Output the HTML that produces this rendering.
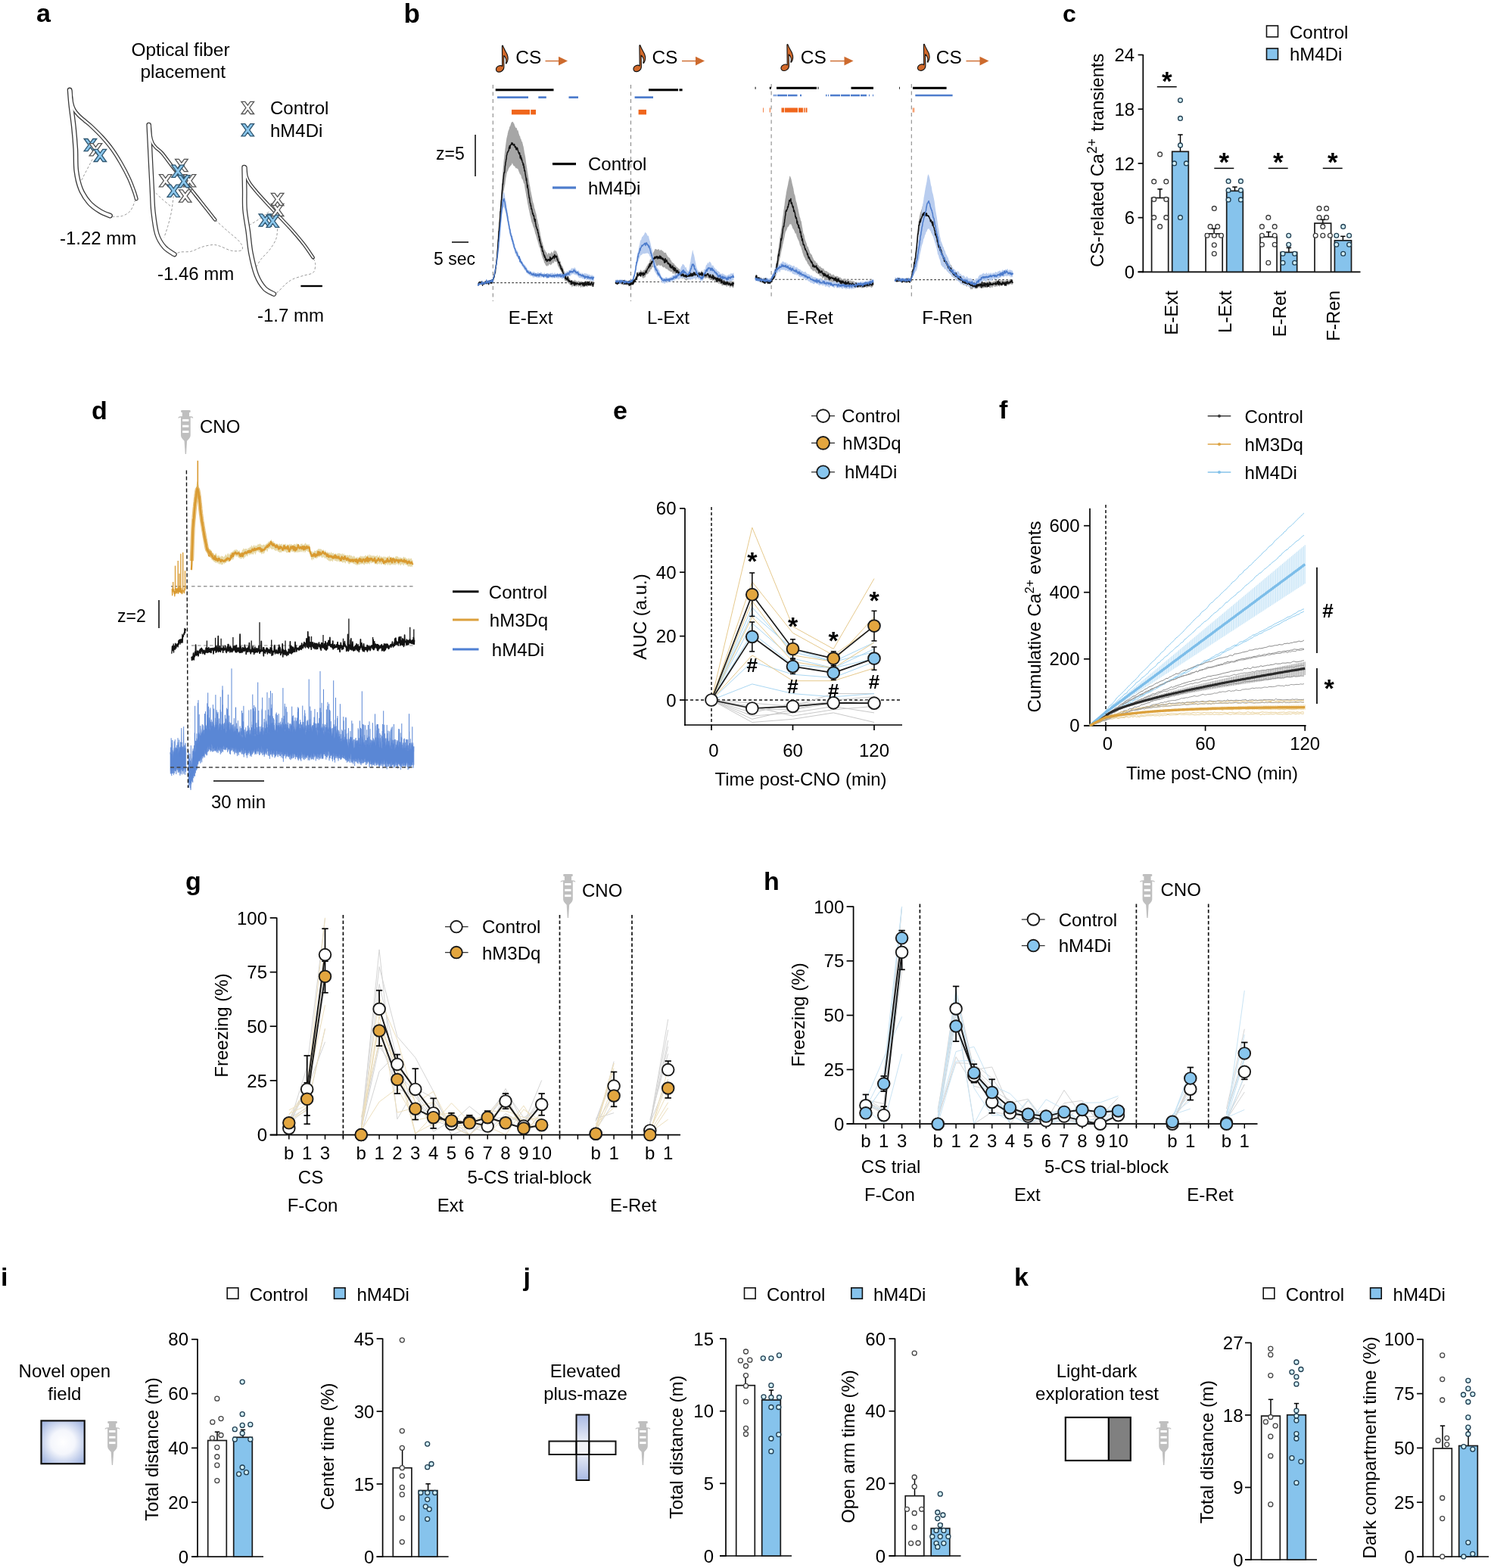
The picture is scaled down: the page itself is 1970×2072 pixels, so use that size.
<!DOCTYPE html>
<html><head><meta charset="utf-8"><title>Figure</title>
<style>
html,body{margin:0;padding:0;background:#fff;}
body{width:1970px;height:2072px;overflow:hidden;}
svg{display:block;}
</style></head><body>
<svg width="1970" height="2072" viewBox="0 0 1970 2072" font-family='"Liberation Sans", Arial, sans-serif'>
<rect width="1970" height="2072" fill="#fff"/>
<g id="panel_a">
<text x="48" y="29" font-size="34" font-weight="bold">a</text>
<text x="238.5" y="74.3" font-size="24.4" text-anchor="middle">Optical fiber</text>
<text x="241.8" y="103.4" font-size="24.4" text-anchor="middle">placement</text>
<path d="M107.7 238.1 C110.1 233.4 119.8 214.8 122.2 210.2" fill="none" stroke="#9a9a9a" stroke-width="1" stroke-dasharray="3.2 2.4"/>
<path d="M148.2 286.3 C150.4 286.1 157.7 286.6 161.7 285.3 C165.7 284 169.4 282 172.3 278.5 C175.2 275 177.9 266.5 179 264.1" fill="none" stroke="#9a9a9a" stroke-width="1" stroke-dasharray="3.2 2.4"/>
<path d="M92.1 119 C92.4 122.3 92.9 130.8 93.8 138.9 C94.7 147 96.4 158.2 97.4 167.8 C98.4 177.4 99.2 187.1 99.8 196.7 C100.4 206.3 99.7 216.8 100.8 225.6 C101.9 234.4 103.7 242.6 106.6 249.7 C109.5 256.8 113.7 263.1 118 268 C122.3 272.9 127.9 276.5 132.5 279.3 C137.1 282.1 143.3 284.1 145.5 285" fill="none" stroke="#3a3a3a" stroke-width="6.8" stroke-linecap="round" stroke-linejoin="round"/>
<path d="M93 119.5 C93.3 122.1 93.8 130.8 94.6 135 C95.4 139.2 96.4 142.1 98 145 C99.6 147.9 101.7 150.1 104 152.5 C106.3 154.9 109.3 157.2 112 159.5 C114.7 161.8 116.5 162.9 120.3 166.5 C124.1 170.1 130 175.7 134.7 180.8 C139.3 185.9 144 191.4 148.2 197.2 C152.4 203 156.1 209.1 159.8 215.5 C163.5 221.9 167.4 229.3 170.3 235.5 C173.2 241.7 175.4 248 177.1 252.6 C178.8 257.1 179.7 261.1 180.2 262.8" fill="none" stroke="#3a3a3a" stroke-width="5" stroke-linecap="round" stroke-linejoin="round"/>
<path d="M92.1 119 C92.4 122.3 92.9 130.8 93.8 138.9 C94.7 147 96.4 158.2 97.4 167.8 C98.4 177.4 99.2 187.1 99.8 196.7 C100.4 206.3 99.7 216.8 100.8 225.6 C101.9 234.4 103.7 242.6 106.6 249.7 C109.5 256.8 113.7 263.1 118 268 C122.3 272.9 127.9 276.5 132.5 279.3 C137.1 282.1 143.3 284.1 145.5 285" fill="none" stroke="#fff" stroke-width="4.2" stroke-linecap="round" stroke-linejoin="round"/>
<path d="M93 119.5 C93.3 122.1 93.8 130.8 94.6 135 C95.4 139.2 96.4 142.1 98 145 C99.6 147.9 101.7 150.1 104 152.5 C106.3 154.9 109.3 157.2 112 159.5 C114.7 161.8 116.5 162.9 120.3 166.5 C124.1 170.1 130 175.7 134.7 180.8 C139.3 185.9 144 191.4 148.2 197.2 C152.4 203 156.1 209.1 159.8 215.5 C163.5 221.9 167.4 229.3 170.3 235.5 C173.2 241.7 175.4 248 177.1 252.6 C178.8 257.1 179.7 261.1 180.2 262.8" fill="none" stroke="#fff" stroke-width="2.5" stroke-linecap="round" stroke-linejoin="round"/>
<path d="M205.8 255.1 C207.2 256.4 210.6 259.9 213.9 262.8 C217.2 265.7 223.5 270.9 225.4 272.5" fill="none" stroke="#9a9a9a" stroke-width="1" stroke-dasharray="3.2 2.4"/>
<path d="M229.3 259 C228.8 262.5 227.7 273.5 226.4 280.2 C225.1 286.9 223.2 293.8 221.6 299.4 C220 305 217.6 311.5 216.8 313.9" fill="none" stroke="#9a9a9a" stroke-width="1" stroke-dasharray="3.2 2.4"/>
<path d="M284.7 290.8 C287.3 293.2 295.4 300.7 300.5 305.2 C305.6 309.7 311.7 314.2 315 317.7 C318.3 321.2 319.8 324.1 320.3 326.4 C320.8 328.6 320.4 330.4 317.9 331.2 C315.4 332 309.9 332.2 305.4 331.2 C300.9 330.2 294.9 326.7 290.9 325.4 C286.9 324.1 285.3 323.3 281.3 323.5 C277.3 323.7 271.6 324.9 266.8 326.4 C262 327.8 257.2 331.1 252.4 332.2 C247.6 333.3 241.5 332.4 238 333.1 C234.5 333.8 232.3 335.9 231.2 336.5" fill="none" stroke="#9a9a9a" stroke-width="1" stroke-dasharray="3.2 2.4"/>
<path d="M196.6 165 C196.8 169.8 197.5 183.9 198 193.5 C198.5 203.1 198.9 212.8 199.4 222.4 C199.9 232 200.4 241.7 200.9 251.3 C201.4 260.9 201.4 270.6 202.5 280.2 C203.6 289.8 204.9 301.4 207.3 309.1 C209.7 316.8 213.1 321.9 217 326.4 C220.9 330.9 228.2 334.6 230.5 336.2" fill="none" stroke="#3a3a3a" stroke-width="6.5" stroke-linecap="round" stroke-linejoin="round"/>
<path d="M197.7 165.5 C197.9 167.9 198.3 176.1 198.9 180 C199.5 183.9 200.3 186.5 201.5 189 C202.7 191.5 203.9 192.8 206 195 C208.1 197.2 210.4 198 214.2 202.3 C217.9 206.6 223.7 214.9 228.5 221 C233.3 227.1 238.2 232.9 243 238.8 C247.8 244.7 252.6 250.5 257.4 256.5 C262.2 262.5 267.2 269 271.7 274.6 C276.2 280.2 282.1 287.8 284.2 290.4" fill="none" stroke="#3a3a3a" stroke-width="4.5" stroke-linecap="round" stroke-linejoin="round"/>
<path d="M196.6 165 C196.8 169.8 197.5 183.9 198 193.5 C198.5 203.1 198.9 212.8 199.4 222.4 C199.9 232 200.4 241.7 200.9 251.3 C201.4 260.9 201.4 270.6 202.5 280.2 C203.6 289.8 204.9 301.4 207.3 309.1 C209.7 316.8 213.1 321.9 217 326.4 C220.9 330.9 228.2 334.6 230.5 336.2" fill="none" stroke="#fff" stroke-width="4" stroke-linecap="round" stroke-linejoin="round"/>
<path d="M197.7 165.5 C197.9 167.9 198.3 176.1 198.9 180 C199.5 183.9 200.3 186.5 201.5 189 C202.7 191.5 203.9 192.8 206 195 C208.1 197.2 210.4 198 214.2 202.3 C217.9 206.6 223.7 214.9 228.5 221 C233.3 227.1 238.2 232.9 243 238.8 C247.8 244.7 252.6 250.5 257.4 256.5 C262.2 262.5 267.2 269 271.7 274.6 C276.2 280.2 282.1 287.8 284.2 290.4" fill="none" stroke="#fff" stroke-width="2" stroke-linecap="round" stroke-linejoin="round"/>
<path d="M329.1 297.6 C330.7 296.7 335.5 294 338.7 291.9 C341.9 289.8 345.4 287.2 348.3 285.1 C351.2 283 354.7 280.3 356 279.3" fill="none" stroke="#9a9a9a" stroke-width="1" stroke-dasharray="3.2 2.4"/>
<path d="M366.6 302.4 C366.3 304.6 366.5 311.2 364.7 315.9 C362.9 320.6 359.2 326.1 356 330.4 C352.8 334.7 348.3 338.2 345.4 341.9 C342.5 345.6 339.8 350.7 338.7 352.5" fill="none" stroke="#9a9a9a" stroke-width="1" stroke-dasharray="3.2 2.4"/>
<path d="M414.3 341.9 C414.7 343.2 416.8 346.6 416.7 349.6 C416.6 352.7 416.4 357.8 413.8 360.2 C411.2 362.6 405.8 362.7 401.3 364.1 C396.8 365.6 390.9 367 386.9 368.9 C382.9 370.8 380.4 372.9 377.2 375.6 C374 378.3 370.3 383.1 367.6 385.3 C364.9 387.6 362 388.5 360.9 389.1" fill="none" stroke="#9a9a9a" stroke-width="1" stroke-dasharray="3.2 2.4"/>
<path d="M322.6 221 C322.7 225.8 323 240.2 323.2 249.6 C323.4 259 322.8 268 323.6 277.4 C324.4 286.8 326.5 296.4 327.8 306 C329.1 315.6 329.6 325.4 331.5 335 C333.4 344.6 335.9 355.8 338.9 363.5 C341.9 371.2 345.7 376.8 349.5 381 C353.3 385.2 359.8 387.2 361.8 388.5" fill="none" stroke="#3a3a3a" stroke-width="6.7" stroke-linecap="round" stroke-linejoin="round"/>
<path d="M324.4 221 C324.6 223 324.6 229.4 325.6 233 C326.6 236.6 327.7 238.8 330.2 242.5 C332.7 246.2 336.5 250.5 340.6 255.3 C344.8 260.1 350.1 265.8 355.1 271.2 C360.1 276.6 365.2 282.1 370.5 287.8 C375.8 293.5 381.8 299.6 386.9 305.4 C392 311.2 396.9 316.9 401.3 322.7 C405.8 328.5 411.6 337.4 413.6 340.3" fill="none" stroke="#3a3a3a" stroke-width="4.5" stroke-linecap="round" stroke-linejoin="round"/>
<path d="M322.6 221 C322.7 225.8 323 240.2 323.2 249.6 C323.4 259 322.8 268 323.6 277.4 C324.4 286.8 326.5 296.4 327.8 306 C329.1 315.6 329.6 325.4 331.5 335 C333.4 344.6 335.9 355.8 338.9 363.5 C341.9 371.2 345.7 376.8 349.5 381 C353.3 385.2 359.8 387.2 361.8 388.5" fill="none" stroke="#fff" stroke-width="4.2" stroke-linecap="round" stroke-linejoin="round"/>
<path d="M324.4 221 C324.6 223 324.6 229.4 325.6 233 C326.6 236.6 327.7 238.8 330.2 242.5 C332.7 246.2 336.5 250.5 340.6 255.3 C344.8 260.1 350.1 265.8 355.1 271.2 C360.1 276.6 365.2 282.1 370.5 287.8 C375.8 293.5 381.8 299.6 386.9 305.4 C392 311.2 396.9 316.9 401.3 322.7 C405.8 328.5 411.6 337.4 413.6 340.3" fill="none" stroke="#fff" stroke-width="2" stroke-linecap="round" stroke-linejoin="round"/>
<path d="M111.1 183.5 L115.9 183.5 L119.4 188.3 L122.9 183.5 L127.7 183.5 L121.8 191.6 L127.7 199.7 L122.9 199.7 L119.4 194.9 L115.9 199.7 L111.1 199.7 L117 191.6Z" fill="#8cc8ee" stroke="#2f5670" stroke-width="1.3" stroke-linejoin="miter"/>
<path d="M118.1 189.7 L122.9 189.7 L126.4 194.5 L129.9 189.7 L134.7 189.7 L128.8 197.8 L134.7 205.9 L129.9 205.9 L126.4 201.1 L122.9 205.9 L118.1 205.9 L124 197.8Z" fill="#fff" stroke="#555" stroke-width="1.3" stroke-linejoin="miter"/>
<path d="M124 197.3 L128.8 197.3 L132.3 202.1 L135.8 197.3 L140.6 197.3 L134.7 205.4 L140.6 213.5 L135.8 213.5 L132.3 208.7 L128.8 213.5 L124 213.5 L129.9 205.4Z" fill="#8cc8ee" stroke="#2f5670" stroke-width="1.3" stroke-linejoin="miter"/>
<path d="M210.4 230.7 L215.2 230.7 L218.7 235.5 L222.2 230.7 L227 230.7 L221.1 238.8 L227 246.9 L222.2 246.9 L218.7 242.1 L215.2 246.9 L210.4 246.9 L216.3 238.8Z" fill="#fff" stroke="#555" stroke-width="1.3" stroke-linejoin="miter"/>
<path d="M231.6 210.4 L236.4 210.4 L239.9 215.2 L243.4 210.4 L248.2 210.4 L242.3 218.5 L248.2 226.6 L243.4 226.6 L239.9 221.8 L236.4 226.6 L231.6 226.6 L237.5 218.5Z" fill="#fff" stroke="#555" stroke-width="1.3" stroke-linejoin="miter"/>
<path d="M242.2 230.7 L247 230.7 L250.5 235.5 L254 230.7 L258.8 230.7 L252.9 238.8 L258.8 246.9 L254 246.9 L250.5 242.1 L247 246.9 L242.2 246.9 L248.1 238.8Z" fill="#fff" stroke="#555" stroke-width="1.3" stroke-linejoin="miter"/>
<path d="M226.7 218.2 L231.5 218.2 L235 223 L238.5 218.2 L243.3 218.2 L237.4 226.3 L243.3 234.4 L238.5 234.4 L235 229.6 L231.5 234.4 L226.7 234.4 L232.6 226.3Z" fill="#8cc8ee" stroke="#2f5670" stroke-width="1.3" stroke-linejoin="miter"/>
<path d="M234.5 231.6 L239.3 231.6 L242.8 236.4 L246.3 231.6 L251.1 231.6 L245.2 239.7 L251.1 247.8 L246.3 247.8 L242.8 243 L239.3 247.8 L234.5 247.8 L240.4 239.7Z" fill="#8cc8ee" stroke="#2f5670" stroke-width="1.3" stroke-linejoin="miter"/>
<path d="M221 244.1 L225.8 244.1 L229.3 248.9 L232.8 244.1 L237.6 244.1 L231.7 252.2 L237.6 260.3 L232.8 260.3 L229.3 255.5 L225.8 260.3 L221 260.3 L226.9 252.2Z" fill="#8cc8ee" stroke="#2f5670" stroke-width="1.3" stroke-linejoin="miter"/>
<path d="M236.4 250.9 L241.2 250.9 L244.7 255.7 L248.2 250.9 L253 250.9 L247.1 259 L253 267.1 L248.2 267.1 L244.7 262.3 L241.2 267.1 L236.4 267.1 L242.3 259Z" fill="#fff" stroke="#555" stroke-width="1.3" stroke-linejoin="miter"/>
<path d="M358.3 269.3 L363.1 269.3 L366.6 274.1 L370.1 269.3 L374.9 269.3 L369 277.4 L374.9 285.5 L370.1 285.5 L366.6 280.7 L363.1 285.5 L358.3 285.5 L364.2 277.4Z" fill="#fff" stroke="#555" stroke-width="1.3" stroke-linejoin="miter"/>
<path d="M358.3 255.3 L363.1 255.3 L366.6 260.1 L370.1 255.3 L374.9 255.3 L369 263.4 L374.9 271.5 L370.1 271.5 L366.6 266.7 L363.1 271.5 L358.3 271.5 L364.2 263.4Z" fill="#fff" stroke="#555" stroke-width="1.3" stroke-linejoin="miter"/>
<path d="M342 282.8 L346.8 282.8 L350.3 287.6 L353.8 282.8 L358.6 282.8 L352.7 290.9 L358.6 299 L353.8 299 L350.3 294.2 L346.8 299 L342 299 L347.9 290.9Z" fill="#8cc8ee" stroke="#2f5670" stroke-width="1.3" stroke-linejoin="miter"/>
<path d="M352.1 284.2 L356.9 284.2 L360.4 289 L363.9 284.2 L368.7 284.2 L362.8 292.3 L368.7 300.4 L363.9 300.4 L360.4 295.6 L356.9 300.4 L352.1 300.4 L358 292.3Z" fill="#8cc8ee" stroke="#2f5670" stroke-width="1.3" stroke-linejoin="miter"/>
<path d="M319 134.3 L323.8 134.3 L327.3 139.1 L330.8 134.3 L335.6 134.3 L329.7 142.4 L335.6 150.5 L330.8 150.5 L327.3 145.7 L323.8 150.5 L319 150.5 L324.9 142.4Z" fill="#fff" stroke="#555" stroke-width="1.3" stroke-linejoin="miter"/>
<path d="M319 163.7 L323.8 163.7 L327.3 168.5 L330.8 163.7 L335.6 163.7 L329.7 171.8 L335.6 179.9 L330.8 179.9 L327.3 175.1 L323.8 179.9 L319 179.9 L324.9 171.8Z" fill="#8cc8ee" stroke="#2f5670" stroke-width="1.3" stroke-linejoin="miter"/>
<text x="357" y="150.5" font-size="24">Control</text>
<text x="357" y="180.5" font-size="24">hM4Di</text>
<text x="79" y="323" font-size="24">-1.22 mm</text>
<text x="208" y="370" font-size="24">-1.46 mm</text>
<text x="340" y="425" font-size="24">-1.7 mm</text>
<line x1="397.4" y1="378" x2="425.9" y2="378" stroke="#000" stroke-width="2.4"/>
</g>
<g id="panel_b">
<text x="533.5" y="30" font-size="35" font-weight="bold">b</text>
<path transform="translate(655 59)" d="M9.3 1.2 C9.0 1.0 8.3 1.2 8.4 2.2 L8.7 28.5 C7.6 27.6 5.6 27.4 3.6 28.3 C0.8 29.6 -0.3 32.3 0.9 34.4 C2.1 36.5 5.4 36.7 8.0 35.0 C10.0 33.7 10.9 31.8 10.9 29.5 L10.6 14.5 C11.6 15.2 13.0 17.0 13.6 19.2 C14.2 21.4 13.7 23.4 13.3 24.6 C13.4 25.0 13.9 25.0 14.2 24.6 C16.4 21.2 16.6 16.8 15.2 13.2 C13.8 9.8 11.2 6.5 9.3 1.2 Z" fill="#d2692a" stroke="#111" stroke-width="1.1" stroke-linejoin="round"/>
<text x="681.3" y="84.3" font-size="24.5">CS</text>
<line x1="720.5" y1="80.6" x2="739" y2="80.6" stroke="#cd6a2d" stroke-width="1.4"/>
<path d="M738 74.8 L750 80.6 L738 86.4 Z" fill="#cd6a2d"/>
<path transform="translate(836.5 58.5)" d="M9.3 1.2 C9.0 1.0 8.3 1.2 8.4 2.2 L8.7 28.5 C7.6 27.6 5.6 27.4 3.6 28.3 C0.8 29.6 -0.3 32.3 0.9 34.4 C2.1 36.5 5.4 36.7 8.0 35.0 C10.0 33.7 10.9 31.8 10.9 29.5 L10.6 14.5 C11.6 15.2 13.0 17.0 13.6 19.2 C14.2 21.4 13.7 23.4 13.3 24.6 C13.4 25.0 13.9 25.0 14.2 24.6 C16.4 21.2 16.6 16.8 15.2 13.2 C13.8 9.8 11.2 6.5 9.3 1.2 Z" fill="#d2692a" stroke="#111" stroke-width="1.1" stroke-linejoin="round"/>
<text x="861.4" y="84.3" font-size="24.5">CS</text>
<line x1="901" y1="80.6" x2="920" y2="80.6" stroke="#cd6a2d" stroke-width="1.4"/>
<path d="M919 74.8 L931 80.6 L919 86.4 Z" fill="#cd6a2d"/>
<path transform="translate(1031.5 57.4)" d="M9.3 1.2 C9.0 1.0 8.3 1.2 8.4 2.2 L8.7 28.5 C7.6 27.6 5.6 27.4 3.6 28.3 C0.8 29.6 -0.3 32.3 0.9 34.4 C2.1 36.5 5.4 36.7 8.0 35.0 C10.0 33.7 10.9 31.8 10.9 29.5 L10.6 14.5 C11.6 15.2 13.0 17.0 13.6 19.2 C14.2 21.4 13.7 23.4 13.3 24.6 C13.4 25.0 13.9 25.0 14.2 24.6 C16.4 21.2 16.6 16.8 15.2 13.2 C13.8 9.8 11.2 6.5 9.3 1.2 Z" fill="#d2692a" stroke="#111" stroke-width="1.1" stroke-linejoin="round"/>
<text x="1057.8" y="84.3" font-size="24.5">CS</text>
<line x1="1097" y1="80.6" x2="1116.5" y2="80.6" stroke="#cd6a2d" stroke-width="1.4"/>
<path d="M1115.5 74.8 L1127.5 80.6 L1115.5 86.4 Z" fill="#cd6a2d"/>
<path transform="translate(1212 57.2)" d="M9.3 1.2 C9.0 1.0 8.3 1.2 8.4 2.2 L8.7 28.5 C7.6 27.6 5.6 27.4 3.6 28.3 C0.8 29.6 -0.3 32.3 0.9 34.4 C2.1 36.5 5.4 36.7 8.0 35.0 C10.0 33.7 10.9 31.8 10.9 29.5 L10.6 14.5 C11.6 15.2 13.0 17.0 13.6 19.2 C14.2 21.4 13.7 23.4 13.3 24.6 C13.4 25.0 13.9 25.0 14.2 24.6 C16.4 21.2 16.6 16.8 15.2 13.2 C13.8 9.8 11.2 6.5 9.3 1.2 Z" fill="#d2692a" stroke="#111" stroke-width="1.1" stroke-linejoin="round"/>
<text x="1236.8" y="84.3" font-size="24.5">CS</text>
<line x1="1276.5" y1="80.6" x2="1295.5" y2="80.6" stroke="#cd6a2d" stroke-width="1.4"/>
<path d="M1294.5 74.8 L1306.5 80.6 L1294.5 86.4 Z" fill="#cd6a2d"/>
<line x1="651.3" y1="112" x2="651.3" y2="398" stroke="#8a8a8a" stroke-width="1.1" stroke-dasharray="5 4.5"/>
<line x1="833.5" y1="112" x2="833.5" y2="398" stroke="#8a8a8a" stroke-width="1.1" stroke-dasharray="5 4.5"/>
<line x1="1019.1" y1="111" x2="1019.1" y2="396" stroke="#8a8a8a" stroke-width="1.1" stroke-dasharray="5 4.5"/>
<line x1="1204.3" y1="111" x2="1204.3" y2="396" stroke="#8a8a8a" stroke-width="1.1" stroke-dasharray="5 4.5"/>
<line x1="651.3" y1="373.6" x2="785" y2="373.6" stroke="#444" stroke-width="1.1" stroke-dasharray="2.6 2.4"/>
<line x1="833.5" y1="372.5" x2="969.5" y2="372.5" stroke="#444" stroke-width="1.1" stroke-dasharray="2.6 2.4"/>
<line x1="1019.1" y1="369.3" x2="1154" y2="369.3" stroke="#444" stroke-width="1.1" stroke-dasharray="2.6 2.4"/>
<line x1="1204.3" y1="369.6" x2="1338.5" y2="369.6" stroke="#444" stroke-width="1.1" stroke-dasharray="2.6 2.4"/>
<rect x="654.7" y="117.3" width="76.8" height="3" fill="#000"/>
<rect x="657" y="127.3" width="41" height="2.7" fill="#4d7ccc"/>
<rect x="711.3" y="127.3" width="10.5" height="2.7" fill="#4d7ccc"/>
<rect x="751.5" y="127.3" width="12.5" height="2.7" fill="#4d7ccc"/>
<rect x="676" y="144.9" width="24" height="6.5" fill="#f0661c"/>
<rect x="701.2" y="144.9" width="6.8" height="6.5" fill="#f0661c"/>
<rect x="857" y="117.3" width="39" height="3" fill="#000"/>
<rect x="897.5" y="117.3" width="4.1" height="3" fill="#000"/>
<rect x="838.6" y="127.3" width="24.4" height="2.7" fill="#4d7ccc"/>
<rect x="843.6" y="144.9" width="10.4" height="6.5" fill="#f0661c"/>
<rect x="997.6" y="114.8" width="1" height="3" fill="#000"/>
<rect x="1016.8" y="114.8" width="2" height="3" fill="#000"/>
<rect x="1026" y="114.8" width="53" height="3" fill="#000"/>
<rect x="1080.5" y="114.8" width="1" height="3" fill="#000"/>
<rect x="1124.5" y="114.8" width="29.5" height="3" fill="#000"/>
<rect x="1022" y="124.8" width="1.5" height="2.5" fill="#4d7ccc"/>
<rect x="1024.5" y="124.8" width="1.5" height="2.5" fill="#4d7ccc"/>
<rect x="1027" y="124.8" width="13" height="2.5" fill="#4d7ccc"/>
<rect x="1041" y="124.8" width="12.5" height="2.5" fill="#4d7ccc"/>
<rect x="1057" y="124.8" width="2" height="2.5" fill="#4d7ccc"/>
<rect x="1091" y="124.8" width="1.5" height="2.5" fill="#4d7ccc"/>
<rect x="1094" y="124.8" width="1" height="2.5" fill="#4d7ccc"/>
<rect x="1097" y="124.8" width="13" height="2.5" fill="#4d7ccc"/>
<rect x="1111" y="124.8" width="12" height="2.5" fill="#4d7ccc"/>
<rect x="1124" y="124.8" width="12" height="2.5" fill="#4d7ccc"/>
<rect x="1137" y="124.8" width="8" height="2.5" fill="#4d7ccc"/>
<rect x="1148" y="124.8" width="1" height="2.5" fill="#4d7ccc"/>
<rect x="1153" y="124.8" width="1" height="2.5" fill="#4d7ccc"/>
<rect x="1008" y="142.5" width="0.8" height="6" fill="#f0661c"/>
<rect x="1016.8" y="142.5" width="1" height="6" fill="#f0661c"/>
<rect x="1032.5" y="142.5" width="3.5" height="6" fill="#f0661c"/>
<rect x="1036.8" y="142.5" width="17.2" height="6" fill="#f0661c"/>
<rect x="1055" y="142.5" width="6" height="6" fill="#f0661c"/>
<rect x="1062" y="142.5" width="1.5" height="6" fill="#f0661c"/>
<rect x="1064.5" y="142.5" width="2" height="6" fill="#f0661c"/>
<rect x="1188.2" y="114.8" width="0.8" height="3" fill="#000"/>
<rect x="1206" y="114.8" width="44.6" height="3" fill="#000"/>
<rect x="1209.3" y="124.8" width="49.3" height="2.5" fill="#4d7ccc"/>
<rect x="1205.8" y="142.5" width="0.8" height="6" fill="#f0661c"/>
<rect x="1207.4" y="142.5" width="0.8" height="6" fill="#f0661c"/>
<path d="M631.6 374.8 L632 374.6 L632.3 374.6 L632.7 373.8 L633 372.8 L633.4 372.5 L633.7 371.8 L634.1 371.7 L634.4 372.3 L634.8 373.2 L635.1 373.9 L635.5 373.7 L635.8 372.9 L636.2 373.1 L636.5 373.2 L636.9 374.2 L637.2 374.6 L637.6 374.4 L637.9 373.7 L638.3 372.7 L638.6 372.3 L639 372.5 L639.3 373 L639.7 373.2 L640 373.6 L640.4 373.6 L640.7 373.6 L641.1 372.8 L641.4 372.5 L641.8 372.1 L642.1 371.7 L642.5 371.8 L642.8 371.9 L643.2 372.2 L643.5 372.5 L643.9 372.6 L644.2 373.2 L644.6 372.6 L644.9 373.3 L645.3 372.9 L645.6 372.2 L646 372 L646.3 371.7 L646.7 371.6 L647 371.1 L647.4 371.2 L647.7 371.4 L648.1 371.1 L648.4 371.2 L648.8 372.3 L649.1 372.9 L649.5 373.1 L649.8 372.7 L650.2 370.9 L650.5 369.6 L650.9 368.6 L651.2 367.8 L651.6 367.5 L651.9 366.8 L652.3 366.3 L652.6 364.3 L653 362.2 L653.3 361 L653.7 359.7 L654 358.4 L654.4 356 L654.7 353.7 L655.1 350.8 L655.4 348.4 L655.8 344.9 L656.1 340.5 L656.5 335.2 L656.8 330.5 L657.2 326 L657.5 322 L657.9 317.4 L658.2 312.8 L658.6 307.1 L658.9 301.5 L659.3 296.9 L659.6 292.4 L660 288.6 L660.3 283.2 L660.7 278.8 L661 272.9 L661.4 267.8 L661.7 261.4 L662.1 256.6 L662.4 251.8 L662.8 247.5 L663.1 242.3 L663.5 237.3 L663.8 233.1 L664.2 228.8 L664.5 224.9 L664.9 220.3 L665.2 217.4 L665.6 213.1 L665.9 210.2 L666.3 207.2 L666.6 204.3 L667 200.8 L667.3 197.6 L667.7 195.1 L668 192.7 L668.4 189.7 L668.7 187.2 L669.1 184.8 L669.4 182.4 L669.8 181.3 L670.1 179.5 L670.5 178.6 L670.8 175.9 L671.2 175.1 L671.5 173 L671.9 172.4 L672.2 171.5 L672.6 170.8 L672.9 169.2 L673.3 167.8 L673.6 167 L674 167 L674.3 165.9 L674.7 164.8 L675 163.7 L675.4 162.5 L675.7 161.9 L676.1 160.9 L676.4 161.3 L676.8 161.2 L677.1 161.6 L677.5 160.7 L677.8 161.1 L678.2 161.5 L678.5 162.7 L678.9 163.1 L679.2 163.3 L679.6 164.4 L679.9 165.4 L680.3 166.7 L680.6 167 L681 168 L681.3 168.7 L681.7 169.1 L682 168.9 L682.4 168.5 L682.7 169.4 L683.1 170.3 L683.4 172 L683.8 172.5 L684.1 172.2 L684.5 172.3 L684.8 173.7 L685.2 175.3 L685.5 176.7 L685.9 177.4 L686.2 178.9 L686.6 179.6 L686.9 180 L687.3 180.6 L687.6 182.4 L688 183.5 L688.3 183.6 L688.7 184.4 L689 185.8 L689.4 187.3 L689.7 187.3 L690.1 187.5 L690.4 189.2 L690.8 190.6 L691.1 192.3 L691.5 193.2 L691.8 194.5 L692.2 196.9 L692.5 198.7 L692.9 201.4 L693.2 202.7 L693.6 204.7 L693.9 206.2 L694.3 208.5 L694.6 211 L695 213.8 L695.3 216.7 L695.7 218.6 L696 220.9 L696.4 222.7 L696.7 226 L697.1 227.7 L697.4 229.6 L697.8 231.5 L698.1 234 L698.5 236.4 L698.8 238.4 L699.2 240.4 L699.5 243 L699.9 244.4 L700.2 246 L700.6 247.9 L700.9 250.6 L701.3 252.8 L701.6 253.8 L702 255.9 L702.3 257.6 L702.7 259.4 L703 261 L703.4 263.1 L703.7 265.4 L704.1 266.6 L704.4 267.8 L704.8 268.5 L705.1 269.7 L705.5 271.1 L705.8 273.2 L706.2 274.9 L706.5 275.8 L706.9 276.8 L707.2 278 L707.6 279.8 L707.9 281.2 L708.3 282.1 L708.6 283.2 L709 285.2 L709.3 287.4 L709.7 289.6 L710 290.3 L710.4 291.7 L710.7 293.4 L711.1 294.9 L711.4 296.2 L711.8 296.8 L712.1 299.7 L712.5 301.7 L712.8 303.7 L713.2 304.9 L713.5 306.5 L713.9 308.7 L714.2 310.7 L714.6 312.7 L714.9 314.1 L715.3 315.5 L715.6 317.1 L716 318.9 L716.3 319.4 L716.7 320.6 L717 321.5 L717.4 323.6 L717.7 324.6 L718.1 325.7 L718.4 326.9 L718.8 328.2 L719.1 329.3 L719.5 329.7 L719.8 330.2 L720.2 330.8 L720.5 331.3 L720.9 332.3 L721.2 332.9 L721.6 333.4 L721.9 333.2 L722.3 333.6 L722.6 334.3 L723 336 L723.3 336.5 L723.7 336.3 L724 335.1 L724.4 334.3 L724.7 334.2 L725.1 334.2 L725.4 334.5 L725.8 334.4 L726.1 334.8 L726.5 335 L726.8 335.9 L727.2 335 L727.5 334.9 L727.9 333.8 L728.2 333.6 L728.6 333 L728.9 332.3 L729.3 332.8 L729.6 333.8 L730 334.7 L730.3 335.2 L730.7 334.3 L731 332.9 L731.4 332.1 L731.7 331.4 L732.1 332 L732.4 331.1 L732.8 330 L733.1 330.5 L733.5 331.4 L733.8 332.3 L734.2 331.5 L734.5 331.4 L734.9 331.2 L735.2 332.4 L735.6 333.1 L735.9 334.4 L736.3 334.8 L736.6 335.6 L737 336.6 L737.3 337.5 L737.7 338.9 L738 339.8 L738.4 340.8 L738.7 341 L739.1 342.3 L739.4 343.8 L739.8 345.3 L740.1 345 L740.5 345.2 L740.8 346.2 L741.2 347.9 L741.5 349.4 L741.9 349.7 L742.2 350.9 L742.6 351.5 L742.9 351.6 L743.3 352 L743.6 352.5 L744 354.1 L744.3 354.8 L744.7 356.4 L745 357.5 L745.4 359.1 L745.7 358.8 L746.1 358.8 L746.4 359 L746.8 360.4 L747.1 361.5 L747.5 362.5 L747.8 363.2 L748.2 363.7 L748.5 363.9 L748.9 363.6 L749.2 364.6 L749.6 365.7 L749.9 366.6 L750.3 366.3 L750.6 365.6 L751 365.6 L751.3 366.5 L751.7 366.8 L752 367.8 L752.4 367.2 L752.7 367.8 L753.1 368.1 L753.4 369.6 L753.8 369.8 L754.1 369.9 L754.5 370.5 L754.8 371.4 L755.2 370.5 L755.5 369.8 L755.9 370.5 L756.2 371.1 L756.6 371.5 L756.9 369.8 L757.3 371 L757.6 370.3 L758 371.5 L758.3 371.3 L758.7 370.6 L759 369.7 L759.4 369.5 L759.7 370 L760.1 370.7 L760.4 370.2 L760.8 371.4 L761.1 371.2 L761.5 371.3 L761.8 371 L762.2 371.8 L762.5 372.1 L762.9 372 L763.2 371.7 L763.6 371.7 L763.9 371.1 L764.3 371.2 L764.6 371.3 L765 371.2 L765.3 371.4 L765.7 371.8 L766 372.4 L766.4 371.8 L766.7 371.6 L767.1 371.8 L767.4 372.3 L767.8 372.1 L768.1 371.5 L768.5 371.4 L768.8 371.8 L769.2 372.5 L769.5 371.9 L769.9 372.2 L770.2 372.5 L770.6 373.4 L770.9 373 L771.3 372.7 L771.6 371.8 L772 371.5 L772.3 372 L772.7 371.8 L773 371.5 L773.4 371 L773.7 371.4 L774.1 371.6 L774.4 370.9 L774.8 371.8 L775.1 371.8 L775.5 372.1 L775.8 370.7 L776.2 371.2 L776.5 371.3 L776.9 372.2 L777.2 372.5 L777.6 372.6 L777.9 371.9 L778.3 370.9 L778.6 370.8 L779 371.8 L779.3 371.7 L779.7 371.6 L780 371 L780.4 371.7 L780.7 371.5 L781.1 371.6 L781.4 371.7 L781.8 372 L782.1 371.8 L782.5 371.8 L782.8 372 L783.2 372.5 L783.5 371.8 L783.9 372.1 L784.2 371.5 L784.6 372.1 L784.6 376.5 L784.2 377.2 L783.9 376.8 L783.5 377.2 L783.2 376.6 L782.8 378 L782.5 378.4 L782.1 378.9 L781.8 378.4 L781.4 378.3 L781.1 377.9 L780.7 377.9 L780.4 377.7 L780 378.2 L779.7 378.2 L779.3 378 L779 377.8 L778.6 377.1 L778.3 377.6 L777.9 377.3 L777.6 377.2 L777.2 377.3 L776.9 377.5 L776.5 379 L776.2 379 L775.8 379.4 L775.5 378.5 L775.1 378.4 L774.8 378 L774.4 378.5 L774.1 377.9 L773.7 378.6 L773.4 378.3 L773 378.7 L772.7 378.9 L772.3 379.4 L772 379 L771.6 378.8 L771.3 378.4 L770.9 379 L770.6 379.7 L770.2 379.8 L769.9 380 L769.5 378.7 L769.2 378.5 L768.8 378.6 L768.5 378.6 L768.1 379.3 L767.8 379.4 L767.4 380.5 L767.1 380.1 L766.7 379.2 L766.4 378.2 L766 377.6 L765.7 377.8 L765.3 377.8 L765 379 L764.6 379.5 L764.3 379.1 L763.9 378.2 L763.6 377.5 L763.2 378 L762.9 378.5 L762.5 378 L762.2 378.2 L761.8 378.1 L761.5 378.9 L761.1 378.4 L760.8 378.6 L760.4 377.7 L760.1 378.4 L759.7 377.9 L759.4 378.9 L759 378.2 L758.7 378.6 L758.3 378.1 L758 377.9 L757.6 377.5 L757.3 378.4 L756.9 377.9 L756.6 378.2 L756.2 378.6 L755.9 379.9 L755.5 378.9 L755.2 377.9 L754.8 376.5 L754.5 376.6 L754.1 376.3 L753.8 376.9 L753.4 376.6 L753.1 376.2 L752.7 376 L752.4 375.9 L752 375.2 L751.7 375.3 L751.3 374.6 L751 374.2 L750.6 373.6 L750.3 373.6 L749.9 373.2 L749.6 372.7 L749.2 372.4 L748.9 372.3 L748.5 371.6 L748.2 371.3 L747.8 371.4 L747.5 372 L747.1 371.7 L746.8 371.6 L746.4 371.1 L746.1 370.5 L745.7 370.1 L745.4 368.3 L745 367.4 L744.7 367 L744.3 365.7 L744 364.6 L743.6 363 L743.3 363 L742.9 363 L742.6 362.5 L742.2 361.4 L741.9 359.8 L741.5 358.7 L741.2 358.6 L740.8 357.7 L740.5 356.8 L740.1 355.8 L739.8 355.7 L739.4 355.4 L739.1 354.8 L738.7 354 L738.4 353.4 L738 352.8 L737.7 352.6 L737.3 351.9 L737 350.8 L736.6 350.1 L736.3 348.5 L735.9 347.2 L735.6 345.9 L735.2 345.8 L734.9 346 L734.5 346 L734.2 345.6 L733.8 346.3 L733.5 345.8 L733.1 345.2 L732.8 344.9 L732.4 344.9 L732.1 346.4 L731.7 347.6 L731.4 348 L731 347.8 L730.7 346.6 L730.3 347.2 L730 347.7 L729.6 348.4 L729.3 348.6 L728.9 348.8 L728.6 349.6 L728.2 349.9 L727.9 350.4 L727.5 350.2 L727.2 349.8 L726.8 349.9 L726.5 348.9 L726.1 349 L725.8 348.8 L725.4 349.5 L725.1 350.5 L724.7 350.9 L724.4 350.9 L724 350.5 L723.7 350.8 L723.3 351.3 L723 352.7 L722.6 351.6 L722.3 351.6 L721.9 351 L721.6 351.1 L721.2 350.9 L720.9 350.1 L720.5 349.8 L720.2 348.4 L719.8 347.9 L719.5 347.3 L719.1 347.7 L718.8 346 L718.4 344.2 L718.1 343.2 L717.7 342.6 L717.4 342.6 L717 341.2 L716.7 340.6 L716.3 339.1 L716 338 L715.6 336.7 L715.3 336.1 L714.9 334.3 L714.6 332.9 L714.2 331.2 L713.9 329.8 L713.5 328.2 L713.2 326.9 L712.8 326.7 L712.5 326.2 L712.1 325.3 L711.8 323.4 L711.4 322.4 L711.1 321.1 L710.7 320.2 L710.4 318.2 L710 317.5 L709.7 316.5 L709.3 315.7 L709 313.9 L708.6 312.6 L708.3 311.4 L707.9 310.2 L707.6 309.6 L707.2 308.5 L706.9 307.3 L706.5 305.6 L706.2 304.1 L705.8 302.9 L705.5 301.6 L705.1 300.7 L704.8 300.4 L704.4 299 L704.1 298.5 L703.7 296.6 L703.4 296.1 L703 294.6 L702.7 294.3 L702.3 293 L702 291.5 L701.6 289.6 L701.3 288.1 L700.9 286.7 L700.6 285.2 L700.2 284.3 L699.9 282 L699.5 280.5 L699.2 278.3 L698.8 277.3 L698.5 275.4 L698.1 273.5 L697.8 271.8 L697.4 270.2 L697.1 268.7 L696.7 266.5 L696.4 264.2 L696 262.5 L695.7 260.7 L695.3 259.1 L695 256.4 L694.6 254.6 L694.3 252.4 L693.9 251.1 L693.6 249 L693.2 246.2 L692.9 243.6 L692.5 242.5 L692.2 242.4 L691.8 242.1 L691.5 240.6 L691.1 239.3 L690.8 238 L690.4 237.1 L690.1 236.7 L689.7 236.3 L689.4 235.9 L689 234.5 L688.7 233.1 L688.3 231.7 L688 231 L687.6 230.5 L687.3 230.6 L686.9 230.2 L686.6 229.3 L686.2 228.3 L685.9 227.2 L685.5 226.8 L685.2 225.8 L684.8 224.5 L684.5 223.9 L684.1 223 L683.8 223.2 L683.4 222.6 L683.1 223.1 L682.7 222.5 L682.4 221.8 L682 221.9 L681.7 222.3 L681.3 222.6 L681 221.2 L680.6 220.8 L680.3 219.7 L679.9 219.9 L679.6 219.1 L679.2 219.7 L678.9 218.9 L678.5 218.9 L678.2 218.2 L677.8 217.9 L677.5 216.8 L677.1 215.9 L676.8 215.3 L676.4 216.4 L676.1 217.2 L675.7 218.3 L675.4 217.9 L675 218.8 L674.7 219.1 L674.3 219.6 L674 219.7 L673.6 220.5 L673.3 220.7 L672.9 221.5 L672.6 221.8 L672.2 222.5 L671.9 223.4 L671.5 224 L671.2 225.7 L670.8 225.7 L670.5 226.8 L670.1 227.1 L669.8 228.5 L669.4 230.1 L669.1 232 L668.7 234 L668.4 235.5 L668 237.9 L667.7 240.3 L667.3 243.8 L667 245.2 L666.6 247 L666.3 248.4 L665.9 251.4 L665.6 252.1 L665.2 253.9 L664.9 255.8 L664.5 258.8 L664.2 261.8 L663.8 265.1 L663.5 268.3 L663.1 271.9 L662.8 274.5 L662.4 278.2 L662.1 281.4 L661.7 285 L661.4 289.2 L661 293 L660.7 296.6 L660.3 300.2 L660 303.8 L659.6 308.5 L659.3 312.2 L658.9 316.3 L658.6 320.3 L658.2 324.6 L657.9 329.1 L657.5 334.5 L657.2 338.2 L656.8 342.1 L656.5 344.9 L656.1 348.3 L655.8 350.7 L655.4 354 L655.1 357.5 L654.7 361 L654.4 362.5 L654 363.9 L653.7 363.6 L653.3 365 L653 366 L652.6 367.8 L652.3 368.9 L651.9 369.6 L651.6 370.8 L651.2 371.2 L650.9 372.5 L650.5 372.5 L650.2 373 L649.8 372.3 L649.5 373.1 L649.1 372.9 L648.8 373.2 L648.4 373.1 L648.1 372.9 L647.7 373.1 L647.4 373.5 L647 374 L646.7 373.8 L646.3 374.3 L646 374.5 L645.6 374.8 L645.3 374.3 L644.9 374.8 L644.6 374.5 L644.2 374.4 L643.9 373.9 L643.5 374.2 L643.2 373.9 L642.8 374.6 L642.5 374.1 L642.1 374.7 L641.8 373.5 L641.4 373.7 L641.1 373.8 L640.7 374 L640.4 375.1 L640 374.6 L639.7 375.6 L639.3 375.5 L639 375.1 L638.6 374.5 L638.3 373.7 L637.9 374.4 L637.6 375.3 L637.2 376.2 L636.9 376.5 L636.5 375.6 L636.2 374.1 L635.8 373.8 L635.5 373.7 L635.1 375.1 L634.8 375 L634.4 375.9 L634.1 375.1 L633.7 374.4 L633.4 374.5 L633 375 L632.7 375.4 L632.3 374.8 L632 374.4 L631.6 374.6Z" fill="#a6a6a6"/>
<path d="M631.6 373.8 L632 374.7 L632.3 374 L632.7 374.7 L633 372.9 L633.4 373.4 L633.7 373.8 L634.1 374.6 L634.4 374.4 L634.8 373.6 L635.1 373.8 L635.5 374.4 L635.8 374.4 L636.2 373.4 L636.5 373 L636.9 373.5 L637.2 375.2 L637.6 375 L637.9 374.6 L638.3 373.4 L638.6 373.5 L639 374.1 L639.3 373.8 L639.7 373.5 L640 372.2 L640.4 372.3 L640.7 372.1 L641.1 372.6 L641.4 372.5 L641.8 372.4 L642.1 372.6 L642.5 373.1 L642.8 373.4 L643.2 373 L643.5 372.6 L643.9 372.4 L644.2 372.4 L644.6 372.4 L644.9 372.5 L645.3 372.2 L645.6 372.5 L646 372 L646.3 372.2 L646.7 371.5 L647 371.2 L647.4 370.3 L647.7 371 L648.1 371.4 L648.4 371.9 L648.8 371.6 L649.1 370.9 L649.5 370.8 L649.8 370.3 L650.2 369.7 L650.5 369.5 L650.9 369 L651.2 369.7 L651.6 368.8 L651.9 367.9 L652.3 366.3 L652.6 365 L653 362.9 L653.3 360.5 L653.7 358 L654 357.1 L654.4 354.3 L654.7 352.1 L655.1 348.1 L655.4 346.1 L655.8 344.9 L656.1 343.8 L656.5 341.3 L656.8 337.9 L657.2 335 L657.5 332.2 L657.9 329.7 L658.2 327.1 L658.6 323.9 L658.9 319.5 L659.3 314 L659.6 308.2 L660 303.6 L660.3 299.8 L660.7 296.2 L661 291.6 L661.4 287.6 L661.7 283.7 L662.1 279.8 L662.4 275.8 L662.8 271.6 L663.1 267.6 L663.5 264.3 L663.8 261.2 L664.2 259.5 L664.5 257.1 L664.9 255.6 L665.2 254.5 L665.6 253.9 L665.9 254.3 L666.3 254.6 L666.6 256.4 L667 258.4 L667.3 261.2 L667.7 263.2 L668 264.4 L668.4 265.2 L668.7 266.3 L669.1 269.2 L669.4 272.1 L669.8 275.2 L670.1 277.3 L670.5 279.4 L670.8 281.7 L671.2 284 L671.5 286.2 L671.9 287.8 L672.2 290.2 L672.6 292.8 L672.9 294.6 L673.3 296.1 L673.6 297 L674 299.7 L674.3 301.4 L674.7 304.1 L675 305.9 L675.4 307.2 L675.7 307.7 L676.1 308.4 L676.4 310.2 L676.8 311.3 L677.1 313.1 L677.5 313.6 L677.8 315.8 L678.2 317.1 L678.5 318.6 L678.9 319.2 L679.2 320.3 L679.6 322.2 L679.9 322.5 L680.3 323.6 L680.6 325.2 L681 327.1 L681.3 327.4 L681.7 328.1 L682 329.2 L682.4 330.6 L682.7 331.1 L683.1 331.2 L683.4 331.6 L683.8 331.6 L684.1 332.4 L684.5 333.3 L684.8 334.1 L685.2 335.9 L685.5 337 L685.9 338.5 L686.2 338 L686.6 338.4 L686.9 338.7 L687.3 340.2 L687.6 341.3 L688 341.7 L688.3 342 L688.7 343 L689 344.9 L689.4 346.8 L689.7 346.9 L690.1 346.3 L690.4 346.1 L690.8 346.9 L691.1 348.4 L691.5 348.7 L691.8 348.7 L692.2 348.9 L692.5 349.2 L692.9 349.6 L693.2 349.9 L693.6 350.6 L693.9 351 L694.3 351.1 L694.6 351.5 L695 352.4 L695.3 352.6 L695.7 353.5 L696 353.9 L696.4 354.5 L696.7 355.2 L697.1 355.4 L697.4 356.4 L697.8 356.7 L698.1 357.3 L698.5 357.5 L698.8 356.9 L699.2 357.4 L699.5 357.1 L699.9 357.5 L700.2 357.7 L700.6 357.9 L700.9 358.4 L701.3 358.5 L701.6 359.3 L702 359.5 L702.3 359.9 L702.7 359.2 L703 359 L703.4 358.9 L703.7 359.8 L704.1 360.2 L704.4 359.8 L704.8 359 L705.1 358.5 L705.5 359.3 L705.8 359.4 L706.2 359.8 L706.5 359.7 L706.9 360.3 L707.2 360.2 L707.6 360.8 L707.9 360.8 L708.3 361.2 L708.6 360.8 L709 360.7 L709.3 360.9 L709.7 360.5 L710 360.3 L710.4 359.6 L710.7 359.9 L711.1 360.3 L711.4 360.6 L711.8 360.3 L712.1 360.2 L712.5 360.6 L712.8 361.2 L713.2 361.3 L713.5 361.1 L713.9 359.9 L714.2 359.6 L714.6 359.2 L714.9 359.6 L715.3 360.4 L715.6 359.8 L716 360.4 L716.3 360.4 L716.7 362.2 L717 361.8 L717.4 361.7 L717.7 361.5 L718.1 362.1 L718.4 361.5 L718.8 360.8 L719.1 360 L719.5 360.4 L719.8 360.8 L720.2 361.9 L720.5 362.1 L720.9 362.2 L721.2 362.1 L721.6 361.6 L721.9 361.5 L722.3 361.5 L722.6 361.8 L723 361.1 L723.3 360.8 L723.7 361 L724 361.7 L724.4 360.9 L724.7 360.7 L725.1 361.3 L725.4 362.5 L725.8 362.6 L726.1 361.7 L726.5 361.1 L726.8 360.8 L727.2 360.7 L727.5 360.8 L727.9 360.7 L728.2 360.9 L728.6 361 L728.9 361 L729.3 360.8 L729.6 360.1 L730 360.6 L730.3 360.9 L730.7 361.3 L731 361.3 L731.4 361.4 L731.7 361.9 L732.1 361.4 L732.4 361 L732.8 360.2 L733.1 359.9 L733.5 360.5 L733.8 361.4 L734.2 362.6 L734.5 362.5 L734.9 362 L735.2 361.6 L735.6 361.1 L735.9 361.8 L736.3 360.8 L736.6 361.2 L737 360.4 L737.3 361.6 L737.7 361.9 L738 361.9 L738.4 362.2 L738.7 362.1 L739.1 361.7 L739.4 361.9 L739.8 361 L740.1 361.1 L740.5 360.7 L740.8 360.9 L741.2 361.5 L741.5 361.1 L741.9 361 L742.2 361.5 L742.6 362.1 L742.9 362.5 L743.3 362.5 L743.6 361.8 L744 361.8 L744.3 361 L744.7 360.4 L745 360 L745.4 359.6 L745.7 360.2 L746.1 360.2 L746.4 360.1 L746.8 360.3 L747.1 360.2 L747.5 361 L747.8 360.1 L748.2 359.6 L748.5 358.4 L748.9 358.4 L749.2 358.3 L749.6 358.4 L749.9 358.9 L750.3 359 L750.6 358.6 L751 357.9 L751.3 357.2 L751.7 357.2 L752 356.7 L752.4 356.7 L752.7 356.8 L753.1 357.1 L753.4 356.9 L753.8 356.2 L754.1 355.6 L754.5 355.3 L754.8 355.3 L755.2 354.6 L755.5 354.4 L755.9 353.6 L756.2 354.4 L756.6 354.6 L756.9 355.4 L757.3 354.4 L757.6 354.1 L758 354.2 L758.3 354.5 L758.7 354.1 L759 353.6 L759.4 353 L759.7 354 L760.1 354.5 L760.4 355.1 L760.8 355.3 L761.1 355.9 L761.5 356.9 L761.8 357.2 L762.2 357.6 L762.5 357.8 L762.9 358.3 L763.2 357.9 L763.6 357.8 L763.9 357.4 L764.3 357.3 L764.6 358.1 L765 358.2 L765.3 359 L765.7 359.3 L766 360.5 L766.4 361.3 L766.7 361.2 L767.1 360.7 L767.4 360.1 L767.8 360.3 L768.1 361.2 L768.5 361.9 L768.8 362.2 L769.2 361 L769.5 360.3 L769.9 360.5 L770.2 361.8 L770.6 361.6 L770.9 362.3 L771.3 361.1 L771.6 361.9 L772 360.9 L772.3 361.4 L772.7 360.4 L773 361.2 L773.4 361.5 L773.7 362.1 L774.1 361.1 L774.4 361.1 L774.8 361.6 L775.1 362 L775.5 362.3 L775.8 362.3 L776.2 362.5 L776.5 362.1 L776.9 361.2 L777.2 362.1 L777.6 362.9 L777.9 363.9 L778.3 363.1 L778.6 362.4 L779 362.4 L779.3 362.7 L779.7 363.3 L780 363.2 L780.4 364 L780.7 364.4 L781.1 364.6 L781.4 364 L781.8 362.4 L782.1 362.8 L782.5 363.3 L782.8 364.2 L783.2 364.7 L783.5 364.4 L783.9 364.3 L784.2 364.2 L784.6 364.5 L784.6 371.1 L784.2 371.7 L783.9 371.8 L783.5 371.4 L783.2 371.2 L782.8 371.6 L782.5 371.6 L782.1 371 L781.8 370.5 L781.4 370.6 L781.1 371.4 L780.7 371.2 L780.4 370.8 L780 370.2 L779.7 370.5 L779.3 371.1 L779 370.4 L778.6 370.1 L778.3 369.5 L777.9 370.1 L777.6 369.5 L777.2 369.9 L776.9 369.6 L776.5 369.6 L776.2 369 L775.8 369.1 L775.5 369.6 L775.1 370.5 L774.8 370.2 L774.4 369.7 L774.1 368.5 L773.7 368.2 L773.4 368.2 L773 368.7 L772.7 369.2 L772.3 369.1 L772 369.6 L771.6 368.9 L771.3 368.7 L770.9 368.2 L770.6 367.8 L770.2 368.2 L769.9 368 L769.5 368.5 L769.2 368.4 L768.8 367.4 L768.5 367.4 L768.1 366.9 L767.8 367.6 L767.4 366.9 L767.1 367.2 L766.7 367.3 L766.4 367.5 L766 367.4 L765.7 367 L765.3 367.1 L765 367 L764.6 366.3 L764.3 365.8 L763.9 365.4 L763.6 365.5 L763.2 364.4 L762.9 363.7 L762.5 363.1 L762.2 363.4 L761.8 363.3 L761.5 363.8 L761.1 363.8 L760.8 363.7 L760.4 362.7 L760.1 362.4 L759.7 362.7 L759.4 362.8 L759 363.1 L758.7 362.5 L758.3 362.4 L758 362.4 L757.6 361.9 L757.3 361.8 L756.9 361 L756.6 362.3 L756.2 362.7 L755.9 363.2 L755.5 362.2 L755.2 361.9 L754.8 362.7 L754.5 363.8 L754.1 363.9 L753.8 364.5 L753.4 364.2 L753.1 365.3 L752.7 364.7 L752.4 365.1 L752 364.7 L751.7 364.8 L751.3 364.1 L751 364.7 L750.6 365.4 L750.3 366.3 L749.9 366.1 L749.6 365.7 L749.2 365.3 L748.9 365.1 L748.5 364.9 L748.2 366.2 L747.8 366.3 L747.5 366.8 L747.1 366 L746.8 367.2 L746.4 367.4 L746.1 368 L745.7 367.5 L745.4 368.1 L745 368.1 L744.7 367.7 L744.3 367.8 L744 367.8 L743.6 369.1 L743.3 368.3 L742.9 368.4 L742.6 368.2 L742.2 368.8 L741.9 367.9 L741.5 367.6 L741.2 366.9 L740.8 367.4 L740.5 367.6 L740.1 367.1 L739.8 366.6 L739.4 366.2 L739.1 367.4 L738.7 367.9 L738.4 368.3 L738 367.9 L737.7 367.6 L737.3 367 L737 367.6 L736.6 368.1 L736.3 368.1 L735.9 367.3 L735.6 367 L735.2 367.1 L734.9 367.5 L734.5 367.2 L734.2 366.9 L733.8 366.9 L733.5 367.2 L733.1 367.8 L732.8 367.7 L732.4 367.3 L732.1 367.2 L731.7 367 L731.4 367.9 L731 366.8 L730.7 367.3 L730.3 366.8 L730 368.3 L729.6 367.9 L729.3 367.6 L728.9 366.7 L728.6 366 L728.2 366.2 L727.9 366.5 L727.5 367.1 L727.2 367 L726.8 366.9 L726.5 366.5 L726.1 366.5 L725.8 366.6 L725.4 367.4 L725.1 367.6 L724.7 367.5 L724.4 366.5 L724 366.2 L723.7 367.1 L723.3 367.9 L723 368.4 L722.6 367 L722.3 367.2 L721.9 367 L721.6 367.8 L721.2 367.6 L720.9 366.8 L720.5 366.2 L720.2 366.3 L719.8 366.9 L719.5 367.1 L719.1 366.5 L718.8 367.2 L718.4 367.3 L718.1 367.7 L717.7 366.8 L717.4 366.4 L717 366.1 L716.7 365.8 L716.3 365.8 L716 366.1 L715.6 366.5 L715.3 367.1 L714.9 366.4 L714.6 366.7 L714.2 366.7 L713.9 366.9 L713.5 366.1 L713.2 366 L712.8 366.9 L712.5 367.2 L712.1 367.4 L711.8 366.9 L711.4 367 L711.1 366.9 L710.7 367.1 L710.4 366.6 L710 366.4 L709.7 366.9 L709.3 366.9 L709 367 L708.6 366.5 L708.3 366.1 L707.9 366 L707.6 365.6 L707.2 366.3 L706.9 366.4 L706.5 366.6 L706.2 366.4 L705.8 365.7 L705.5 366.1 L705.1 366.7 L704.8 367.6 L704.4 367.1 L704.1 366.1 L703.7 365.8 L703.4 365.5 L703 365.3 L702.7 364.1 L702.3 364.3 L702 364.3 L701.6 365 L701.3 364.8 L700.9 365 L700.6 364.4 L700.2 364.1 L699.9 363.5 L699.5 363.7 L699.2 363.1 L698.8 362.7 L698.5 362 L698.1 362.5 L697.8 362.9 L697.4 362.3 L697.1 361.6 L696.7 360.8 L696.4 361 L696 360.7 L695.7 360.3 L695.3 359.4 L695 358.4 L694.6 358.3 L694.3 357.8 L693.9 357.4 L693.6 357.3 L693.2 356.9 L692.9 356.8 L692.5 356 L692.2 355.5 L691.8 354.2 L691.5 354 L691.1 353.4 L690.8 353.3 L690.4 352.6 L690.1 351.9 L689.7 351.6 L689.4 350.9 L689 350.9 L688.7 349.9 L688.3 348.8 L688 348.1 L687.6 347.3 L687.3 347.4 L686.9 346.6 L686.6 346 L686.2 344.6 L685.9 343.2 L685.5 343 L685.2 342.9 L684.8 343.6 L684.5 342.2 L684.1 340.6 L683.8 339.7 L683.4 339.4 L683.1 339.7 L682.7 338.9 L682.4 338.8 L682 338 L681.7 336.8 L681.3 335.5 L681 335.2 L680.6 335.2 L680.3 334.7 L679.9 332.6 L679.6 331.4 L679.2 329.4 L678.9 328.3 L678.5 326.6 L678.2 325.9 L677.8 325.6 L677.5 324.5 L677.1 323 L676.8 321.9 L676.4 320.2 L676.1 318.8 L675.7 316.8 L675.4 316.8 L675 315.8 L674.7 313.8 L674.3 312 L674 311.2 L673.6 310.6 L673.3 308.9 L672.9 307.4 L672.6 306.2 L672.2 303.6 L671.9 300.4 L671.5 297.5 L671.2 295.7 L670.8 294.9 L670.5 293.6 L670.1 292 L669.8 289.6 L669.4 287.7 L669.1 286.4 L668.7 284.6 L668.4 282.6 L668 280.9 L667.7 279.7 L667.3 278.9 L667 277.2 L666.6 275.6 L666.3 274.9 L665.9 273.8 L665.6 273.7 L665.2 272.9 L664.9 274.1 L664.5 275 L664.2 276.9 L663.8 278.9 L663.5 281.6 L663.1 285.2 L662.8 287.3 L662.4 289.6 L662.1 293 L661.7 297.4 L661.4 301.9 L661 305.3 L660.7 308.9 L660.3 312.9 L660 316.5 L659.6 320.6 L659.3 324.8 L658.9 329.3 L658.6 332.3 L658.2 335.1 L657.9 337.9 L657.5 341.8 L657.2 344.8 L656.8 347.2 L656.5 349.1 L656.1 350.7 L655.8 352.6 L655.4 353.9 L655.1 355 L654.7 356.2 L654.4 359.1 L654 362 L653.7 364.3 L653.3 365.6 L653 366.5 L652.6 367.9 L652.3 368.5 L651.9 369.7 L651.6 370.2 L651.2 371 L650.9 371.9 L650.5 372.3 L650.2 372.6 L649.8 372.1 L649.5 372.3 L649.1 373.3 L648.8 373.7 L648.4 373.8 L648.1 373.4 L647.7 374.2 L647.4 374.4 L647 374.2 L646.7 373 L646.3 373.1 L646 372.9 L645.6 373.2 L645.3 372.7 L644.9 373.8 L644.6 373.9 L644.2 374.4 L643.9 373.6 L643.5 373.8 L643.2 373.7 L642.8 373.6 L642.5 374.2 L642.1 373.9 L641.8 375.3 L641.4 375.3 L641.1 375.8 L640.7 374.9 L640.4 374.6 L640 375 L639.7 375.6 L639.3 375.8 L639 375.9 L638.6 375.3 L638.3 375.7 L637.9 375.5 L637.6 375.4 L637.2 375.3 L636.9 375.5 L636.5 376.6 L636.2 376.9 L635.8 376.6 L635.5 375.5 L635.1 375.1 L634.8 376 L634.4 376.6 L634.1 376.7 L633.7 376.4 L633.4 376.4 L633 376.1 L632.7 375.8 L632.3 375.1 L632 375.9 L631.6 375.9Z" fill="#b9cdef"/>
<polyline points="631.6,376.4 632,376.6 632.3,374.7 632.7,373.5 633,373.1 633.4,374.5 633.7,373.1 634.1,372.5 634.4,374.6 634.8,374.5 635.1,375 635.5,373 635.8,374.2 636.2,374.1 636.5,372.1 636.9,374.8 637.2,374.5 637.6,377.2 637.9,374.2 638.3,373.7 638.6,375.6 639,374.1 639.3,375 639.7,373.3 640,374 640.4,375.1 640.7,374.6 641.1,373.8 641.4,372.1 641.8,374.1 642.1,373.6 642.5,374.4 642.8,373.7 643.2,374.8 643.5,373.3 643.9,373.6 644.2,374.1 644.6,371.7 644.9,372.6 645.3,372.4 645.6,375.8 646,372.9 646.3,373.9 646.7,373.8 647,372.5 647.4,370.8 647.7,374.1 648.1,372.2 648.4,373.7 648.8,371 649.1,372.1 649.5,374.2 649.8,374.2 650.2,370.2 650.5,369.6 650.9,370.8 651.2,371.1 651.6,369.4 651.9,368.6 652.3,365.8 652.6,366.8 653,366.3 653.3,363.1 653.7,360.6 654,360.2 654.4,360.5 654.7,355 655.1,354.7 655.4,350.7 655.8,348.6 656.1,344.8 656.5,341.2 656.8,338.8 657.2,332.8 657.5,329.6 657.9,323 658.2,318 658.6,314.7 658.9,305.8 659.3,305.1 659.6,300.9 660,294.6 660.3,292.5 660.7,286.7 661,279.7 661.4,278.4 661.7,273 662.1,269.3 662.4,265.4 662.8,262.9 663.1,257.1 663.5,252.8 663.8,249.5 664.2,242.9 664.5,243.6 664.9,237.3 665.2,236.3 665.6,231.5 665.9,229.1 666.3,227.5 666.6,228.2 667,224.2 667.3,220 667.7,218.1 668,214.5 668.4,213.6 668.7,210.5 669.1,210 669.4,205.2 669.8,204.7 670.1,202.4 670.5,201.1 670.8,201.7 671.2,199.8 671.5,199.5 671.9,199.6 672.2,198.8 672.6,194.6 672.9,196.4 673.3,192.6 673.6,194.1 674,196 674.3,192.4 674.7,191.5 675,191.4 675.4,190.6 675.7,190.1 676.1,188.6 676.4,190.9 676.8,190.5 677.1,189 677.5,189.9 677.8,190.7 678.2,191.6 678.5,191.2 678.9,192.1 679.2,191.3 679.6,190.6 679.9,191.9 680.3,194.4 680.6,194.8 681,194.2 681.3,193.7 681.7,195.3 682,197.6 682.4,197.7 682.7,195.4 683.1,196.7 683.4,195.3 683.8,196.2 684.1,198.5 684.5,198.9 684.8,200.8 685.2,201.9 685.5,202.1 685.9,203.5 686.2,201.8 686.6,201.9 686.9,205 687.3,208.9 687.6,206.7 688,205.6 688.3,208.4 688.7,210.9 689,208.5 689.4,211.9 689.7,210.9 690.1,214.3 690.4,214.6 690.8,214.9 691.1,218.3 691.5,216.3 691.8,217.2 692.2,222.1 692.5,220 692.9,225.9 693.2,224.8 693.6,225.4 693.9,228.8 694.3,231.1 694.6,233.2 695,234.7 695.3,238.5 695.7,236 696,240.4 696.4,242.9 696.7,247.7 697.1,244.6 697.4,248.9 697.8,249.9 698.1,252.6 698.5,256.4 698.8,258.1 699.2,261.6 699.5,260.9 699.9,264.1 700.2,267.2 700.6,268.7 700.9,268.7 701.3,272.4 701.6,271.2 702,276.3 702.3,275.5 702.7,276.5 703,278.3 703.4,280.4 703.7,282.9 704.1,281.7 704.4,282.7 704.8,285.3 705.1,284.6 705.5,284.8 705.8,289.5 706.2,289.2 706.5,292.5 706.9,290.9 707.2,289.7 707.6,295.3 707.9,296.4 708.3,299.7 708.6,299.5 709,300.6 709.3,302.3 709.7,302.3 710,304.3 710.4,303.7 710.7,307.6 711.1,307.2 711.4,309.1 711.8,312 712.1,313.7 712.5,312.5 712.8,318 713.2,315.9 713.5,319.3 713.9,320.8 714.2,321.3 714.6,322.6 714.9,326.2 715.3,326.4 715.6,327.2 716,325.5 716.3,328.3 716.7,332.1 717,331.9 717.4,331.5 717.7,333 718.1,334.4 718.4,336.7 718.8,337.1 719.1,338.8 719.5,337.2 719.8,340.5 720.2,339.3 720.5,340.4 720.9,343.8 721.2,342.2 721.6,342.3 721.9,342.6 722.3,342.6 722.6,345.4 723,345.2 723.3,344.2 723.7,343.4 724,344.4 724.4,342.8 724.7,343.4 725.1,343.2 725.4,342.7 725.8,344.7 726.1,344.7 726.5,344 726.8,339.5 727.2,344.5 727.5,342.8 727.9,341.1 728.2,341.5 728.6,342.9 728.9,342.7 729.3,342.1 729.6,340.9 730,340.5 730.3,341.3 730.7,339.8 731,338.4 731.4,338.5 731.7,338.9 732.1,339.2 732.4,341.6 732.8,336.4 733.1,338.7 733.5,337.8 733.8,338.4 734.2,340 734.5,340.1 734.9,338.6 735.2,338.6 735.6,338.2 735.9,340.7 736.3,343.4 736.6,342.2 737,344.3 737.3,345.2 737.7,345.6 738,347.4 738.4,346.6 738.7,346.5 739.1,346.8 739.4,350.5 739.8,349.6 740.1,350.5 740.5,352.9 740.8,351.5 741.2,355.8 741.5,355.1 741.9,354.3 742.2,354.9 742.6,358.1 742.9,355.8 743.3,357.4 743.6,359.1 744,360.1 744.3,360.7 744.7,362 745,361.8 745.4,362.9 745.7,365.6 746.1,365.5 746.4,364.7 746.8,368.2 747.1,363.7 747.5,367 747.8,368.3 748.2,369.1 748.5,368.2 748.9,367.9 749.2,369.5 749.6,368.7 749.9,369.9 750.3,365.7 750.6,370.4 751,369.1 751.3,371.7 751.7,371.8 752,372.1 752.4,370.8 752.7,372.3 753.1,371.5 753.4,372.6 753.8,372.4 754.1,371.7 754.5,375.8 754.8,374.4 755.2,370.9 755.5,375.1 755.9,372.2 756.2,374 756.6,373.6 756.9,373.8 757.3,374.9 757.6,374.2 758,372.7 758.3,374.7 758.7,375.2 759,377.1 759.4,374.2 759.7,373.2 760.1,374.3 760.4,375.8 760.8,373.7 761.1,374 761.5,375.7 761.8,375 762.2,375.3 762.5,374.2 762.9,374 763.2,374.7 763.6,374.9 763.9,374.7 764.3,375.8 764.6,376 765,376 765.3,376 765.7,374.1 766,373.9 766.4,376.5 766.7,375.4 767.1,375.6 767.4,373.9 767.8,375.2 768.1,374.6 768.5,374.3 768.8,374.6 769.2,373.4 769.5,375.5 769.9,376.9 770.2,374.4 770.6,375.5 770.9,373.8 771.3,376.2 771.6,377.8 772,373.6 772.3,374.9 772.7,377.1 773,375.7 773.4,375.3 773.7,372.4 774.1,374.9 774.4,376.3 774.8,377 775.1,375.9 775.5,374.3 775.8,374.1 776.2,372.5 776.5,373.5 776.9,376.5 777.2,374.8 777.6,373.1 777.9,376.7 778.3,372.6 778.6,376.6 779,374.4 779.3,375.3 779.7,375.7 780,375.1 780.4,376.5 780.7,374.8 781.1,374.3 781.4,373.8 781.8,372.7 782.1,373.7 782.5,376 782.8,375.7 783.2,376.5 783.5,378.3 783.9,375.5 784.2,375.2 784.6,372.8" fill="none" stroke="#111" stroke-width="1.5" stroke-linejoin="round"/>
<polyline points="631.6,377.9 632,375.2 632.3,376.1 632.7,375.8 633,376.4 633.4,374.3 633.7,375.1 634.1,374.8 634.4,374.4 634.8,374.5 635.1,374.7 635.5,374.8 635.8,374.2 636.2,375.3 636.5,374.4 636.9,371.9 637.2,375.8 637.6,374.3 637.9,373.9 638.3,374.7 638.6,374.6 639,374.3 639.3,373.4 639.7,374.3 640,372.7 640.4,375.3 640.7,372.7 641.1,373.6 641.4,373.7 641.8,373.8 642.1,373.3 642.5,373.9 642.8,370.1 643.2,373.1 643.5,373 643.9,372.6 644.2,374.3 644.6,372 644.9,372.7 645.3,370.9 645.6,372.9 646,371.1 646.3,371 646.7,374.5 647,372.9 647.4,372.2 647.7,372.3 648.1,370.7 648.4,371 648.8,372.3 649.1,369.9 649.5,372 649.8,370.1 650.2,371.7 650.5,370.4 650.9,372.7 651.2,371.4 651.6,369.3 651.9,367 652.3,366.8 652.6,366.1 653,363.6 653.3,362.9 653.7,361.6 654,358.7 654.4,356.3 654.7,355.5 655.1,352.5 655.4,351.6 655.8,348.5 656.1,348.3 656.5,344.3 656.8,341.2 657.2,339.6 657.5,336 657.9,332.5 658.2,329.9 658.6,327.1 658.9,320.6 659.3,318.4 659.6,314.2 660,310.2 660.3,307 660.7,301 661,298.8 661.4,294.1 661.7,290.5 662.1,286.5 662.4,282.8 662.8,279 663.1,276.4 663.5,274.6 663.8,270.7 664.2,268.2 664.5,266.1 664.9,263.9 665.2,264.1 665.6,265.2 665.9,262.4 666.3,265.1 666.6,266.6 667,267.5 667.3,269.5 667.7,271.7 668,274.2 668.4,275.2 668.7,277.4 669.1,278.2 669.4,280.6 669.8,282.1 670.1,284.3 670.5,285.7 670.8,288.8 671.2,291.6 671.5,292.2 671.9,294.6 672.2,297 672.6,298.5 672.9,301.2 673.3,302.4 673.6,302.8 674,304.6 674.3,307.8 674.7,309.1 675,311 675.4,311.5 675.7,312.7 676.1,312.4 676.4,316.4 676.8,315.6 677.1,318.7 677.5,318 677.8,319.7 678.2,321.8 678.5,322.5 678.9,323.6 679.2,326.3 679.6,327.3 679.9,328.2 680.3,328.6 680.6,329.1 681,330.4 681.3,331.2 681.7,332.4 682,333.9 682.4,333.7 682.7,333.9 683.1,334.7 683.4,337.1 683.8,336.8 684.1,337.6 684.5,338.3 684.8,339.3 685.2,339.6 685.5,341.3 685.9,341.6 686.2,339 686.6,342.2 686.9,345.7 687.3,342.5 687.6,344.5 688,346.1 688.3,345.8 688.7,347.7 689,346 689.4,346.6 689.7,348.1 690.1,348.2 690.4,348.5 690.8,350.5 691.1,350.7 691.5,350.9 691.8,351 692.2,352.1 692.5,352.3 692.9,352.2 693.2,353.8 693.6,354.1 693.9,354.4 694.3,355.4 694.6,354.3 695,355.6 695.3,355.7 695.7,357.9 696,357.6 696.4,359.5 696.7,359.5 697.1,358.3 697.4,358.1 697.8,360 698.1,359.7 698.5,360.1 698.8,359.6 699.2,361.4 699.5,361.2 699.9,361.6 700.2,361.6 700.6,360.6 700.9,359.5 701.3,361.4 701.6,361.1 702,361.3 702.3,362.7 702.7,361.9 703,363.4 703.4,362.3 703.7,362.8 704.1,362.8 704.4,363.1 704.8,361.4 705.1,363.6 705.5,362.8 705.8,361.9 706.2,363.4 706.5,363.2 706.9,364.2 707.2,363.7 707.6,363.5 707.9,361.7 708.3,364.8 708.6,364.6 709,364 709.3,363.8 709.7,364.5 710,362.6 710.4,364.1 710.7,363.5 711.1,362.6 711.4,363.8 711.8,363.8 712.1,365.1 712.5,364.4 712.8,362.1 713.2,361.8 713.5,363.6 713.9,363.5 714.2,362.8 714.6,362.4 714.9,363.5 715.3,362.7 715.6,363.1 716,364.6 716.3,364 716.7,363.1 717,362.8 717.4,363.7 717.7,365.4 718.1,363.4 718.4,365.5 718.8,363.2 719.1,363.8 719.5,364.6 719.8,363.3 720.2,364.1 720.5,362.8 720.9,364.7 721.2,365.1 721.6,363.5 721.9,364.3 722.3,363.8 722.6,362.2 723,366.7 723.3,364.8 723.7,365 724,364.6 724.4,364.4 724.7,366.4 725.1,362.7 725.4,364.1 725.8,364 726.1,364.2 726.5,365 726.8,363.7 727.2,363.2 727.5,363.4 727.9,364.8 728.2,365.3 728.6,365.1 728.9,365.8 729.3,363.9 729.6,365.3 730,365 730.3,364.3 730.7,363.7 731,365.2 731.4,363.8 731.7,364.1 732.1,363.5 732.4,366 732.8,364.4 733.1,363.9 733.5,364.2 733.8,364.2 734.2,364.5 734.5,362.9 734.9,363.4 735.2,364.9 735.6,365.4 735.9,363.5 736.3,364.5 736.6,363.9 737,362.4 737.3,364.1 737.7,363.4 738,365.2 738.4,364.2 738.7,364.4 739.1,363.1 739.4,364.5 739.8,362.6 740.1,364.6 740.5,365.6 740.8,363.3 741.2,365.2 741.5,365.7 741.9,364.2 742.2,365.4 742.6,364.5 742.9,364 743.3,362.6 743.6,363.4 744,363 744.3,366.4 744.7,364.4 745,363.9 745.4,362.8 745.7,365.4 746.1,362.6 746.4,364.8 746.8,364.3 747.1,363.2 747.5,362.4 747.8,362.8 748.2,361.4 748.5,363 748.9,363.8 749.2,362.9 749.6,362.9 749.9,361.1 750.3,361.9 750.6,360.5 751,360.8 751.3,361.7 751.7,363.1 752,360.8 752.4,360.6 752.7,358.6 753.1,360.3 753.4,359.2 753.8,358.6 754.1,358.3 754.5,359.6 754.8,358.9 755.2,359.7 755.5,358.7 755.9,358.8 756.2,359.9 756.6,359.1 756.9,358.9 757.3,359.4 757.6,358.2 758,357.1 758.3,357.3 758.7,356.6 759,358.5 759.4,357.9 759.7,359 760.1,359.5 760.4,358.3 760.8,359.4 761.1,360.7 761.5,359.9 761.8,360.9 762.2,360.2 762.5,359.8 762.9,360.7 763.2,359.4 763.6,362 763.9,361.2 764.3,363.2 764.6,361.1 765,362.6 765.3,363 765.7,362.8 766,363.6 766.4,362.8 766.7,362.8 767.1,362.7 767.4,363.6 767.8,363.6 768.1,364.7 768.5,364.2 768.8,364.1 769.2,364.1 769.5,363.1 769.9,364.5 770.2,365.3 770.6,363.8 770.9,364.9 771.3,365.8 771.6,364.6 772,365.5 772.3,365 772.7,367.7 773,366.8 773.4,366.7 773.7,365 774.1,366.3 774.4,365.7 774.8,366.2 775.1,365.4 775.5,366.2 775.8,365.4 776.2,366.4 776.5,367.8 776.9,365.1 777.2,365.2 777.6,366.9 777.9,367.2 778.3,366.2 778.6,367.2 779,367.1 779.3,367.3 779.7,368.1 780,366.4 780.4,367.6 780.7,367.3 781.1,366.5 781.4,367.7 781.8,366.1 782.1,366 782.5,368.4 782.8,366.5 783.2,369.1 783.5,368.6 783.9,367.2 784.2,366.9 784.6,365.7" fill="none" stroke="#4d7ccc" stroke-width="1.5" stroke-linejoin="round"/>
<path d="M813.3 373.2 L813.6 372.5 L814 371.6 L814.4 371 L814.7 370.8 L815.1 371 L815.4 371 L815.8 370.8 L816.1 370.6 L816.5 370.6 L816.8 370.9 L817.2 370.7 L817.5 371.2 L817.9 372.3 L818.2 372.7 L818.6 372.2 L818.9 371.6 L819.3 371.7 L819.6 371.6 L820 372 L820.3 371.7 L820.7 371.7 L821 370.9 L821.4 371 L821.7 371.2 L822.1 371.8 L822.4 372.7 L822.8 373.1 L823.1 372.9 L823.5 371.9 L823.8 371.6 L824.2 371.2 L824.5 371.7 L824.9 372.2 L825.2 372.7 L825.6 372.6 L825.9 372 L826.3 371.9 L826.6 372.1 L827 372 L827.3 371.9 L827.7 372.2 L828 371.9 L828.4 372 L828.7 371.2 L829.1 372.5 L829.4 372.9 L829.8 373.6 L830.1 373.2 L830.5 373.1 L830.8 373 L831.2 372.3 L831.5 372.3 L831.9 372.4 L832.2 372.5 L832.6 372.8 L832.9 372.8 L833.3 372.8 L833.6 372.3 L834 372 L834.3 372.3 L834.7 372.5 L835 372 L835.4 371.9 L835.7 371.6 L836.1 372.1 L836.4 371.8 L836.8 371.2 L837.1 370.8 L837.5 369.5 L837.8 369.5 L838.2 368.7 L838.5 368.5 L838.9 367.5 L839.2 366.4 L839.6 365.5 L839.9 365.1 L840.3 364.9 L840.6 365.4 L841 364.5 L841.3 363.7 L841.7 362.3 L842 362.7 L842.4 362.6 L842.7 362.1 L843.1 360.4 L843.4 359.3 L843.8 358.9 L844.1 359 L844.5 359.5 L844.8 359.7 L845.2 359.4 L845.5 358.5 L845.9 357.6 L846.2 356.5 L846.6 356.4 L846.9 357 L847.3 357.8 L847.6 358.4 L848 357.8 L848.3 358.3 L848.7 358.4 L849 358.9 L849.4 358.7 L849.7 357.5 L850.1 357.1 L850.4 356.3 L850.8 357.7 L851.1 357.4 L851.5 357.1 L851.8 356.3 L852.2 355.4 L852.5 355.7 L852.9 354.5 L853.2 354.4 L853.6 353 L853.9 353.1 L854.3 351.7 L854.6 351.8 L855 350.6 L855.3 350.9 L855.7 349.5 L856 349.3 L856.4 348.7 L856.7 348.8 L857.1 348.1 L857.4 347.6 L857.8 347 L858.1 346.1 L858.5 344.6 L858.8 343 L859.2 342.8 L859.5 342.4 L859.9 342.6 L860.2 341.5 L860.6 340.4 L860.9 339.5 L861.3 339.4 L861.6 338.9 L862 337.3 L862.3 335.3 L862.7 334.8 L863 334.1 L863.4 333.4 L863.7 332.5 L864.1 332 L864.4 331.5 L864.8 330.4 L865.1 329.6 L865.5 329.1 L865.8 329 L866.2 329.3 L866.5 329 L866.9 329.2 L867.2 329.2 L867.6 329.5 L867.9 329.7 L868.3 329.9 L868.6 330.1 L869 329.9 L869.3 329.2 L869.7 329.3 L870 329.3 L870.4 329.7 L870.7 329.3 L871.1 329.6 L871.4 330.8 L871.8 331.4 L872.1 331.3 L872.5 330.5 L872.8 330.2 L873.2 330.3 L873.5 330.1 L873.9 330.2 L874.2 330.5 L874.6 331.1 L874.9 331.5 L875.3 331.4 L875.6 331.7 L876 331.5 L876.3 332.4 L876.7 332.5 L877 333.2 L877.4 333.5 L877.7 334.1 L878.1 333.9 L878.4 333.7 L878.8 333.9 L879.1 334.3 L879.5 333.7 L879.8 333.8 L880.2 334.6 L880.5 336.1 L880.9 336.6 L881.2 337 L881.6 337.4 L881.9 338.4 L882.3 338.9 L882.6 339.5 L883 339.3 L883.3 340 L883.7 340.2 L884 341.1 L884.4 340.3 L884.7 340.9 L885.1 341 L885.4 342.2 L885.8 343.1 L886.1 343.7 L886.5 344.3 L886.8 344.1 L887.2 345.1 L887.5 345.9 L887.9 346.9 L888.2 346.3 L888.6 346.9 L888.9 347.3 L889.3 347.9 L889.6 347.8 L890 347.4 L890.3 348.1 L890.7 348.2 L891 349.6 L891.4 349.5 L891.7 350.1 L892.1 350.4 L892.4 351 L892.8 351.3 L893.1 351.5 L893.5 352.1 L893.8 352.8 L894.2 352.7 L894.5 352.8 L894.9 352.9 L895.2 353.6 L895.6 354 L895.9 354.6 L896.3 355 L896.6 354.5 L897 354.9 L897.3 355.1 L897.7 355.8 L898 355.9 L898.4 357 L898.7 356.8 L899.1 356.3 L899.4 356 L899.8 356.4 L900.1 357.8 L900.5 357.3 L900.8 357.6 L901.2 357.6 L901.5 358.5 L901.9 359.1 L902.2 359.1 L902.6 358.9 L902.9 358.7 L903.3 358.6 L903.6 359.4 L904 360 L904.3 360.3 L904.7 360.1 L905 360.4 L905.4 361 L905.7 361 L906.1 360.7 L906.4 360.5 L906.8 361.6 L907.1 361.8 L907.5 362.1 L907.8 360.4 L908.2 360.6 L908.5 359.4 L908.9 359.5 L909.2 358.8 L909.6 359.3 L909.9 359.7 L910.3 360 L910.6 360 L911 359.7 L911.3 360.5 L911.7 360.5 L912 360.8 L912.4 360.5 L912.7 360.6 L913.1 360.5 L913.4 359.7 L913.8 360 L914.1 359.3 L914.5 358.7 L914.8 357.9 L915.2 357.4 L915.5 357.4 L915.9 357.7 L916.2 358.2 L916.6 358.6 L916.9 358.3 L917.3 358 L917.6 358.1 L918 357.5 L918.3 357.6 L918.7 357.4 L919 357.7 L919.4 358 L919.7 357.9 L920.1 358.3 L920.4 359 L920.8 359.5 L921.1 359.1 L921.5 358.3 L921.8 357.8 L922.2 357.4 L922.5 358 L922.9 358.7 L923.2 359.5 L923.6 359.5 L923.9 359 L924.3 358.7 L924.6 358.8 L925 359.2 L925.3 359.8 L925.7 359.5 L926 360.1 L926.4 358.8 L926.7 358.4 L927.1 357 L927.4 357.4 L927.8 358.1 L928.1 359.5 L928.5 359.6 L928.8 360.2 L929.2 359.2 L929.5 359.6 L929.9 358.7 L930.2 359.8 L930.6 359.7 L930.9 359.8 L931.3 359.8 L931.6 359.9 L932 360.3 L932.3 359.4 L932.7 359 L933 358.3 L933.4 358.3 L933.7 359.3 L934.1 360.1 L934.4 360.1 L934.8 360 L935.1 359.6 L935.5 360.3 L935.8 360 L936.2 360.2 L936.5 360.1 L936.9 360.5 L937.2 360.8 L937.6 360.8 L937.9 361.1 L938.3 362 L938.6 361.7 L939 360.4 L939.3 360.8 L939.7 361.2 L940 362.2 L940.4 361.7 L940.7 361.8 L941.1 362.6 L941.4 362.1 L941.8 362.3 L942.1 361.5 L942.5 362.8 L942.8 362.9 L943.2 364 L943.5 364.1 L943.9 363.9 L944.2 363.6 L944.6 363.5 L944.9 364.1 L945.3 364.3 L945.6 364.6 L946 365.1 L946.3 365.1 L946.7 364.9 L947 364.9 L947.4 365.4 L947.7 365.7 L948.1 365.2 L948.4 366 L948.8 366 L949.1 366.7 L949.5 366.2 L949.8 366.5 L950.2 366.6 L950.5 366.5 L950.9 366.8 L951.2 367.4 L951.6 368 L951.9 368.4 L952.3 368.3 L952.6 368.3 L953 368.9 L953.3 368.6 L953.7 368.9 L954 368.7 L954.4 369.3 L954.7 368.8 L955.1 368.1 L955.4 368.7 L955.8 368.8 L956.1 369.4 L956.5 369 L956.8 369.5 L957.2 368.9 L957.5 368 L957.9 368 L958.2 368.5 L958.6 369.2 L958.9 369.3 L959.3 369.8 L959.6 369.4 L960 368.8 L960.3 369.2 L960.7 369.6 L961 369.8 L961.4 368.7 L961.7 369.3 L962.1 369.3 L962.4 369.8 L962.8 369.9 L963.1 370.6 L963.5 371.3 L963.8 370.6 L964.2 369.4 L964.5 368.9 L964.9 369.4 L965.2 370.3 L965.6 371.1 L965.9 371.5 L966.3 371.4 L966.6 371.3 L967 371.2 L967.3 371.5 L967.7 371.8 L968 371.3 L968.4 371.9 L968.7 371.9 L969.1 371.8 L969.4 371.3 L969.4 379.9 L969.1 380 L968.7 380.2 L968.4 380.7 L968 380.3 L967.7 379.6 L967.3 379 L967 378.5 L966.6 378.4 L966.3 378.5 L965.9 378.5 L965.6 378.6 L965.2 379.5 L964.9 380.5 L964.5 380.4 L964.2 379.6 L963.8 378.7 L963.5 378.1 L963.1 377.9 L962.8 377.9 L962.4 378 L962.1 378.2 L961.7 378.1 L961.4 377.6 L961 377.8 L960.7 377.9 L960.3 379.3 L960 378.9 L959.6 378.7 L959.3 378.1 L958.9 377.6 L958.6 376.9 L958.2 376.6 L957.9 376.8 L957.5 376.8 L957.2 376.9 L956.8 376.2 L956.5 376.5 L956.1 377.2 L955.8 377 L955.4 377.4 L955.1 376.7 L954.7 377.6 L954.4 377.3 L954 377.9 L953.7 376.9 L953.3 376.7 L953 374.9 L952.6 374.7 L952.3 374.3 L951.9 375.5 L951.6 376.1 L951.2 375.1 L950.9 374.5 L950.5 373.7 L950.2 375.1 L949.8 375.3 L949.5 375.3 L949.1 374.2 L948.8 373.3 L948.4 373 L948.1 373.3 L947.7 373.6 L947.4 373.2 L947 372.7 L946.7 372.8 L946.3 372.8 L946 373 L945.6 372.7 L945.3 372.6 L944.9 372.3 L944.6 371.7 L944.2 371.2 L943.9 371.3 L943.5 371 L943.2 370.3 L942.8 370 L942.5 370.1 L942.1 371.3 L941.8 371.1 L941.4 371.1 L941.1 370.9 L940.7 370.5 L940.4 370 L940 369.8 L939.7 369.9 L939.3 370.3 L939 369.9 L938.6 370.2 L938.3 369.4 L937.9 369.4 L937.6 369.1 L937.2 369 L936.9 368.2 L936.5 368.3 L936.2 368.3 L935.8 368.5 L935.5 367.3 L935.1 366.8 L934.8 366.6 L934.4 367 L934.1 367.9 L933.7 367.6 L933.4 367.5 L933 366.8 L932.7 367.9 L932.3 367.6 L932 368 L931.6 368 L931.3 368.1 L930.9 367.2 L930.6 366.5 L930.2 366.9 L929.9 367.5 L929.5 367.1 L929.2 366.2 L928.8 366.3 L928.5 366.2 L928.1 366.7 L927.8 365.7 L927.4 365.8 L927.1 366.2 L926.7 367.3 L926.4 368 L926 367.2 L925.7 366.8 L925.3 366 L925 366.4 L924.6 366.5 L924.3 366.5 L923.9 367.6 L923.6 366.8 L923.2 366 L922.9 365.3 L922.5 365.8 L922.2 366.7 L921.8 367 L921.5 367.2 L921.1 367.3 L920.8 365.9 L920.4 365.2 L920.1 365.3 L919.7 365.8 L919.4 366.4 L919 365.9 L918.7 365.4 L918.3 365.8 L918 365.8 L917.6 366.8 L917.3 366.9 L916.9 366.8 L916.6 366.1 L916.2 365.6 L915.9 366.1 L915.5 366.3 L915.2 366.5 L914.8 367.1 L914.5 367.4 L914.1 368 L913.8 367.6 L913.4 368.2 L913.1 368.1 L912.7 368.6 L912.4 368.2 L912 368.6 L911.7 368.2 L911.3 368 L911 368 L910.6 368.9 L910.3 368.6 L909.9 368.8 L909.6 368.8 L909.2 369.8 L908.9 369.8 L908.5 369.3 L908.2 369.5 L907.8 369.5 L907.5 369.9 L907.1 370.4 L906.8 370.6 L906.4 371.1 L906.1 370.6 L905.7 370.5 L905.4 369.4 L905 369.1 L904.7 368.8 L904.3 368.4 L904 368.6 L903.6 367.5 L903.3 367.9 L902.9 367.1 L902.6 367.5 L902.2 367.6 L901.9 368.1 L901.5 369 L901.2 368.2 L900.8 367.7 L900.5 366.4 L900.1 366.5 L899.8 366.9 L899.4 367 L899.1 366.6 L898.7 366 L898.4 365.1 L898 365.4 L897.7 365.3 L897.3 365.9 L897 365 L896.6 364.7 L896.3 365.5 L895.9 366.1 L895.6 366.2 L895.2 365.4 L894.9 365 L894.5 364 L894.2 362.7 L893.8 362.8 L893.5 362.8 L893.1 362.9 L892.8 362.9 L892.4 363 L892.1 362.8 L891.7 362.1 L891.4 361.9 L891 360.9 L890.7 360.7 L890.3 360.7 L890 362.1 L889.6 361.8 L889.3 362 L888.9 361.5 L888.6 361.3 L888.2 360 L887.9 359.3 L887.5 359.2 L887.2 359 L886.8 359.6 L886.5 359.3 L886.1 359.3 L885.8 358.8 L885.4 358.6 L885.1 358.6 L884.7 358.3 L884.4 358.1 L884 357.4 L883.7 357.4 L883.3 357.3 L883 357.5 L882.6 357.2 L882.3 355.8 L881.9 355.4 L881.6 355.4 L881.2 355.8 L880.9 355.8 L880.5 355.1 L880.2 355.5 L879.8 354.7 L879.5 355.1 L879.1 354.4 L878.8 354.2 L878.4 353.4 L878.1 352.4 L877.7 352.9 L877.4 352.9 L877 353.7 L876.7 353.7 L876.3 353.3 L876 352.8 L875.6 352.6 L875.3 352.6 L874.9 352.4 L874.6 351.7 L874.2 350.8 L873.9 350.3 L873.5 350.5 L873.2 350.8 L872.8 351.6 L872.5 351.2 L872.1 351.1 L871.8 350.5 L871.4 351 L871.1 350.6 L870.7 350.5 L870.4 349.3 L870 350.2 L869.7 350.3 L869.3 351.8 L869 350.7 L868.6 351.2 L868.3 351.1 L867.9 351.4 L867.6 351.5 L867.2 350.9 L866.9 351.8 L866.5 351.6 L866.2 351 L865.8 350.5 L865.5 350.7 L865.1 351.1 L864.8 350.4 L864.4 350.2 L864.1 350.1 L863.7 352.3 L863.4 352.3 L863 353.6 L862.7 352.7 L862.3 353.3 L862 352.6 L861.6 353.5 L861.3 353.9 L860.9 356 L860.6 355.9 L860.2 355.8 L859.9 355.6 L859.5 356.3 L859.2 358.3 L858.8 358.8 L858.5 359.1 L858.1 358.9 L857.8 358.8 L857.4 360.1 L857.1 360.2 L856.7 361.3 L856.4 361.7 L856 362.3 L855.7 361.9 L855.3 361.9 L855 362.4 L854.6 362.8 L854.3 363.1 L853.9 362.3 L853.6 363.4 L853.2 364 L852.9 366.3 L852.5 366.2 L852.2 366.6 L851.8 366 L851.5 366.9 L851.1 367.2 L850.8 367.5 L850.4 367.5 L850.1 367.6 L849.7 367.4 L849.4 367.8 L849 367.3 L848.7 367.4 L848.3 365.9 L848 365.2 L847.6 364.5 L847.3 365 L846.9 365.7 L846.6 365.2 L846.2 365 L845.9 364.1 L845.5 364 L845.2 364 L844.8 365.1 L844.5 365.4 L844.1 365.6 L843.8 365.4 L843.4 366.2 L843.1 366 L842.7 367.2 L842.4 367 L842 368.1 L841.7 368.1 L841.3 368.7 L841 370.4 L840.6 370.7 L840.3 371.9 L839.9 371.8 L839.6 371.7 L839.2 372.1 L838.9 372 L838.5 373.2 L838.2 373.4 L837.8 374.5 L837.5 373.8 L837.1 374.4 L836.8 374 L836.4 375.2 L836.1 375.9 L835.7 376.2 L835.4 376.7 L835 377.1 L834.7 377.6 L834.3 377.3 L834 376.7 L833.6 376.5 L833.3 376.8 L832.9 376.2 L832.6 375.8 L832.2 376.8 L831.9 377.8 L831.5 378.7 L831.2 378.1 L830.8 378.5 L830.5 377.9 L830.1 377.3 L829.8 376.1 L829.4 376 L829.1 375.7 L828.7 375.9 L828.4 376.1 L828 377.4 L827.7 377 L827.3 376.7 L827 375.6 L826.6 375.3 L826.3 375.6 L825.9 375.5 L825.6 375.2 L825.2 375.1 L824.9 375.2 L824.5 375.9 L824.2 376 L823.8 377 L823.5 376.8 L823.1 376.7 L822.8 375.5 L822.4 375.9 L822.1 375.5 L821.7 375.2 L821.4 375.7 L821 376.1 L820.7 376.2 L820.3 375.8 L820 374.9 L819.6 374.8 L819.3 374.5 L818.9 374.8 L818.6 374.8 L818.2 373.9 L817.9 374.8 L817.5 375.3 L817.2 375.6 L816.8 375.1 L816.5 375.2 L816.1 374.6 L815.8 374 L815.4 373.5 L815.1 374 L814.7 373.9 L814.4 373.4 L814 373.7 L813.6 373.8 L813.3 374.2Z" fill="#a6a6a6"/>
<path d="M813.3 369.6 L813.6 369.6 L814 370.1 L814.4 369.6 L814.7 369.6 L815.1 369.2 L815.4 369.7 L815.8 369.7 L816.1 369.5 L816.5 369.6 L816.8 369.2 L817.2 370.1 L817.5 370 L817.9 369.9 L818.2 369.1 L818.6 369.5 L818.9 370.2 L819.3 370.3 L819.6 369 L820 369.7 L820.3 369.8 L820.7 369.9 L821 369.2 L821.4 369.8 L821.7 370.7 L822.1 370.3 L822.4 369.5 L822.8 369.5 L823.1 370.9 L823.5 371.3 L823.8 371.5 L824.2 370.6 L824.5 370.5 L824.9 369.8 L825.2 369.4 L825.6 368.9 L825.9 369.1 L826.3 370.1 L826.6 370.7 L827 371.4 L827.3 371.2 L827.7 371.3 L828 370.7 L828.4 371.3 L828.7 371.7 L829.1 372.4 L829.4 372.6 L829.8 372.7 L830.1 372.3 L830.5 371.5 L830.8 371.1 L831.2 372 L831.5 371.4 L831.9 370.5 L832.2 369.3 L832.6 369.6 L832.9 370 L833.3 370.4 L833.6 370.4 L834 370.4 L834.3 369.7 L834.7 369.9 L835 370.4 L835.4 370.5 L835.7 369 L836.1 368 L836.4 366 L836.8 364.4 L837.1 363.4 L837.5 362.8 L837.8 362.3 L838.2 360.5 L838.5 359 L838.9 356.7 L839.2 354.1 L839.6 351.6 L839.9 349.6 L840.3 347.5 L840.6 344.5 L841 343 L841.3 340.5 L841.7 338.8 L842 336.1 L842.4 334.5 L842.7 333.2 L843.1 332.2 L843.4 331.2 L843.8 329.3 L844.1 327 L844.5 325 L844.8 324.4 L845.2 322.5 L845.5 320.8 L845.9 318.4 L846.2 317.8 L846.6 317.2 L846.9 317.2 L847.3 316.5 L847.6 315 L848 313.9 L848.3 312.5 L848.7 313 L849 313 L849.4 312.3 L849.7 311.6 L850.1 310.7 L850.4 310.9 L850.8 310.4 L851.1 309.6 L851.5 308.9 L851.8 307.9 L852.2 307.4 L852.5 306.7 L852.9 307.1 L853.2 307.7 L853.6 308.3 L853.9 307.5 L854.3 308.6 L854.6 309.2 L855 310.5 L855.3 310.4 L855.7 311.7 L856 312.1 L856.4 311.5 L856.7 311.4 L857.1 312.3 L857.4 314 L857.8 315.7 L858.1 316.6 L858.5 318.2 L858.8 318.6 L859.2 320.5 L859.5 321.6 L859.9 323.7 L860.2 325 L860.6 326.8 L860.9 328.1 L861.3 328.9 L861.6 330.1 L862 331.6 L862.3 333.5 L862.7 335.6 L863 337.3 L863.4 338.6 L863.7 340 L864.1 341 L864.4 342.9 L864.8 344.4 L865.1 345.4 L865.5 346 L865.8 346.7 L866.2 348.1 L866.5 348.7 L866.9 349.9 L867.2 350.9 L867.6 352.3 L867.9 352.8 L868.3 353.7 L868.6 353.9 L869 354.5 L869.3 354.7 L869.7 355.5 L870 355.6 L870.4 356.9 L870.7 356.8 L871.1 357.6 L871.4 358.2 L871.8 359.9 L872.1 360.7 L872.5 361.7 L872.8 362.4 L873.2 363.5 L873.5 364.1 L873.9 365 L874.2 365.6 L874.6 366.1 L874.9 367.2 L875.3 367.3 L875.6 367.6 L876 367.3 L876.3 367.5 L876.7 366.7 L877 367.3 L877.4 367.6 L877.7 368.2 L878.1 367.4 L878.4 367.7 L878.8 367.3 L879.1 367 L879.5 366 L879.8 366.2 L880.2 366.6 L880.5 366.1 L880.9 366.2 L881.2 366.1 L881.6 367.3 L881.9 367 L882.3 367.4 L882.6 367.8 L883 367.6 L883.3 366.9 L883.7 366.4 L884 367.1 L884.4 367.1 L884.7 367.1 L885.1 365.9 L885.4 366.1 L885.8 365.7 L886.1 366.5 L886.5 366.2 L886.8 366.1 L887.2 365.4 L887.5 365.5 L887.9 364.2 L888.2 364.3 L888.6 363.3 L888.9 364.7 L889.3 364 L889.6 364.1 L890 363.1 L890.3 363.7 L890.7 363.5 L891 362.8 L891.4 362.3 L891.7 362.5 L892.1 363.1 L892.4 362.7 L892.8 361.5 L893.1 360.5 L893.5 360.5 L893.8 360.8 L894.2 361 L894.5 360.6 L894.9 360.5 L895.2 360.8 L895.6 361 L895.9 360.2 L896.3 359.5 L896.6 358.4 L897 358.6 L897.3 358.1 L897.7 358 L898 357.7 L898.4 357.1 L898.7 356.5 L899.1 355.6 L899.4 354.1 L899.8 353 L900.1 351.7 L900.5 351.9 L900.8 351.4 L901.2 350.5 L901.5 349.4 L901.9 348.9 L902.2 349.1 L902.6 349.4 L902.9 349.1 L903.3 349.7 L903.6 349.7 L904 350.6 L904.3 350.8 L904.7 351.6 L905 352.8 L905.4 353.4 L905.7 353.8 L906.1 352.7 L906.4 353 L906.8 353.8 L907.1 355.1 L907.5 356.2 L907.8 356.5 L908.2 357.4 L908.5 357.6 L908.9 358.5 L909.2 358.2 L909.6 358.4 L909.9 357.6 L910.3 356.2 L910.6 354.6 L911 352.4 L911.3 350.3 L911.7 348.4 L912 346.9 L912.4 345.4 L912.7 342.7 L913.1 340.5 L913.4 339 L913.8 336.9 L914.1 335.6 L914.5 333.2 L914.8 331.4 L915.2 330.3 L915.5 331.1 L915.9 333.5 L916.2 334.6 L916.6 336.3 L916.9 336.2 L917.3 338.4 L917.6 339.8 L918 342.2 L918.3 343.7 L918.7 345.2 L919 346.7 L919.4 348.3 L919.7 350.4 L920.1 351.9 L920.4 353.3 L920.8 353.8 L921.1 355.4 L921.5 356 L921.8 356.7 L922.2 357.4 L922.5 358.4 L922.9 359.2 L923.2 359.3 L923.6 358.9 L923.9 358.5 L924.3 359.1 L924.6 359.5 L925 361.3 L925.3 361.6 L925.7 362.8 L926 362.7 L926.4 363.2 L926.7 363.6 L927.1 363.8 L927.4 363.6 L927.8 363.1 L928.1 362.4 L928.5 360.7 L928.8 359.8 L929.2 358.9 L929.5 358.4 L929.9 356.6 L930.2 355.3 L930.6 355.5 L930.9 356.2 L931.3 356.6 L931.6 356.2 L932 353.9 L932.3 352.9 L932.7 350.9 L933 350.4 L933.4 349.7 L933.7 350.1 L934.1 349.8 L934.4 348.4 L934.8 346.9 L935.1 346.8 L935.5 347.4 L935.8 348.4 L936.2 348.3 L936.5 347.2 L936.9 345.7 L937.2 345.5 L937.6 346.2 L937.9 346 L938.3 346.4 L938.6 346.1 L939 347.6 L939.3 347.3 L939.7 348.3 L940 348.9 L940.4 350.6 L940.7 351.2 L941.1 351.1 L941.4 351 L941.8 350.3 L942.1 350.7 L942.5 350.7 L942.8 351.9 L943.2 352.6 L943.5 353.3 L943.9 354.2 L944.2 353.8 L944.6 354.1 L944.9 354.7 L945.3 355.5 L945.6 356.4 L946 355.1 L946.3 356.1 L946.7 355.9 L947 357.1 L947.4 357.2 L947.7 357.9 L948.1 357.9 L948.4 358.3 L948.8 358.2 L949.1 359.1 L949.5 358.6 L949.8 359 L950.2 359.2 L950.5 359.5 L950.9 359.7 L951.2 361 L951.6 361.5 L951.9 362 L952.3 361 L952.6 361.7 L953 361.9 L953.3 362.3 L953.7 361.5 L954 361.8 L954.4 361.3 L954.7 361.4 L955.1 361.1 L955.4 362.1 L955.8 362.6 L956.1 362.3 L956.5 362.5 L956.8 362.5 L957.2 363 L957.5 363 L957.9 363.2 L958.2 363.4 L958.6 363.4 L958.9 363.9 L959.3 364.2 L959.6 364.5 L960 364 L960.3 364.4 L960.7 364.3 L961 364.2 L961.4 364 L961.7 363.3 L962.1 363.1 L962.4 362.9 L962.8 363.1 L963.1 363.1 L963.5 362.5 L963.8 362.5 L964.2 362.7 L964.5 362.9 L964.9 362.5 L965.2 361.9 L965.6 360.8 L965.9 360.7 L966.3 360.9 L966.6 361.6 L967 362.1 L967.3 361.6 L967.7 361.6 L968 361.3 L968.4 360.8 L968.7 361.2 L969.1 360.2 L969.4 360.5 L969.4 370.9 L969.1 370.6 L968.7 369.9 L968.4 370.2 L968 370 L967.7 370.9 L967.3 370.4 L967 370.5 L966.6 371.1 L966.3 371.5 L965.9 371.8 L965.6 371.9 L965.2 371.1 L964.9 371.5 L964.5 370.7 L964.2 371.6 L963.8 371.8 L963.5 372.3 L963.1 372.5 L962.8 372 L962.4 371.8 L962.1 371.9 L961.7 371.5 L961.4 371.6 L961 371.2 L960.7 371.9 L960.3 372.1 L960 372 L959.6 372.6 L959.3 371.9 L958.9 372.2 L958.6 371.1 L958.2 370.9 L957.9 370.6 L957.5 371 L957.2 371.5 L956.8 372.6 L956.5 372.5 L956.1 372.2 L955.8 370.5 L955.4 370.8 L955.1 369.6 L954.7 370.6 L954.4 370.2 L954 371.2 L953.7 370 L953.3 369.9 L953 369.8 L952.6 370.7 L952.3 370.3 L951.9 370.1 L951.6 368.8 L951.2 368.3 L950.9 367.6 L950.5 368.5 L950.2 369.2 L949.8 370.1 L949.5 369 L949.1 369.2 L948.8 368.2 L948.4 368.9 L948.1 367.5 L947.7 367.3 L947.4 366.9 L947 366.1 L946.7 366.2 L946.3 365.2 L946 365.7 L945.6 365.4 L945.3 365.5 L944.9 365.8 L944.6 365.2 L944.2 364.8 L943.9 364 L943.5 363.7 L943.2 363.6 L942.8 363.6 L942.5 363.6 L942.1 364 L941.8 363.9 L941.4 363.9 L941.1 363.8 L940.7 362.7 L940.4 362 L940 361.8 L939.7 362.8 L939.3 363.1 L939 362.3 L938.6 362.4 L938.3 362.3 L937.9 362.3 L937.6 361.7 L937.2 362.4 L936.9 362.3 L936.5 362.7 L936.2 362.2 L935.8 364.1 L935.5 363.6 L935.1 364.2 L934.8 362.8 L934.4 363.9 L934.1 363.4 L933.7 363.8 L933.4 363 L933 363.4 L932.7 363.4 L932.3 364.2 L932 364.2 L931.6 365 L931.3 364.7 L930.9 366 L930.6 366.4 L930.2 367.4 L929.9 367.7 L929.5 368.4 L929.2 369.5 L928.8 370.2 L928.5 371.4 L928.1 370.8 L927.8 370.7 L927.4 370.2 L927.1 371 L926.7 370.7 L926.4 370.8 L926 370.6 L925.7 372.4 L925.3 372.4 L925 372 L924.6 369.8 L924.3 368.8 L923.9 368.6 L923.6 367.8 L923.2 369 L922.9 369.2 L922.5 369.7 L922.2 368.4 L921.8 367.3 L921.5 367.1 L921.1 366.8 L920.8 367.4 L920.4 368 L920.1 368.8 L919.7 369.6 L919.4 370.3 L919 369.9 L918.7 369.2 L918.3 367.6 L918 367.5 L917.6 367.4 L917.3 368.2 L916.9 368 L916.6 367.8 L916.2 368.1 L915.9 368.2 L915.5 368.8 L915.2 369 L914.8 369.4 L914.5 368.9 L914.1 368.4 L913.8 368.9 L913.4 368.5 L913.1 369.3 L912.7 369.2 L912.4 369.9 L912 370.1 L911.7 369.7 L911.3 369.7 L911 369.2 L910.6 369 L910.3 368.2 L909.9 368 L909.6 367.9 L909.2 369.5 L908.9 369.7 L908.5 369.9 L908.2 367.7 L907.8 366.8 L907.5 367.3 L907.1 368.6 L906.8 368.8 L906.4 368.8 L906.1 368.5 L905.7 369 L905.4 367.8 L905 367.8 L904.7 367.6 L904.3 367.9 L904 367 L903.6 366.6 L903.3 366.4 L902.9 366.6 L902.6 366.2 L902.2 367.1 L901.9 367.1 L901.5 367.8 L901.2 367.7 L900.8 367.9 L900.5 367.3 L900.1 367.1 L899.8 367.4 L899.4 368.2 L899.1 368.1 L898.7 367.9 L898.4 367.6 L898 368.3 L897.7 368.7 L897.3 369.2 L897 369.4 L896.6 369.2 L896.3 369.2 L895.9 368.7 L895.6 369 L895.2 368.1 L894.9 368.5 L894.5 367.8 L894.2 369.1 L893.8 368.9 L893.5 369.4 L893.1 368.6 L892.8 368.7 L892.4 369.4 L892.1 369.6 L891.7 370 L891.4 370.9 L891 371.1 L890.7 370.9 L890.3 370.3 L890 370.7 L889.6 371.8 L889.3 371.2 L888.9 372 L888.6 371.3 L888.2 371.7 L887.9 371.4 L887.5 372.1 L887.2 372.2 L886.8 371.6 L886.5 371.1 L886.1 372.2 L885.8 372.9 L885.4 372.8 L885.1 372.8 L884.7 372.9 L884.4 372.9 L884 372.2 L883.7 372 L883.3 372.9 L883 373 L882.6 373.3 L882.3 372.7 L881.9 373.6 L881.6 374 L881.2 374.6 L880.9 373.2 L880.5 372.3 L880.2 372.2 L879.8 373.2 L879.5 374 L879.1 374.8 L878.8 374.4 L878.4 374.6 L878.1 374.4 L877.7 374.9 L877.4 374.8 L877 374.3 L876.7 373.8 L876.3 373.6 L876 373.9 L875.6 374.5 L875.3 374.1 L874.9 373.4 L874.6 373.2 L874.2 372.8 L873.9 372.5 L873.5 371 L873.2 370.5 L872.8 369.4 L872.5 369.1 L872.1 367.9 L871.8 367.9 L871.4 367.2 L871.1 366.6 L870.7 365.1 L870.4 365.3 L870 366 L869.7 366.6 L869.3 366 L869 365.4 L868.6 364.7 L868.3 363.3 L867.9 362.9 L867.6 362.9 L867.2 362.5 L866.9 361.9 L866.5 360.6 L866.2 360.9 L865.8 360 L865.5 359.5 L865.1 358.9 L864.8 358.4 L864.4 357.2 L864.1 355.1 L863.7 353.8 L863.4 353 L863 353 L862.7 351.9 L862.3 351 L862 349 L861.6 347.2 L861.3 346 L860.9 344.8 L860.6 344.1 L860.2 342.9 L859.9 341.3 L859.5 340.4 L859.2 339 L858.8 339.6 L858.5 338.3 L858.1 337.9 L857.8 336.6 L857.4 336 L857.1 335.3 L856.7 335.2 L856.4 335.5 L856 334.7 L855.7 334.6 L855.3 334.4 L855 334.7 L854.6 334.4 L854.3 334.4 L853.9 334.6 L853.6 335 L853.2 335 L852.9 335.2 L852.5 334.7 L852.2 334.8 L851.8 335.3 L851.5 335.4 L851.1 335.2 L850.8 334.7 L850.4 335.2 L850.1 335.8 L849.7 335.7 L849.4 335.1 L849 335.3 L848.7 335.8 L848.3 336.5 L848 336.5 L847.6 337.1 L847.3 337.3 L846.9 337.3 L846.6 337 L846.2 337.7 L845.9 338.4 L845.5 339.6 L845.2 340.3 L844.8 341.6 L844.5 342 L844.1 342.2 L843.8 343.9 L843.4 344.9 L843.1 346.1 L842.7 346.8 L842.4 348.6 L842 349.9 L841.7 351.4 L841.3 352.3 L841 354.1 L840.6 356.4 L840.3 358.3 L839.9 359.8 L839.6 360.8 L839.2 363.3 L838.9 365 L838.5 366.5 L838.2 367.7 L837.8 369.4 L837.5 369.8 L837.1 371.1 L836.8 371.8 L836.4 372.9 L836.1 372.6 L835.7 373.2 L835.4 373.6 L835 373.6 L834.7 374.4 L834.3 374.1 L834 374.5 L833.6 373.5 L833.3 374.2 L832.9 374.9 L832.6 375.5 L832.2 375.6 L831.9 374.8 L831.5 374.6 L831.2 374.3 L830.8 374.5 L830.5 374.3 L830.1 374.9 L829.8 375.3 L829.4 374.9 L829.1 374.6 L828.7 374.2 L828.4 374.5 L828 374.2 L827.7 374.1 L827.3 374.5 L827 374.4 L826.6 374.5 L826.3 374.2 L825.9 375 L825.6 375.3 L825.2 375 L824.9 373.9 L824.5 373.9 L824.2 373.9 L823.8 374.1 L823.5 374.3 L823.1 373.8 L822.8 374.1 L822.4 373.2 L822.1 374.2 L821.7 374.9 L821.4 374.9 L821 374.5 L820.7 372.8 L820.3 373 L820 373.7 L819.6 374.2 L819.3 374 L818.9 373.4 L818.6 373.4 L818.2 373.3 L817.9 373.6 L817.5 373.5 L817.2 374.1 L816.8 374.2 L816.5 374.8 L816.1 374.6 L815.8 374.4 L815.4 373.3 L815.1 373.5 L814.7 372.9 L814.4 373.6 L814 372.5 L813.6 372.8 L813.3 372.5Z" fill="#b9cdef"/>
<polyline points="813.3,373 813.6,374.6 814,371.6 814.4,374.3 814.7,372.6 815.1,372.6 815.4,375.6 815.8,373.2 816.1,373 816.5,374.1 816.8,374.7 817.2,373.1 817.5,374 817.9,371.9 818.2,372.8 818.6,372.7 818.9,371.5 819.3,371.3 819.6,371.2 820,373.1 820.3,373.2 820.7,373.1 821,373.6 821.4,371.8 821.7,373.5 822.1,374 822.4,374.7 822.8,372.6 823.1,373.2 823.5,371.1 823.8,373.1 824.2,370.9 824.5,372 824.9,375.4 825.2,371 825.6,375.1 825.9,374.5 826.3,373.6 826.6,374.7 827,374.8 827.3,375.6 827.7,373.9 828,373.4 828.4,373.4 828.7,372.9 829.1,374.2 829.4,373.3 829.8,375.8 830.1,371.9 830.5,373 830.8,373.2 831.2,371.7 831.5,377.1 831.9,371.3 832.2,374.2 832.6,373.9 832.9,376.9 833.3,372 833.6,376.2 834,373.8 834.3,374.5 834.7,373.7 835,375.3 835.4,372.7 835.7,373.9 836.1,374.2 836.4,375.8 836.8,369.7 837.1,374.6 837.5,373.3 837.8,371 838.2,371.6 838.5,370.1 838.9,372.5 839.2,370 839.6,369 839.9,368.4 840.3,367.9 840.6,367.4 841,365.9 841.3,369.4 841.7,363.4 842,360.6 842.4,364.7 842.7,364.1 843.1,364.3 843.4,363 843.8,362.6 844.1,362.8 844.5,363.3 844.8,361.2 845.2,361.1 845.5,364.1 845.9,362.2 846.2,360.3 846.6,364.9 846.9,362.9 847.3,361.2 847.6,360.6 848,362.7 848.3,361.3 848.7,361.2 849,360.9 849.4,362 849.7,364.2 850.1,362 850.4,360.5 850.8,363.1 851.1,362 851.5,362.7 851.8,362.8 852.2,360.5 852.5,360.1 852.9,359.8 853.2,357.9 853.6,359.9 853.9,360.5 854.3,358.4 854.6,357.4 855,356.9 855.3,355.7 855.7,355.1 856,355.1 856.4,354 856.7,353.9 857.1,351.8 857.4,353.8 857.8,352.8 858.1,350.5 858.5,348.4 858.8,350.9 859.2,351.7 859.5,348.6 859.9,348.4 860.2,347.6 860.6,348.6 860.9,345.9 861.3,347.8 861.6,345.4 862,346.5 862.3,344.6 862.7,343.6 863,341.3 863.4,341.8 863.7,341.7 864.1,342.4 864.4,341.4 864.8,339.8 865.1,340.9 865.5,341.5 865.8,339.8 866.2,339.3 866.5,339.4 866.9,341 867.2,340.7 867.6,338.8 867.9,340.6 868.3,339.5 868.6,339.1 869,341.9 869.3,341.4 869.7,339.3 870,340.4 870.4,341.1 870.7,339.6 871.1,340.3 871.4,341.4 871.8,338.1 872.1,341.1 872.5,341.7 872.8,341.4 873.2,339 873.5,341.4 873.9,340 874.2,342.1 874.6,342.3 874.9,342 875.3,340.9 875.6,341.4 876,343.6 876.3,341.5 876.7,343.7 877,343.9 877.4,343.1 877.7,347 878.1,344.1 878.4,347.1 878.8,341.8 879.1,341.7 879.5,346.3 879.8,346.1 880.2,345.1 880.5,345.7 880.9,343.5 881.2,345.5 881.6,345.3 881.9,346.7 882.3,348.6 882.6,347.8 883,348.6 883.3,347.5 883.7,348.2 884,349.3 884.4,349.1 884.7,351.5 885.1,349 885.4,353.1 885.8,349.5 886.1,352.6 886.5,350.5 886.8,354.1 887.2,352.4 887.5,353.1 887.9,353.9 888.2,352.4 888.6,352.2 888.9,351.2 889.3,355.9 889.6,353.6 890,354 890.3,355.1 890.7,358.1 891,353.4 891.4,356.4 891.7,355.8 892.1,357.3 892.4,354.5 892.8,356.7 893.1,358.7 893.5,359.9 893.8,360.3 894.2,357.3 894.5,358.8 894.9,358.9 895.2,357.4 895.6,357.6 895.9,360.8 896.3,360.4 896.6,360.1 897,362.1 897.3,359.3 897.7,361.5 898,361 898.4,361.1 898.7,362 899.1,361.8 899.4,362.1 899.8,362.2 900.1,364.7 900.5,361.8 900.8,363.8 901.2,363.4 901.5,362.3 901.9,364 902.2,361.9 902.6,364.8 902.9,362.4 903.3,363 903.6,364.2 904,365.1 904.3,365.4 904.7,365.5 905,364.2 905.4,363.4 905.7,365.5 906.1,365.3 906.4,363.7 906.8,366.3 907.1,365.3 907.5,363.7 907.8,365.5 908.2,363 908.5,363.5 908.9,365.2 909.2,362.4 909.6,364.5 909.9,362.5 910.3,365.2 910.6,363.1 911,364.2 911.3,361.9 911.7,363.3 912,365 912.4,364.2 912.7,361 913.1,364.6 913.4,364.5 913.8,362.7 914.1,365 914.5,361.5 914.8,362.7 915.2,364.2 915.5,364.4 915.9,364.3 916.2,361 916.6,360 916.9,362.8 917.3,360.3 917.6,362.1 918,360.5 918.3,363.7 918.7,363.3 919,363 919.4,362.3 919.7,362.4 920.1,362 920.4,362.9 920.8,362.8 921.1,363.1 921.5,362 921.8,365.1 922.2,363 922.5,364.5 922.9,364.5 923.2,361.5 923.6,360.5 923.9,364.5 924.3,362.3 924.6,363 925,362.5 925.3,363.1 925.7,361.4 926,362.9 926.4,362.4 926.7,363.1 927.1,360 927.4,364.2 927.8,363.6 928.1,360.8 928.5,362.2 928.8,363.2 929.2,364 929.5,363.2 929.9,365.1 930.2,363.2 930.6,361.8 930.9,362.3 931.3,364.2 931.6,362.4 932,364.3 932.3,364.6 932.7,364 933,364.6 933.4,363 933.7,363.3 934.1,362.5 934.4,362.6 934.8,361.4 935.1,362.8 935.5,362.3 935.8,361.9 936.2,364.2 936.5,364.8 936.9,363.9 937.2,366.3 937.6,365.9 937.9,366.2 938.3,364.1 938.6,363.1 939,366 939.3,365.8 939.7,366.5 940,366.3 940.4,367.5 940.7,365.6 941.1,367.1 941.4,365.1 941.8,363.3 942.1,366 942.5,368.8 942.8,364.7 943.2,368.5 943.5,366.3 943.9,366.9 944.2,367.6 944.6,368 944.9,366.6 945.3,368.3 945.6,368.9 946,369.6 946.3,367.6 946.7,370.9 947,371.5 947.4,372.4 947.7,367.5 948.1,369.7 948.4,367.2 948.8,370.4 949.1,370.8 949.5,368.6 949.8,368.2 950.2,370.8 950.5,371.6 950.9,369.8 951.2,370.7 951.6,367.9 951.9,370.5 952.3,371.8 952.6,372 953,374.1 953.3,370.6 953.7,369.3 954,373.1 954.4,371.8 954.7,373.1 955.1,373.8 955.4,373.8 955.8,375 956.1,374.9 956.5,371 956.8,373.2 957.2,376 957.5,372.9 957.9,374.8 958.2,373.5 958.6,373.1 958.9,375.9 959.3,375.2 959.6,373.5 960,375.2 960.3,372.3 960.7,373.1 961,375.4 961.4,374.3 961.7,372.9 962.1,375 962.4,374.9 962.8,376.3 963.1,375.9 963.5,374.3 963.8,374.1 964.2,374.7 964.5,374.6 964.9,377 965.2,377.2 965.6,377 965.9,375.7 966.3,375 966.6,376.6 967,375 967.3,375.8 967.7,373.4 968,375.1 968.4,377.7 968.7,374.4 969.1,373.8 969.4,375.6" fill="none" stroke="#111" stroke-width="1.5" stroke-linejoin="round"/>
<polyline points="813.3,371.8 813.6,372.2 814,371.3 814.4,372.1 814.7,372.6 815.1,372.2 815.4,373.2 815.8,371 816.1,371.9 816.5,371.2 816.8,371.2 817.2,371.7 817.5,372.1 817.9,372.3 818.2,372.4 818.6,374 818.9,372.8 819.3,370.6 819.6,372.2 820,371.5 820.3,371.6 820.7,373.3 821,371.9 821.4,370.4 821.7,372.4 822.1,371.9 822.4,371.2 822.8,371.4 823.1,371.7 823.5,372.2 823.8,371.9 824.2,372.4 824.5,374 824.9,371.6 825.2,371.6 825.6,372.2 825.9,373.4 826.3,371.8 826.6,373.7 827,371.3 827.3,371.6 827.7,372.5 828,371.7 828.4,372 828.7,373 829.1,373.2 829.4,372.7 829.8,372.4 830.1,373.8 830.5,373 830.8,372.5 831.2,373.8 831.5,371.9 831.9,372.9 832.2,373.2 832.6,372.6 832.9,371.9 833.3,372.6 833.6,371.6 834,371.2 834.3,370.6 834.7,372.3 835,370.3 835.4,371.5 835.7,370.4 836.1,369.4 836.4,369.7 836.8,368.6 837.1,367.5 837.5,365 837.8,365 838.2,364.3 838.5,362.3 838.9,361 839.2,359.5 839.6,356.6 839.9,356.1 840.3,351.1 840.6,350.4 841,346.4 841.3,347.5 841.7,345.1 842,344.8 842.4,341.3 842.7,338.3 843.1,339.8 843.4,336.1 843.8,334.9 844.1,334.7 844.5,334.3 844.8,332.1 845.2,331.6 845.5,328.6 845.9,330.8 846.2,328.3 846.6,327.6 846.9,327.3 847.3,326.2 847.6,325.7 848,324.2 848.3,324.5 848.7,324.7 849,325 849.4,323.7 849.7,323.6 850.1,323.5 850.4,323.4 850.8,322.8 851.1,322.1 851.5,321.6 851.8,322.8 852.2,321.8 852.5,321.4 852.9,324.4 853.2,322 853.6,322 853.9,321.5 854.3,320.6 854.6,322.8 855,322.1 855.3,322.5 855.7,323.8 856,324.1 856.4,323.8 856.7,324.1 857.1,326.6 857.4,325.9 857.8,325.2 858.1,327.7 858.5,328.2 858.8,329.1 859.2,330.9 859.5,331.8 859.9,334.6 860.2,334.2 860.6,335.5 860.9,337.6 861.3,337.3 861.6,340 862,340.3 862.3,342.7 862.7,342.1 863,344.5 863.4,344 863.7,346.4 864.1,348.1 864.4,349.8 864.8,352.4 865.1,353.5 865.5,351.8 865.8,353.3 866.2,356.1 866.5,356.2 866.9,355.3 867.2,357.6 867.6,356.7 867.9,357.5 868.3,357.6 868.6,359 869,361.8 869.3,360.6 869.7,360.6 870,363.5 870.4,361.3 870.7,362.2 871.1,362.7 871.4,363.9 871.8,363.9 872.1,366.2 872.5,365.4 872.8,366.9 873.2,367.4 873.5,367.2 873.9,367.7 874.2,369.1 874.6,367.5 874.9,370 875.3,370.3 875.6,370.5 876,370.4 876.3,370.8 876.7,370.1 877,371 877.4,368.9 877.7,371.1 878.1,369.5 878.4,370.7 878.8,369.8 879.1,369.8 879.5,369.4 879.8,371.3 880.2,369.1 880.5,369 880.9,370.2 881.2,370.2 881.6,370 881.9,369.1 882.3,369.3 882.6,370.7 883,368.9 883.3,370.3 883.7,370.4 884,369.8 884.4,368.6 884.7,371.3 885.1,369.6 885.4,369.6 885.8,369 886.1,368.3 886.5,368.8 886.8,369 887.2,367.9 887.5,368.6 887.9,369.3 888.2,368.5 888.6,367.9 888.9,368.7 889.3,368.4 889.6,368.2 890,366.5 890.3,365.4 890.7,367.6 891,366.8 891.4,366.2 891.7,366.8 892.1,365.8 892.4,365.5 892.8,367.5 893.1,364.2 893.5,366.2 893.8,366.2 894.2,366.7 894.5,365.2 894.9,365.2 895.2,363.7 895.6,364.4 895.9,362.2 896.3,363.3 896.6,363.5 897,363.1 897.3,362.4 897.7,363.6 898,360.7 898.4,361.9 898.7,361.1 899.1,361.1 899.4,360.8 899.8,362.1 900.1,359.1 900.5,360.9 900.8,360.6 901.2,358.9 901.5,358.2 901.9,357.5 902.2,357.8 902.6,360.4 902.9,356.7 903.3,359.1 903.6,358.3 904,360.9 904.3,359.8 904.7,358.6 905,359.6 905.4,360.6 905.7,360.8 906.1,360.2 906.4,361 906.8,361.2 907.1,362.3 907.5,362.4 907.8,362.7 908.2,362.3 908.5,363.8 908.9,362.7 909.2,362.4 909.6,362.5 909.9,362.3 910.3,361.8 910.6,359.7 911,361.8 911.3,360.2 911.7,359.8 912,357.2 912.4,357.2 912.7,355.6 913.1,354.4 913.4,354.9 913.8,351.8 914.1,352 914.5,349.3 914.8,351 915.2,350.1 915.5,349.4 915.9,350 916.2,349.1 916.6,350.7 916.9,352.6 917.3,350.9 917.6,355.1 918,355.8 918.3,355.1 918.7,355.3 919,356.2 919.4,357.1 919.7,358.3 920.1,361.6 920.4,359.3 920.8,361.6 921.1,362.6 921.5,361.2 921.8,362.3 922.2,363.5 922.5,362.8 922.9,364.9 923.2,366.1 923.6,364.5 923.9,364.2 924.3,365.9 924.6,366.1 925,365.5 925.3,366.5 925.7,367.1 926,367.7 926.4,368.4 926.7,366.9 927.1,366.1 927.4,365.6 927.8,368.4 928.1,365.9 928.5,365.3 928.8,367.2 929.2,365.4 929.5,365.8 929.9,363 930.2,361.8 930.6,361.4 930.9,361.8 931.3,360.9 931.6,360.3 932,361.3 932.3,359.9 932.7,357.2 933,358 933.4,357.7 933.7,356.1 934.1,358.4 934.4,356.8 934.8,357.1 935.1,355 935.5,354.1 935.8,355.6 936.2,354.5 936.5,353.9 936.9,354.2 937.2,354.4 937.6,354.3 937.9,354.1 938.3,354.8 938.6,357.1 939,355.8 939.3,354.5 939.7,357.1 940,355.1 940.4,354.4 940.7,354.8 941.1,354.5 941.4,357.7 941.8,355.9 942.1,355.9 942.5,357 942.8,357.6 943.2,357 943.5,357.9 943.9,358.8 944.2,359.7 944.6,358.6 944.9,360.3 945.3,360.4 945.6,361 946,360.4 946.3,360.1 946.7,362.4 947,362.4 947.4,361.6 947.7,361.9 948.1,363.6 948.4,365.1 948.8,363.9 949.1,366.1 949.5,364.3 949.8,364.6 950.2,364.9 950.5,365.6 950.9,363.5 951.2,365.1 951.6,366.2 951.9,363.8 952.3,365.6 952.6,366.2 953,367.2 953.3,367.2 953.7,365.9 954,368 954.4,365.2 954.7,365.1 955.1,367.7 955.4,367.3 955.8,365.8 956.1,367.9 956.5,367.9 956.8,367.9 957.2,367 957.5,366.4 957.9,366.1 958.2,367.6 958.6,367.8 958.9,367.6 959.3,367.6 959.6,369 960,367.2 960.3,367.5 960.7,370 961,367.5 961.4,367.4 961.7,368.9 962.1,366.1 962.4,369.1 962.8,366.4 963.1,366.7 963.5,366.1 963.8,366.3 964.2,366.4 964.5,367.8 964.9,366.8 965.2,368 965.6,367.3 965.9,365.4 966.3,366.4 966.6,365.7 967,365.8 967.3,366.1 967.7,366.2 968,366.2 968.4,363.8 968.7,365.5 969.1,365.2 969.4,367.2" fill="none" stroke="#4d7ccc" stroke-width="1.5" stroke-linejoin="round"/>
<path d="M998 364.5 L998.4 364.7 L998.7 365.1 L999.1 365.6 L999.4 366 L999.8 365.8 L1000.1 366.1 L1000.5 366.2 L1000.8 366.4 L1001.2 366.2 L1001.5 366.5 L1001.9 366.9 L1002.2 367.3 L1002.6 367.2 L1002.9 367.6 L1003.3 368.3 L1003.6 368.5 L1004 367.5 L1004.3 367.5 L1004.7 367.2 L1005 367.4 L1005.4 365.8 L1005.7 366.3 L1006.1 367.5 L1006.4 368.9 L1006.8 368.7 L1007.1 369 L1007.5 368.6 L1007.8 368.7 L1008.2 368.2 L1008.5 368.5 L1008.9 368.8 L1009.2 369.1 L1009.6 368.2 L1009.9 368.9 L1010.3 368.7 L1010.6 369.9 L1011 369.1 L1011.3 369.5 L1011.7 369.3 L1012 369.1 L1012.4 369.3 L1012.7 369.7 L1013.1 370 L1013.4 369.1 L1013.8 368.7 L1014.1 369 L1014.5 370 L1014.8 370.3 L1015.2 371.4 L1015.5 371.7 L1015.9 371.8 L1016.2 371.3 L1016.6 370 L1016.9 369.8 L1017.3 369.3 L1017.6 370.2 L1018 370.5 L1018.3 370.6 L1018.7 370.6 L1019 369.7 L1019.4 369.1 L1019.7 368 L1020.1 367.5 L1020.4 366.4 L1020.8 365.2 L1021.1 364.2 L1021.5 363 L1021.8 362.4 L1022.2 361.2 L1022.5 360.2 L1022.9 359.8 L1023.2 359 L1023.6 357.9 L1023.9 356 L1024.3 353.9 L1024.6 352.5 L1025 350.6 L1025.3 349.3 L1025.7 347.5 L1026 345.4 L1026.4 343.4 L1026.7 340.4 L1027.1 337.9 L1027.4 334.9 L1027.8 333.3 L1028.1 330.8 L1028.5 328.2 L1028.8 325.4 L1029.2 322.6 L1029.5 321.1 L1029.9 318.6 L1030.2 315.8 L1030.5 312.9 L1030.9 311 L1031.2 309.7 L1031.6 307.2 L1031.9 304.6 L1032.3 302.2 L1032.6 300.4 L1033 298 L1033.3 295.3 L1033.7 291.8 L1034 288.9 L1034.4 286.3 L1034.7 284 L1035.1 281.5 L1035.4 278.3 L1035.8 275.9 L1036.1 273.2 L1036.5 271.2 L1036.8 268.3 L1037.2 265.6 L1037.5 263.1 L1037.9 261.1 L1038.2 258.8 L1038.6 256.7 L1038.9 254.1 L1039.3 252.5 L1039.6 250.6 L1040 248.7 L1040.3 247.5 L1040.7 245.5 L1041 244.5 L1041.4 242 L1041.7 240.1 L1042.1 238.8 L1042.4 237.2 L1042.8 235.5 L1043.1 233.8 L1043.5 232.6 L1043.8 232.5 L1044.2 233.2 L1044.5 234.2 L1044.9 235.3 L1045.2 235.8 L1045.6 237.4 L1045.9 238.8 L1046.3 240.8 L1046.6 242.3 L1047 244.1 L1047.3 245.2 L1047.7 246.4 L1048 248 L1048.4 249.6 L1048.7 252 L1049.1 253.8 L1049.4 256.1 L1049.8 256.7 L1050.1 257.8 L1050.5 258.6 L1050.8 260.6 L1051.2 262.6 L1051.5 264.4 L1051.9 266.3 L1052.2 267 L1052.6 268.1 L1052.9 269.4 L1053.3 271.3 L1053.6 272.9 L1054 274.3 L1054.3 275.8 L1054.7 277 L1055 279.2 L1055.4 280.4 L1055.7 282.5 L1056.1 283.6 L1056.4 285.7 L1056.8 286.7 L1057.1 287.5 L1057.5 288.8 L1057.8 290.7 L1058.2 291.7 L1058.5 292 L1058.9 293.2 L1059.2 295.6 L1059.6 298 L1059.9 300 L1060.3 301.3 L1060.6 304 L1061 305.7 L1061.3 308.2 L1061.7 308.8 L1062 309.1 L1062.4 310.3 L1062.7 311.4 L1063.1 313.8 L1063.4 315.1 L1063.8 316.8 L1064.1 317.5 L1064.5 318.6 L1064.8 319.4 L1065.2 320.4 L1065.5 321.2 L1065.9 322.3 L1066.2 324.2 L1066.6 325.2 L1066.9 326.1 L1067.3 325.7 L1067.6 326.5 L1068 327.1 L1068.3 328.6 L1068.7 329.2 L1069 330.2 L1069.4 330.8 L1069.7 332.6 L1070.1 333.6 L1070.4 334.6 L1070.8 334.7 L1071.1 335.3 L1071.5 335.6 L1071.8 336.3 L1072.2 336.2 L1072.5 336.8 L1072.9 337.3 L1073.2 338.6 L1073.6 339.8 L1073.9 340.3 L1074.3 340.9 L1074.6 341.5 L1075 342.9 L1075.3 343.4 L1075.7 343.8 L1076 343.8 L1076.4 344.7 L1076.7 344.5 L1077.1 345.2 L1077.4 344.4 L1077.8 346.2 L1078.1 347 L1078.5 347.6 L1078.8 347.2 L1079.2 346.7 L1079.5 347.4 L1079.9 347.9 L1080.2 348.5 L1080.6 350 L1080.9 350.3 L1081.3 350.6 L1081.6 350.4 L1082 351.1 L1082.3 352.2 L1082.7 352.7 L1083 352.2 L1083.4 351.8 L1083.7 351.8 L1084.1 352.3 L1084.4 353.2 L1084.8 353.4 L1085.1 353.9 L1085.5 353.7 L1085.8 354.1 L1086.2 353.8 L1086.5 355 L1086.9 355 L1087.2 355.6 L1087.6 354.3 L1087.9 354.7 L1088.3 354.7 L1088.6 355.8 L1089 356.5 L1089.3 357.6 L1089.7 357.5 L1090 357.8 L1090.4 357.7 L1090.7 358.1 L1091.1 357.9 L1091.4 358 L1091.8 358.5 L1092.1 358.2 L1092.5 357.9 L1092.8 358.5 L1093.2 358.9 L1093.5 359.7 L1093.9 359.6 L1094.2 360 L1094.6 359.9 L1094.9 359.9 L1095.3 359.9 L1095.6 360.8 L1096 360.9 L1096.3 361.4 L1096.7 361.6 L1097 361.4 L1097.4 361 L1097.7 361.2 L1098.1 362.4 L1098.4 363.2 L1098.8 362.8 L1099.1 362.9 L1099.5 363.2 L1099.8 364 L1100.2 363 L1100.5 362.8 L1100.9 362.2 L1101.2 362.6 L1101.6 363 L1101.9 363.8 L1102.3 364.2 L1102.6 364 L1103 364.4 L1103.3 365 L1103.7 365.2 L1104 365 L1104.4 364.9 L1104.7 364.6 L1105.1 364.4 L1105.4 364.6 L1105.8 365.5 L1106.1 365.3 L1106.5 365.1 L1106.8 364.7 L1107.2 364.7 L1107.5 365.6 L1107.9 366.2 L1108.2 367.4 L1108.6 366.3 L1108.9 365.9 L1109.3 366.3 L1109.6 366.7 L1110 366.5 L1110.3 366 L1110.7 367.3 L1111 368.4 L1111.4 368 L1111.7 367.8 L1112.1 367.8 L1112.4 368.4 L1112.8 368.4 L1113.1 368.7 L1113.5 369.2 L1113.8 369.7 L1114.2 369.8 L1114.5 369.4 L1114.9 368.3 L1115.2 368.2 L1115.6 367.7 L1115.9 369.5 L1116.3 368.9 L1116.6 368.9 L1117 367.3 L1117.3 368 L1117.7 369 L1118 370.1 L1118.4 370.1 L1118.7 369.8 L1119.1 370 L1119.4 369.7 L1119.8 369.5 L1120.1 369.6 L1120.5 370.2 L1120.8 370.5 L1121.2 370.2 L1121.5 370.5 L1121.9 371.3 L1122.2 371.1 L1122.6 371.2 L1122.9 369.9 L1123.3 370.5 L1123.6 370.3 L1124 371.4 L1124.3 371.5 L1124.7 370.8 L1125 370.9 L1125.4 371.2 L1125.7 371.5 L1126.1 371.7 L1126.4 371.6 L1126.8 371.1 L1127.1 371 L1127.5 371.3 L1127.8 371.7 L1128.2 372.1 L1128.5 372.1 L1128.9 372.3 L1129.2 372.3 L1129.6 372.6 L1129.9 373.4 L1130.3 373.2 L1130.6 373.3 L1131 373.1 L1131.3 373.6 L1131.7 373.8 L1132 373.9 L1132.4 374 L1132.7 373.8 L1133.1 373.8 L1133.4 374.1 L1133.8 373.7 L1134.1 372.8 L1134.5 372.9 L1134.8 373.2 L1135.2 374.1 L1135.5 373.5 L1135.9 373.2 L1136.2 373 L1136.6 372.6 L1136.9 373 L1137.3 372.9 L1137.6 372.9 L1138 372.7 L1138.3 372.6 L1138.7 372.9 L1139 373 L1139.4 374.2 L1139.7 373.8 L1140.1 373.8 L1140.4 373 L1140.8 373.6 L1141.1 374 L1141.5 373.5 L1141.8 373.2 L1142.2 372.7 L1142.5 372.3 L1142.9 372.8 L1143.2 372.4 L1143.6 373.1 L1143.9 373.1 L1144.3 373.3 L1144.6 373 L1145 372.5 L1145.3 373.5 L1145.7 373.6 L1146 373 L1146.4 372.8 L1146.7 373.1 L1147.1 373 L1147.4 371.5 L1147.8 372.1 L1148.1 372.9 L1148.5 373.1 L1148.8 372.5 L1149.2 373.1 L1149.5 372.9 L1149.9 373 L1150.2 372.8 L1150.6 373.7 L1150.9 372.9 L1151.3 372.8 L1151.6 372.5 L1152 372.8 L1152.3 372.5 L1152.7 372.7 L1153 372.8 L1153.4 373.3 L1153.7 373.8 L1153.7 378.3 L1153.4 378.4 L1153 378.7 L1152.7 379.3 L1152.3 379.6 L1152 380 L1151.6 379.9 L1151.3 380.5 L1150.9 380.1 L1150.6 379.4 L1150.2 378.9 L1149.9 379.3 L1149.5 379.2 L1149.2 379.1 L1148.8 378.7 L1148.5 378.8 L1148.1 379.4 L1147.8 379.2 L1147.4 379.7 L1147.1 378.8 L1146.7 379.2 L1146.4 379.3 L1146 380.3 L1145.7 380.4 L1145.3 380.2 L1145 379.7 L1144.6 379.8 L1144.3 379.5 L1143.9 379.8 L1143.6 379.4 L1143.2 378.7 L1142.9 378.6 L1142.5 379 L1142.2 380.3 L1141.8 380.6 L1141.5 380.6 L1141.1 380.3 L1140.8 380.2 L1140.4 380.1 L1140.1 380.4 L1139.7 380.7 L1139.4 380.6 L1139 380.5 L1138.7 380.6 L1138.3 381.1 L1138 380.3 L1137.6 379.6 L1137.3 379.7 L1136.9 380.2 L1136.6 380.6 L1136.2 380.1 L1135.9 379.9 L1135.5 380.3 L1135.2 380.1 L1134.8 380.2 L1134.5 379.4 L1134.1 380 L1133.8 379.7 L1133.4 380.8 L1133.1 380.1 L1132.7 380.5 L1132.4 379.1 L1132 379.5 L1131.7 380 L1131.3 380.1 L1131 380.4 L1130.6 380.2 L1130.3 381.1 L1129.9 380.6 L1129.6 380.4 L1129.2 380 L1128.9 380.1 L1128.5 381.1 L1128.2 381.3 L1127.8 381.3 L1127.5 381 L1127.1 380.6 L1126.8 380.7 L1126.4 380.4 L1126.1 380.7 L1125.7 380.9 L1125.4 380.6 L1125 380.7 L1124.7 380.5 L1124.3 380.6 L1124 380.2 L1123.6 380.2 L1123.3 379.9 L1122.9 380.7 L1122.6 379.9 L1122.2 380 L1121.9 378.7 L1121.5 378.6 L1121.2 377.7 L1120.8 377.5 L1120.5 377.2 L1120.1 377.9 L1119.8 378.4 L1119.4 378.8 L1119.1 378.2 L1118.7 378.2 L1118.4 378.4 L1118 378.3 L1117.7 377.9 L1117.3 377.7 L1117 378.1 L1116.6 378.3 L1116.3 378 L1115.9 378 L1115.6 378 L1115.2 378.4 L1114.9 378.4 L1114.5 377.7 L1114.2 376.9 L1113.8 376.1 L1113.5 376.2 L1113.1 376.5 L1112.8 377.1 L1112.4 377.1 L1112.1 376.6 L1111.7 376.3 L1111.4 376.1 L1111 376.2 L1110.7 376.1 L1110.3 376.5 L1110 376.4 L1109.6 376.1 L1109.3 375.6 L1108.9 375.5 L1108.6 376.3 L1108.2 376.6 L1107.9 376.6 L1107.5 376.5 L1107.2 376.5 L1106.8 376.7 L1106.5 375.7 L1106.1 375 L1105.8 374.6 L1105.4 374.6 L1105.1 374.3 L1104.7 374.5 L1104.4 374.3 L1104 374.8 L1103.7 374.3 L1103.3 374.3 L1103 373.6 L1102.6 373.6 L1102.3 373 L1101.9 373.3 L1101.6 373 L1101.2 373.2 L1100.9 373.5 L1100.5 373.1 L1100.2 372.7 L1099.8 372.5 L1099.5 373 L1099.1 373.7 L1098.8 373.2 L1098.4 373.2 L1098.1 372.2 L1097.7 371.7 L1097.4 371.6 L1097 372.2 L1096.7 372.7 L1096.3 372.2 L1096 371.7 L1095.6 371.5 L1095.3 372 L1094.9 371.9 L1094.6 370.9 L1094.2 370.9 L1093.9 370.4 L1093.5 370.6 L1093.2 370.2 L1092.8 370 L1092.5 370.6 L1092.1 370.4 L1091.8 370.7 L1091.4 370.6 L1091.1 370.3 L1090.7 369.8 L1090.4 369.3 L1090 369.2 L1089.7 369.5 L1089.3 369.3 L1089 368.1 L1088.6 366.8 L1088.3 366.5 L1087.9 367.1 L1087.6 367.7 L1087.2 367.4 L1086.9 367.6 L1086.5 368.3 L1086.2 367.4 L1085.8 366.1 L1085.5 365 L1085.1 365.5 L1084.8 365 L1084.4 364.6 L1084.1 364.7 L1083.7 365 L1083.4 365.4 L1083 364.5 L1082.7 364.1 L1082.3 362.8 L1082 363 L1081.6 362.1 L1081.3 362 L1080.9 361.8 L1080.6 362.4 L1080.2 362.3 L1079.9 361.1 L1079.5 361 L1079.2 360.5 L1078.8 361.1 L1078.5 361.1 L1078.1 360.6 L1077.8 360 L1077.4 358.5 L1077.1 358.9 L1076.7 358.5 L1076.4 358.8 L1076 357.5 L1075.7 357.6 L1075.3 357.4 L1075 358.2 L1074.6 358.4 L1074.3 358.4 L1073.9 358 L1073.6 357 L1073.2 356.7 L1072.9 356.6 L1072.5 356.2 L1072.2 355.3 L1071.8 355.6 L1071.5 355.6 L1071.1 355.8 L1070.8 354.2 L1070.4 353.1 L1070.1 352.2 L1069.7 351.8 L1069.4 351.8 L1069 351.5 L1068.7 350.6 L1068.3 350.2 L1068 349 L1067.6 349.4 L1067.3 348.7 L1066.9 348.3 L1066.6 347 L1066.2 346.3 L1065.9 345.4 L1065.5 344.9 L1065.2 344.3 L1064.8 344.3 L1064.5 344 L1064.1 343 L1063.8 341.9 L1063.4 340.9 L1063.1 340.7 L1062.7 339.7 L1062.4 339.2 L1062 338.8 L1061.7 337.8 L1061.3 336.7 L1061 335 L1060.6 334.9 L1060.3 333.3 L1059.9 332 L1059.6 330.4 L1059.2 330 L1058.9 328.5 L1058.5 327.2 L1058.2 325.8 L1057.8 325.4 L1057.5 325.2 L1057.1 324.4 L1056.8 323.4 L1056.4 322.1 L1056.1 320.4 L1055.7 319.5 L1055.4 318.3 L1055 317.9 L1054.7 316.6 L1054.3 316.5 L1054 315.8 L1053.6 314.7 L1053.3 313.7 L1052.9 313 L1052.6 312.2 L1052.2 310.3 L1051.9 308.8 L1051.5 308.3 L1051.2 308.7 L1050.8 308.7 L1050.5 308 L1050.1 306.7 L1049.8 305.9 L1049.4 304.9 L1049.1 304.4 L1048.7 303.3 L1048.4 303.2 L1048 302.3 L1047.7 302.6 L1047.3 301.6 L1047 301 L1046.6 299.5 L1046.3 298.5 L1045.9 297.9 L1045.6 296.6 L1045.2 296.4 L1044.9 295.9 L1044.5 296.4 L1044.2 296.4 L1043.8 296.5 L1043.5 296.2 L1043.1 296.8 L1042.8 297.4 L1042.4 298.7 L1042.1 298.7 L1041.7 299.5 L1041.4 299.7 L1041 300.1 L1040.7 300.3 L1040.3 300.8 L1040 302.2 L1039.6 303.3 L1039.3 303.9 L1038.9 304.8 L1038.6 305 L1038.2 306 L1037.9 306.6 L1037.5 308 L1037.2 309.6 L1036.8 311.6 L1036.5 313.2 L1036.1 315 L1035.8 316.4 L1035.4 318.3 L1035.1 319.8 L1034.7 321.9 L1034.4 322.8 L1034 324.4 L1033.7 326 L1033.3 328.2 L1033 329.6 L1032.6 331.3 L1032.3 332.5 L1031.9 334.5 L1031.6 336.3 L1031.2 338.3 L1030.9 340 L1030.5 340.8 L1030.2 341.9 L1029.9 343.4 L1029.5 345.1 L1029.2 347.2 L1028.8 349.2 L1028.5 351 L1028.1 352.5 L1027.8 353.7 L1027.4 355.6 L1027.1 357.2 L1026.7 358.5 L1026.4 360.1 L1026 362.1 L1025.7 363.5 L1025.3 364.6 L1025 364.8 L1024.6 365.9 L1024.3 366.9 L1023.9 367.9 L1023.6 367.4 L1023.2 367.4 L1022.9 368.3 L1022.5 369.3 L1022.2 369.3 L1021.8 369.6 L1021.5 369.4 L1021.1 370 L1020.8 370.3 L1020.4 371.5 L1020.1 371.8 L1019.7 371.9 L1019.4 373.5 L1019 373.3 L1018.7 373.9 L1018.3 373.6 L1018 374.5 L1017.6 374.2 L1017.3 373.4 L1016.9 374.2 L1016.6 374.8 L1016.2 375.2 L1015.9 374.7 L1015.5 374.8 L1015.2 374.9 L1014.8 375 L1014.5 375.2 L1014.1 374.3 L1013.8 373.4 L1013.4 373.1 L1013.1 373 L1012.7 373.5 L1012.4 373.8 L1012 374.1 L1011.7 373.4 L1011.3 372.3 L1011 372.1 L1010.6 373.1 L1010.3 373.1 L1009.9 373.6 L1009.6 373 L1009.2 372.4 L1008.9 370.8 L1008.5 371 L1008.2 371.1 L1007.8 371.5 L1007.5 370.8 L1007.1 371.1 L1006.8 371.4 L1006.4 371.5 L1006.1 371.8 L1005.7 371.9 L1005.4 372.2 L1005 371.9 L1004.7 370.9 L1004.3 371.2 L1004 370.5 L1003.6 371.2 L1003.3 370.6 L1002.9 370.5 L1002.6 370.1 L1002.2 370.7 L1001.9 370.7 L1001.5 370.3 L1001.2 369.1 L1000.8 368 L1000.5 368.5 L1000.1 368.6 L999.8 369.4 L999.4 368.3 L999.1 368.8 L998.7 368.9 L998.4 369.7 L998 369.2Z" fill="#a6a6a6"/>
<path d="M998 366.9 L998.4 366.9 L998.7 366.3 L999.1 366.4 L999.4 366.4 L999.8 367.3 L1000.1 367.1 L1000.5 366.9 L1000.8 366.5 L1001.2 366.9 L1001.5 367.1 L1001.9 367.3 L1002.2 367.6 L1002.6 367.6 L1002.9 367.7 L1003.3 367.3 L1003.6 366.6 L1004 366.7 L1004.3 366.6 L1004.7 367.2 L1005 366.4 L1005.4 367.3 L1005.7 367.8 L1006.1 368.2 L1006.4 367.7 L1006.8 367.7 L1007.1 368.7 L1007.5 368.6 L1007.8 368.6 L1008.2 367.4 L1008.5 367.2 L1008.9 366.8 L1009.2 367 L1009.6 366.6 L1009.9 367 L1010.3 366.7 L1010.6 366.9 L1011 366.6 L1011.3 367.5 L1011.7 368.4 L1012 368.4 L1012.4 367.4 L1012.7 366.3 L1013.1 366.4 L1013.4 367.2 L1013.8 368.1 L1014.1 368.1 L1014.5 367.4 L1014.8 367.3 L1015.2 367.9 L1015.5 368.2 L1015.9 368.2 L1016.2 367.6 L1016.6 367.5 L1016.9 367.9 L1017.3 367.6 L1017.6 368 L1018 367 L1018.3 366.8 L1018.7 366.1 L1019 366 L1019.4 365.1 L1019.7 364 L1020.1 363 L1020.4 362.5 L1020.8 361.8 L1021.1 361.4 L1021.5 360.2 L1021.8 359.9 L1022.2 359.2 L1022.5 358.3 L1022.9 357.2 L1023.2 355.8 L1023.6 354.9 L1023.9 354.3 L1024.3 354.3 L1024.6 354.1 L1025 353.7 L1025.3 353 L1025.7 352 L1026 351.4 L1026.4 351.5 L1026.7 352.6 L1027.1 351.9 L1027.4 350.6 L1027.8 349.9 L1028.1 350 L1028.5 350.4 L1028.8 349.7 L1029.2 349.8 L1029.5 349.8 L1029.9 349.5 L1030.2 349 L1030.5 348.4 L1030.9 348.5 L1031.2 348.3 L1031.6 348.2 L1031.9 347.9 L1032.3 347.6 L1032.6 346.9 L1033 346.8 L1033.3 346.4 L1033.7 345.9 L1034 345.1 L1034.4 345.3 L1034.7 345.6 L1035.1 345.9 L1035.4 346 L1035.8 346.5 L1036.1 346.8 L1036.5 346.6 L1036.8 346.7 L1037.2 347.3 L1037.5 347.1 L1037.9 346.9 L1038.2 346.3 L1038.6 346.7 L1038.9 347.3 L1039.3 348.8 L1039.6 349.2 L1040 348.6 L1040.3 347.5 L1040.7 348 L1041 349 L1041.4 349.9 L1041.7 350.1 L1042.1 349.6 L1042.4 349 L1042.8 348.9 L1043.1 349.6 L1043.5 349.8 L1043.8 349.6 L1044.2 349.9 L1044.5 349.6 L1044.9 350.8 L1045.2 350 L1045.6 351.1 L1045.9 350.4 L1046.3 351.6 L1046.6 351.3 L1047 351.7 L1047.3 351.5 L1047.7 351.7 L1048 351.3 L1048.4 351.1 L1048.7 351 L1049.1 351.8 L1049.4 350.8 L1049.8 351.7 L1050.1 352.7 L1050.5 354.4 L1050.8 353.8 L1051.2 352.9 L1051.5 352.6 L1051.9 352.7 L1052.2 353.7 L1052.6 353.3 L1052.9 353.5 L1053.3 353.1 L1053.6 353.7 L1054 354.9 L1054.3 355 L1054.7 355.8 L1055 355.1 L1055.4 355.3 L1055.7 355.2 L1056.1 356 L1056.4 355.9 L1056.8 356.1 L1057.1 356 L1057.5 356.1 L1057.8 357.3 L1058.2 357.1 L1058.5 357.7 L1058.9 357.9 L1059.2 357.6 L1059.6 358.5 L1059.9 357.7 L1060.3 358.2 L1060.6 358 L1061 359.2 L1061.3 359.6 L1061.7 359.5 L1062 359 L1062.4 359.2 L1062.7 359.4 L1063.1 359.6 L1063.4 359.5 L1063.8 359.2 L1064.1 358.4 L1064.5 359 L1064.8 359.4 L1065.2 360.5 L1065.5 360.8 L1065.9 361.2 L1066.2 361.6 L1066.6 361.7 L1066.9 362.3 L1067.3 362.2 L1067.6 362 L1068 362.1 L1068.3 361.9 L1068.7 362.8 L1069 362.5 L1069.4 362.8 L1069.7 362.8 L1070.1 363.9 L1070.4 363.9 L1070.8 363.6 L1071.1 363.4 L1071.5 365.1 L1071.8 364.6 L1072.2 364.3 L1072.5 363.2 L1072.9 363.7 L1073.2 364.9 L1073.6 365.5 L1073.9 366.3 L1074.3 365.5 L1074.6 366 L1075 366.4 L1075.3 366.6 L1075.7 366 L1076 366.1 L1076.4 366.4 L1076.7 366.4 L1077.1 366.1 L1077.4 366 L1077.8 367.1 L1078.1 366.7 L1078.5 367.4 L1078.8 366.9 L1079.2 367.6 L1079.5 367.2 L1079.9 367.7 L1080.2 367.7 L1080.6 368.5 L1080.9 368.3 L1081.3 368.6 L1081.6 367.9 L1082 367.7 L1082.3 367.9 L1082.7 368.6 L1083 368.3 L1083.4 367.9 L1083.7 367.2 L1084.1 367.5 L1084.4 367.1 L1084.8 367.9 L1085.1 368.8 L1085.5 369 L1085.8 369.3 L1086.2 368.6 L1086.5 369.5 L1086.9 369.6 L1087.2 369.9 L1087.6 370.1 L1087.9 369.5 L1088.3 369.7 L1088.6 369.2 L1089 369.4 L1089.3 369.5 L1089.7 370.2 L1090 370.2 L1090.4 369.7 L1090.7 369.1 L1091.1 369.7 L1091.4 370.1 L1091.8 370.6 L1092.1 369.8 L1092.5 370.4 L1092.8 370.9 L1093.2 372.1 L1093.5 371.5 L1093.9 370.6 L1094.2 369.5 L1094.6 369.7 L1094.9 370.1 L1095.3 370.5 L1095.6 371.4 L1096 371.7 L1096.3 371.7 L1096.7 371.4 L1097 371.3 L1097.4 371.8 L1097.7 372.6 L1098.1 372.4 L1098.4 372.6 L1098.8 372 L1099.1 372.1 L1099.5 372 L1099.8 371.6 L1100.2 373 L1100.5 373.1 L1100.9 373.3 L1101.2 372.3 L1101.6 371.8 L1101.9 371.9 L1102.3 371.8 L1102.6 371.7 L1103 371.4 L1103.3 372.1 L1103.7 372.5 L1104 373.2 L1104.4 372.5 L1104.7 372.4 L1105.1 372 L1105.4 373.2 L1105.8 374 L1106.1 374.6 L1106.5 373.6 L1106.8 373.1 L1107.2 373 L1107.5 373.4 L1107.9 373 L1108.2 372.4 L1108.6 372.4 L1108.9 373 L1109.3 373.3 L1109.6 372.6 L1110 371.9 L1110.3 371.7 L1110.7 371.9 L1111 372.6 L1111.4 373.2 L1111.7 373.7 L1112.1 374.1 L1112.4 373.8 L1112.8 374.3 L1113.1 374.1 L1113.5 374.5 L1113.8 374 L1114.2 373.5 L1114.5 373.9 L1114.9 374.3 L1115.2 375.2 L1115.6 374.7 L1115.9 373.9 L1116.3 373.8 L1116.6 373.8 L1117 375.2 L1117.3 374.7 L1117.7 374.5 L1118 373.3 L1118.4 373.4 L1118.7 373.1 L1119.1 373.2 L1119.4 373.5 L1119.8 374.9 L1120.1 375.9 L1120.5 376.5 L1120.8 375.3 L1121.2 374.7 L1121.5 374.6 L1121.9 375.4 L1122.2 374.9 L1122.6 375.1 L1122.9 374.7 L1123.3 374.8 L1123.6 375.1 L1124 375.5 L1124.3 375.8 L1124.7 375.6 L1125 375.1 L1125.4 374.1 L1125.7 374.1 L1126.1 374.1 L1126.4 374.8 L1126.8 374.1 L1127.1 374.8 L1127.5 374.8 L1127.8 374.6 L1128.2 373.1 L1128.5 373.1 L1128.9 372.7 L1129.2 373.3 L1129.6 373.4 L1129.9 374.5 L1130.3 374.4 L1130.6 373.5 L1131 371.8 L1131.3 371.6 L1131.7 372.4 L1132 372.8 L1132.4 373.3 L1132.7 373.1 L1133.1 374.6 L1133.4 373.4 L1133.8 372.8 L1134.1 372.4 L1134.5 373.3 L1134.8 373.2 L1135.2 373 L1135.5 372.8 L1135.9 373.4 L1136.2 372.6 L1136.6 372.1 L1136.9 371.8 L1137.3 372 L1137.6 372 L1138 372.7 L1138.3 372.2 L1138.7 373.1 L1139 372.2 L1139.4 373 L1139.7 371.5 L1140.1 372 L1140.4 371.2 L1140.8 372.6 L1141.1 372.4 L1141.5 373.3 L1141.8 372.4 L1142.2 372 L1142.5 371.5 L1142.9 371.7 L1143.2 372.3 L1143.6 371.5 L1143.9 371.4 L1144.3 370.4 L1144.6 371.7 L1145 371.7 L1145.3 372.2 L1145.7 371.4 L1146 370.8 L1146.4 370.7 L1146.7 370.9 L1147.1 371 L1147.4 371.2 L1147.8 370.9 L1148.1 371.3 L1148.5 370.2 L1148.8 370.2 L1149.2 369.7 L1149.5 370.6 L1149.9 371 L1150.2 370.7 L1150.6 370.1 L1150.9 369.6 L1151.3 369.5 L1151.6 370.1 L1152 370.1 L1152.3 369.8 L1152.7 368.7 L1153 369.4 L1153.4 369.6 L1153.7 370.4 L1153.7 375.6 L1153.4 375 L1153 375.4 L1152.7 375 L1152.3 376.2 L1152 376.2 L1151.6 377 L1151.3 376.8 L1150.9 376.7 L1150.6 375.9 L1150.2 375.5 L1149.9 375.6 L1149.5 376.3 L1149.2 376.5 L1148.8 376.1 L1148.5 376.3 L1148.1 376.6 L1147.8 377 L1147.4 375.9 L1147.1 376.3 L1146.7 376.6 L1146.4 377.6 L1146 377.2 L1145.7 377.1 L1145.3 377.3 L1145 378.3 L1144.6 378.3 L1144.3 378.2 L1143.9 377.1 L1143.6 377.2 L1143.2 377.8 L1142.9 377.7 L1142.5 377.4 L1142.2 377.2 L1141.8 377.6 L1141.5 378.6 L1141.1 378.6 L1140.8 378.9 L1140.4 378.6 L1140.1 379.4 L1139.7 379.2 L1139.4 378.9 L1139 378.2 L1138.7 379.5 L1138.3 379.3 L1138 379.7 L1137.6 378.5 L1137.3 378.8 L1136.9 378.5 L1136.6 379.7 L1136.2 379.8 L1135.9 379.8 L1135.5 379.5 L1135.2 379.4 L1134.8 379.5 L1134.5 379.3 L1134.1 379.8 L1133.8 379.7 L1133.4 379.6 L1133.1 378.7 L1132.7 378.7 L1132.4 378.4 L1132 378.9 L1131.7 379 L1131.3 380.2 L1131 380.4 L1130.6 381.1 L1130.3 380.8 L1129.9 381.1 L1129.6 380.2 L1129.2 380.7 L1128.9 380.2 L1128.5 381.3 L1128.2 381.4 L1127.8 381.3 L1127.5 381.1 L1127.1 379.9 L1126.8 380.6 L1126.4 380.7 L1126.1 382.1 L1125.7 382.5 L1125.4 382.5 L1125 381.5 L1124.7 380.8 L1124.3 380.5 L1124 381.1 L1123.6 381.3 L1123.3 381.7 L1122.9 382.3 L1122.6 382.1 L1122.2 382.2 L1121.9 381.4 L1121.5 381.8 L1121.2 381.7 L1120.8 381.4 L1120.5 381.5 L1120.1 381.1 L1119.8 381.9 L1119.4 381.4 L1119.1 381.2 L1118.7 381.1 L1118.4 382.1 L1118 382.7 L1117.7 382.6 L1117.3 381.8 L1117 380.9 L1116.6 381 L1116.3 381.1 L1115.9 382.1 L1115.6 380.7 L1115.2 380.4 L1114.9 379.8 L1114.5 380.3 L1114.2 380.9 L1113.8 381.4 L1113.5 381.6 L1113.1 381.9 L1112.8 381.5 L1112.4 381.8 L1112.1 381.2 L1111.7 380.9 L1111.4 380.3 L1111 379.8 L1110.7 379.6 L1110.3 379.8 L1110 380.2 L1109.6 380.5 L1109.3 380.6 L1108.9 381 L1108.6 381 L1108.2 380.4 L1107.9 380 L1107.5 380 L1107.2 380.2 L1106.8 380.2 L1106.5 380.7 L1106.1 381 L1105.8 381.2 L1105.4 380.1 L1105.1 379.8 L1104.7 379.4 L1104.4 379.3 L1104 378.3 L1103.7 378.4 L1103.3 378.7 L1103 379.6 L1102.6 380.4 L1102.3 381 L1101.9 380.8 L1101.6 380.1 L1101.2 379.7 L1100.9 379.6 L1100.5 379 L1100.2 378.5 L1099.8 378.8 L1099.5 379 L1099.1 378.4 L1098.8 378.1 L1098.4 378.4 L1098.1 378.4 L1097.7 377.9 L1097.4 377.3 L1097 377.8 L1096.7 378.8 L1096.3 379.6 L1096 380.2 L1095.6 380.5 L1095.3 379.8 L1094.9 379.6 L1094.6 378.7 L1094.2 379.3 L1093.9 378.4 L1093.5 378.6 L1093.2 378 L1092.8 378.6 L1092.5 378 L1092.1 378.3 L1091.8 377.6 L1091.4 378.8 L1091.1 379.1 L1090.7 379.2 L1090.4 378.8 L1090 378.2 L1089.7 377.8 L1089.3 376 L1089 375.9 L1088.6 376.2 L1088.3 377.8 L1087.9 377.6 L1087.6 377.8 L1087.2 376.9 L1086.9 377.3 L1086.5 377.1 L1086.2 377.6 L1085.8 376.8 L1085.5 375.9 L1085.1 375.8 L1084.8 376.4 L1084.4 376.7 L1084.1 376.6 L1083.7 376 L1083.4 376.7 L1083 376.8 L1082.7 377.6 L1082.3 377.4 L1082 376.7 L1081.6 376 L1081.3 376 L1080.9 375.8 L1080.6 375.4 L1080.2 374.6 L1079.9 374.9 L1079.5 375.1 L1079.2 375.7 L1078.8 374.9 L1078.5 374.5 L1078.1 373.6 L1077.8 374.3 L1077.4 374.1 L1077.1 374.6 L1076.7 373.9 L1076.4 375 L1076 374.7 L1075.7 375.8 L1075.3 375.3 L1075 375.3 L1074.6 375.1 L1074.3 374.7 L1073.9 375 L1073.6 374 L1073.2 373.9 L1072.9 373.3 L1072.5 373.6 L1072.2 374.3 L1071.8 374.3 L1071.5 373.8 L1071.1 373.3 L1070.8 373.4 L1070.4 373.6 L1070.1 372.1 L1069.7 372 L1069.4 371.9 L1069 372.6 L1068.7 372 L1068.3 371.5 L1068 371.2 L1067.6 370.9 L1067.3 370.8 L1066.9 370.1 L1066.6 370.3 L1066.2 369.6 L1065.9 369.7 L1065.5 370.1 L1065.2 370.8 L1064.8 370.8 L1064.5 369.4 L1064.1 368.5 L1063.8 367.7 L1063.4 368.4 L1063.1 368.5 L1062.7 368.8 L1062.4 368.3 L1062 368.5 L1061.7 368 L1061.3 367.9 L1061 367.2 L1060.6 367 L1060.3 366 L1059.9 365.6 L1059.6 366.2 L1059.2 366.4 L1058.9 366.4 L1058.5 366.1 L1058.2 366.2 L1057.8 366.5 L1057.5 366.4 L1057.1 366 L1056.8 366 L1056.4 365.5 L1056.1 365.6 L1055.7 365.3 L1055.4 365.5 L1055 364.8 L1054.7 364 L1054.3 363 L1054 362.9 L1053.6 363.3 L1053.3 363.5 L1052.9 364.1 L1052.6 363.6 L1052.2 363.6 L1051.9 362.4 L1051.5 362.3 L1051.2 362.5 L1050.8 363 L1050.5 363 L1050.1 362.9 L1049.8 362.5 L1049.4 362.5 L1049.1 362 L1048.7 362.4 L1048.4 362.1 L1048 362.2 L1047.7 362 L1047.3 362.1 L1047 361.3 L1046.6 361.1 L1046.3 360 L1045.9 359.4 L1045.6 358.9 L1045.2 359.3 L1044.9 359.3 L1044.5 360.1 L1044.2 359.7 L1043.8 360.3 L1043.5 358.8 L1043.1 359 L1042.8 358 L1042.4 358.3 L1042.1 358.6 L1041.7 358.7 L1041.4 358.7 L1041 358 L1040.7 358.8 L1040.3 358.2 L1040 357.6 L1039.6 357.4 L1039.3 357.3 L1038.9 357.9 L1038.6 357 L1038.2 356.9 L1037.9 357.7 L1037.5 357.8 L1037.2 358 L1036.8 356.3 L1036.5 356.4 L1036.1 356.5 L1035.8 356.9 L1035.4 356.6 L1035.1 356.4 L1034.7 356.4 L1034.4 356 L1034 356.7 L1033.7 356.6 L1033.3 357 L1033 356.3 L1032.6 356.6 L1032.3 356.6 L1031.9 356.5 L1031.6 356.7 L1031.2 357.4 L1030.9 358.8 L1030.5 359.7 L1030.2 359.7 L1029.9 359.9 L1029.5 358.4 L1029.2 357.9 L1028.8 357 L1028.5 358.7 L1028.1 359.5 L1027.8 360.2 L1027.4 359.9 L1027.1 360.4 L1026.7 360.9 L1026.4 361.4 L1026 361.5 L1025.7 361.7 L1025.3 362.5 L1025 362.5 L1024.6 363.1 L1024.3 362.3 L1023.9 362.6 L1023.6 362.6 L1023.2 363.9 L1022.9 365.4 L1022.5 367.3 L1022.2 368.2 L1021.8 368.8 L1021.5 368.8 L1021.1 369.9 L1020.8 370.9 L1020.4 371.2 L1020.1 371.7 L1019.7 371.8 L1019.4 372.1 L1019 372.6 L1018.7 373.1 L1018.3 374 L1018 374.8 L1017.6 375.2 L1017.3 375.5 L1016.9 374.8 L1016.6 374.4 L1016.2 374.5 L1015.9 374.5 L1015.5 375.4 L1015.2 375 L1014.8 374.8 L1014.5 374.1 L1014.1 374.5 L1013.8 374.4 L1013.4 373.6 L1013.1 372.8 L1012.7 373 L1012.4 373.7 L1012 374.1 L1011.7 373.7 L1011.3 373.4 L1011 373.4 L1010.6 373.8 L1010.3 373.5 L1009.9 372.8 L1009.6 372.7 L1009.2 372.7 L1008.9 373 L1008.5 373 L1008.2 372.9 L1007.8 373.2 L1007.5 373 L1007.1 373.7 L1006.8 373.8 L1006.4 373.2 L1006.1 372.8 L1005.7 372.3 L1005.4 372.6 L1005 372.4 L1004.7 372.7 L1004.3 372.5 L1004 372.8 L1003.6 372.4 L1003.3 372.4 L1002.9 371.4 L1002.6 370.5 L1002.2 370.4 L1001.9 371.5 L1001.5 371.8 L1001.2 371.3 L1000.8 370.2 L1000.5 370.7 L1000.1 370.7 L999.8 370.3 L999.4 370.1 L999.1 370.4 L998.7 371 L998.4 371.4 L998 371.7Z" fill="#b9cdef"/>
<polyline points="998,365.4 998.4,365.5 998.7,368 999.1,364 999.4,367 999.8,364.3 1000.1,368.9 1000.5,367.8 1000.8,369.5 1001.2,367.1 1001.5,368.4 1001.9,367.6 1002.2,367.2 1002.6,368.5 1002.9,366.7 1003.3,368 1003.6,369.6 1004,368.8 1004.3,368.3 1004.7,372 1005,369.2 1005.4,368.4 1005.7,369.6 1006.1,368.8 1006.4,369.1 1006.8,369.2 1007.1,372.6 1007.5,370 1007.8,370.3 1008.2,371.1 1008.5,373 1008.9,370.1 1009.2,369.7 1009.6,374 1009.9,368.8 1010.3,370.4 1010.6,371.9 1011,374.3 1011.3,370 1011.7,368.1 1012,372.4 1012.4,370.9 1012.7,371.2 1013.1,372.5 1013.4,372.3 1013.8,372.5 1014.1,371.7 1014.5,374.1 1014.8,374.5 1015.2,372.7 1015.5,372.1 1015.9,373.8 1016.2,373.6 1016.6,371.7 1016.9,372.5 1017.3,374.5 1017.6,372.8 1018,372.3 1018.3,372.7 1018.7,371.9 1019,371.4 1019.4,368.2 1019.7,372.5 1020.1,369.7 1020.4,367.5 1020.8,369.3 1021.1,367.7 1021.5,366.6 1021.8,367.3 1022.2,368.2 1022.5,365.2 1022.9,365.9 1023.2,366 1023.6,360.9 1023.9,360.7 1024.3,361.4 1024.6,356.8 1025,357.4 1025.3,358.1 1025.7,356.1 1026,353.8 1026.4,348.5 1026.7,352.3 1027.1,347.9 1027.4,346.2 1027.8,343.9 1028.1,338.9 1028.5,337.3 1028.8,335.7 1029.2,337.9 1029.5,332.2 1029.9,331.1 1030.2,329.1 1030.5,328.2 1030.9,326.1 1031.2,323.8 1031.6,319.7 1031.9,315.2 1032.3,317.6 1032.6,315.6 1033,314.9 1033.3,311 1033.7,308.2 1034,307.5 1034.4,302.7 1034.7,301.3 1035.1,299.2 1035.4,298.9 1035.8,299.2 1036.1,295.3 1036.5,293.7 1036.8,290.4 1037.2,288.4 1037.5,285.4 1037.9,283.8 1038.2,279.1 1038.6,279.1 1038.9,277.5 1039.3,279 1039.6,277.4 1040,276.9 1040.3,276.4 1040.7,272.9 1041,273.6 1041.4,273.8 1041.7,270.1 1042.1,270.5 1042.4,267.8 1042.8,264.7 1043.1,266.2 1043.5,264.3 1043.8,265.2 1044.2,264.3 1044.5,265.5 1044.9,262.5 1045.2,268.9 1045.6,268.8 1045.9,267.6 1046.3,268 1046.6,270.5 1047,272.6 1047.3,273.5 1047.7,274.6 1048,272.6 1048.4,275 1048.7,279.5 1049.1,279.2 1049.4,278 1049.8,280.1 1050.1,280.5 1050.5,282.2 1050.8,286.4 1051.2,285.7 1051.5,288.6 1051.9,288.5 1052.2,287.4 1052.6,289.7 1052.9,294.9 1053.3,291.9 1053.6,292.6 1054,296.9 1054.3,296.5 1054.7,297.5 1055,300.7 1055.4,297.4 1055.7,301.6 1056.1,300.7 1056.4,301.5 1056.8,303.5 1057.1,307.4 1057.5,306.8 1057.8,305.8 1058.2,308 1058.5,312.9 1058.9,313.5 1059.2,311.9 1059.6,318 1059.9,315.4 1060.3,315.6 1060.6,318.3 1061,321.1 1061.3,323.3 1061.7,323.8 1062,323 1062.4,324.1 1062.7,324.1 1063.1,327.1 1063.4,327.5 1063.8,329.7 1064.1,328.6 1064.5,330.5 1064.8,330.8 1065.2,331.1 1065.5,331.9 1065.9,332.8 1066.2,333.3 1066.6,336.4 1066.9,336.4 1067.3,335.2 1067.6,338.4 1068,338.8 1068.3,341.1 1068.7,339.5 1069,340.2 1069.4,340.2 1069.7,342.1 1070.1,343.3 1070.4,343.5 1070.8,343.6 1071.1,345.5 1071.5,345.5 1071.8,346.4 1072.2,345.4 1072.5,347.6 1072.9,346.5 1073.2,347.2 1073.6,349.1 1073.9,352.2 1074.3,351.1 1074.6,350.1 1075,350.2 1075.3,352.1 1075.7,353 1076,353.2 1076.4,351.6 1076.7,352.5 1077.1,352.1 1077.4,352.5 1077.8,352.1 1078.1,353.3 1078.5,351 1078.8,352.7 1079.2,355.3 1079.5,353.7 1079.9,356.1 1080.2,353.9 1080.6,355.6 1080.9,357 1081.3,355.3 1081.6,356.1 1082,360.8 1082.3,356.7 1082.7,356.9 1083,357.4 1083.4,358.5 1083.7,358.6 1084.1,360.2 1084.4,360.2 1084.8,358.8 1085.1,359.1 1085.5,357.9 1085.8,358 1086.2,359.3 1086.5,361.5 1086.9,360.9 1087.2,362.1 1087.6,362.5 1087.9,361.2 1088.3,364.6 1088.6,361.2 1089,361.3 1089.3,361.8 1089.7,364.2 1090,362.6 1090.4,362 1090.7,363.9 1091.1,365.1 1091.4,363.6 1091.8,363.6 1092.1,365.7 1092.5,365.8 1092.8,366 1093.2,363.9 1093.5,365.5 1093.9,365.9 1094.2,363.1 1094.6,367.5 1094.9,366.2 1095.3,365.8 1095.6,369.6 1096,366.8 1096.3,365.8 1096.7,366.9 1097,367.9 1097.4,368.4 1097.7,367.3 1098.1,366.3 1098.4,366.7 1098.8,366.6 1099.1,366.4 1099.5,368 1099.8,367.5 1100.2,368.3 1100.5,367.2 1100.9,367.3 1101.2,368.4 1101.6,368.3 1101.9,370.5 1102.3,367.8 1102.6,369.4 1103,369.2 1103.3,367.6 1103.7,370.5 1104,369.9 1104.4,366.9 1104.7,370.7 1105.1,371.3 1105.4,369.1 1105.8,372.6 1106.1,370.6 1106.5,369 1106.8,371.4 1107.2,370.3 1107.5,369.1 1107.9,368.1 1108.2,371.5 1108.6,370.3 1108.9,372.3 1109.3,372.1 1109.6,371 1110,371.1 1110.3,374.4 1110.7,374.4 1111,373.2 1111.4,371.8 1111.7,371.1 1112.1,372 1112.4,374.9 1112.8,373.3 1113.1,372.4 1113.5,371.2 1113.8,373.2 1114.2,371.9 1114.5,373.2 1114.9,374.3 1115.2,374.8 1115.6,373.6 1115.9,373 1116.3,373.9 1116.6,376.1 1117,374.3 1117.3,371.9 1117.7,376.1 1118,374.4 1118.4,378.9 1118.7,373.5 1119.1,374.1 1119.4,373.9 1119.8,375 1120.1,373.7 1120.5,372.6 1120.8,372.1 1121.2,374.6 1121.5,374.2 1121.9,374.2 1122.2,378 1122.6,376.2 1122.9,376.7 1123.3,374.6 1123.6,375.8 1124,375.2 1124.3,375.3 1124.7,376.7 1125,376.6 1125.4,376.2 1125.7,376.1 1126.1,374 1126.4,375.1 1126.8,376.7 1127.1,375.7 1127.5,375.3 1127.8,376.9 1128.2,375.2 1128.5,375.7 1128.9,377.9 1129.2,376.3 1129.6,378.8 1129.9,377.6 1130.3,378 1130.6,378.5 1131,374 1131.3,376.8 1131.7,375.2 1132,376.3 1132.4,376.8 1132.7,378.6 1133.1,376.8 1133.4,379.1 1133.8,376.1 1134.1,376.7 1134.5,376.9 1134.8,378.1 1135.2,376.7 1135.5,375.9 1135.9,376.3 1136.2,374.8 1136.6,378.4 1136.9,377.7 1137.3,377.3 1137.6,377 1138,375.8 1138.3,376.1 1138.7,377.7 1139,375.5 1139.4,375.5 1139.7,378.7 1140.1,378.7 1140.4,376.9 1140.8,377.2 1141.1,376.7 1141.5,378.4 1141.8,375.9 1142.2,376.6 1142.5,377.1 1142.9,378.4 1143.2,376.1 1143.6,376.7 1143.9,375.7 1144.3,375.4 1144.6,375.4 1145,376.4 1145.3,377.5 1145.7,375.3 1146,375.4 1146.4,375.7 1146.7,376.7 1147.1,377.2 1147.4,374.5 1147.8,376.7 1148.1,374.8 1148.5,377.1 1148.8,374.8 1149.2,374.6 1149.5,375.1 1149.9,376 1150.2,374.7 1150.6,376.3 1150.9,376.2 1151.3,376.1 1151.6,376.4 1152,377.2 1152.3,375 1152.7,376 1153,375.9 1153.4,373.2 1153.7,376.5" fill="none" stroke="#111" stroke-width="1.5" stroke-linejoin="round"/>
<polyline points="998,369.5 998.4,367.5 998.7,368.4 999.1,369.2 999.4,370.5 999.8,369.2 1000.1,367.7 1000.5,369.6 1000.8,368.2 1001.2,370.5 1001.5,369.2 1001.9,371 1002.2,369.4 1002.6,368.6 1002.9,368.2 1003.3,369.3 1003.6,370 1004,370.8 1004.3,370 1004.7,369.1 1005,370.3 1005.4,368.6 1005.7,370.3 1006.1,369.3 1006.4,371.3 1006.8,370.9 1007.1,370.4 1007.5,369.2 1007.8,370.6 1008.2,370.5 1008.5,369.7 1008.9,369.7 1009.2,371.4 1009.6,370 1009.9,370.8 1010.3,371.7 1010.6,369.1 1011,372.1 1011.3,371.4 1011.7,370 1012,369.8 1012.4,369.6 1012.7,371.5 1013.1,368.4 1013.4,371.6 1013.8,371 1014.1,370.2 1014.5,370.4 1014.8,370.6 1015.2,370.8 1015.5,371.8 1015.9,370.3 1016.2,372.1 1016.6,372 1016.9,370.9 1017.3,371.5 1017.6,370.3 1018,370.6 1018.3,370.6 1018.7,371.4 1019,369.1 1019.4,368.4 1019.7,367.9 1020.1,367 1020.4,365.5 1020.8,367.4 1021.1,364.4 1021.5,363.8 1021.8,362.9 1022.2,363.5 1022.5,364.8 1022.9,364.2 1023.2,361.6 1023.6,360.4 1023.9,359.4 1024.3,357.9 1024.6,359 1025,357.7 1025.3,359.3 1025.7,356.7 1026,355.7 1026.4,354.7 1026.7,354.5 1027.1,356.4 1027.4,355.9 1027.8,354.3 1028.1,353.7 1028.5,355.1 1028.8,354.2 1029.2,354.5 1029.5,354 1029.9,353.1 1030.2,351.9 1030.5,353.4 1030.9,353.1 1031.2,352.9 1031.6,353.3 1031.9,353.1 1032.3,351.5 1032.6,352.2 1033,349.5 1033.3,352 1033.7,351.2 1034,352.1 1034.4,352 1034.7,350.3 1035.1,351.1 1035.4,352.3 1035.8,350.9 1036.1,351.6 1036.5,351.2 1036.8,352.4 1037.2,352.3 1037.5,351.4 1037.9,351 1038.2,350.4 1038.6,353.3 1038.9,352.3 1039.3,352.2 1039.6,352.5 1040,352.3 1040.3,353.9 1040.7,354 1041,351.5 1041.4,353.7 1041.7,353.9 1042.1,353.7 1042.4,354.2 1042.8,355.8 1043.1,354.7 1043.5,355.6 1043.8,355.6 1044.2,353.4 1044.5,356.6 1044.9,355.3 1045.2,355 1045.6,356.2 1045.9,357.6 1046.3,355 1046.6,355.3 1047,356.4 1047.3,354.6 1047.7,355.4 1048,356.7 1048.4,357.5 1048.7,357.5 1049.1,357.9 1049.4,358.3 1049.8,357.1 1050.1,357.3 1050.5,357.5 1050.8,357.7 1051.2,359.2 1051.5,359.1 1051.9,356.6 1052.2,359.1 1052.6,357.9 1052.9,358 1053.3,360.4 1053.6,360.6 1054,360.6 1054.3,360.3 1054.7,361.6 1055,359 1055.4,361 1055.7,359.8 1056.1,360 1056.4,359.2 1056.8,362.3 1057.1,362.7 1057.5,362.1 1057.8,360.9 1058.2,361.8 1058.5,360.8 1058.9,361.7 1059.2,363.5 1059.6,363.8 1059.9,363.1 1060.3,363.4 1060.6,362.7 1061,363.4 1061.3,363 1061.7,363.8 1062,363 1062.4,364.6 1062.7,363.7 1063.1,364.3 1063.4,364.1 1063.8,365.8 1064.1,365.4 1064.5,364 1064.8,364.1 1065.2,365.7 1065.5,365.4 1065.9,365.3 1066.2,365.9 1066.6,367.4 1066.9,365.9 1067.3,367.5 1067.6,365.9 1068,366.3 1068.3,367 1068.7,366.8 1069,366.6 1069.4,366.3 1069.7,367.1 1070.1,367.2 1070.4,367.8 1070.8,368.9 1071.1,368.6 1071.5,369.4 1071.8,368.7 1072.2,369.1 1072.5,369.4 1072.9,369.7 1073.2,370.1 1073.6,368.9 1073.9,369.9 1074.3,369.9 1074.6,371 1075,370.8 1075.3,369.7 1075.7,370.8 1076,371.2 1076.4,370.8 1076.7,372.1 1077.1,371.3 1077.4,370 1077.8,371.6 1078.1,372.1 1078.5,370.8 1078.8,372.2 1079.2,369.1 1079.5,373.6 1079.9,370.5 1080.2,371.4 1080.6,371.7 1080.9,370.7 1081.3,372.4 1081.6,371.3 1082,371 1082.3,370.2 1082.7,373 1083,373.5 1083.4,372.2 1083.7,372.8 1084.1,374.1 1084.4,373.1 1084.8,373.8 1085.1,373.8 1085.5,373.6 1085.8,373.5 1086.2,374.2 1086.5,373.3 1086.9,373.3 1087.2,372.6 1087.6,371.5 1087.9,372.6 1088.3,373.2 1088.6,374.5 1089,373.3 1089.3,371.9 1089.7,374.4 1090,375 1090.4,374.2 1090.7,374.3 1091.1,374.3 1091.4,374.1 1091.8,375.5 1092.1,373.5 1092.5,373.7 1092.8,373.1 1093.2,374 1093.5,373.9 1093.9,374 1094.2,374.9 1094.6,375.7 1094.9,373.6 1095.3,375 1095.6,374.3 1096,374.4 1096.3,374.7 1096.7,375.5 1097,373.8 1097.4,376.7 1097.7,375.3 1098.1,374.8 1098.4,374.1 1098.8,376.6 1099.1,376.3 1099.5,376.6 1099.8,375.9 1100.2,377.5 1100.5,377.4 1100.9,377.9 1101.2,376.3 1101.6,376.9 1101.9,375.7 1102.3,376.2 1102.6,375.9 1103,376.2 1103.3,376.3 1103.7,376.3 1104,376.3 1104.4,376.5 1104.7,376 1105.1,375.8 1105.4,376 1105.8,377.1 1106.1,377.2 1106.5,377.5 1106.8,378.8 1107.2,375.7 1107.5,377.4 1107.9,375.5 1108.2,376.2 1108.6,376 1108.9,376.8 1109.3,378 1109.6,378.3 1110,377.2 1110.3,377.8 1110.7,377.4 1111,375.9 1111.4,378.6 1111.7,376.5 1112.1,376.6 1112.4,377.1 1112.8,376.3 1113.1,376.6 1113.5,377.9 1113.8,376.4 1114.2,376.7 1114.5,375.8 1114.9,375.7 1115.2,377.7 1115.6,377.8 1115.9,377.1 1116.3,379.1 1116.6,376.6 1117,378.1 1117.3,376.9 1117.7,377.6 1118,378.1 1118.4,376.5 1118.7,379 1119.1,377.7 1119.4,377.9 1119.8,377.7 1120.1,378.2 1120.5,376.8 1120.8,376.9 1121.2,378.3 1121.5,377.8 1121.9,377.7 1122.2,378.4 1122.6,379.5 1122.9,377.2 1123.3,375.9 1123.6,377.8 1124,376.5 1124.3,377.8 1124.7,377.1 1125,378 1125.4,379.6 1125.7,377.7 1126.1,376.2 1126.4,376.6 1126.8,376.6 1127.1,376.2 1127.5,377.9 1127.8,377.6 1128.2,378.2 1128.5,378 1128.9,377.1 1129.2,376.6 1129.6,376.6 1129.9,377 1130.3,376.3 1130.6,375.4 1131,378.9 1131.3,378 1131.7,376.4 1132,376.2 1132.4,376.2 1132.7,376.9 1133.1,376.1 1133.4,374.3 1133.8,376.5 1134.1,376.7 1134.5,374.9 1134.8,374.8 1135.2,375.9 1135.5,374.9 1135.9,376.8 1136.2,376.6 1136.6,374.2 1136.9,376.1 1137.3,374.3 1137.6,374.9 1138,376.7 1138.3,375.2 1138.7,375.9 1139,374.9 1139.4,377.1 1139.7,375.2 1140.1,377.9 1140.4,375.5 1140.8,374.6 1141.1,375 1141.5,374.6 1141.8,376.2 1142.2,373.7 1142.5,375.4 1142.9,375.9 1143.2,375.5 1143.6,373.2 1143.9,375.6 1144.3,375.1 1144.6,375.3 1145,373.3 1145.3,374.3 1145.7,375.1 1146,374.1 1146.4,374.1 1146.7,373.5 1147.1,373.6 1147.4,373.7 1147.8,376 1148.1,373.5 1148.5,373 1148.8,372.5 1149.2,373.8 1149.5,373.5 1149.9,372.8 1150.2,371.6 1150.6,374.9 1150.9,372.9 1151.3,372.3 1151.6,373.2 1152,372 1152.3,372.6 1152.7,370.9 1153,372.2 1153.4,370.2 1153.7,373.4" fill="none" stroke="#4d7ccc" stroke-width="1.5" stroke-linejoin="round"/>
<path d="M1182.5 367.7 L1182.8 368.8 L1183.2 369.1 L1183.5 370.1 L1183.9 369 L1184.2 368.8 L1184.6 367.6 L1184.9 368.3 L1185.3 368.7 L1185.6 368.7 L1186 368.4 L1186.3 368.3 L1186.7 368.4 L1187 367.7 L1187.4 367 L1187.7 367.4 L1188.1 367.6 L1188.4 368.1 L1188.8 368.4 L1189.1 369.3 L1189.5 369.5 L1189.8 370.1 L1190.2 370.3 L1190.5 369.5 L1190.9 368.7 L1191.2 367.8 L1191.6 367.9 L1191.9 368.1 L1192.3 368.5 L1192.6 369.2 L1193 368.6 L1193.3 368.1 L1193.7 367.9 L1194 368.5 L1194.4 368.8 L1194.7 368.8 L1195.1 368.6 L1195.4 369 L1195.8 369.2 L1196.1 369.5 L1196.5 369 L1196.8 368.8 L1197.2 367.7 L1197.5 367.6 L1197.9 367.7 L1198.2 368.2 L1198.6 368.7 L1198.9 368.7 L1199.3 368.8 L1199.6 368.6 L1200 368.4 L1200.3 369.2 L1200.7 369.5 L1201 369.7 L1201.4 369.2 L1201.7 368.9 L1202.1 368.9 L1202.4 369.4 L1202.8 369.2 L1203.1 368.5 L1203.5 366.9 L1203.8 365.8 L1204.2 364.7 L1204.5 363.5 L1204.9 362.2 L1205.2 360.5 L1205.6 359 L1205.9 357.3 L1206.3 355.3 L1206.6 354.2 L1207 351.9 L1207.3 350.6 L1207.7 347.7 L1208 346.2 L1208.4 342.6 L1208.7 339.8 L1209.1 336.8 L1209.4 335.1 L1209.8 333.3 L1210.1 330.1 L1210.5 326.9 L1210.8 322.6 L1211.2 319.1 L1211.5 315 L1211.9 310.9 L1212.2 307 L1212.6 302.7 L1212.9 299.8 L1213.3 296 L1213.6 293.7 L1214 291.5 L1214.3 289.5 L1214.7 287.4 L1215 285.3 L1215.4 284 L1215.7 282.5 L1216.1 281 L1216.4 280 L1216.8 279.4 L1217.1 277.9 L1217.5 277.1 L1217.8 276.3 L1218.2 275.5 L1218.5 273.8 L1218.9 272.1 L1219.2 271.8 L1219.6 270.7 L1219.9 270.6 L1220.3 269.4 L1220.6 269.1 L1221 268.9 L1221.3 269.6 L1221.7 269.8 L1222 269.1 L1222.4 268.8 L1222.7 268.8 L1223.1 269.1 L1223.4 269.3 L1223.8 269.7 L1224.1 269.3 L1224.5 269.5 L1224.8 269 L1225.2 269.5 L1225.5 268.3 L1225.9 268.3 L1226.2 267.7 L1226.6 269.2 L1226.9 270.4 L1227.3 271.3 L1227.6 270.7 L1228 270.3 L1228.3 272.1 L1228.7 273.4 L1229 274.9 L1229.4 275.1 L1229.7 276.1 L1230.1 276.5 L1230.4 277.5 L1230.8 277.9 L1231.1 279.1 L1231.5 280.1 L1231.8 281.7 L1232.2 282.5 L1232.5 283 L1232.9 283.9 L1233.2 285 L1233.6 287.1 L1233.9 288.7 L1234.3 290.2 L1234.6 290.8 L1235 291.7 L1235.3 292.9 L1235.7 294.5 L1236 296.5 L1236.4 298.6 L1236.7 300.5 L1237.1 302.8 L1237.4 303.8 L1237.8 305.2 L1238.1 307 L1238.5 308.1 L1238.8 309.4 L1239.2 309.8 L1239.5 312.1 L1239.9 313.8 L1240.2 314.8 L1240.6 316.1 L1240.9 317 L1241.3 318.4 L1241.6 318.5 L1242 319 L1242.3 319.5 L1242.7 320.7 L1243 321.5 L1243.4 322.6 L1243.7 323.6 L1244.1 325.2 L1244.4 326.1 L1244.8 327.3 L1245.1 328.1 L1245.5 328.7 L1245.8 328.8 L1246.2 329.5 L1246.5 330.6 L1246.9 331.8 L1247.2 332.6 L1247.6 333.6 L1247.9 334.3 L1248.3 335.5 L1248.6 336.8 L1249 337.8 L1249.3 338.4 L1249.7 338.5 L1250 340.2 L1250.4 341.1 L1250.7 342.3 L1251.1 342.2 L1251.4 342.8 L1251.8 343.2 L1252.1 343.4 L1252.5 344.6 L1252.8 345.5 L1253.2 346.1 L1253.5 346.3 L1253.9 346.4 L1254.2 347.8 L1254.6 348.2 L1254.9 348.2 L1255.3 348.4 L1255.6 349.4 L1256 350.3 L1256.3 350.5 L1256.7 349.9 L1257 350.2 L1257.4 351.2 L1257.7 353 L1258.1 354.1 L1258.4 354.6 L1258.8 355.4 L1259.1 355.5 L1259.5 355.7 L1259.8 355.5 L1260.2 356.3 L1260.5 356.6 L1260.9 356.3 L1261.2 356.6 L1261.6 357.4 L1261.9 357.7 L1262.3 357.8 L1262.6 357.8 L1263 358.8 L1263.3 359.1 L1263.7 359.6 L1264 359.5 L1264.4 360.3 L1264.7 361.2 L1265.1 361.5 L1265.4 361.7 L1265.8 361.1 L1266.1 361.6 L1266.5 361.8 L1266.8 363 L1267.2 363.1 L1267.5 363.1 L1267.9 362.8 L1268.2 362.7 L1268.6 363 L1268.9 363 L1269.3 364 L1269.6 363.8 L1270 363.6 L1270.3 363.8 L1270.7 364.6 L1271 365.5 L1271.4 366.1 L1271.7 366.1 L1272.1 366.4 L1272.4 366.4 L1272.8 366.1 L1273.1 366.3 L1273.5 366.3 L1273.8 367.5 L1274.2 367.9 L1274.5 368.2 L1274.9 367.8 L1275.2 368.1 L1275.6 368.9 L1275.9 369 L1276.3 370 L1276.6 369.3 L1277 369.8 L1277.3 369.1 L1277.7 369.9 L1278 369.6 L1278.4 368.9 L1278.7 368.9 L1279.1 369.9 L1279.4 371.2 L1279.8 372.1 L1280.1 372.1 L1280.5 372.1 L1280.8 371.6 L1281.2 371.9 L1281.5 372.6 L1281.9 371.9 L1282.2 371.8 L1282.6 369.9 L1282.9 370.9 L1283.3 371 L1283.6 372.9 L1284 373.5 L1284.3 373.7 L1284.7 373.3 L1285 372.3 L1285.4 371.9 L1285.7 371.8 L1286.1 372.2 L1286.4 372.6 L1286.8 372.8 L1287.1 372.5 L1287.5 372.9 L1287.8 373 L1288.2 373 L1288.5 372.9 L1288.9 372.6 L1289.2 372.2 L1289.6 372.5 L1289.9 372.8 L1290.3 372.9 L1290.6 372.7 L1291 372.6 L1291.3 372.4 L1291.7 372.6 L1292 372.6 L1292.4 373.6 L1292.7 373 L1293.1 372.8 L1293.4 371.8 L1293.8 372.1 L1294.1 372.2 L1294.5 372.7 L1294.8 372.4 L1295.2 372.4 L1295.5 372.8 L1295.9 372.5 L1296.2 372.4 L1296.6 371.3 L1296.9 371.3 L1297.3 371.6 L1297.6 372.9 L1298 373 L1298.3 372.6 L1298.7 372.7 L1299 372.7 L1299.4 373.1 L1299.7 373.1 L1300.1 373.2 L1300.4 373.4 L1300.8 372.5 L1301.1 372.5 L1301.5 372 L1301.8 372.3 L1302.2 372.7 L1302.5 373.6 L1302.9 373.3 L1303.2 372.6 L1303.6 371.9 L1303.9 371.7 L1304.3 372.1 L1304.6 372.1 L1305 372.5 L1305.3 372.5 L1305.7 371.6 L1306 372 L1306.4 371.2 L1306.7 371.5 L1307.1 370.9 L1307.4 371.4 L1307.8 372 L1308.1 372.2 L1308.5 372.2 L1308.8 372 L1309.2 372.6 L1309.5 372.7 L1309.9 372.6 L1310.2 372.5 L1310.6 372.5 L1310.9 371.8 L1311.3 372.3 L1311.6 373.1 L1312 372.7 L1312.3 371.7 L1312.7 371 L1313 372.1 L1313.4 372.4 L1313.7 372.1 L1314.1 371.2 L1314.4 371 L1314.8 371.5 L1315.1 371.4 L1315.5 370.9 L1315.8 370.5 L1316.2 370.1 L1316.5 370.4 L1316.9 370.2 L1317.2 371.1 L1317.6 370.9 L1317.9 370.7 L1318.3 370.4 L1318.6 370.6 L1319 370.6 L1319.3 370.8 L1319.7 371.1 L1320 371.8 L1320.4 372.4 L1320.7 371.8 L1321.1 371.1 L1321.4 369.4 L1321.8 370.5 L1322.1 370.3 L1322.5 371.3 L1322.8 370.7 L1323.2 370.4 L1323.5 370.6 L1323.9 370.3 L1324.2 370.1 L1324.6 370 L1324.9 370.5 L1325.3 370.4 L1325.6 370.6 L1326 370.2 L1326.3 371.1 L1326.7 370.9 L1327 371.3 L1327.4 371 L1327.7 371.2 L1328.1 370.4 L1328.4 370.8 L1328.8 370.1 L1329.1 370.2 L1329.5 370.6 L1329.8 371 L1330.2 371 L1330.5 369.8 L1330.9 369.3 L1331.2 369.4 L1331.6 370.2 L1331.9 370.7 L1332.3 370.8 L1332.6 370.3 L1333 370.7 L1333.3 370.3 L1333.7 370 L1334 369.8 L1334.4 370 L1334.7 370.1 L1335.1 369.5 L1335.4 369.3 L1335.8 369.6 L1336.1 370 L1336.5 369.6 L1336.8 369.5 L1337.2 369.4 L1337.5 369.4 L1337.9 369.6 L1338.2 369.4 L1338.2 375.8 L1337.9 376.1 L1337.5 375.8 L1337.2 375.9 L1336.8 375.9 L1336.5 376.2 L1336.1 375.5 L1335.8 374.8 L1335.4 375 L1335.1 375.7 L1334.7 375.7 L1334.4 375.9 L1334 375.5 L1333.7 376.3 L1333.3 376.5 L1333 377.1 L1332.6 377.2 L1332.3 376.6 L1331.9 376.1 L1331.6 375.8 L1331.2 377 L1330.9 377.3 L1330.5 377.8 L1330.2 377.7 L1329.8 378.4 L1329.5 378 L1329.1 378.1 L1328.8 377.5 L1328.4 377.5 L1328.1 376.9 L1327.7 376.5 L1327.4 377 L1327 377.1 L1326.7 377.6 L1326.3 377.4 L1326 376.7 L1325.6 376.3 L1325.3 376.6 L1324.9 377.5 L1324.6 377.6 L1324.2 377.5 L1323.9 377.8 L1323.5 378.3 L1323.2 377.6 L1322.8 377.4 L1322.5 377.5 L1322.1 378.3 L1321.8 377.7 L1321.4 377 L1321.1 377.5 L1320.7 378.6 L1320.4 379.2 L1320 378.4 L1319.7 377.5 L1319.3 377.2 L1319 377.4 L1318.6 377.3 L1318.3 377.8 L1317.9 378 L1317.6 379.3 L1317.2 378.3 L1316.9 378 L1316.5 377.9 L1316.2 378.8 L1315.8 379.3 L1315.5 378.9 L1315.1 378.7 L1314.8 378.5 L1314.4 378.8 L1314.1 379 L1313.7 378.8 L1313.4 378.4 L1313 378 L1312.7 377.7 L1312.3 377.8 L1312 378.4 L1311.6 379.8 L1311.3 380.4 L1310.9 380.6 L1310.6 379.5 L1310.2 379.1 L1309.9 379 L1309.5 379.4 L1309.2 380.5 L1308.8 380.3 L1308.5 381 L1308.1 379.6 L1307.8 380.2 L1307.4 379.8 L1307.1 380.3 L1306.7 379.2 L1306.4 379 L1306 379.5 L1305.7 379.1 L1305.3 379.2 L1305 378.8 L1304.6 380.2 L1304.3 379.9 L1303.9 380.1 L1303.6 379.7 L1303.2 380 L1302.9 379.9 L1302.5 379.8 L1302.2 380.2 L1301.8 379.9 L1301.5 380.5 L1301.1 379.4 L1300.8 379.9 L1300.4 380 L1300.1 380.2 L1299.7 380.5 L1299.4 380 L1299 381 L1298.7 380.9 L1298.3 380.8 L1298 381 L1297.6 380.6 L1297.3 380.9 L1296.9 380.6 L1296.6 381.2 L1296.2 381 L1295.9 380.4 L1295.5 380.1 L1295.2 380.4 L1294.8 380.8 L1294.5 380.6 L1294.1 380.3 L1293.8 379.6 L1293.4 379.4 L1293.1 379.1 L1292.7 380.1 L1292.4 380.6 L1292 381.4 L1291.7 381.1 L1291.3 381.3 L1291 380.7 L1290.6 381.4 L1290.3 381.6 L1289.9 382.8 L1289.6 381.3 L1289.2 381.3 L1288.9 381.2 L1288.5 381.5 L1288.2 381.4 L1287.8 381.3 L1287.5 381.2 L1287.1 380.8 L1286.8 379.8 L1286.4 380.3 L1286.1 380.5 L1285.7 381.2 L1285.4 381.6 L1285 381.5 L1284.7 381.9 L1284.3 382.4 L1284 382.6 L1283.6 382 L1283.3 381.6 L1282.9 382.2 L1282.6 382.5 L1282.2 382.1 L1281.9 381 L1281.5 380 L1281.2 380 L1280.8 379.3 L1280.5 378.7 L1280.1 378.1 L1279.8 378.7 L1279.4 378.5 L1279.1 377.6 L1278.7 376.7 L1278.4 376.9 L1278 377.3 L1277.7 378.5 L1277.3 378.9 L1277 378.9 L1276.6 378.1 L1276.3 377.5 L1275.9 377.6 L1275.6 376.2 L1275.2 376.4 L1274.9 376.5 L1274.5 377.3 L1274.2 377.1 L1273.8 376.7 L1273.5 376.5 L1273.1 376.6 L1272.8 376.9 L1272.4 376.7 L1272.1 375.8 L1271.7 375.1 L1271.4 374.8 L1271 374.6 L1270.7 373.9 L1270.3 373.7 L1270 373.1 L1269.6 372.9 L1269.3 373.2 L1268.9 373.3 L1268.6 373.4 L1268.2 372.6 L1267.9 372.9 L1267.5 372.5 L1267.2 371.8 L1266.8 371.3 L1266.5 370.5 L1266.1 370.7 L1265.8 370.5 L1265.4 371.4 L1265.1 370.5 L1264.7 370.4 L1264.4 369.6 L1264 370.7 L1263.7 370.6 L1263.3 370 L1263 368.7 L1262.6 368.2 L1262.3 368 L1261.9 367.4 L1261.6 367.5 L1261.2 367.4 L1260.9 367.5 L1260.5 366.8 L1260.2 366.3 L1259.8 366.6 L1259.5 366.3 L1259.1 366.5 L1258.8 365.9 L1258.4 365 L1258.1 364.2 L1257.7 364.1 L1257.4 364.9 L1257 364.4 L1256.7 363.3 L1256.3 362.7 L1256 362 L1255.6 361.7 L1255.3 360.6 L1254.9 360.2 L1254.6 360.2 L1254.2 360.6 L1253.9 360.7 L1253.5 360.1 L1253.2 358.7 L1252.8 358.6 L1252.5 358.8 L1252.1 359.3 L1251.8 358.6 L1251.4 357.7 L1251.1 357.4 L1250.7 357.2 L1250.4 356.2 L1250 354.5 L1249.7 353.1 L1249.3 352.5 L1249 352.6 L1248.6 352.2 L1248.3 352 L1247.9 351 L1247.6 350.3 L1247.2 349.7 L1246.9 348.7 L1246.5 347.9 L1246.2 347.1 L1245.8 346.7 L1245.5 346 L1245.1 344.2 L1244.8 343 L1244.4 342.1 L1244.1 342.3 L1243.7 342.1 L1243.4 341.8 L1243 341.1 L1242.7 339.8 L1242.3 338.6 L1242 337.1 L1241.6 335.9 L1241.3 335.4 L1240.9 335.6 L1240.6 335.3 L1240.2 334.6 L1239.9 333.5 L1239.5 332.4 L1239.2 331.8 L1238.8 330.1 L1238.5 329 L1238.1 327.8 L1237.8 326.7 L1237.4 325.6 L1237.1 323.5 L1236.7 322.3 L1236.4 321.7 L1236 321.7 L1235.7 320.4 L1235.3 317.6 L1235 315 L1234.6 314.6 L1234.3 313.9 L1233.9 312.9 L1233.6 311.9 L1233.2 311.7 L1232.9 311.7 L1232.5 311 L1232.2 309.2 L1231.8 307.6 L1231.5 307.5 L1231.1 308.2 L1230.8 308.1 L1230.4 307 L1230.1 305.9 L1229.7 305 L1229.4 304.5 L1229 304 L1228.7 303.8 L1228.3 302.1 L1228 301.2 L1227.6 300.8 L1227.3 301.1 L1226.9 301.2 L1226.6 300.5 L1226.2 300.5 L1225.9 300.1 L1225.5 300.2 L1225.2 298.9 L1224.8 298.7 L1224.5 297.9 L1224.1 298.7 L1223.8 298.2 L1223.4 297.1 L1223.1 297.6 L1222.7 297.6 L1222.4 297.6 L1222 296.1 L1221.7 294.4 L1221.3 295.7 L1221 295.4 L1220.6 296.4 L1220.3 295.5 L1219.9 295.3 L1219.6 295.2 L1219.2 295.4 L1218.9 295.5 L1218.5 296 L1218.2 296.7 L1217.8 298.1 L1217.5 299 L1217.1 299.8 L1216.8 300.9 L1216.4 302.1 L1216.1 303.3 L1215.7 304.1 L1215.4 304.6 L1215 305.1 L1214.7 306.1 L1214.3 307.3 L1214 308.5 L1213.6 310.5 L1213.3 313.1 L1212.9 316 L1212.6 318.9 L1212.2 322.6 L1211.9 326.2 L1211.5 328.9 L1211.2 331.8 L1210.8 334.4 L1210.5 338.1 L1210.1 340.3 L1209.8 343.3 L1209.4 345.3 L1209.1 347.7 L1208.7 349.7 L1208.4 351.6 L1208 353.7 L1207.7 355.5 L1207.3 357.1 L1207 358.5 L1206.6 360.5 L1206.3 361.1 L1205.9 362.2 L1205.6 363.4 L1205.2 365.8 L1204.9 367.4 L1204.5 368.2 L1204.2 369.6 L1203.8 370.8 L1203.5 371.8 L1203.1 372.2 L1202.8 373.1 L1202.4 373 L1202.1 372.7 L1201.7 372.3 L1201.4 372.7 L1201 373 L1200.7 372.6 L1200.3 373.3 L1200 373 L1199.6 373.6 L1199.3 373.1 L1198.9 373.2 L1198.6 372.4 L1198.2 373.4 L1197.9 373.7 L1197.5 374.1 L1197.2 372.1 L1196.8 372.2 L1196.5 372.4 L1196.1 373.7 L1195.8 373.2 L1195.4 372 L1195.1 371.9 L1194.7 372.2 L1194.4 373.4 L1194 372.8 L1193.7 372.8 L1193.3 372.9 L1193 372.6 L1192.6 371.7 L1192.3 371.2 L1191.9 372.4 L1191.6 373 L1191.2 372.7 L1190.9 372.6 L1190.5 371.8 L1190.2 372.4 L1189.8 371.2 L1189.5 371.9 L1189.1 372.4 L1188.8 372.8 L1188.4 372.7 L1188.1 372 L1187.7 372.1 L1187.4 371.1 L1187 371.7 L1186.7 372.2 L1186.3 372.9 L1186 372.5 L1185.6 372 L1185.3 373.1 L1184.9 372.3 L1184.6 372.6 L1184.2 371.4 L1183.9 372.2 L1183.5 372.4 L1183.2 372.5 L1182.8 371.8 L1182.5 371.4Z" fill="#a6a6a6"/>
<path d="M1182.5 367 L1182.8 366.4 L1183.2 365.9 L1183.5 366.2 L1183.9 367.4 L1184.2 367.7 L1184.6 368.2 L1184.9 366.8 L1185.3 366.5 L1185.6 366 L1186 366 L1186.3 366.8 L1186.7 366.4 L1187 366.8 L1187.4 365.7 L1187.7 366.2 L1188.1 366.7 L1188.4 367.3 L1188.8 367 L1189.1 367.2 L1189.5 367.3 L1189.8 367.9 L1190.2 368.4 L1190.5 368 L1190.9 367.7 L1191.2 366.9 L1191.6 366.7 L1191.9 366.8 L1192.3 367.5 L1192.6 368.2 L1193 368.2 L1193.3 367.9 L1193.7 368.2 L1194 368.7 L1194.4 367.9 L1194.7 366.9 L1195.1 366.8 L1195.4 367.9 L1195.8 368.7 L1196.1 368.7 L1196.5 368 L1196.8 367.2 L1197.2 367 L1197.5 367 L1197.9 367.6 L1198.2 368.2 L1198.6 368 L1198.9 368.2 L1199.3 368.1 L1199.6 369.3 L1200 369 L1200.3 368 L1200.7 367.5 L1201 367.1 L1201.4 367.6 L1201.7 367.5 L1202.1 367.9 L1202.4 368.1 L1202.8 368 L1203.1 367.6 L1203.5 366.7 L1203.8 366 L1204.2 365.4 L1204.5 364.4 L1204.9 363.9 L1205.2 362.3 L1205.6 361.2 L1205.9 359.4 L1206.3 358.3 L1206.6 356.3 L1207 353.8 L1207.3 352.6 L1207.7 350.6 L1208 349 L1208.4 346.4 L1208.7 344.9 L1209.1 342.8 L1209.4 340.4 L1209.8 338.5 L1210.1 337.4 L1210.5 335.7 L1210.8 333.5 L1211.2 331.6 L1211.5 329.4 L1211.9 327.6 L1212.2 325.2 L1212.6 322.8 L1212.9 320.6 L1213.3 318.3 L1213.6 315 L1214 311.4 L1214.3 308.5 L1214.7 305.9 L1215 302.2 L1215.4 298.3 L1215.7 295.5 L1216.1 293.2 L1216.4 290.8 L1216.8 288.5 L1217.1 286.1 L1217.5 282.5 L1217.8 279.3 L1218.2 276.8 L1218.5 274.9 L1218.9 272.3 L1219.2 269.5 L1219.6 268.4 L1219.9 266.1 L1220.3 264 L1220.6 260.9 L1221 259.1 L1221.3 257.2 L1221.7 255 L1222 252.8 L1222.4 250.7 L1222.7 248.6 L1223.1 246.9 L1223.4 245.1 L1223.8 243.4 L1224.1 241.8 L1224.5 239.9 L1224.8 237.1 L1225.2 235 L1225.5 233.1 L1225.9 231.8 L1226.2 230.7 L1226.6 230.2 L1226.9 231 L1227.3 232 L1227.6 232.7 L1228 234.2 L1228.3 235.3 L1228.7 237.2 L1229 238.6 L1229.4 240.9 L1229.7 242.9 L1230.1 245 L1230.4 245.8 L1230.8 247.3 L1231.1 249.4 L1231.5 252 L1231.8 253.8 L1232.2 254.9 L1232.5 255.8 L1232.9 257.5 L1233.2 258.7 L1233.6 260.9 L1233.9 262.2 L1234.3 264.5 L1234.6 266.1 L1235 269 L1235.3 271.5 L1235.7 274.4 L1236 276.7 L1236.4 279.2 L1236.7 281.1 L1237.1 283.2 L1237.4 284.7 L1237.8 287.1 L1238.1 289.4 L1238.5 292 L1238.8 294.5 L1239.2 296.5 L1239.5 299.8 L1239.9 301.2 L1240.2 302.8 L1240.6 304.5 L1240.9 306.8 L1241.3 309.2 L1241.6 311.1 L1242 312.5 L1242.3 314 L1242.7 315.2 L1243 317.7 L1243.4 318.7 L1243.7 319.8 L1244.1 320.1 L1244.4 321.4 L1244.8 321.9 L1245.1 323.1 L1245.5 324.2 L1245.8 325.6 L1246.2 326.2 L1246.5 326.5 L1246.9 327.1 L1247.2 328.6 L1247.6 330 L1247.9 330.4 L1248.3 331 L1248.6 331.6 L1249 332.5 L1249.3 334.3 L1249.7 335.1 L1250 336.2 L1250.4 336.2 L1250.7 336.7 L1251.1 337.5 L1251.4 338.3 L1251.8 339.3 L1252.1 340.2 L1252.5 340 L1252.8 341.3 L1253.2 342.3 L1253.5 344.1 L1253.9 344.6 L1254.2 344.7 L1254.6 345.8 L1254.9 347.1 L1255.3 348.9 L1255.6 350 L1256 350.5 L1256.3 351.5 L1256.7 352.5 L1257 352.6 L1257.4 353.1 L1257.7 353 L1258.1 353.3 L1258.4 352.9 L1258.8 353.1 L1259.1 354.8 L1259.5 355.1 L1259.8 355.7 L1260.2 354.9 L1260.5 355.2 L1260.9 355.7 L1261.2 356 L1261.6 356.5 L1261.9 356.6 L1262.3 357.4 L1262.6 357.8 L1263 358 L1263.3 359 L1263.7 358.9 L1264 359.4 L1264.4 358.4 L1264.7 358.9 L1265.1 358.6 L1265.4 358.4 L1265.8 357.9 L1266.1 358.8 L1266.5 358.7 L1266.8 359.5 L1267.2 359.3 L1267.5 361.1 L1267.9 361.6 L1268.2 362.4 L1268.6 362 L1268.9 361.7 L1269.3 361.2 L1269.6 361.8 L1270 362.8 L1270.3 363.9 L1270.7 363.8 L1271 364.4 L1271.4 364.3 L1271.7 364.6 L1272.1 363.5 L1272.4 363.7 L1272.8 364.2 L1273.1 365 L1273.5 364.3 L1273.8 363.6 L1274.2 364.7 L1274.5 365.2 L1274.9 366.7 L1275.2 366.3 L1275.6 367 L1275.9 367 L1276.3 366.8 L1276.6 366.6 L1277 365.3 L1277.3 365.1 L1277.7 364.9 L1278 366.1 L1278.4 366.1 L1278.7 367.3 L1279.1 367 L1279.4 367.9 L1279.8 367.4 L1280.1 367.9 L1280.5 367.6 L1280.8 368.2 L1281.2 368.3 L1281.5 368.1 L1281.9 366.7 L1282.2 367.3 L1282.6 367.7 L1282.9 368.8 L1283.3 367.9 L1283.6 368.5 L1284 368.3 L1284.3 369.3 L1284.7 369.5 L1285 370.5 L1285.4 370.4 L1285.7 369.6 L1286.1 370.2 L1286.4 370.3 L1286.8 371.3 L1287.1 370.4 L1287.5 370.3 L1287.8 369.6 L1288.2 369.9 L1288.5 369.7 L1288.9 369.2 L1289.2 368.2 L1289.6 367.7 L1289.9 367.4 L1290.3 367.8 L1290.6 368.2 L1291 368.7 L1291.3 368 L1291.7 368 L1292 367.1 L1292.4 367.1 L1292.7 365.5 L1293.1 364.7 L1293.4 364.7 L1293.8 364.2 L1294.1 364.4 L1294.5 363.1 L1294.8 363 L1295.2 362.8 L1295.5 363 L1295.9 363.3 L1296.2 362.9 L1296.6 363.1 L1296.9 362.8 L1297.3 362.5 L1297.6 361.7 L1298 361.6 L1298.3 361.5 L1298.7 361.7 L1299 360.9 L1299.4 360.4 L1299.7 360.7 L1300.1 361 L1300.4 361.9 L1300.8 362.1 L1301.1 362.2 L1301.5 361.6 L1301.8 361.6 L1302.2 361.8 L1302.5 361.6 L1302.9 361.4 L1303.2 360.4 L1303.6 360.3 L1303.9 360.2 L1304.3 361.1 L1304.6 362 L1305 361.9 L1305.3 362.3 L1305.7 362.1 L1306 361.5 L1306.4 360.5 L1306.7 360 L1307.1 361.2 L1307.4 361.8 L1307.8 362.2 L1308.1 361.7 L1308.5 360.7 L1308.8 360.5 L1309.2 360.3 L1309.5 360.6 L1309.9 361 L1310.2 361.6 L1310.6 362.4 L1310.9 362.2 L1311.3 361.1 L1311.6 360.7 L1312 359.9 L1312.3 360.4 L1312.7 360.3 L1313 361.1 L1313.4 360.9 L1313.7 361 L1314.1 360.5 L1314.4 360.2 L1314.8 359.4 L1315.1 359.2 L1315.5 359 L1315.8 359.7 L1316.2 359.5 L1316.5 359.7 L1316.9 359.7 L1317.2 360.1 L1317.6 360.2 L1317.9 359.7 L1318.3 358.8 L1318.6 358.3 L1319 358.3 L1319.3 359 L1319.7 358.4 L1320 358.2 L1320.4 357.7 L1320.7 357.6 L1321.1 357.9 L1321.4 357.6 L1321.8 358 L1322.1 358.2 L1322.5 358.7 L1322.8 359.4 L1323.2 358.9 L1323.5 358 L1323.9 357.3 L1324.2 356.2 L1324.6 356.6 L1324.9 356.7 L1325.3 357.4 L1325.6 357.3 L1326 357.1 L1326.3 357.8 L1326.7 357.7 L1327 357.9 L1327.4 357.1 L1327.7 357 L1328.1 356.2 L1328.4 355.9 L1328.8 355.7 L1329.1 356.1 L1329.5 356.4 L1329.8 356.5 L1330.2 356.1 L1330.5 355.5 L1330.9 355.2 L1331.2 354.9 L1331.6 355.8 L1331.9 356.5 L1332.3 357.8 L1332.6 357.2 L1333 357.2 L1333.3 356.8 L1333.7 356.7 L1334 356 L1334.4 356.2 L1334.7 356.5 L1335.1 357.1 L1335.4 356.8 L1335.8 357.3 L1336.1 357.1 L1336.5 357.7 L1336.8 356.9 L1337.2 357.5 L1337.5 357.5 L1337.9 358.3 L1338.2 358.2 L1338.2 366.5 L1337.9 366.4 L1337.5 365.2 L1337.2 366 L1336.8 365.6 L1336.5 366.3 L1336.1 365.9 L1335.8 366.4 L1335.4 366 L1335.1 365.6 L1334.7 364.9 L1334.4 364.2 L1334 364.5 L1333.7 365.2 L1333.3 365.6 L1333 365.1 L1332.6 364.3 L1332.3 363.7 L1331.9 364.1 L1331.6 364.5 L1331.2 364.8 L1330.9 364.9 L1330.5 364.8 L1330.2 365.7 L1329.8 365.6 L1329.5 365.1 L1329.1 364 L1328.8 364 L1328.4 364.5 L1328.1 365.3 L1327.7 365.1 L1327.4 365 L1327 365.1 L1326.7 365.8 L1326.3 365.8 L1326 366 L1325.6 365.2 L1325.3 365.9 L1324.9 365.4 L1324.6 365.7 L1324.2 364.7 L1323.9 365 L1323.5 365.4 L1323.2 365.9 L1322.8 366.7 L1322.5 366.4 L1322.1 366.5 L1321.8 366.2 L1321.4 366.6 L1321.1 367.1 L1320.7 367 L1320.4 367.6 L1320 368.1 L1319.7 368.6 L1319.3 368.3 L1319 367.7 L1318.6 367.7 L1318.3 367.4 L1317.9 367.7 L1317.6 368.3 L1317.2 368.8 L1316.9 368.8 L1316.5 367.7 L1316.2 367.5 L1315.8 368 L1315.5 368.9 L1315.1 369.2 L1314.8 369.2 L1314.4 368.8 L1314.1 369.6 L1313.7 369.5 L1313.4 369.4 L1313 367.7 L1312.7 367.7 L1312.3 367.7 L1312 368.6 L1311.6 369.1 L1311.3 369.8 L1310.9 370.5 L1310.6 370.7 L1310.2 370.9 L1309.9 370.4 L1309.5 370.9 L1309.2 370.7 L1308.8 370.6 L1308.5 370.7 L1308.1 371.1 L1307.8 371.8 L1307.4 371.6 L1307.1 370.6 L1306.7 369.8 L1306.4 369.1 L1306 369.4 L1305.7 369.1 L1305.3 369.3 L1305 369.3 L1304.6 370 L1304.3 370.2 L1303.9 370.8 L1303.6 370.9 L1303.2 371.8 L1302.9 371.9 L1302.5 372.1 L1302.2 372 L1301.8 371.5 L1301.5 371.6 L1301.1 371.1 L1300.8 370.5 L1300.4 369.8 L1300.1 369.5 L1299.7 370.4 L1299.4 371 L1299 371.4 L1298.7 371.8 L1298.3 372 L1298 371.8 L1297.6 371.7 L1297.3 372 L1296.9 372.3 L1296.6 372.9 L1296.2 373.1 L1295.9 374.1 L1295.5 374.8 L1295.2 376.1 L1294.8 376.5 L1294.5 376 L1294.1 375.1 L1293.8 375.4 L1293.4 376.4 L1293.1 376.9 L1292.7 377.1 L1292.4 377.7 L1292 378 L1291.7 377.8 L1291.3 377.6 L1291 378.2 L1290.6 378.6 L1290.3 379.2 L1289.9 379.6 L1289.6 379.3 L1289.2 379.1 L1288.9 379.1 L1288.5 379.6 L1288.2 380.6 L1287.8 381 L1287.5 380.8 L1287.1 380.5 L1286.8 380.1 L1286.4 380 L1286.1 380.2 L1285.7 379.8 L1285.4 380.1 L1285 378.8 L1284.7 379.4 L1284.3 379 L1284 378.9 L1283.6 378.7 L1283.3 379.4 L1282.9 379.5 L1282.6 379.4 L1282.2 378.7 L1281.9 378.2 L1281.5 378.5 L1281.2 379.1 L1280.8 379.3 L1280.5 379 L1280.1 378.3 L1279.8 378.3 L1279.4 378 L1279.1 377.7 L1278.7 377.1 L1278.4 377.1 L1278 376.8 L1277.7 377 L1277.3 377 L1277 377.1 L1276.6 377 L1276.3 376.8 L1275.9 377.1 L1275.6 377.2 L1275.2 377.4 L1274.9 376.4 L1274.5 376.5 L1274.2 376.5 L1273.8 377 L1273.5 376.1 L1273.1 375.4 L1272.8 374.6 L1272.4 375.4 L1272.1 375.4 L1271.7 375.2 L1271.4 374.4 L1271 374.2 L1270.7 375.1 L1270.3 376 L1270 376.3 L1269.6 375.7 L1269.3 375.1 L1268.9 374.1 L1268.6 373.5 L1268.2 373.4 L1267.9 372.9 L1267.5 372.9 L1267.2 372.1 L1266.8 372.2 L1266.5 371.8 L1266.1 371.4 L1265.8 371.2 L1265.4 371 L1265.1 371.2 L1264.7 370.7 L1264.4 369.8 L1264 369 L1263.7 369 L1263.3 369.4 L1263 368.9 L1262.6 368.4 L1262.3 368.7 L1261.9 368.8 L1261.6 368.7 L1261.2 366.7 L1260.9 366.5 L1260.5 366.4 L1260.2 366.4 L1259.8 366.2 L1259.5 365.8 L1259.1 365.8 L1258.8 365.2 L1258.4 364.7 L1258.1 365.4 L1257.7 365.8 L1257.4 365.7 L1257 363.9 L1256.7 363.3 L1256.3 363.1 L1256 363.1 L1255.6 362.7 L1255.3 361.8 L1254.9 362.2 L1254.6 361.6 L1254.2 361.5 L1253.9 360.4 L1253.5 360.7 L1253.2 360.6 L1252.8 360 L1252.5 359.1 L1252.1 359.1 L1251.8 359 L1251.4 358.8 L1251.1 358 L1250.7 357.3 L1250.4 356.7 L1250 356 L1249.7 356.1 L1249.3 355.3 L1249 355.3 L1248.6 355.9 L1248.3 356.1 L1247.9 356 L1247.6 354.8 L1247.2 354.5 L1246.9 353.3 L1246.5 353.5 L1246.2 352.7 L1245.8 353.3 L1245.5 352.5 L1245.1 352.4 L1244.8 351.6 L1244.4 351.1 L1244.1 351.1 L1243.7 350.6 L1243.4 350.2 L1243 348.3 L1242.7 347.1 L1242.3 345.3 L1242 344.2 L1241.6 342.8 L1241.3 342 L1240.9 341.4 L1240.6 340.2 L1240.2 338.5 L1239.9 336.8 L1239.5 336.8 L1239.2 336.4 L1238.8 335.3 L1238.5 332.7 L1238.1 331.1 L1237.8 329.1 L1237.4 327.8 L1237.1 325.9 L1236.7 325.2 L1236.4 324.2 L1236 322.6 L1235.7 321.6 L1235.3 320.7 L1235 319.5 L1234.6 318.2 L1234.3 316.8 L1233.9 316.4 L1233.6 314.7 L1233.2 313.4 L1232.9 312.3 L1232.5 311.7 L1232.2 311.1 L1231.8 310.3 L1231.5 309.7 L1231.1 309 L1230.8 308.2 L1230.4 307.5 L1230.1 306.7 L1229.7 305.6 L1229.4 305 L1229 304.6 L1228.7 304.2 L1228.3 303.7 L1228 302.5 L1227.6 302.7 L1227.3 302.1 L1226.9 302.3 L1226.6 302.5 L1226.2 302.5 L1225.9 302.5 L1225.5 303 L1225.2 303.8 L1224.8 305.2 L1224.5 306 L1224.1 305.9 L1223.8 306.7 L1223.4 307.1 L1223.1 309.4 L1222.7 309.4 L1222.4 310.5 L1222 310.6 L1221.7 312.4 L1221.3 313.8 L1221 315 L1220.6 315.5 L1220.3 315.8 L1219.9 317.6 L1219.6 319.5 L1219.2 321.2 L1218.9 321.8 L1218.5 323 L1218.2 323.9 L1217.8 325.1 L1217.5 326.5 L1217.1 328.6 L1216.8 330.4 L1216.4 332 L1216.1 333.6 L1215.7 335 L1215.4 336.8 L1215 338.7 L1214.7 341.2 L1214.3 342.5 L1214 343.8 L1213.6 344.8 L1213.3 346.5 L1212.9 348.4 L1212.6 350.8 L1212.2 352.5 L1211.9 354.4 L1211.5 355.6 L1211.2 357 L1210.8 357.7 L1210.5 358 L1210.1 358.4 L1209.8 358.9 L1209.4 359.3 L1209.1 360.3 L1208.7 360.7 L1208.4 362 L1208 362.3 L1207.7 363 L1207.3 364.1 L1207 365.2 L1206.6 365.6 L1206.3 365.8 L1205.9 365.8 L1205.6 366.6 L1205.2 366.4 L1204.9 367.2 L1204.5 367.9 L1204.2 369.3 L1203.8 370 L1203.5 370.4 L1203.1 370.2 L1202.8 370.7 L1202.4 371.4 L1202.1 372.5 L1201.7 372.3 L1201.4 373 L1201 373 L1200.7 372.5 L1200.3 371.2 L1200 370.9 L1199.6 371.6 L1199.3 372.3 L1198.9 371.8 L1198.6 371.3 L1198.2 371.4 L1197.9 371.3 L1197.5 371.7 L1197.2 371.6 L1196.8 372.5 L1196.5 372.2 L1196.1 372.4 L1195.8 372.4 L1195.4 372.4 L1195.1 371.7 L1194.7 370.7 L1194.4 370.7 L1194 371.1 L1193.7 371.5 L1193.3 372 L1193 371.8 L1192.6 372.1 L1192.3 371.9 L1191.9 372 L1191.6 372 L1191.2 371.6 L1190.9 371.1 L1190.5 370.9 L1190.2 370.9 L1189.8 371.1 L1189.5 371.4 L1189.1 371.3 L1188.8 371.5 L1188.4 371.2 L1188.1 371.7 L1187.7 370.7 L1187.4 370.9 L1187 369.8 L1186.7 370.4 L1186.3 370 L1186 370.9 L1185.6 371 L1185.3 371.7 L1184.9 371.6 L1184.6 371.7 L1184.2 371.8 L1183.9 371.6 L1183.5 371.5 L1183.2 370.9 L1182.8 370.5 L1182.5 370.1Z" fill="#b9cdef"/>
<polyline points="1182.5,369.9 1182.8,370.9 1183.2,369.9 1183.5,369.8 1183.9,369 1184.2,370 1184.6,371.8 1184.9,370.9 1185.3,371.7 1185.6,370.7 1186,370.9 1186.3,370.7 1186.7,368.2 1187,371.6 1187.4,371.1 1187.7,371.1 1188.1,368.2 1188.4,368.2 1188.8,369.3 1189.1,369.9 1189.5,371 1189.8,370.5 1190.2,371.3 1190.5,369.8 1190.9,371.1 1191.2,371.2 1191.6,369.8 1191.9,373 1192.3,371.5 1192.6,372.3 1193,369.9 1193.3,369.8 1193.7,370.3 1194,370.7 1194.4,371.7 1194.7,371.2 1195.1,370.3 1195.4,369.6 1195.8,370.2 1196.1,372.6 1196.5,369.8 1196.8,371.3 1197.2,371.5 1197.5,369 1197.9,371.1 1198.2,372.8 1198.6,368.3 1198.9,370.6 1199.3,370.9 1199.6,370 1200,371.8 1200.3,371 1200.7,369.2 1201,372.3 1201.4,372.1 1201.7,372.5 1202.1,373.2 1202.4,371.6 1202.8,371 1203.1,368.5 1203.5,370.4 1203.8,367.9 1204.2,367.1 1204.5,364.7 1204.9,363.7 1205.2,362.6 1205.6,363.4 1205.9,357.2 1206.3,356.3 1206.6,356.9 1207,356.8 1207.3,354 1207.7,349 1208,346.3 1208.4,348.3 1208.7,344.6 1209.1,341.7 1209.4,342 1209.8,339.4 1210.1,335.1 1210.5,332.1 1210.8,329 1211.2,327 1211.5,322.2 1211.9,318.6 1212.2,315.2 1212.6,308.9 1212.9,309.6 1213.3,306.3 1213.6,303.2 1214,297.5 1214.3,297.3 1214.7,297.6 1215,292.5 1215.4,293.5 1215.7,294.2 1216.1,290 1216.4,293 1216.8,290.6 1217.1,288.6 1217.5,288.3 1217.8,287.7 1218.2,286 1218.5,286.5 1218.9,283.4 1219.2,283.1 1219.6,284.5 1219.9,282.8 1220.3,281.3 1220.6,283.7 1221,284.3 1221.3,281.9 1221.7,280.7 1222,282.5 1222.4,282.6 1222.7,282.5 1223.1,285 1223.4,281.8 1223.8,285 1224.1,281.7 1224.5,282.5 1224.8,284.5 1225.2,285.3 1225.5,285.1 1225.9,284.7 1226.2,284.8 1226.6,285.2 1226.9,286.2 1227.3,285.7 1227.6,286.9 1228,288 1228.3,287.9 1228.7,289.6 1229,290.1 1229.4,292.7 1229.7,291.1 1230.1,290.8 1230.4,291.6 1230.8,292.8 1231.1,294.7 1231.5,293.7 1231.8,295.4 1232.2,298.1 1232.5,293 1232.9,295.8 1233.2,298.7 1233.6,299.9 1233.9,300.8 1234.3,301.1 1234.6,303.9 1235,304.8 1235.3,305.1 1235.7,310.4 1236,309 1236.4,309.2 1236.7,311.2 1237.1,312.4 1237.4,314.1 1237.8,311.9 1238.1,316.3 1238.5,319.7 1238.8,318.1 1239.2,321 1239.5,323.6 1239.9,324.7 1240.2,326.7 1240.6,323.4 1240.9,326.2 1241.3,327.2 1241.6,329.3 1242,330.7 1242.3,326.4 1242.7,332.3 1243,329.6 1243.4,333.3 1243.7,331.1 1244.1,334.1 1244.4,336.3 1244.8,335.2 1245.1,336.5 1245.5,338.1 1245.8,338 1246.2,338.4 1246.5,341.4 1246.9,341.5 1247.2,340.5 1247.6,345.3 1247.9,340.9 1248.3,344.4 1248.6,343.6 1249,344.9 1249.3,346.5 1249.7,346.6 1250,347.9 1250.4,345.8 1250.7,346.5 1251.1,350.1 1251.4,348.6 1251.8,349.1 1252.1,349.1 1252.5,353.3 1252.8,353.1 1253.2,354.5 1253.5,351.7 1253.9,353.4 1254.2,352.3 1254.6,355.3 1254.9,356.9 1255.3,354 1255.6,357.7 1256,357.4 1256.3,356.2 1256.7,354.2 1257,359.2 1257.4,357.6 1257.7,357.4 1258.1,359.2 1258.4,359.6 1258.8,361.5 1259.1,358.6 1259.5,361.9 1259.8,362.8 1260.2,363.1 1260.5,361.3 1260.9,360.9 1261.2,363.7 1261.6,362.8 1261.9,363.1 1262.3,365.2 1262.6,363.2 1263,360.7 1263.3,363.6 1263.7,361.9 1264,365.7 1264.4,365.4 1264.7,364.4 1265.1,365.5 1265.4,366.9 1265.8,366.2 1266.1,368.1 1266.5,366.5 1266.8,368.3 1267.2,369.2 1267.5,369.6 1267.9,366.8 1268.2,369.2 1268.6,365.8 1268.9,367.1 1269.3,366.2 1269.6,370.6 1270,367.8 1270.3,369.7 1270.7,369.7 1271,370.2 1271.4,369.8 1271.7,371.1 1272.1,373.5 1272.4,371.3 1272.8,372.2 1273.1,373 1273.5,371.6 1273.8,370.4 1274.2,371.5 1274.5,373.9 1274.9,370.4 1275.2,372 1275.6,374.3 1275.9,374.2 1276.3,373.3 1276.6,374.5 1277,373.9 1277.3,372.2 1277.7,371.9 1278,373.3 1278.4,375.6 1278.7,373.7 1279.1,373.5 1279.4,373.8 1279.8,372.9 1280.1,375 1280.5,373.8 1280.8,376 1281.2,372.5 1281.5,376.3 1281.9,375.2 1282.2,373.6 1282.6,377.4 1282.9,376.2 1283.3,373.6 1283.6,375.6 1284,377.2 1284.3,376.3 1284.7,378 1285,377.9 1285.4,377.8 1285.7,377.3 1286.1,378.7 1286.4,377.8 1286.8,377.5 1287.1,374 1287.5,378 1287.8,378.6 1288.2,376.4 1288.5,376.1 1288.9,379.4 1289.2,374.4 1289.6,377.4 1289.9,380 1290.3,375.4 1290.6,377.6 1291,379.2 1291.3,376.5 1291.7,377.4 1292,377.8 1292.4,375.4 1292.7,376.4 1293.1,376.9 1293.4,377.7 1293.8,376.5 1294.1,376.2 1294.5,375.1 1294.8,376 1295.2,377.7 1295.5,376.6 1295.9,375.3 1296.2,375.3 1296.6,380 1296.9,377.9 1297.3,377.2 1297.6,372.8 1298,377.2 1298.3,377 1298.7,378.6 1299,376.8 1299.4,376.2 1299.7,376.9 1300.1,373.6 1300.4,377.6 1300.8,376.6 1301.1,375.2 1301.5,377.9 1301.8,378.6 1302.2,374.2 1302.5,375.2 1302.9,376.5 1303.2,376.3 1303.6,375.5 1303.9,374.7 1304.3,378.9 1304.6,377.4 1305,374.4 1305.3,374.1 1305.7,378.2 1306,377.3 1306.4,378.4 1306.7,377 1307.1,374.7 1307.4,376.2 1307.8,372.9 1308.1,374.7 1308.5,375.6 1308.8,376.4 1309.2,374.6 1309.5,375.4 1309.9,376.2 1310.2,376 1310.6,376.3 1310.9,375.7 1311.3,375 1311.6,376.4 1312,375.4 1312.3,374.2 1312.7,374.4 1313,375.2 1313.4,375 1313.7,375.4 1314.1,375.1 1314.4,375.3 1314.8,374.8 1315.1,373.3 1315.5,375.5 1315.8,376.3 1316.2,375.5 1316.5,374.6 1316.9,375.4 1317.2,373.5 1317.6,372.2 1317.9,374.8 1318.3,373.4 1318.6,375.6 1319,373.1 1319.3,371 1319.7,373.1 1320,376.6 1320.4,373.9 1320.7,372.5 1321.1,373.3 1321.4,375 1321.8,374.9 1322.1,374.5 1322.5,376.2 1322.8,375.1 1323.2,374.1 1323.5,374.9 1323.9,376.3 1324.2,375.3 1324.6,375.4 1324.9,372.5 1325.3,373.7 1325.6,374.8 1326,373.4 1326.3,375.2 1326.7,374.6 1327,374.9 1327.4,373.4 1327.7,377.1 1328.1,375.3 1328.4,373.3 1328.8,373.6 1329.1,377 1329.5,373 1329.8,374.6 1330.2,374.7 1330.5,373.3 1330.9,371.7 1331.2,373.5 1331.6,373.7 1331.9,374.7 1332.3,374.2 1332.6,373.1 1333,374.2 1333.3,373.8 1333.7,373.3 1334,373 1334.4,372.6 1334.7,373.8 1335.1,371.4 1335.4,372 1335.8,372.8 1336.1,370.8 1336.5,372.1 1336.8,369.9 1337.2,371.7 1337.5,373.4 1337.9,373.4 1338.2,372.5" fill="none" stroke="#111" stroke-width="1.5" stroke-linejoin="round"/>
<polyline points="1182.5,369.4 1182.8,371.3 1183.2,370 1183.5,370.1 1183.9,369.7 1184.2,369.4 1184.6,369.7 1184.9,369.1 1185.3,368.5 1185.6,368.4 1186,368.2 1186.3,369.5 1186.7,369.8 1187,370.8 1187.4,369.8 1187.7,369.6 1188.1,370 1188.4,369.4 1188.8,367.7 1189.1,370.4 1189.5,369.1 1189.8,369.7 1190.2,369.3 1190.5,372.2 1190.9,370.6 1191.2,370 1191.6,368.6 1191.9,370.5 1192.3,368.8 1192.6,370.7 1193,368.3 1193.3,369.6 1193.7,370.6 1194,369 1194.4,369.9 1194.7,370 1195.1,370.7 1195.4,369.4 1195.8,370.5 1196.1,371.8 1196.5,368.5 1196.8,369.1 1197.2,370.4 1197.5,369.4 1197.9,368.7 1198.2,371.3 1198.6,370.9 1198.9,371.1 1199.3,371.1 1199.6,370.8 1200,369.3 1200.3,367.9 1200.7,370.6 1201,369.2 1201.4,370.2 1201.7,370.6 1202.1,369.1 1202.4,369.8 1202.8,371.6 1203.1,370.3 1203.5,367.6 1203.8,368.4 1204.2,367.8 1204.5,367.5 1204.9,366.7 1205.2,364.8 1205.6,363.5 1205.9,363.4 1206.3,360.1 1206.6,361.3 1207,359.4 1207.3,357.5 1207.7,356.2 1208,355.8 1208.4,353.1 1208.7,351.1 1209.1,352.5 1209.4,352.4 1209.8,349.7 1210.1,348.7 1210.5,347.4 1210.8,345.1 1211.2,344.9 1211.5,343.6 1211.9,341.1 1212.2,340 1212.6,336.1 1212.9,335.1 1213.3,331.9 1213.6,329.8 1214,328.2 1214.3,325.8 1214.7,324.1 1215,321.6 1215.4,317.5 1215.7,317.5 1216.1,312.5 1216.4,311.6 1216.8,309.6 1217.1,306.9 1217.5,305.2 1217.8,302.7 1218.2,299.7 1218.5,299.4 1218.9,296.8 1219.2,294.2 1219.6,293.4 1219.9,291.7 1220.3,290.6 1220.6,288.2 1221,287.4 1221.3,285.6 1221.7,285.7 1222,282.4 1222.4,282.4 1222.7,279.7 1223.1,279.3 1223.4,278.9 1223.8,274.9 1224.1,273.8 1224.5,271.4 1224.8,270 1225.2,268.8 1225.5,268.2 1225.9,268.2 1226.2,267.6 1226.6,266.1 1226.9,266.8 1227.3,265.6 1227.6,268.2 1228,268.4 1228.3,268.7 1228.7,270.2 1229,272.6 1229.4,273.3 1229.7,275 1230.1,275.1 1230.4,276.9 1230.8,277.7 1231.1,277.6 1231.5,280 1231.8,281.2 1232.2,281.9 1232.5,284.5 1232.9,287.1 1233.2,287.9 1233.6,288.1 1233.9,288.5 1234.3,291 1234.6,292.2 1235,294.7 1235.3,297.4 1235.7,298 1236,298.5 1236.4,302.8 1236.7,303.4 1237.1,306.4 1237.4,306.1 1237.8,310.9 1238.1,309.3 1238.5,312.3 1238.8,314.7 1239.2,313.3 1239.5,316.7 1239.9,317.8 1240.2,322.5 1240.6,323.4 1240.9,323.6 1241.3,324.6 1241.6,326.2 1242,329.4 1242.3,329.8 1242.7,332 1243,332.3 1243.4,332.2 1243.7,336.2 1244.1,335.7 1244.4,335.2 1244.8,336.2 1245.1,338.3 1245.5,338.5 1245.8,337.3 1246.2,340.4 1246.5,339.1 1246.9,340.9 1247.2,339.9 1247.6,341 1247.9,343 1248.3,341.8 1248.6,343.6 1249,344.5 1249.3,344.2 1249.7,346.8 1250,346.7 1250.4,346.6 1250.7,348.3 1251.1,349.3 1251.4,349.8 1251.8,349.2 1252.1,350.7 1252.5,350.9 1252.8,350.2 1253.2,351.5 1253.5,354.3 1253.9,352.4 1254.2,354.2 1254.6,355.9 1254.9,354.7 1255.3,355.6 1255.6,355.5 1256,357.2 1256.3,356.1 1256.7,358 1257,357.3 1257.4,358.7 1257.7,357.1 1258.1,358 1258.4,360.2 1258.8,360.1 1259.1,357.1 1259.5,361.6 1259.8,359.7 1260.2,361.6 1260.5,362 1260.9,361.2 1261.2,361.3 1261.6,360.2 1261.9,362.7 1262.3,364.2 1262.6,361.7 1263,364.2 1263.3,364.1 1263.7,364.6 1264,363 1264.4,364.2 1264.7,364.8 1265.1,366.4 1265.4,364.3 1265.8,365 1266.1,365.1 1266.5,366.8 1266.8,364.9 1267.2,366.5 1267.5,365.7 1267.9,366.9 1268.2,368.2 1268.6,367.3 1268.9,368.7 1269.3,367.9 1269.6,368.5 1270,368.7 1270.3,368.2 1270.7,369.6 1271,370 1271.4,368.8 1271.7,370.3 1272.1,369.9 1272.4,369.5 1272.8,370.2 1273.1,370.9 1273.5,371 1273.8,371.8 1274.2,370.8 1274.5,370.9 1274.9,369.5 1275.2,370.5 1275.6,371.6 1275.9,370.2 1276.3,370.5 1276.6,373.1 1277,371.5 1277.3,370.7 1277.7,369.9 1278,371.2 1278.4,374.2 1278.7,372.2 1279.1,373 1279.4,373.1 1279.8,372.2 1280.1,373.1 1280.5,373 1280.8,372.8 1281.2,374.1 1281.5,372.6 1281.9,372.8 1282.2,373 1282.6,374.8 1282.9,373.4 1283.3,375.6 1283.6,372.9 1284,373.3 1284.3,372 1284.7,373.7 1285,374.7 1285.4,375.4 1285.7,374 1286.1,374.5 1286.4,376.4 1286.8,374.8 1287.1,375.5 1287.5,376 1287.8,374.6 1288.2,376.5 1288.5,375.1 1288.9,375.8 1289.2,374.6 1289.6,374.9 1289.9,375.4 1290.3,374.2 1290.6,372 1291,373 1291.3,372.5 1291.7,372.4 1292,372.4 1292.4,370.4 1292.7,373.1 1293.1,370.3 1293.4,371.9 1293.8,370.1 1294.1,369.7 1294.5,369.6 1294.8,369 1295.2,369.5 1295.5,369.8 1295.9,369.9 1296.2,369.6 1296.6,366.5 1296.9,368 1297.3,367.6 1297.6,366.9 1298,367.1 1298.3,366.7 1298.7,365.5 1299,365.7 1299.4,367.3 1299.7,366.3 1300.1,367.6 1300.4,365.9 1300.8,365.7 1301.1,366.3 1301.5,366.3 1301.8,367 1302.2,365.6 1302.5,366.8 1302.9,366.3 1303.2,365.2 1303.6,365.8 1303.9,365.7 1304.3,366.7 1304.6,366.9 1305,366.4 1305.3,365.2 1305.7,366.3 1306,365.8 1306.4,365 1306.7,366.2 1307.1,364.8 1307.4,365.2 1307.8,364.5 1308.1,364.1 1308.5,365.6 1308.8,363.8 1309.2,364.6 1309.5,364.8 1309.9,365.6 1310.2,364.5 1310.6,365.7 1310.9,364.3 1311.3,364.2 1311.6,364.2 1312,364.4 1312.3,364.2 1312.7,363.5 1313,364.1 1313.4,363.9 1313.7,365.6 1314.1,363.6 1314.4,364.9 1314.8,363.7 1315.1,365.2 1315.5,364.3 1315.8,363.8 1316.2,365.3 1316.5,365.5 1316.9,365.4 1317.2,364.8 1317.6,363.9 1317.9,363.1 1318.3,363.1 1318.6,363 1319,363.8 1319.3,362.8 1319.7,363.3 1320,363.2 1320.4,362.8 1320.7,362.2 1321.1,361.7 1321.4,364.8 1321.8,362.3 1322.1,360.8 1322.5,361 1322.8,361.5 1323.2,363.6 1323.5,361.9 1323.9,360.9 1324.2,363.2 1324.6,359.8 1324.9,362.4 1325.3,363.8 1325.6,361.1 1326,361.9 1326.3,361.5 1326.7,358.2 1327,361 1327.4,360 1327.7,357.9 1328.1,361.1 1328.4,359.7 1328.8,360.4 1329.1,360.5 1329.5,359.5 1329.8,357.9 1330.2,359.6 1330.5,359.4 1330.9,359.1 1331.2,359.5 1331.6,360.3 1331.9,361.8 1332.3,360.6 1332.6,360.8 1333,361.7 1333.3,361.2 1333.7,360.7 1334,360.4 1334.4,360 1334.7,362 1335.1,361.2 1335.4,362.4 1335.8,360.7 1336.1,361 1336.5,362 1336.8,363.1 1337.2,361.6 1337.5,361.3 1337.9,362.3 1338.2,360.7" fill="none" stroke="#4d7ccc" stroke-width="1.5" stroke-linejoin="round"/>
<line x1="628" y1="178" x2="628" y2="233" stroke="#000" stroke-width="1.5"/>
<text x="576" y="210.5" font-size="23">z=5</text>
<line x1="597" y1="320" x2="619" y2="320" stroke="#000" stroke-width="1.5"/>
<text x="573" y="350" font-size="23">5 sec</text>
<line x1="730" y1="216.6" x2="761" y2="216.6" stroke="#000" stroke-width="3.2"/>
<line x1="730" y1="248" x2="761" y2="248" stroke="#4d7ccc" stroke-width="3.2"/>
<text x="777" y="225" font-size="24">Control</text>
<text x="777" y="256.5" font-size="24">hM4Di</text>
<text x="701" y="427.5" font-size="24" text-anchor="middle">E-Ext</text>
<text x="883" y="427.5" font-size="24" text-anchor="middle">L-Ext</text>
<text x="1070" y="427.5" font-size="24" text-anchor="middle">E-Ret</text>
<text x="1251.5" y="427.5" font-size="24" text-anchor="middle">F-Ren</text>
</g>
<g id="panel_c">
<text x="1404" y="29" font-size="32" font-weight="bold">c</text>
<rect x="1673.5" y="34" width="15" height="14.8" fill="#fff" stroke="#111" stroke-width="1.6"/>
<rect x="1673.5" y="64" width="15" height="14.8" fill="#86c3ec" stroke="#111" stroke-width="1.6"/>
<text x="1704" y="50.5" font-size="24">Control</text>
<text x="1704" y="80" font-size="24">hM4Di</text>
<line x1="1510.3" y1="72" x2="1510.3" y2="360.2" stroke="#000" stroke-width="1.7"/>
<line x1="1503.6" y1="359.3" x2="1797.5" y2="359.3" stroke="#000" stroke-width="1.7"/>
<line x1="1503.6" y1="359.3" x2="1510.3" y2="359.3" stroke="#000" stroke-width="1.7"/>
<text x="1499.2" y="367.9" font-size="24" text-anchor="end">0</text>
<line x1="1503.6" y1="287.6" x2="1510.3" y2="287.6" stroke="#000" stroke-width="1.7"/>
<text x="1499.2" y="296.2" font-size="24" text-anchor="end">6</text>
<line x1="1503.6" y1="215.9" x2="1510.3" y2="215.9" stroke="#000" stroke-width="1.7"/>
<text x="1499.2" y="224.5" font-size="24" text-anchor="end">12</text>
<line x1="1503.6" y1="144.2" x2="1510.3" y2="144.2" stroke="#000" stroke-width="1.7"/>
<text x="1499.2" y="152.8" font-size="24" text-anchor="end">18</text>
<line x1="1503.6" y1="72.5" x2="1510.3" y2="72.5" stroke="#000" stroke-width="1.7"/>
<text x="1499.2" y="81.1" font-size="24" text-anchor="end">24</text>
<text x="1458.5" y="211.9" font-size="23.7" text-anchor="middle" transform="rotate(-90 1458.5 211.9)">CS-related Ca<tspan dy="-9.5" font-size="17.5">2+</tspan><tspan dy="9.5" dx="3"> transients</tspan></text>
<line x1="1532.6" y1="261.5" x2="1532.6" y2="249.9" stroke="#000" stroke-width="1.5"/>
<line x1="1529.4" y1="249.9" x2="1535.8" y2="249.9" stroke="#000" stroke-width="1.5"/>
<rect x="1521.6" y="261.5" width="22.1" height="97.8" fill="#fff" stroke="#1a1a1a" stroke-width="1.7"/>
<circle cx="1532.6" cy="203.9" r="2.9" fill="#fff" stroke="#3a3a3a" stroke-width="1.3"/>
<circle cx="1524.7" cy="239.9" r="2.9" fill="#fff" stroke="#3a3a3a" stroke-width="1.3"/>
<circle cx="1540.8" cy="239.9" r="2.9" fill="#fff" stroke="#3a3a3a" stroke-width="1.3"/>
<circle cx="1524.7" cy="263.4" r="2.9" fill="#fff" stroke="#3a3a3a" stroke-width="1.3"/>
<circle cx="1540.8" cy="263.4" r="2.9" fill="#fff" stroke="#3a3a3a" stroke-width="1.3"/>
<circle cx="1524.7" cy="287.4" r="2.9" fill="#fff" stroke="#3a3a3a" stroke-width="1.3"/>
<circle cx="1540.8" cy="287.4" r="2.9" fill="#fff" stroke="#3a3a3a" stroke-width="1.3"/>
<circle cx="1532.6" cy="299.4" r="2.9" fill="#fff" stroke="#3a3a3a" stroke-width="1.3"/>
<line x1="1559.5" y1="200.3" x2="1559.5" y2="178" stroke="#000" stroke-width="1.5"/>
<line x1="1556.3" y1="178" x2="1562.7" y2="178" stroke="#000" stroke-width="1.5"/>
<rect x="1548.7" y="200.3" width="21.6" height="159" fill="#86c3ec" stroke="#1a1a1a" stroke-width="1.7"/>
<circle cx="1559.5" cy="132.6" r="2.9" fill="#d3eff7" stroke="#1f3d50" stroke-width="1.3"/>
<circle cx="1559.5" cy="156.4" r="2.9" fill="#d3eff7" stroke="#1f3d50" stroke-width="1.3"/>
<circle cx="1559.5" cy="191.9" r="2.9" fill="#d3eff7" stroke="#1f3d50" stroke-width="1.3"/>
<circle cx="1551.6" cy="215.9" r="2.9" fill="#d3eff7" stroke="#1f3d50" stroke-width="1.3"/>
<circle cx="1567.4" cy="215.9" r="2.9" fill="#d3eff7" stroke="#1f3d50" stroke-width="1.3"/>
<circle cx="1559.5" cy="287.4" r="2.9" fill="#d3eff7" stroke="#1f3d50" stroke-width="1.3"/>
<line x1="1604.1" y1="308.9" x2="1604.1" y2="302.2" stroke="#000" stroke-width="1.5"/>
<line x1="1600.9" y1="302.2" x2="1607.3" y2="302.2" stroke="#000" stroke-width="1.5"/>
<rect x="1593.1" y="308.9" width="22.1" height="50.4" fill="#fff" stroke="#1a1a1a" stroke-width="1.7"/>
<circle cx="1604.3" cy="275.4" r="2.9" fill="#fff" stroke="#3a3a3a" stroke-width="1.3"/>
<circle cx="1599.1" cy="299.4" r="2.9" fill="#fff" stroke="#3a3a3a" stroke-width="1.3"/>
<circle cx="1608.7" cy="299.4" r="2.9" fill="#fff" stroke="#3a3a3a" stroke-width="1.3"/>
<circle cx="1595" cy="311.3" r="2.9" fill="#fff" stroke="#3a3a3a" stroke-width="1.3"/>
<circle cx="1604.3" cy="311.3" r="2.9" fill="#fff" stroke="#3a3a3a" stroke-width="1.3"/>
<circle cx="1613.5" cy="311.3" r="2.9" fill="#fff" stroke="#3a3a3a" stroke-width="1.3"/>
<circle cx="1604.3" cy="323.8" r="2.9" fill="#fff" stroke="#3a3a3a" stroke-width="1.3"/>
<circle cx="1604.3" cy="335.3" r="2.9" fill="#fff" stroke="#3a3a3a" stroke-width="1.3"/>
<line x1="1631.5" y1="252.3" x2="1631.5" y2="247.1" stroke="#000" stroke-width="1.5"/>
<line x1="1628.3" y1="247.1" x2="1634.7" y2="247.1" stroke="#000" stroke-width="1.5"/>
<rect x="1620.7" y="252.3" width="21.6" height="107" fill="#86c3ec" stroke="#1a1a1a" stroke-width="1.7"/>
<circle cx="1623.1" cy="239.4" r="2.9" fill="#d3eff7" stroke="#1f3d50" stroke-width="1.3"/>
<circle cx="1639.4" cy="239.4" r="2.9" fill="#d3eff7" stroke="#1f3d50" stroke-width="1.3"/>
<circle cx="1623.1" cy="251.4" r="2.9" fill="#d3eff7" stroke="#1f3d50" stroke-width="1.3"/>
<circle cx="1639.4" cy="251.4" r="2.9" fill="#d3eff7" stroke="#1f3d50" stroke-width="1.3"/>
<circle cx="1623.1" cy="263.9" r="2.9" fill="#d3eff7" stroke="#1f3d50" stroke-width="1.3"/>
<circle cx="1639.4" cy="263.9" r="2.9" fill="#d3eff7" stroke="#1f3d50" stroke-width="1.3"/>
<line x1="1676.1" y1="313" x2="1676.1" y2="306.5" stroke="#000" stroke-width="1.5"/>
<line x1="1672.9" y1="306.5" x2="1679.3" y2="306.5" stroke="#000" stroke-width="1.5"/>
<rect x="1665" y="313" width="22.1" height="46.3" fill="#fff" stroke="#1a1a1a" stroke-width="1.7"/>
<circle cx="1675.8" cy="287.4" r="2.9" fill="#fff" stroke="#3a3a3a" stroke-width="1.3"/>
<circle cx="1667.4" cy="299.4" r="2.9" fill="#fff" stroke="#3a3a3a" stroke-width="1.3"/>
<circle cx="1684.2" cy="299.4" r="2.9" fill="#fff" stroke="#3a3a3a" stroke-width="1.3"/>
<circle cx="1667.4" cy="311.3" r="2.9" fill="#fff" stroke="#3a3a3a" stroke-width="1.3"/>
<circle cx="1684.2" cy="311.3" r="2.9" fill="#fff" stroke="#3a3a3a" stroke-width="1.3"/>
<circle cx="1667.4" cy="323.3" r="2.9" fill="#fff" stroke="#3a3a3a" stroke-width="1.3"/>
<circle cx="1684.2" cy="323.3" r="2.9" fill="#fff" stroke="#3a3a3a" stroke-width="1.3"/>
<circle cx="1675.8" cy="347.3" r="2.9" fill="#fff" stroke="#3a3a3a" stroke-width="1.3"/>
<line x1="1702.9" y1="333.4" x2="1702.9" y2="327.4" stroke="#000" stroke-width="1.5"/>
<line x1="1699.7" y1="327.4" x2="1706.1" y2="327.4" stroke="#000" stroke-width="1.5"/>
<rect x="1692.1" y="333.4" width="21.6" height="25.9" fill="#86c3ec" stroke="#1a1a1a" stroke-width="1.7"/>
<circle cx="1702.7" cy="311.3" r="2.9" fill="#d3eff7" stroke="#1f3d50" stroke-width="1.3"/>
<circle cx="1702.7" cy="323.3" r="2.9" fill="#d3eff7" stroke="#1f3d50" stroke-width="1.3"/>
<circle cx="1695" cy="335.3" r="2.9" fill="#d3eff7" stroke="#1f3d50" stroke-width="1.3"/>
<circle cx="1710.6" cy="335.3" r="2.9" fill="#d3eff7" stroke="#1f3d50" stroke-width="1.3"/>
<circle cx="1695" cy="347.3" r="2.9" fill="#d3eff7" stroke="#1f3d50" stroke-width="1.3"/>
<circle cx="1710.6" cy="347.3" r="2.9" fill="#d3eff7" stroke="#1f3d50" stroke-width="1.3"/>
<line x1="1747.8" y1="295" x2="1747.8" y2="290.2" stroke="#000" stroke-width="1.5"/>
<line x1="1744.6" y1="290.2" x2="1751" y2="290.2" stroke="#000" stroke-width="1.5"/>
<rect x="1737" y="295" width="21.6" height="64.3" fill="#fff" stroke="#1a1a1a" stroke-width="1.7"/>
<circle cx="1743" cy="275.4" r="2.9" fill="#fff" stroke="#3a3a3a" stroke-width="1.3"/>
<circle cx="1752.6" cy="275.4" r="2.9" fill="#fff" stroke="#3a3a3a" stroke-width="1.3"/>
<circle cx="1743" cy="287.4" r="2.9" fill="#fff" stroke="#3a3a3a" stroke-width="1.3"/>
<circle cx="1752.6" cy="287.4" r="2.9" fill="#fff" stroke="#3a3a3a" stroke-width="1.3"/>
<circle cx="1747.8" cy="299.4" r="2.9" fill="#fff" stroke="#3a3a3a" stroke-width="1.3"/>
<circle cx="1738.2" cy="311.3" r="2.9" fill="#fff" stroke="#3a3a3a" stroke-width="1.3"/>
<circle cx="1747.8" cy="311.3" r="2.9" fill="#fff" stroke="#3a3a3a" stroke-width="1.3"/>
<circle cx="1757.4" cy="311.3" r="2.9" fill="#fff" stroke="#3a3a3a" stroke-width="1.3"/>
<line x1="1774.4" y1="317.8" x2="1774.4" y2="312.3" stroke="#000" stroke-width="1.5"/>
<line x1="1771.2" y1="312.3" x2="1777.6" y2="312.3" stroke="#000" stroke-width="1.5"/>
<rect x="1763.4" y="317.8" width="22.1" height="41.5" fill="#86c3ec" stroke="#1a1a1a" stroke-width="1.7"/>
<circle cx="1774.7" cy="299.4" r="2.9" fill="#d3eff7" stroke="#1f3d50" stroke-width="1.3"/>
<circle cx="1765.8" cy="311.3" r="2.9" fill="#d3eff7" stroke="#1f3d50" stroke-width="1.3"/>
<circle cx="1782.6" cy="311.3" r="2.9" fill="#d3eff7" stroke="#1f3d50" stroke-width="1.3"/>
<circle cx="1765.8" cy="323.3" r="2.9" fill="#d3eff7" stroke="#1f3d50" stroke-width="1.3"/>
<circle cx="1782.6" cy="323.3" r="2.9" fill="#d3eff7" stroke="#1f3d50" stroke-width="1.3"/>
<circle cx="1774.7" cy="335.3" r="2.9" fill="#d3eff7" stroke="#1f3d50" stroke-width="1.3"/>
<line x1="1528.8" y1="114.7" x2="1554.7" y2="114.7" stroke="#000" stroke-width="1.5"/>
<text x="1541.7" y="118.5" font-size="35" text-anchor="middle" font-weight="bold">*</text>
<line x1="1604.3" y1="222.4" x2="1630.3" y2="222.4" stroke="#000" stroke-width="1.5"/>
<text x="1617.3" y="226.2" font-size="35" text-anchor="middle" font-weight="bold">*</text>
<line x1="1675.8" y1="222.4" x2="1701.7" y2="222.4" stroke="#000" stroke-width="1.5"/>
<text x="1688.8" y="226.2" font-size="35" text-anchor="middle" font-weight="bold">*</text>
<line x1="1747.8" y1="222.4" x2="1773.7" y2="222.4" stroke="#000" stroke-width="1.5"/>
<text x="1760.7" y="226.2" font-size="35" text-anchor="middle" font-weight="bold">*</text>
<text x="1556" y="384" font-size="24" text-anchor="end" transform="rotate(-90 1556 384)">E-Ext</text>
<text x="1627" y="384" font-size="24" text-anchor="end" transform="rotate(-90 1627 384)">L-Ext</text>
<text x="1698.5" y="384" font-size="24" text-anchor="end" transform="rotate(-90 1698.5 384)">E-Ret</text>
<text x="1770" y="384" font-size="24" text-anchor="end" transform="rotate(-90 1770 384)">F-Ren</text>
</g>
<g id="panel_d">
<text x="121" y="554" font-size="34" font-weight="bold">d</text>
<g transform="translate(245.4 541.9) scale(1)" fill="#bfbfbf"><rect x="-6.3" y="0" width="12.6" height="3" rx="1.2"/><rect x="-4.6" y="2.4" width="9.2" height="6.8"/><path d="M-10 10.6 C-10 8.8 -8.5 8.4 -6.5 8.4 L6.5 8.4 C8.5 8.4 9.8 8.8 9.8 10.6 L8.6 10.6 C8.6 9.9 8 9.7 6.5 9.8 L-6.5 9.8 C-8 9.7 -8.8 9.9 -8.8 10.6 Z"/><path d="M-6.4 8.6 L6.3 8.6 L6.3 33 C6.3 36.5 3.5 38.5 1.8 40.5 L-1.9 40.5 C-3.8 38.5 -6.4 36.5 -6.4 33 Z"/><path d="M-1.9 40 L1.7 40 L0.6 58 L-0.7 58 Z"/></g><g transform="translate(245.4 541.9) scale(1)" fill="#fff"><rect x="-4.3" y="12.0" width="8.3" height="2.9"/><rect x="-4.3" y="19.8" width="8.3" height="2.9"/><rect x="-4.3" y="27.2" width="8.3" height="2.9"/></g>
<text x="264" y="571.8" font-size="24">CNO</text>
<line x1="253" y1="774.8" x2="548" y2="774.8" stroke="#999" stroke-width="1.4" stroke-dasharray="4.5 3.5"/>
<line x1="226" y1="774.8" x2="246" y2="774.8" stroke="#666" stroke-width="1.2" stroke-dasharray="3 2"/>
<line x1="253" y1="853" x2="548" y2="853" stroke="#888" stroke-width="1.2" stroke-dasharray="4.5 3.5"/>
<polyline points="227,778.3 227.3,779 227.7,786.6 228,778.5 228.4,775.7 228.7,780.9 229.1,780.5 229.4,782.1 229.8,778.9 230.1,784.5 230.5,781.9 230.8,787.8 231.2,781.8 231.5,780.8 231.9,784.4 232.2,782.7 232.6,777.7 232.9,782.5 233.3,778 233.6,783.8 234,778.3 234.3,781.2 234.7,777.7 235,781.1 235.4,784.3 235.7,783.6 236.1,778.1 236.4,776 236.8,782.2 237.1,778 237.5,777.7 237.8,782.2 238.2,776.3 238.5,782.5 238.9,783.3 239.2,780.1 239.6,777.3 239.9,779.4 240.3,784.6 240.6,780.6 241,783.9 241.3,780.2 241.7,780.5 242,780.7 242.4,780.5 242.7,781 243.1,782.7 243.4,783.7 243.8,779.6 244.1,777.2 244.5,778 244.8,777.2 245.2,773.9" fill="none" stroke="#d99a30" stroke-width="1.3" stroke-linejoin="round"/>
<line x1="231.5" y1="747.6" x2="231.5" y2="780" stroke="#d99a30" stroke-width="1.3"/>
<line x1="235.2" y1="741.1" x2="235.2" y2="780" stroke="#d99a30" stroke-width="1.3"/>
<line x1="238.9" y1="731.8" x2="238.9" y2="780" stroke="#d99a30" stroke-width="1.3"/>
<line x1="241.7" y1="729.9" x2="241.7" y2="780" stroke="#d99a30" stroke-width="1.3"/>
<line x1="228.7" y1="769.1" x2="228.7" y2="780" stroke="#d99a30" stroke-width="1.3"/>
<line x1="244.5" y1="754.2" x2="244.5" y2="780" stroke="#d99a30" stroke-width="1.3"/>
<line x1="237.1" y1="757.9" x2="237.1" y2="780" stroke="#d99a30" stroke-width="1.3"/>
<path d="M252.9 736.2 L253.3 731.7 L253.6 725.8 L254 714.3 L254.3 703.3 L254.7 694.9 L255 688.9 L255.4 683 L255.7 679.7 L256.1 675.2 L256.4 671.5 L256.8 666.6 L257.1 663.1 L257.5 658.6 L257.8 655.7 L258.2 651.8 L258.5 649.6 L258.9 646.5 L259.2 644.7 L259.6 641.1 L259.9 638.9 L260.3 636.6 L260.6 636.7 L261 635.9 L261.3 637.7 L261.7 638.3 L262 639.9 L262.4 640.9 L262.7 642.8 L263.1 645.3 L263.4 648 L263.8 652.2 L264.1 655.6 L264.5 659.9 L264.8 664.1 L265.2 668.2 L265.5 670.4 L265.9 672.6 L266.2 680.7 L266.6 684.1 L266.9 686.3 L267.3 687 L267.6 688.8 L268 691 L268.3 693.4 L268.7 694.8 L269 695.9 L269.4 697.1 L269.7 698.6 L270.1 701.4 L270.4 704.2 L270.8 706.4 L271.1 708.1 L271.5 710.6 L271.8 712.3 L272.2 714.1 L272.5 714.7 L272.9 718.2 L273.2 719.7 L273.6 722.2 L273.9 722.6 L274.3 723 L274.6 723.1 L275 723.2 L275.3 724.3 L275.7 724.5 L276 725.1 L276.4 725.6 L276.7 725.6 L277.1 726.1 L277.4 725.8 L277.8 726 L278.1 725.8 L278.5 726.2 L278.8 727 L279.2 727 L279.5 728.4 L279.9 729.6 L280.2 730.2 L280.6 730.9 L280.9 730.7 L281.3 730.9 L281.6 730 L282 730.4 L282.3 730.9 L282.7 731.7 L283 733.2 L283.4 733.9 L283.7 733.9 L284.1 732 L284.4 731.5 L284.8 731.4 L285.1 731.8 L285.5 731 L285.8 731.6 L286.2 731.5 L286.5 734 L286.9 734 L287.2 735.2 L287.6 734.4 L287.9 734.3 L288.3 734.1 L288.6 733.9 L289 734.3 L289.3 734.3 L289.7 733.7 L290 734.8 L290.4 735.3 L290.7 736.4 L291.1 736.5 L291.4 735.9 L291.8 734.8 L292.1 734.3 L292.5 734.4 L292.8 735.5 L293.2 735 L293.5 735.2 L293.9 734.6 L294.2 734.8 L294.6 735.1 L294.9 735.7 L295.3 736.5 L295.6 736.3 L296 736.2 L296.3 735.3 L296.7 735.2 L297 734.8 L297.4 733.9 L297.7 733 L298.1 732 L298.4 732.4 L298.8 732.9 L299.1 733.9 L299.5 734.5 L299.8 734.1 L300.2 732.7 L300.5 731.6 L300.9 731.7 L301.2 731.7 L301.6 731.3 L301.9 730.7 L302.3 732.5 L302.6 733.6 L303 733.6 L303.3 732.1 L303.7 731.4 L304 731.5 L304.4 731.5 L304.7 730.6 L305.1 729.6 L305.4 729.8 L305.8 730.1 L306.1 730.7 L306.5 729.7 L306.8 729.5 L307.2 728.7 L307.5 728.3 L307.9 728.4 L308.2 728.3 L308.6 728.1 L308.9 727.2 L309.3 727.2 L309.6 726.4 L310 726.4 L310.3 725.9 L310.7 727.1 L311 727.3 L311.4 726.4 L311.7 726.1 L312.1 725.4 L312.4 726.4 L312.8 726.3 L313.1 727.1 L313.5 726.5 L313.8 726.7 L314.2 726.7 L314.5 727.4 L314.9 728 L315.2 728.8 L315.6 728.3 L315.9 728 L316.3 726.4 L316.6 727.4 L317 728.3 L317.3 729.4 L317.7 729.9 L318 730.2 L318.4 730.3 L318.7 730.1 L319.1 729.4 L319.4 728.6 L319.8 727.4 L320.1 726.5 L320.5 726.3 L320.8 727 L321.2 725.9 L321.5 725.1 L321.9 723.7 L322.2 724.8 L322.6 725.5 L322.9 726.2 L323.3 725.7 L323.6 725.4 L324 724.9 L324.3 725 L324.7 725 L325 725.4 L325.4 725.1 L325.7 725.1 L326.1 724.8 L326.4 725.7 L326.8 726.6 L327.1 727 L327.5 724.9 L327.8 724 L328.2 724 L328.5 725.1 L328.9 723.9 L329.2 722.9 L329.6 723.8 L329.9 724.4 L330.3 723.7 L330.6 722.1 L331 722.6 L331.3 723.2 L331.7 722.6 L332 720.9 L332.4 720.8 L332.7 720.4 L333.1 721.8 L333.4 722.2 L333.8 723.1 L334.1 722.5 L334.5 721.7 L334.8 721.3 L335.2 720.8 L335.5 720.2 L335.9 719.7 L336.2 720.8 L336.6 722 L336.9 722.4 L337.3 721.8 L337.6 720.6 L338 720.5 L338.3 720.8 L338.7 721.3 L339 721.6 L339.4 721.2 L339.7 720.9 L340.1 720 L340.4 719.9 L340.8 718.6 L341.1 719.1 L341.5 719 L341.8 720.1 L342.2 719.1 L342.5 719.5 L342.9 718.8 L343.2 718.6 L343.6 718.1 L343.9 718.8 L344.3 719.3 L344.6 719.6 L345 719.6 L345.3 720.5 L345.7 719.8 L346 720.4 L346.4 720.5 L346.7 721.1 L347.1 720.2 L347.4 719.9 L347.8 719.9 L348.1 719.5 L348.5 719.3 L348.8 719.9 L349.2 720.4 L349.5 720.6 L349.9 719.4 L350.2 719.6 L350.6 719.9 L350.9 719.9 L351.3 719 L351.6 718.6 L352 718.7 L352.3 718.5 L352.7 718.1 L353 717.7 L353.4 717.9 L353.7 717.5 L354.1 716.6 L354.4 716 L354.8 715.4 L355.1 715.4 L355.5 715.8 L355.8 716.2 L356.2 715.9 L356.5 715.1 L356.9 714.7 L357.2 714.8 L357.6 714.3 L357.9 713.9 L358.3 712.7 L358.6 713.1 L359 714.5 L359.3 715.3 L359.7 716.3 L360 715 L360.4 715.4 L360.7 715.3 L361.1 715.4 L361.4 715.5 L361.8 715.7 L362.1 716.3 L362.5 717.1 L362.8 718 L363.2 717.8 L363.5 718.1 L363.9 718 L364.2 718.7 L364.6 718.2 L364.9 717.8 L365.3 718.3 L365.6 719.4 L366 718.5 L366.3 718.3 L366.7 718.2 L367 719.4 L367.4 719.4 L367.7 719.5 L368.1 719.6 L368.4 719.5 L368.8 718.2 L369.1 718 L369.5 718.4 L369.8 719.4 L370.2 719.6 L370.5 719.3 L370.9 718.9 L371.2 719.2 L371.6 719.3 L371.9 719 L372.3 717.9 L372.6 718.5 L373 720.1 L373.3 721.2 L373.7 720.2 L374 719.3 L374.4 718.4 L374.7 719.5 L375.1 719.6 L375.4 719.9 L375.8 719.1 L376.1 719.6 L376.5 718.9 L376.8 719.1 L377.2 717.9 L377.5 719.1 L377.9 720.1 L378.2 720.9 L378.6 720.9 L378.9 720.2 L379.3 719.2 L379.6 718.7 L380 719.7 L380.3 720.2 L380.7 720.6 L381 718.9 L381.4 719.4 L381.7 719.6 L382.1 720.5 L382.4 719.3 L382.8 718.7 L383.1 718.1 L383.5 719.5 L383.8 719.6 L384.2 719.9 L384.5 719.6 L384.9 718.9 L385.2 718.8 L385.6 719 L385.9 719.8 L386.3 720.8 L386.6 720.8 L387 721.9 L387.3 720.5 L387.7 720.1 L388 719 L388.4 718.7 L388.7 719 L389.1 718.6 L389.4 719.2 L389.8 718.9 L390.1 719.3 L390.5 719.8 L390.8 719.7 L391.2 719.8 L391.5 718.6 L391.9 718.4 L392.2 717.5 L392.6 718.5 L392.9 718.9 L393.3 719.1 L393.6 718.9 L394 718.8 L394.3 718.5 L394.7 719 L395 719.1 L395.4 720.1 L395.7 720.1 L396.1 721.2 L396.4 720.9 L396.8 720.1 L397.1 718.6 L397.5 718.4 L397.8 718.9 L398.2 719.2 L398.5 719 L398.9 718.1 L399.2 717.9 L399.6 718.7 L399.9 719.6 L400.3 720 L400.6 720.1 L401 720.2 L401.3 719.4 L401.7 719.2 L402 718.3 L402.4 719.4 L402.7 718.5 L403.1 718.5 L403.4 717.2 L403.8 717.3 L404.1 717.8 L404.5 718.7 L404.8 719.6 L405.2 719.3 L405.5 719.6 L405.9 719.4 L406.2 719.6 L406.6 719.7 L406.9 719.1 L407.3 719.7 L407.6 720 L408 719.6 L408.3 718.5 L408.7 719.2 L409 721.7 L409.4 723.4 L409.7 725.4 L410.1 726 L410.4 727.9 L410.8 728.4 L411.1 729.1 L411.5 728.6 L411.8 728.2 L412.2 728.2 L412.5 729.1 L412.9 728.4 L413.2 729.2 L413.6 729.9 L413.9 730.4 L414.3 729.6 L414.6 728.6 L415 728.5 L415.3 728.2 L415.7 727.1 L416 727.8 L416.4 727.7 L416.7 728.3 L417.1 727.6 L417.4 728.3 L417.8 728.3 L418.1 727.5 L418.5 727.1 L418.8 727.1 L419.2 726.8 L419.5 726.7 L419.9 725.4 L420.2 725.9 L420.6 724.9 L420.9 725.2 L421.3 725.3 L421.6 725.1 L422 725.7 L422.3 725.6 L422.7 725.6 L423 725.3 L423.4 725.4 L423.7 725.6 L424.1 725.6 L424.4 725.4 L424.8 726 L425.1 726.8 L425.5 726.3 L425.8 727.2 L426.2 727 L426.5 727.4 L426.9 725.9 L427.2 726.2 L427.6 726.5 L427.9 727.1 L428.3 727.4 L428.6 728.1 L429 729.1 L429.3 728.2 L429.7 727.5 L430 726.6 L430.4 727.3 L430.7 728.7 L431.1 730.2 L431.4 731 L431.8 729.8 L432.1 729.4 L432.5 728.6 L432.8 729.5 L433.2 729.8 L433.5 730.6 L433.9 729.8 L434.2 730.4 L434.6 730 L434.9 731.3 L435.3 729.8 L435.6 730.2 L436 730.1 L436.3 732 L436.7 730.9 L437 730.7 L437.4 729.1 L437.7 729.3 L438.1 730.1 L438.4 730.8 L438.8 731.7 L439.1 731.2 L439.5 731.1 L439.8 730.9 L440.2 730.1 L440.5 730.7 L440.9 731.3 L441.2 731.9 L441.6 732.4 L441.9 732.2 L442.3 731.9 L442.6 731.3 L443 731.6 L443.3 731.5 L443.7 731.5 L444 731.6 L444.4 732.1 L444.7 732.3 L445.1 732.5 L445.4 731.9 L445.8 731.9 L446.1 731.1 L446.5 731.3 L446.8 731.1 L447.2 731.1 L447.5 731.8 L447.9 731.4 L448.2 731.1 L448.6 731.1 L448.9 731.2 L449.3 731.8 L449.6 731.4 L450 731.8 L450.3 731.8 L450.7 732.7 L451 732.4 L451.4 732.7 L451.7 731.7 L452.1 731 L452.4 731.2 L452.8 731.6 L453.1 732.8 L453.5 733 L453.8 732.6 L454.2 732.2 L454.5 731.2 L454.9 731.6 L455.2 733.4 L455.6 733.9 L455.9 734.5 L456.3 732.9 L456.6 733 L457 732.8 L457.3 734 L457.7 733.8 L458 734.4 L458.4 733.5 L458.7 733.8 L459.1 733 L459.4 733.6 L459.8 733.6 L460.1 734.4 L460.5 734.3 L460.8 734.2 L461.2 733.3 L461.5 733.6 L461.9 733.3 L462.2 734.1 L462.6 732.7 L462.9 733.7 L463.3 733.7 L463.6 734.9 L464 735 L464.3 734.2 L464.7 734.1 L465 734.1 L465.4 735.5 L465.7 735.8 L466.1 735.7 L466.4 735.2 L466.8 735.7 L467.1 735.2 L467.5 734 L467.8 734.3 L468.2 735.1 L468.5 735.7 L468.9 735.4 L469.2 735.9 L469.6 737.7 L469.9 737.5 L470.3 737.5 L470.6 736 L471 736.5 L471.3 736.4 L471.7 736.4 L472 735.4 L472.4 735.9 L472.7 736.9 L473.1 738.7 L473.4 737.4 L473.8 736.5 L474.1 736.3 L474.5 736.4 L474.8 735.8 L475.2 734.7 L475.5 735.1 L475.9 736.2 L476.2 735 L476.6 734.8 L476.9 733.5 L477.3 735.8 L477.6 734.9 L478 735.5 L478.3 734.4 L478.7 734.8 L479 735.7 L479.4 735.3 L479.7 735.7 L480.1 735.3 L480.4 735.8 L480.8 734.9 L481.1 735.6 L481.5 734.9 L481.8 735 L482.2 733.9 L482.5 734.4 L482.9 733.5 L483.2 733.4 L483.6 733.9 L483.9 735.3 L484.3 735.6 L484.6 735.4 L485 735.5 L485.3 734.6 L485.7 733.4 L486 733.2 L486.4 732.6 L486.7 733.2 L487.1 734.2 L487.4 735.2 L487.8 735.7 L488.1 733 L488.5 732.8 L488.8 732.1 L489.2 733.7 L489.5 733.7 L489.9 734.4 L490.2 734.2 L490.6 734.4 L490.9 733.9 L491.3 734.4 L491.6 734.2 L492 734.2 L492.3 733.7 L492.7 734.8 L493 734.9 L493.4 734.5 L493.7 733.9 L494.1 733.4 L494.4 734.4 L494.8 734.4 L495.1 735.1 L495.5 735 L495.8 734.7 L496.2 734.6 L496.5 734.6 L496.9 735.1 L497.2 735.1 L497.6 735 L497.9 734 L498.3 733.1 L498.6 733.3 L499 734.9 L499.3 736.3 L499.7 735.9 L500 735.4 L500.4 735 L500.7 734.6 L501.1 734.2 L501.4 733.3 L501.8 734.2 L502.1 735.5 L502.5 736.4 L502.8 735.6 L503.2 734.8 L503.5 735.4 L503.9 735.7 L504.2 736 L504.6 735.6 L504.9 736 L505.3 735.5 L505.6 736.2 L506 737.6 L506.3 736.2 L506.7 735.5 L507 734.9 L507.4 735.7 L507.7 735.4 L508.1 735.2 L508.4 736.3 L508.8 736.8 L509.1 735.9 L509.5 735.6 L509.8 735.8 L510.2 736.9 L510.5 736.2 L510.9 736.6 L511.2 735.9 L511.6 737.5 L511.9 736 L512.3 735.4 L512.6 734.4 L513 735.5 L513.3 736.1 L513.7 736.2 L514 734.8 L514.4 734.4 L514.7 734.1 L515.1 735 L515.4 736.4 L515.8 737 L516.1 737 L516.5 736.3 L516.8 735.5 L517.2 736.2 L517.5 735.9 L517.9 736.1 L518.2 736.9 L518.6 736.8 L518.9 737.5 L519.3 736.2 L519.6 736.2 L520 735.5 L520.3 735.7 L520.7 736.9 L521 737.7 L521.4 737.1 L521.7 736.9 L522.1 736.3 L522.4 736.2 L522.8 735.1 L523.1 735.6 L523.5 735 L523.8 734.8 L524.2 734.5 L524.5 735.8 L524.9 735.5 L525.2 735.3 L525.6 734.8 L525.9 736 L526.3 736.5 L526.6 737.2 L527 737.1 L527.3 736.6 L527.7 736.4 L528 736.7 L528.4 737.5 L528.7 737.6 L529.1 737 L529.4 736.4 L529.8 735.7 L530.1 737.1 L530.5 737.3 L530.8 738.3 L531.2 737.6 L531.5 738 L531.9 737.6 L532.2 737 L532.6 737.1 L532.9 735.8 L533.3 736 L533.6 735.2 L534 736.2 L534.3 736.7 L534.7 736.7 L535 736.9 L535.4 736.2 L535.7 736.7 L536.1 736.7 L536.4 737.6 L536.8 738.4 L537.1 738.6 L537.5 737.8 L537.8 737.9 L538.2 738.1 L538.5 739.1 L538.9 738.7 L539.2 738.9 L539.6 737.8 L539.9 737.6 L540.3 737.1 L540.6 738 L541 737.8 L541.3 738.9 L541.7 738.9 L542 739.2 L542.4 737.5 L542.7 738 L543.1 737.1 L543.4 738.3 L543.8 737.9 L544.1 739.4 L544.5 739.7 L544.8 740.5 L545.2 740.4 L545.5 740.7 L545.5 746.7 L545.2 747.3 L544.8 749 L544.5 749.5 L544.1 748.6 L543.8 748.3 L543.4 748.3 L543.1 749 L542.7 749.1 L542.4 749.2 L542 748.9 L541.7 748.4 L541.3 748.1 L541 749.1 L540.6 748.8 L540.3 748.1 L539.9 747.8 L539.6 748.5 L539.2 749.4 L538.9 748.8 L538.5 747.5 L538.2 747.6 L537.8 747 L537.5 746.4 L537.1 746.1 L536.8 746.1 L536.4 747.1 L536.1 746.6 L535.7 746.5 L535.4 745.4 L535 745.6 L534.7 745.1 L534.3 745.6 L534 746.1 L533.6 747.4 L533.3 747.8 L532.9 747.2 L532.6 746 L532.2 746.1 L531.9 745.8 L531.5 745.7 L531.2 744.9 L530.8 745.5 L530.5 745.6 L530.1 746.3 L529.8 746.5 L529.4 747.2 L529.1 747.7 L528.7 747.1 L528.4 746.3 L528 745 L527.7 745 L527.3 745.6 L527 747.1 L526.6 747.1 L526.3 746.8 L525.9 745.5 L525.6 744.6 L525.2 744.3 L524.9 744.8 L524.5 746.4 L524.2 746 L523.8 745.3 L523.5 744.2 L523.1 745.3 L522.8 747 L522.4 747 L522.1 746.1 L521.7 745.2 L521.4 745.7 L521 746.8 L520.7 746.6 L520.3 746.4 L520 746.2 L519.6 745.8 L519.3 745 L518.9 744.8 L518.6 745.8 L518.2 747.1 L517.9 746.2 L517.5 745.7 L517.2 745.7 L516.8 746 L516.5 746 L516.1 746.5 L515.8 746.8 L515.4 747.5 L515.1 747.1 L514.7 747 L514.4 746.3 L514 745.6 L513.7 745.5 L513.3 745 L513 746.1 L512.6 747.2 L512.3 747.4 L511.9 746.1 L511.6 745.7 L511.2 745.1 L510.9 745.4 L510.5 744.4 L510.2 746.2 L509.8 746.1 L509.5 747.3 L509.1 746.3 L508.8 747 L508.4 746.6 L508.1 747 L507.7 746.1 L507.4 745.2 L507 744.6 L506.7 745.3 L506.3 745.9 L506 745.1 L505.6 744.2 L505.3 744.8 L504.9 745.7 L504.6 746 L504.2 745.4 L503.9 745.4 L503.5 746.4 L503.2 746 L502.8 744.9 L502.5 744.5 L502.1 743.9 L501.8 746 L501.4 745.3 L501.1 746.2 L500.7 744.2 L500.4 744.7 L500 744.5 L499.7 745.6 L499.3 745.6 L499 745.8 L498.6 745.9 L498.3 745.7 L497.9 745.5 L497.6 745.5 L497.2 745.5 L496.9 745.9 L496.5 744.7 L496.2 744.9 L495.8 745.2 L495.5 745.7 L495.1 745.6 L494.8 744.5 L494.4 744 L494.1 742.8 L493.7 743.7 L493.4 743 L493 744.1 L492.7 743.1 L492.3 744.3 L492 744 L491.6 743.5 L491.3 743.5 L490.9 744.2 L490.6 744.7 L490.2 743.9 L489.9 743.1 L489.5 743.1 L489.2 743.7 L488.8 744.6 L488.5 745.5 L488.1 746.2 L487.8 745.4 L487.4 744.7 L487.1 744.3 L486.7 744.7 L486.4 744.5 L486 744.9 L485.7 745.4 L485.3 745.4 L485 745.5 L484.6 744.4 L484.3 745.5 L483.9 745 L483.6 745.5 L483.2 744.8 L482.9 744.7 L482.5 744.6 L482.2 745.1 L481.8 746.4 L481.5 746.4 L481.1 746.5 L480.8 745.8 L480.4 745.5 L480.1 745.6 L479.7 745.2 L479.4 745.8 L479 745.2 L478.7 744.6 L478.3 744.9 L478 745.3 L477.6 746.2 L477.3 745.2 L476.9 745.3 L476.6 745.1 L476.2 745.8 L475.9 745.7 L475.5 745.6 L475.2 745.7 L474.8 746.2 L474.5 746.6 L474.1 746.3 L473.8 745.6 L473.4 745.9 L473.1 746.7 L472.7 746.9 L472.4 747 L472 746.3 L471.7 746.3 L471.3 746.9 L471 747.1 L470.6 746.9 L470.3 745.3 L469.9 745.6 L469.6 746.1 L469.2 746.3 L468.9 745.7 L468.5 745 L468.2 745.3 L467.8 744.8 L467.5 745 L467.1 745.7 L466.8 745.3 L466.4 744.7 L466.1 743.9 L465.7 744 L465.4 743.8 L465 743.7 L464.7 744.5 L464.3 744.1 L464 743.8 L463.6 743.2 L463.3 743.1 L462.9 744.5 L462.6 744.4 L462.2 745.5 L461.9 744.4 L461.5 745.3 L461.2 746 L460.8 745.5 L460.5 745 L460.1 744.3 L459.8 744.1 L459.4 743.3 L459.1 742.5 L458.7 742.3 L458.4 742.4 L458 741.1 L457.7 742.1 L457.3 741.9 L457 743.7 L456.6 743.9 L456.3 744.7 L455.9 744.7 L455.6 743.6 L455.2 742.7 L454.9 743.1 L454.5 742.6 L454.2 743.3 L453.8 742.6 L453.5 743.5 L453.1 743.4 L452.8 743.9 L452.4 743.2 L452.1 743.3 L451.7 742.4 L451.4 742.7 L451 742 L450.7 741.2 L450.3 740.3 L450 739.6 L449.6 739.7 L449.3 741.2 L448.9 742.3 L448.6 743 L448.2 742.2 L447.9 742.5 L447.5 741.9 L447.2 740.9 L446.8 740.2 L446.5 740.8 L446.1 741.8 L445.8 742 L445.4 742.2 L445.1 742.5 L444.7 741.7 L444.4 741.1 L444 740.8 L443.7 741.6 L443.3 741.1 L443 740.9 L442.6 740.8 L442.3 741.1 L441.9 741 L441.6 739.9 L441.2 739 L440.9 739 L440.5 740.1 L440.2 741.1 L439.8 741.9 L439.5 742 L439.1 742.4 L438.8 741 L438.4 740.3 L438.1 741 L437.7 741.4 L437.4 741.5 L437 740.7 L436.7 741.1 L436.3 741.9 L436 742.3 L435.6 741.7 L435.3 740.6 L434.9 740.4 L434.6 741.5 L434.2 741.4 L433.9 740.8 L433.5 740.1 L433.2 740.3 L432.8 740 L432.5 739.4 L432.1 739.5 L431.8 739 L431.4 738.2 L431.1 737.5 L430.7 737.6 L430.4 737.6 L430 737.8 L429.7 737.3 L429.3 738.2 L429 737.6 L428.6 738.1 L428.3 736.5 L427.9 735.7 L427.6 735.8 L427.2 736.5 L426.9 737.1 L426.5 736.7 L426.2 736.5 L425.8 736.6 L425.5 736.8 L425.1 737.2 L424.8 737.2 L424.4 735.8 L424.1 735.4 L423.7 734.8 L423.4 735.7 L423 735.5 L422.7 735.5 L422.3 735.5 L422 735.5 L421.6 736.6 L421.3 736.7 L420.9 736.3 L420.6 735.1 L420.2 736.3 L419.9 736.9 L419.5 738.1 L419.2 736.7 L418.8 737.3 L418.5 738.1 L418.1 738.6 L417.8 738.1 L417.4 737.6 L417.1 737.8 L416.7 737.8 L416.4 737.4 L416 736.9 L415.7 737 L415.3 737.1 L415 738.3 L414.6 739.8 L414.3 739.4 L413.9 739 L413.6 737.9 L413.2 738.4 L412.9 739.3 L412.5 740.4 L412.2 740.7 L411.8 740 L411.5 738.9 L411.1 738.4 L410.8 736.3 L410.4 735.8 L410.1 734.6 L409.7 735.1 L409.4 733 L409 731.7 L408.7 729.8 L408.3 729.8 L408 729.6 L407.6 729.5 L407.3 728.8 L406.9 728.8 L406.6 729.3 L406.2 728.7 L405.9 728.2 L405.5 727.4 L405.2 728 L404.8 727.9 L404.5 728.2 L404.1 728.4 L403.8 728.7 L403.4 729.7 L403.1 730.4 L402.7 730.6 L402.4 729.2 L402 727.8 L401.7 728.1 L401.3 728.4 L401 730.3 L400.6 729.9 L400.3 729.7 L399.9 727.8 L399.6 727.7 L399.2 728.8 L398.9 729.3 L398.5 729.8 L398.2 729.2 L397.8 729.4 L397.5 728.3 L397.1 728.7 L396.8 728.8 L396.4 730 L396.1 729.5 L395.7 729.2 L395.4 728.9 L395 729.9 L394.7 730.5 L394.3 729.8 L394 728.9 L393.6 728.4 L393.3 729.3 L392.9 730.7 L392.6 730.2 L392.2 730.4 L391.9 729.1 L391.5 729.8 L391.2 728.9 L390.8 729.5 L390.5 729.8 L390.1 730.7 L389.8 730.4 L389.4 730.5 L389.1 729.9 L388.7 729.9 L388.4 728.7 L388 728.8 L387.7 729 L387.3 729.9 L387 729.3 L386.6 729 L386.3 729.2 L385.9 729.2 L385.6 729.1 L385.2 728 L384.9 728.8 L384.5 728 L384.2 729.3 L383.8 729.4 L383.5 731 L383.1 730.1 L382.8 730.6 L382.4 729.7 L382.1 729.2 L381.7 728.3 L381.4 728.4 L381 729.3 L380.7 729.9 L380.3 730.3 L380 730.3 L379.6 730.5 L379.3 730.4 L378.9 730.6 L378.6 730.4 L378.2 729.9 L377.9 729.2 L377.5 728.3 L377.2 728.9 L376.8 728.7 L376.5 728.6 L376.1 728 L375.8 728.3 L375.4 728.7 L375.1 729.2 L374.7 728.5 L374.4 728.7 L374 728.3 L373.7 729.3 L373.3 728.8 L373 728 L372.6 728.6 L372.3 729 L371.9 730.3 L371.6 729.9 L371.2 730.5 L370.9 729.6 L370.5 730 L370.2 729.2 L369.8 730.6 L369.5 730.1 L369.1 730.5 L368.8 729.2 L368.4 729.3 L368.1 728.9 L367.7 729 L367.4 729.3 L367 728.6 L366.7 728.3 L366.3 727 L366 727.3 L365.6 728.1 L365.3 727.1 L364.9 727.7 L364.6 727.3 L364.2 728.3 L363.9 728 L363.5 727.5 L363.2 727.3 L362.8 727.1 L362.5 726.6 L362.1 726.6 L361.8 725.7 L361.4 725.2 L361.1 726 L360.7 725.1 L360.4 726.3 L360 725 L359.7 726.4 L359.3 726 L359 726.4 L358.6 725.5 L358.3 725 L357.9 725 L357.6 724.4 L357.2 724.2 L356.9 722.9 L356.5 724.8 L356.2 724.5 L355.8 726.2 L355.5 725.4 L355.1 724.6 L354.8 724.7 L354.4 724.8 L354.1 726.3 L353.7 727.7 L353.4 728.9 L353 729.6 L352.7 728.5 L352.3 728.4 L352 727.2 L351.6 727.1 L351.3 727 L350.9 726.9 L350.6 728 L350.2 729 L349.9 730.5 L349.5 730.3 L349.2 730.4 L348.8 731.3 L348.5 732.4 L348.1 731.8 L347.8 731.5 L347.4 730.6 L347.1 730.9 L346.7 731.2 L346.4 732 L346 732.7 L345.7 732.4 L345.3 731.5 L345 731 L344.6 730.8 L344.3 730.8 L343.9 730 L343.6 730 L343.2 730.2 L342.9 730.7 L342.5 730.3 L342.2 729.5 L341.8 728.6 L341.5 728.7 L341.1 729.6 L340.8 729 L340.4 728.5 L340.1 727.6 L339.7 728.1 L339.4 728.8 L339 728.9 L338.7 729.7 L338.3 730.4 L338 732 L337.6 733.3 L337.3 732.5 L336.9 731.7 L336.6 730.3 L336.2 730.3 L335.9 730.2 L335.5 731 L335.2 732.9 L334.8 732.9 L334.5 732.6 L334.1 732.3 L333.8 732.5 L333.4 732.6 L333.1 732.1 L332.7 731.7 L332.4 732.5 L332 732.4 L331.7 733.3 L331.3 732.2 L331 732.2 L330.6 732.2 L330.3 733.1 L329.9 733.8 L329.6 733.6 L329.2 733.5 L328.9 732 L328.5 732.4 L328.2 731.9 L327.8 733.6 L327.5 734.2 L327.1 735.8 L326.8 735.1 L326.4 735.4 L326.1 734.6 L325.7 734.9 L325.4 733.6 L325 734.5 L324.7 734.5 L324.3 736.4 L324 736.1 L323.6 736.8 L323.3 736.3 L322.9 736.3 L322.6 737.3 L322.2 738.2 L321.9 738.7 L321.5 738.5 L321.2 738.2 L320.8 737.8 L320.5 736.6 L320.1 736.6 L319.8 737.4 L319.4 738 L319.1 738.4 L318.7 738 L318.4 738.9 L318 738.7 L317.7 738.4 L317.3 737.3 L317 737.6 L316.6 737.7 L316.3 737.7 L315.9 737.2 L315.6 736.9 L315.2 736.9 L314.9 736.6 L314.5 736.1 L314.2 735.7 L313.8 734.8 L313.5 735.1 L313.1 735.2 L312.8 735.3 L312.4 735.8 L312.1 735.6 L311.7 735.5 L311.4 735.3 L311 734.9 L310.7 734.4 L310.3 733.6 L310 733.9 L309.6 735.1 L309.3 737.3 L308.9 738.1 L308.6 738.8 L308.2 738.9 L307.9 739.9 L307.5 740.3 L307.2 739.6 L306.8 738.3 L306.5 738.9 L306.1 739.6 L305.8 740.6 L305.4 739.6 L305.1 739.4 L304.7 739.3 L304.4 740.5 L304 740.5 L303.7 741.6 L303.3 740.9 L303 742 L302.6 742.3 L302.3 743 L301.9 742.8 L301.6 741.8 L301.2 742 L300.9 741.5 L300.5 742.4 L300.2 741.8 L299.8 743.1 L299.5 742.2 L299.1 743.2 L298.8 743.2 L298.4 744 L298.1 744 L297.7 743.9 L297.4 744 L297 743.9 L296.7 745.2 L296.3 745.4 L296 745.2 L295.6 743.6 L295.3 743.8 L294.9 744.9 L294.6 745.8 L294.2 746.3 L293.9 746.5 L293.5 745.9 L293.2 746 L292.8 745.7 L292.5 746.6 L292.1 746.3 L291.8 746.1 L291.4 744.6 L291.1 745 L290.7 745.6 L290.4 746.2 L290 744.7 L289.7 744.3 L289.3 745.4 L289 746.1 L288.6 745.1 L288.3 743.8 L287.9 743.2 L287.6 744.2 L287.2 744.4 L286.9 744.3 L286.5 742.7 L286.2 742.9 L285.8 743.5 L285.5 744.1 L285.1 744.3 L284.8 743.6 L284.4 743.2 L284.1 742.6 L283.7 742.8 L283.4 743.1 L283 742.3 L282.7 742 L282.3 741.8 L282 741.6 L281.6 741.6 L281.3 740.4 L280.9 740.6 L280.6 740.2 L280.2 740.1 L279.9 740.1 L279.5 739.6 L279.2 737.8 L278.8 736 L278.5 735.8 L278.1 737.5 L277.8 737.6 L277.4 736.4 L277.1 734.8 L276.7 733.7 L276.4 733.6 L276 733.6 L275.7 733.5 L275.3 733.5 L275 733 L274.6 733.6 L274.3 731.9 L273.9 732.3 L273.6 730.3 L273.2 730.4 L272.9 728 L272.5 727.2 L272.2 724.6 L271.8 722.5 L271.5 720.2 L271.1 718 L270.8 716.4 L270.4 714.2 L270.1 712.5 L269.7 711.1 L269.4 709.1 L269 707.5 L268.7 704.1 L268.3 702.5 L268 698.9 L267.6 697.6 L267.3 694 L266.9 692.2 L266.6 689.3 L266.2 688.8 L265.9 691.8 L265.5 689.2 L265.2 684.6 L264.8 681.4 L264.5 678.9 L264.1 676.7 L263.8 674 L263.4 670.1 L263.1 666.9 L262.7 663.8 L262.4 661.3 L262 658.6 L261.7 656.5 L261.3 656.2 L261 656.9 L260.6 657.1 L260.3 659.5 L259.9 661.1 L259.6 663.7 L259.2 663.8 L258.9 665.6 L258.5 667.6 L258.2 670.6 L257.8 673.7 L257.5 678.1 L257.1 682.4 L256.8 686.8 L256.4 690 L256.1 694.2 L255.7 698.4 L255.4 703.5 L255 707.9 L254.7 714.6 L254.3 723.5 L254 735 L253.6 746.8 L253.3 751.3 L252.9 756.3Z" fill="#e6d9a8"/>
<polyline points="252.9,753.1 253.3,746 253.6,736.2 254,722.9 254.3,714.6 254.7,701.9 255,692.9 255.4,686.2 255.7,690.8 256.1,688.6 256.4,681.8 256.8,672.9 257.1,668.3 257.5,664.6 257.8,663.1 258.2,660.2 258.5,661.5 258.9,656.5 259.2,657.4 259.6,651.3 259.9,650.9 260.3,644.3 260.6,645.7 261,645 261.3,647.5 261.7,652.8 262,655.4 262.4,658.6 262.7,656.8 263.1,654.4 263.4,655.9 263.8,656 264.1,663.7 264.5,671.1 264.8,677.1 265.2,679.6 265.5,678.6 265.9,680.7 266.2,684.9 266.6,687.7 266.9,691.5 267.3,689.7 267.6,692.8 268,695.4 268.3,701 268.7,699.8 269,703.6 269.4,706.1 269.7,709.8 270.1,708.4 270.4,712.4 270.8,715.3 271.1,715 271.5,712.8 271.8,715.6 272.2,717.2 272.5,719 272.9,719.4 273.2,725.3 273.6,726.5 273.9,727.2 274.3,725.3 274.6,726.9 275,726.4 275.3,727.9 275.7,730.2 276,734.2 276.4,734.5 276.7,730.5 277.1,731 277.4,729.4 277.8,729.7 278.1,729 278.5,729.1 278.8,731.2 279.2,730.9 279.5,731.7 279.9,732.7 280.2,733.9 280.6,734.5 280.9,736.2 281.3,737.4 281.6,738 282,737.1 282.3,737.6 282.7,738.5 283,739.1 283.4,737.8 283.7,736.7 284.1,734.6 284.4,735.8 284.8,737.3 285.1,740.2 285.5,738.6 285.8,738.2 286.2,738.1 286.5,739.1 286.9,740.3 287.2,739.1 287.6,741.1 287.9,740.1 288.3,740.7 288.6,738.2 289,737.8 289.3,737.9 289.7,738.2 290,739.5 290.4,739.4 290.7,740.3 291.1,740 291.4,741.7 291.8,742 292.1,741.2 292.5,739.6 292.8,739.7 293.2,740.2 293.5,740.1 293.9,740.2 294.2,741.2 294.6,741 294.9,741.3 295.3,741.1 295.6,741.7 296,740.9 296.3,740.8 296.7,740.5 297,741.1 297.4,741.5 297.7,740.9 298.1,740.4 298.4,739.5 298.8,738.6 299.1,739.5 299.5,738.4 299.8,739.9 300.2,737.7 300.5,738.2 300.9,737.4 301.2,737.8 301.6,738.6 301.9,738.7 302.3,738.4 302.6,738.1 303,739.4 303.3,740.5 303.7,740 304,739.1 304.4,738.9 304.7,736.9 305.1,735.2 305.4,733.9 305.8,735.9 306.1,736.5 306.5,735.4 306.8,734.1 307.2,731.5 307.5,732.8 307.9,734.1 308.2,735 308.6,732.9 308.9,731.5 309.3,730.9 309.6,731.9 310,731 310.3,731.1 310.7,730.7 311,729.6 311.4,730.3 311.7,730.5 312.1,731.7 312.4,731.4 312.8,731.5 313.1,732.1 313.5,731.8 313.8,731 314.2,731 314.5,731.2 314.9,730.6 315.2,730.5 315.6,730.7 315.9,731.5 316.3,732 316.6,733.8 317,734.1 317.3,734.9 317.7,732.4 318,734.3 318.4,733.6 318.7,734.9 319.1,733.6 319.4,733.1 319.8,731.1 320.1,732.1 320.5,733 320.8,735 321.2,733.3 321.5,731.7 321.9,732.2 322.2,731.8 322.6,731.6 322.9,730.5 323.3,730.7 323.6,730.9 324,730.1 324.3,729.4 324.7,730.6 325,730.8 325.4,731.3 325.7,730.4 326.1,731.1 326.4,729.8 326.8,729.8 327.1,728.9 327.5,729.8 327.8,728.2 328.2,729.3 328.5,729.8 328.9,729.7 329.2,728.6 329.6,727.7 329.9,728.6 330.3,729.5 330.6,729.7 331,728.7 331.3,727.8 331.7,728 332,729.1 332.4,728.6 332.7,727.5 333.1,726.6 333.4,725.6 333.8,726.4 334.1,726.3 334.5,726.8 334.8,726.3 335.2,727.6 335.5,727 335.9,725.8 336.2,724.7 336.6,725.6 336.9,726.9 337.3,726.9 337.6,726.6 338,725.9 338.3,725.2 338.7,726.1 339,725.6 339.4,726.1 339.7,724.8 340.1,725.8 340.4,725.6 340.8,724.3 341.1,724.9 341.5,724.1 341.8,725.4 342.2,724.1 342.5,725.6 342.9,724 343.2,724.1 343.6,723.8 343.9,725.1 344.3,725.5 344.6,726.7 345,728.3 345.3,728.4 345.7,726.7 346,725.5 346.4,726.3 346.7,726.4 347.1,727.7 347.4,726.6 347.8,726.5 348.1,726.2 348.5,726.4 348.8,726.7 349.2,725.6 349.5,726.4 349.9,725.3 350.2,725.1 350.6,723.5 350.9,723.4 351.3,723.6 351.6,723.1 352,723.4 352.3,722.2 352.7,721.7 353,721.1 353.4,722 353.7,722.8 354.1,722.1 354.4,721 354.8,719.6 355.1,721.3 355.5,721.2 355.8,721.1 356.2,718.6 356.5,718.8 356.9,718.8 357.2,718.1 357.6,716.9 357.9,715.9 358.3,716.8 358.6,716.7 359,719.3 359.3,718.6 359.7,719.9 360,718.5 360.4,720 360.7,721 361.1,720.3 361.4,720.3 361.8,718.8 362.1,720.3 362.5,721 362.8,721 363.2,720.9 363.5,721.7 363.9,722.9 364.2,723 364.6,723.3 364.9,722.2 365.3,722 365.6,720.4 366,721.2 366.3,722.7 366.7,723.2 367,722.1 367.4,722.3 367.7,723.5 368.1,725.5 368.4,724.6 368.8,723.8 369.1,725 369.5,724.8 369.8,724.8 370.2,722.1 370.5,722.4 370.9,722.7 371.2,723.5 371.6,723.1 371.9,723.2 372.3,724.1 372.6,724.4 373,725.9 373.3,726.4 373.7,726.9 374,725.2 374.4,725 374.7,723.8 375.1,722.4 375.4,721 375.8,722.1 376.1,723.1 376.5,725.2 376.8,725 377.2,724.6 377.5,723.2 377.9,723.4 378.2,723.8 378.6,723.7 378.9,723.2 379.3,725.3 379.6,724.7 380,724.1 380.3,721.6 380.7,723 381,723.7 381.4,726.2 381.7,726.8 382.1,728.9 382.4,727.2 382.8,727 383.1,725.9 383.5,726 383.8,724.1 384.2,722.7 384.5,722.5 384.9,724.4 385.2,723.5 385.6,724.5 385.9,722.9 386.3,723.6 386.6,722.2 387,721.7 387.3,723.7 387.7,725.4 388,726.6 388.4,725.2 388.7,723.5 389.1,722.5 389.4,723.4 389.8,726 390.1,727.5 390.5,726.4 390.8,723.7 391.2,724.1 391.5,724.7 391.9,726.4 392.2,724.7 392.6,724.4 392.9,723.9 393.3,722.8 393.6,721.6 394,720.3 394.3,722 394.7,723 395,723.5 395.4,723.7 395.7,724.7 396.1,724.4 396.4,723.7 396.8,722.9 397.1,723.5 397.5,723.5 397.8,723.3 398.2,724.5 398.5,725.2 398.9,725.1 399.2,723.6 399.6,722.3 399.9,722.6 400.3,722.5 400.6,724.7 401,725.6 401.3,726.4 401.7,724.1 402,722.2 402.4,723.7 402.7,724.1 403.1,725.7 403.4,723.2 403.8,723.5 404.1,723 404.5,724.7 404.8,724.7 405.2,724.3 405.5,722 405.9,722.8 406.2,723.6 406.6,724.4 406.9,724 407.3,723.5 407.6,724 408,723.4 408.3,722.8 408.7,723.8 409,725.6 409.4,728.4 409.7,728.9 410.1,730 410.4,731.2 410.8,731.6 411.1,732.4 411.5,733 411.8,734.9 412.2,734.4 412.5,733.8 412.9,734.8 413.2,734.2 413.6,734.4 413.9,733 414.3,734.6 414.6,733.2 415,731.7 415.3,731.9 415.7,731.8 416,733.9 416.4,732.9 416.7,735.5 417.1,734.2 417.4,734 417.8,732.8 418.1,733.4 418.5,734.4 418.8,734.2 419.2,734.2 419.5,732 419.9,732.1 420.2,729.1 420.6,729.2 420.9,730 421.3,732 421.6,733.5 422,730.9 422.3,731.5 422.7,729.7 423,730.1 423.4,731 423.7,731.8 424.1,732.8 424.4,731.6 424.8,731.8 425.1,731.5 425.5,731.2 425.8,730.4 426.2,729.2 426.5,729.2 426.9,728.9 427.2,730.5 427.6,730.6 427.9,731.3 428.3,730.8 428.6,730.9 429,732.2 429.3,731.5 429.7,730.6 430,730.6 430.4,731.4 430.7,732.5 431.1,732.6 431.4,733.6 431.8,735 432.1,734.4 432.5,733.9 432.8,732.5 433.2,732.8 433.5,734.4 433.9,735.8 434.2,736 434.6,734.7 434.9,734.7 435.3,735.6 435.6,735 436,734.4 436.3,734.5 436.7,735.2 437,735.9 437.4,734.9 437.7,734.6 438.1,735.1 438.4,735.2 438.8,736.5 439.1,735.9 439.5,737.3 439.8,736.4 440.2,736.5 440.5,735.4 440.9,737.3 441.2,735.5 441.6,737.2 441.9,735.8 442.3,735.7 442.6,733.7 443,734 443.3,736.5 443.7,736.8 444,737.2 444.4,735.3 444.7,735.1 445.1,735.7 445.4,737.4 445.8,737.5 446.1,736.3 446.5,736.9 446.8,736.9 447.2,736.1 447.5,735.4 447.9,736.7 448.2,738.3 448.6,738.4 448.9,737.6 449.3,738.2 449.6,738.5 450,740 450.3,740.7 450.7,740.3 451,738.3 451.4,735.9 451.7,735.7 452.1,737 452.4,737.7 452.8,737.4 453.1,737.2 453.5,738.5 453.8,738.9 454.2,739 454.5,739.1 454.9,737.3 455.2,736.1 455.6,735.3 455.9,736.4 456.3,738 456.6,737.7 457,737.9 457.3,738.2 457.7,739.6 458,739.8 458.4,740.1 458.7,738 459.1,738.3 459.4,737.4 459.8,739.3 460.1,739.1 460.5,739.2 460.8,738.9 461.2,741 461.5,740.4 461.9,739.9 462.2,739.5 462.6,740.6 462.9,741.7 463.3,741.5 463.6,740.8 464,740.8 464.3,739.5 464.7,740.6 465,741.2 465.4,741.3 465.7,740.3 466.1,739.4 466.4,740.8 466.8,741.9 467.1,741.7 467.5,740.7 467.8,740.4 468.2,739.9 468.5,739.5 468.9,739.4 469.2,740.3 469.6,740.6 469.9,741.9 470.3,741.5 470.6,741.6 471,739.2 471.3,740 471.7,741.2 472,743.5 472.4,743.7 472.7,743 473.1,741.6 473.4,740.1 473.8,739.8 474.1,739.9 474.5,739.3 474.8,738.3 475.2,740.3 475.5,741.7 475.9,741.6 476.2,739.9 476.6,738.6 476.9,740.7 477.3,740.4 477.6,741.9 478,741.3 478.3,742.6 478.7,742 479,741 479.4,740 479.7,738.8 480.1,739 480.4,739.5 480.8,740 481.1,739.5 481.5,740.6 481.8,740.2 482.2,742.3 482.5,739.4 482.9,739.9 483.2,738.4 483.6,740.3 483.9,740.9 484.3,741.2 484.6,739.3 485,738.5 485.3,736.4 485.7,738.9 486,739.8 486.4,742 486.7,739.9 487.1,740.3 487.4,738.2 487.8,739.6 488.1,738.9 488.5,740.6 488.8,739.5 489.2,738.7 489.5,737.9 489.9,738.6 490.2,739.1 490.6,739.5 490.9,738 491.3,738.4 491.6,738.9 492,740.4 492.3,741.2 492.7,741 493,740.8 493.4,739.3 493.7,740.3 494.1,740.9 494.4,740.1 494.8,738.8 495.1,737.7 495.5,739.5 495.8,740.4 496.2,742.9 496.5,743.4 496.9,742.9 497.2,741.7 497.6,740.8 497.9,741.2 498.3,739.9 498.6,740.7 499,740.7 499.3,740.2 499.7,739.3 500,737.8 500.4,739.6 500.7,739.7 501.1,739.7 501.4,739.9 501.8,740.5 502.1,741.7 502.5,740.5 502.8,739.5 503.2,739 503.5,739.9 503.9,739.2 504.2,738.8 504.6,738.6 504.9,740.5 505.3,741.5 505.6,741.7 506,739.5 506.3,740.5 506.7,741.6 507,744.4 507.4,743.1 507.7,743.6 508.1,742.2 508.4,742.5 508.8,741.7 509.1,743 509.5,742.5 509.8,742.2 510.2,740.9 510.5,742.5 510.9,742.2 511.2,740 511.6,739.3 511.9,738.3 512.3,739.8 512.6,739.9 513,741.1 513.3,742.2 513.7,741.4 514,742.4 514.4,741.9 514.7,741.9 515.1,741.1 515.4,740.4 515.8,740.6 516.1,737.7 516.5,738.5 516.8,738.9 517.2,739.9 517.5,742.5 517.9,743.2 518.2,743.4 518.6,739.1 518.9,738.8 519.3,738.3 519.6,740.1 520,739.2 520.3,739.3 520.7,739 521,740.4 521.4,742.3 521.7,742.7 522.1,741.8 522.4,741 522.8,740.2 523.1,740.8 523.5,739.4 523.8,740.5 524.2,740 524.5,740.4 524.9,741 525.2,740.7 525.6,740.1 525.9,740.2 526.3,741.6 526.6,743.3 527,741.7 527.3,740.3 527.7,740.2 528,741.3 528.4,740.6 528.7,741 529.1,740.7 529.4,741.5 529.8,739.9 530.1,739.4 530.5,740.1 530.8,740.9 531.2,741.4 531.5,740.7 531.9,741.2 532.2,742 532.6,741.1 532.9,742.3 533.3,740.6 533.6,741.1 534,739.7 534.3,741.1 534.7,741.7 535,742.7 535.4,742.1 535.7,742.2 536.1,741.2 536.4,740.8 536.8,741.4 537.1,742.2 537.5,743.2 537.8,743.4 538.2,744.6 538.5,743.9 538.9,744.1 539.2,742.1 539.6,743.4 539.9,742.6 540.3,743.3 540.6,741.7 541,742.9 541.3,742.8 541.7,744.2 542,743.6 542.4,744.2 542.7,743.8 543.1,743.5 543.4,743.2 543.8,742.7 544.1,743.1 544.5,744.3 544.8,745.1 545.2,745.1 545.5,744.5" fill="none" stroke="#d99a30" stroke-width="2.3" stroke-linejoin="round"/>
<line x1="261.3" y1="608.7" x2="261.3" y2="650" stroke="#d99a30" stroke-width="1.6"/>
<polyline points="253.3,741.1 253.6,735.5 254,724.3 254.3,714.1 254.7,705.4 255,698.2 255.4,692.5 255.7,688.2 256.1,684.5 256.4,680.8 256.8,677 257.1,673.4 257.5,669.8 257.8,666.4 258.2,663.1 258.5,659.9 258.9,656.9 259.2,654 259.6,651.4 259.9,649 260.3,647.3 260.6,646.4 261,646.2 261.3,646.6 261.7,647.8 262,649.3 262.4,651.2 262.7,653.4 263.1,656.1 263.4,659.1 263.8,662.4 264.1,665.7 264.5,669 264.8,672.3 265.2,675.6 265.5,678.8 265.9,681.7 266.2,684.3 266.6,686.7 266.9,688.9 267.3,691 267.6,693.1 268,695.2 268.3,697.3 268.7,699.4 269,701.5 269.4,703.6 269.7,705.6 270.1,707.6 270.4,709.6 270.8,711.5 271.1,713.4 271.5,715.3 271.8,717.3 272.2,719.2 272.5,721.1 272.9,722.9 273.2,724.5 273.6,725.7 273.9,726.6 274.3,727.2 274.6,727.7 275,728.1 275.3,728.5 275.7,729 276,729.4 276.4,729.9 276.7,730.3 277.1,730.7 277.4,731.2 277.8,731.6 278.1,732 278.5,732.5 278.8,732.9 279.2,733.4 279.5,733.8 279.9,734.2 280.2,734.7 280.6,735 280.9,735.4 281.3,735.7 281.6,735.9 282,736.1" fill="none" stroke="#dfae55" stroke-width="5.5" stroke-linejoin="round" stroke-opacity="0.75"/>
<polyline points="253.3,741.1 253.6,735.5 254,724.3 254.3,714.1 254.7,705.4 255,698.2 255.4,692.5 255.7,688.2 256.1,684.5 256.4,680.8 256.8,677 257.1,673.4 257.5,669.8 257.8,666.4 258.2,663.1 258.5,659.9 258.9,656.9 259.2,654 259.6,651.4 259.9,649 260.3,647.3 260.6,646.4 261,646.2 261.3,646.6 261.7,647.8 262,649.3 262.4,651.2 262.7,653.4 263.1,656.1 263.4,659.1 263.8,662.4 264.1,665.7 264.5,669 264.8,672.3 265.2,675.6 265.5,678.8 265.9,681.7 266.2,684.3 266.6,686.7 266.9,688.9 267.3,691 267.6,693.1 268,695.2 268.3,697.3 268.7,699.4 269,701.5 269.4,703.6 269.7,705.6 270.1,707.6 270.4,709.6 270.8,711.5 271.1,713.4 271.5,715.3 271.8,717.3 272.2,719.2 272.5,721.1 272.9,722.9 273.2,724.5 273.6,725.7 273.9,726.6 274.3,727.2 274.6,727.7 275,728.1 275.3,728.5 275.7,729 276,729.4 276.4,729.9 276.7,730.3 277.1,730.7 277.4,731.2 277.8,731.6 278.1,732 278.5,732.5 278.8,732.9 279.2,733.4 279.5,733.8 279.9,734.2 280.2,734.7 280.6,735 280.9,735.4 281.3,735.7 281.6,735.9 282,736.1" fill="none" stroke="#d99a30" stroke-width="2.3" stroke-linejoin="round"/>
<polyline points="226.8,863.8 227.1,861.2 227.4,854.2 227.7,859.7 228,853.5 228.3,859.5 228.6,855.4 228.9,858.2 229.2,850.9 229.5,862.1 229.8,857.2 230.1,856.4 230.4,856.9 230.7,853.5 231,857.6 231.3,858.4 231.6,850.2 231.9,856.4 232.2,852.5 232.5,855.9 232.8,856.8 233.1,850.8 233.4,854.1 233.7,854.2 234,852.7 234.3,853.3 234.6,851.1 234.9,850.6 235.2,854.9 235.5,851.4 235.8,846.7 236.1,851.8 236.4,850.5 236.7,845.6 237,848.8 237.3,849.3 237.6,845.1 237.9,847.3 238.2,851.2 238.5,844.9 238.8,847.7 239.1,847.2 239.4,844.6 239.7,849.4 240,846.4 240.3,845.9 240.6,846.2 240.9,838.2 241.2,849.2 241.5,842.1 241.8,840 242.1,841.6 242.4,840.9 242.7,838.7 243,836.9 243.3,835.8 243.6,838.4 243.9,830.5 244.2,833.9 244.5,836.4 244.8,833.5 245.1,831.2 245.4,833.2" fill="none" stroke="#111" stroke-width="1.3" stroke-linejoin="round"/>
<polyline points="252.9,869.2 253.2,868.5 253.5,872.3 253.8,869.6 254.1,872 254.4,867.9 254.7,868.8 255,870.9 255.3,865.6 255.6,863.1 255.9,870.6 256.2,871.9 256.5,866.9 256.8,866.1 257.1,867.7 257.4,866.5 257.7,861.3 258,865.6 258.3,863.8 258.6,852.2 258.9,863.1 259.2,864.4 259.5,866.2 259.8,863.8 260.1,863.1 260.4,865.1 260.7,860.2 261,863.8 261.3,861.5 261.6,861 261.9,866.9 262.2,865.5 262.5,863.1 262.8,862.3 263.1,862 263.4,859.5 263.7,862.3 264,860.8 264.3,858.2 264.6,857.8 264.9,863.5 265.2,858.6 265.5,860.8 265.8,860.7 266.1,856.4 266.4,859.7 266.7,859 267,857.7 267.3,859.1 267.6,863.7 267.9,859.2 268.2,860.7 268.5,860 268.8,861.9 269.1,859.6 269.4,859.5 269.7,863.7 270,859.4 270.3,861.2 270.6,864.7 270.9,860.6 271.2,860.8 271.5,861.8 271.8,862.1 272.1,856 272.4,860.3 272.7,858 273,859.8 273.3,861.9 273.6,860.7 273.9,859.9 274.2,862.3 274.5,856.8 274.8,860 275.1,861.9 275.4,859.4 275.7,855.7 276,860.9 276.3,859.9 276.6,861.4 276.9,857.5 277.2,861 277.5,857.5 277.8,861.6 278.1,856.8 278.4,859.7 278.7,862.3 279,862.3 279.3,859.4 279.6,856.9 279.9,858.5 280.2,857.1 280.5,858.9 280.8,857.7 281.1,856.9 281.4,856.5 281.7,857.1 282,864 282.3,858.3 282.6,857.1 282.9,859.7 283.2,859.3 283.5,856 283.8,858.9 284.1,855.7 284.4,856.9 284.7,859 285,859.1 285.3,862.2 285.6,855.8 285.9,853.8 286.2,855.6 286.5,860.9 286.8,856.2 287.1,859 287.4,859.1 287.7,859.1 288,854.8 288.3,840.5 288.6,861.3 288.9,860.3 289.2,860.2 289.5,858 289.8,856.8 290.1,860.3 290.4,853.8 290.7,857.8 291,858.9 291.3,861.3 291.6,858.5 291.9,858.5 292.2,856.7 292.5,858.9 292.8,858.7 293.1,856.8 293.4,857.7 293.7,858.6 294,858.2 294.3,856.9 294.6,862.1 294.9,854.2 295.2,856.9 295.5,859.2 295.8,856.9 296.1,859.1 296.4,858.6 296.7,857.9 297,858 297.3,855.4 297.6,853.3 297.9,856.7 298.2,858.3 298.5,860.9 298.8,857.5 299.1,862.5 299.4,860.8 299.7,857.4 300,856.5 300.3,854.9 300.6,859.5 300.9,858.3 301.2,851.7 301.5,860.6 301.8,851.5 302.1,859.2 302.4,858.8 302.7,859.3 303,855.7 303.3,859.1 303.6,858.1 303.9,861.9 304.2,854.3 304.5,860.3 304.8,854.8 305.1,859.6 305.4,860.8 305.7,857.3 306,856.9 306.3,857.7 306.6,861.7 306.9,857.6 307.2,858.5 307.5,858 307.8,860.1 308.1,859 308.4,858 308.7,856.3 309,853.9 309.3,857.5 309.6,859 309.9,858.7 310.2,854.1 310.5,856.4 310.8,861 311.1,854.2 311.4,855.1 311.7,861.9 312,857.4 312.3,852.5 312.6,857.7 312.9,861.7 313.2,856.4 313.5,859.5 313.8,860.7 314.1,859.8 314.4,856 314.7,857.5 315,859.1 315.3,860.8 315.6,859.9 315.9,859.5 316.2,855.8 316.5,862.4 316.8,859.9 317.1,838.1 317.4,860 317.7,855.3 318,854.2 318.3,862.4 318.6,856 318.9,860.5 319.2,859.1 319.5,858.9 319.8,861.7 320.1,858 320.4,862 320.7,855.7 321,857.6 321.3,859.9 321.6,856.7 321.9,858.5 322.2,858.7 322.5,859.2 322.8,860.5 323.1,859.4 323.4,852.4 323.7,857.3 324,855.3 324.3,857.4 324.6,859.4 324.9,857.4 325.2,864.4 325.5,861.3 325.8,857.2 326.1,861.6 326.4,859.1 326.7,857.8 327,856.4 327.3,858.1 327.6,860.5 327.9,861.2 328.2,858.7 328.5,854 328.8,857 329.1,858.4 329.4,849.5 329.7,856.8 330,861.2 330.3,859.7 330.6,860.6 330.9,858.7 331.2,863.8 331.5,859.9 331.8,860 332.1,861.7 332.4,860.1 332.7,858.2 333,859.4 333.3,857 333.6,856.6 333.9,861.3 334.2,854.1 334.5,861.5 334.8,859.9 335.1,858.4 335.4,859 335.7,864.4 336,857.4 336.3,860.6 336.6,858.5 336.9,855.1 337.2,862.3 337.5,857.4 337.8,859.5 338.1,857.9 338.4,861.5 338.7,861.3 339,858.3 339.3,856.6 339.6,861.8 339.9,859.8 340.2,861.9 340.5,861.4 340.8,858.9 341.1,857.2 341.4,858.4 341.7,858 342,853.7 342.3,860.5 342.6,859.6 342.9,862.8 343.2,863.3 343.5,858.8 343.8,861 344.1,860 344.4,860.2 344.7,861.2 345,860.3 345.3,847.3 345.6,859.2 345.9,859 346.2,859.5 346.5,860.2 346.8,859.1 347.1,859.8 347.4,860.5 347.7,855.8 348,860.2 348.3,866.8 348.6,855.8 348.9,858 349.2,858.2 349.5,862.1 349.8,861.7 350.1,860.1 350.4,863.1 350.7,859.3 351,861.3 351.3,858.7 351.6,859.5 351.9,856.6 352.2,860.6 352.5,856 352.8,859.2 353.1,861 353.4,864 353.7,857 354,857.8 354.3,859.5 354.6,860.4 354.9,861.9 355.2,858.9 355.5,862.3 355.8,861.2 356.1,860.5 356.4,859.2 356.7,857.9 357,863.3 357.3,855.9 357.6,860.7 357.9,859.4 358.2,859.8 358.5,860.5 358.8,856.4 359.1,866.1 359.4,859 359.7,861.3 360,860.6 360.3,860.3 360.6,865.3 360.9,860.8 361.2,861.1 361.5,861.8 361.8,860.5 362.1,860.3 362.4,854 362.7,860.8 363,852.7 363.3,860.9 363.6,863.8 363.9,860.2 364.2,861.8 364.5,860.3 364.8,861.3 365.1,858.8 365.4,861.1 365.7,863.1 366,862.3 366.3,861.2 366.6,862.1 366.9,861.6 367.2,858.8 367.5,863.7 367.8,856 368.1,858.1 368.4,862.6 368.7,852.4 369,858.3 369.3,862.3 369.6,858.6 369.9,855.4 370.2,857.4 370.5,860.8 370.8,865.5 371.1,863 371.4,863.5 371.7,863.3 372,862.1 372.3,862.3 372.6,857.6 372.9,860.9 373.2,850.9 373.5,860.4 373.8,867.9 374.1,858.2 374.4,860.7 374.7,864.3 375,862.6 375.3,861.7 375.6,859.6 375.9,862.5 376.2,859.6 376.5,865.1 376.8,861.2 377.1,864.2 377.4,859.2 377.7,859.4 378,864.7 378.3,862.8 378.6,861 378.9,866.4 379.2,864.2 379.5,862.3 379.8,864.3 380.1,862.1 380.4,862.4 380.7,861.8 381,865.1 381.3,857.9 381.6,858.8 381.9,860.5 382.2,859.6 382.5,859.7 382.8,862.4 383.1,863 383.4,847.8 383.7,862.8 384,858.1 384.3,861.7 384.6,861.2 384.9,853.9 385.2,863.9 385.5,862.4 385.8,860.3 386.1,855 386.4,862.5 386.7,858.4 387,857.3 387.3,860.5 387.6,855.4 387.9,861.5 388.2,857.1 388.5,858.1 388.8,858 389.1,860.1 389.4,860.5 389.7,861.3 390,848.4 390.3,856.3 390.6,856.1 390.9,852.9 391.2,855.9 391.5,856.2 391.8,861 392.1,858.7 392.4,857.4 392.7,856.4 393,857.1 393.3,857.4 393.6,856.6 393.9,858 394.2,856.9 394.5,859 394.8,858.1 395.1,855.7 395.4,857.7 395.7,858.8 396,853.8 396.3,857.8 396.6,855.9 396.9,855.7 397.2,856.1 397.5,853.2 397.8,858 398.1,857.2 398.4,858.3 398.7,850 399,856.5 399.3,855.6 399.6,855.6 399.9,853.5 400.2,854.8 400.5,856.2 400.8,852.2 401.1,851.2 401.4,851.6 401.7,850 402,848.5 402.3,853.9 402.6,852.6 402.9,850.6 403.2,853 403.5,855.8 403.8,852.3 404.1,849.5 404.4,851.7 404.7,851.1 405,843.9 405.3,846.8 405.6,854.6 405.9,851.4 406.2,854.9 406.5,852.4 406.8,834.9 407.1,850.9 407.4,851.9 407.7,856.7 408,853.9 408.3,853.7 408.6,841.5 408.9,853.7 409.2,854 409.5,848.5 409.8,849.6 410.1,854.6 410.4,854.1 410.7,855.1 411,848.8 411.3,858.1 411.6,848.5 411.9,852.7 412.2,854 412.5,851 412.8,849.1 413.1,849.6 413.4,854.1 413.7,849 414,854.7 414.3,856.3 414.6,851.6 414.9,854 415.2,854.6 415.5,853.1 415.8,849.9 416.1,857.5 416.4,855.5 416.7,851.3 417,851.2 417.3,850.5 417.6,850.5 417.9,855.4 418.2,857.6 418.5,853.3 418.8,850.4 419.1,853.1 419.4,851.6 419.7,857.1 420,852.4 420.3,853.4 420.6,853 420.9,853.3 421.2,850.2 421.5,849 421.8,854.6 422.1,851.6 422.4,852.2 422.7,852.6 423,853.4 423.3,857.4 423.6,853.7 423.9,851.9 424.2,859.3 424.5,852.8 424.8,849.7 425.1,851.4 425.4,854.7 425.7,850.8 426,849.8 426.3,855.9 426.6,852.6 426.9,855.6 427.2,854 427.5,854.8 427.8,855.7 428.1,853.9 428.4,850.9 428.7,856.9 429,857.6 429.3,853.9 429.6,854.4 429.9,847.5 430.2,855.4 430.5,859 430.8,849.5 431.1,855.3 431.4,859 431.7,854.2 432,853.5 432.3,852.8 432.6,857.4 432.9,849.3 433.2,852.7 433.5,850 433.8,851.3 434.1,846.3 434.4,850.8 434.7,853 435,852.9 435.3,852 435.6,852.3 435.9,842.4 436.2,852.8 436.5,853 436.8,854.6 437.1,853.8 437.4,851.9 437.7,854 438,851.8 438.3,851.4 438.6,855.6 438.9,851 439.2,854.1 439.5,853.3 439.8,847.1 440.1,858 440.4,852.2 440.7,856.6 441,852.4 441.3,853.3 441.6,852.7 441.9,856.3 442.2,851.8 442.5,854.1 442.8,854.8 443.1,855.5 443.4,854.8 443.7,855.4 444,853.7 444.3,853.9 444.6,851.8 444.9,855.1 445.2,854.9 445.5,853.4 445.8,852.8 446.1,848.5 446.4,858.2 446.7,855 447,857.7 447.3,852.7 447.6,855.2 447.9,853.4 448.2,853.3 448.5,854.1 448.8,858.6 449.1,861.5 449.4,852.6 449.7,853.6 450,855.9 450.3,849.4 450.6,855.9 450.9,854.2 451.2,853.5 451.5,853.2 451.8,858.4 452.1,856.2 452.4,853.5 452.7,853.8 453,854.2 453.3,856.7 453.6,857.4 453.9,853.1 454.2,853.8 454.5,854.3 454.8,849.9 455.1,853.8 455.4,847.7 455.7,852.3 456,851.3 456.3,853.3 456.6,854.4 456.9,855.1 457.2,853.9 457.5,855.6 457.8,860.4 458.1,855.9 458.4,855.4 458.7,855.8 459,858.9 459.3,853.5 459.6,838.3 459.9,856.3 460.2,860.5 460.5,853.9 460.8,859.5 461.1,854.5 461.4,852.2 461.7,856 462,856 462.3,856.4 462.6,852.9 462.9,858.2 463.2,845.8 463.5,855.7 463.8,843.8 464.1,853.7 464.4,854.8 464.7,859 465,857.9 465.3,854.8 465.6,857 465.9,848.2 466.2,854.3 466.5,856.2 466.8,859.6 467.1,860 467.4,857.6 467.7,858.9 468,855.1 468.3,854.8 468.6,856.9 468.9,859.5 469.2,853.5 469.5,855.3 469.8,855.2 470.1,853 470.4,856.2 470.7,857.9 471,850.9 471.3,855.1 471.6,858.2 471.9,857.6 472.2,859.7 472.5,858.5 472.8,856.4 473.1,851.9 473.4,859.4 473.7,857 474,854.3 474.3,861.4 474.6,857.9 474.9,856.4 475.2,854.6 475.5,858.1 475.8,855.1 476.1,856.3 476.4,844.9 476.7,854.9 477,854.7 477.3,852.3 477.6,855.1 477.9,849.8 478.2,855.5 478.5,858.2 478.8,858.6 479.1,855.2 479.4,860.2 479.7,860 480,855 480.3,853.3 480.6,850.8 480.9,858.4 481.2,861 481.5,856.1 481.8,859.1 482.1,855.4 482.4,857.6 482.7,857.9 483,855.7 483.3,858.3 483.6,856.5 483.9,855.5 484.2,856.1 484.5,855.2 484.8,859.5 485.1,852.5 485.4,861 485.7,854.8 486,856.4 486.3,859.2 486.6,855.1 486.9,853.8 487.2,856.5 487.5,856.7 487.8,857.2 488.1,858 488.4,855.4 488.7,854.3 489,859.6 489.3,857.8 489.6,858 489.9,855.4 490.2,854.4 490.5,853.6 490.8,854.7 491.1,852.9 491.4,855.3 491.7,855.3 492,853.4 492.3,857.2 492.6,855.4 492.9,851.7 493.2,845.3 493.5,858.6 493.8,853.9 494.1,858.5 494.4,853.4 494.7,847.8 495,856.2 495.3,855.4 495.6,854.6 495.9,854.5 496.2,851 496.5,852.4 496.8,851.5 497.1,854.9 497.4,856.2 497.7,855.7 498,854.3 498.3,851.9 498.6,859.2 498.9,856.1 499.2,851.7 499.5,859.8 499.8,853.3 500.1,854.1 500.4,852.8 500.7,857.7 501,854.2 501.3,855.6 501.6,855.9 501.9,854.6 502.2,856.2 502.5,853.5 502.8,856 503.1,854.5 503.4,853.1 503.7,853.1 504,852.5 504.3,851.7 504.6,859.8 504.9,857.6 505.2,858.5 505.5,859.1 505.8,853.7 506.1,855.1 506.4,853.3 506.7,853.2 507,857 507.3,860.4 507.6,850.8 507.9,854.4 508.2,856.6 508.5,859.4 508.8,852.5 509.1,851.3 509.4,858.3 509.7,851.3 510,854.1 510.3,856.1 510.6,853.7 510.9,851 511.2,853.2 511.5,852.3 511.8,854.8 512.1,851.3 512.4,856.1 512.7,852.6 513,853.4 513.3,853.8 513.6,857.4 513.9,855.7 514.2,854 514.5,856 514.8,854.3 515.1,853.6 515.4,852.7 515.7,854 516,851.9 516.3,852.3 516.6,851.6 516.9,855.3 517.2,851.7 517.5,853.5 517.8,852.9 518.1,852 518.4,848.2 518.7,850.2 519,852 519.3,852.5 519.6,854.9 519.9,852 520.2,853.2 520.5,852 520.8,851.6 521.1,848.9 521.4,853.3 521.7,844.1 522,849.1 522.3,851.8 522.6,847.4 522.9,843.2 523.2,845.9 523.5,847 523.8,851.9 524.1,850.3 524.4,848 524.7,849.1 525,851.1 525.3,848.5 525.6,849.8 525.9,850 526.2,852.9 526.5,850 526.8,846.7 527.1,842.1 527.4,849.4 527.7,846.7 528,847.7 528.3,849 528.6,841.6 528.9,852.8 529.2,846 529.5,847.2 529.8,851.5 530.1,846.5 530.4,849.7 530.7,850.6 531,850.4 531.3,852.5 531.6,852.4 531.9,843.9 532.2,850.4 532.5,851.3 532.8,846.9 533.1,845.2 533.4,854.5 533.7,851.6 534,849.2 534.3,852 534.6,839 534.9,847.4 535.2,847 535.5,847.7 535.8,847.3 536.1,848.7 536.4,848.1 536.7,849.9 537,852 537.3,845.2 537.6,851.2 537.9,852 538.2,846.3 538.5,851.6 538.8,846.5 539.1,846.3 539.4,848.6 539.7,851.7 540,847.6 540.3,846.7 540.6,848.5 540.9,846.5 541.2,845.2 541.5,849.3 541.8,845.1 542.1,846.1 542.4,849.7 542.7,847.7 543,847.7 543.3,847.2 543.6,848.5 543.9,850.4 544.2,846.3 544.5,846.7 544.8,846 545.1,848 545.4,850 545.7,850.8 546,849.2 546.3,842.3 546.6,843.9 546.9,850.4 547.2,851.2 547.5,845.8" fill="none" stroke="#111" stroke-width="1.7" stroke-linejoin="round"/>
<line x1="343" y1="822.3" x2="343" y2="859.7" stroke="#111" stroke-width="1.3"/>
<line x1="460.9" y1="817.6" x2="460.9" y2="855.8" stroke="#111" stroke-width="1.3"/>
<line x1="541.7" y1="828.8" x2="541.7" y2="848" stroke="#111" stroke-width="1.3"/>
<line x1="546.8" y1="831.6" x2="546.8" y2="847.5" stroke="#111" stroke-width="1.3"/>
<line x1="307.9" y1="841.9" x2="307.9" y2="858.7" stroke="#111" stroke-width="1.3"/>
<line x1="284.6" y1="842.8" x2="284.6" y2="858.7" stroke="#111" stroke-width="1.3"/>
<line x1="292.1" y1="843.7" x2="292.1" y2="858.7" stroke="#111" stroke-width="1.3"/>
<line x1="358.7" y1="845.6" x2="358.7" y2="860.5" stroke="#111" stroke-width="1.3"/>
<line x1="427" y1="839.1" x2="427" y2="853.1" stroke="#111" stroke-width="1.3"/>
<line x1="411.5" y1="840.9" x2="411.5" y2="853.1" stroke="#111" stroke-width="1.3"/>
<line x1="453.5" y1="843.7" x2="453.5" y2="855" stroke="#111" stroke-width="1.3"/>
<line x1="492.6" y1="841.9" x2="492.6" y2="855.7" stroke="#111" stroke-width="1.3"/>
<line x1="530" y1="840.9" x2="530" y2="849.1" stroke="#111" stroke-width="1.3"/>
<line x1="273.4" y1="846.5" x2="273.4" y2="859.8" stroke="#111" stroke-width="1.3"/>
<line x1="332.2" y1="846.5" x2="332.2" y2="859.2" stroke="#111" stroke-width="1.3"/>
<line x1="377" y1="846.5" x2="377" y2="862.3" stroke="#111" stroke-width="1.3"/>
<path d="M225 994.2 L225.3 996.8 L225.6 987.6 L225.9 994.5 L226.2 975.3 L226.5 991.9 L226.8 996.3 L227.1 995.3 L227.4 981.9 L227.7 990.9 L228 991 L228.3 992 L228.6 1002.1 L228.9 995.4 L229.2 993.2 L229.5 995.5 L229.8 991.2 L230.1 988.4 L230.4 991.5 L230.7 991.3 L231 992.6 L231.3 977.2 L231.6 995.2 L231.9 990.6 L232.2 988.5 L232.5 991.3 L232.8 987.7 L233.1 989.5 L233.4 990.3 L233.7 992.2 L234 990.7 L234.3 989.1 L234.6 989.5 L234.9 997.3 L235.2 995 L235.5 984 L235.8 996 L236.1 994.6 L236.4 993.2 L236.7 993.2 L237 990.7 L237.3 988.3 L237.6 992.3 L237.9 990.7 L238.2 993.6 L238.5 988.1 L238.8 992.7 L239.1 988.4 L239.4 984.2 L239.7 962.1 L240 982.6 L240.3 981 L240.6 987.3 L240.9 988.3 L241.2 986.6 L241.5 992.4 L241.8 987.2 L242.1 991.1 L242.4 962.7 L242.7 960.2 L243 986.4 L243.3 990.2 L243.6 985.6 L243.9 984.7 L244.2 989.1 L244.5 988.4 L244.8 984.5 L245.1 981.8 L245.4 989.6 L245.7 989.1 L245.7 1018.3 L245.4 1019.8 L245.1 1019.1 L244.8 1019.7 L244.5 1023.9 L244.2 1016.8 L243.9 1015.6 L243.6 1009.4 L243.3 1016.6 L243 1022.6 L242.7 1022.6 L242.4 1019 L242.1 1017.1 L241.8 1016.4 L241.5 1019.1 L241.2 1017 L240.9 1015.9 L240.6 1023.4 L240.3 1020.4 L240 1017.5 L239.7 1017.6 L239.4 1016.5 L239.1 1014.9 L238.8 1022.6 L238.5 1018.4 L238.2 1021.4 L237.9 1024.8 L237.6 1020.8 L237.3 1017.7 L237 1019.1 L236.7 1016.6 L236.4 1019.4 L236.1 1020.9 L235.8 1015.8 L235.5 1015.6 L235.2 1020.8 L234.9 1016.2 L234.6 1013.8 L234.3 1017.8 L234 1017.3 L233.7 1016.1 L233.4 1011.7 L233.1 1017.8 L232.8 1023.1 L232.5 1019.6 L232.2 1018.6 L231.9 1018.6 L231.6 1019.1 L231.3 1019 L231 1015 L230.7 1018.4 L230.4 1022 L230.1 1017 L229.8 1016.9 L229.5 1024.1 L229.2 1017.6 L228.9 1018.9 L228.6 1021.8 L228.3 1022.1 L228 1016.1 L227.7 1019.4 L227.4 1022.2 L227.1 1018.2 L226.8 1025.2 L226.5 1017.5 L226.2 1022.3 L225.9 1016.6 L225.6 1019.9 L225.3 1022.4 L225 1017.7Z" fill="#5a87d5" stroke="#5a87d5" stroke-width="0.6" stroke-linejoin="round"/>
<path d="M249 991.4 L249.3 1000.8 L249.6 1008 L249.9 1007.3 L250.2 1002.7 L250.5 1008.2 L250.8 996 L251.1 1007.3 L251.4 1005.2 L251.7 1008 L252 1011.7 L252.3 985.1 L252.6 998.4 L252.9 1013.6 L253.2 1009.3 L253.5 1006.7 L253.8 1002.7 L254.1 1001.1 L254.4 992.5 L254.7 998 L255 989.2 L255.3 1002.1 L255.6 991.8 L255.9 996.7 L256.2 990.9 L256.5 985 L256.8 985.2 L257.1 985.9 L257.4 989.2 L257.7 989 L258 994.2 L258.3 985.8 L258.6 978.9 L258.9 987.3 L259.2 979.1 L259.5 985.4 L259.8 975.7 L260.1 976.5 L260.4 982.8 L260.7 978.1 L261 978.5 L261.3 983.3 L261.6 970.6 L261.9 978 L262.2 973.4 L262.5 972.3 L262.8 968.3 L263.1 981.1 L263.4 970 L263.7 975.1 L264 971.7 L264.3 971.8 L264.6 967.1 L264.9 958.9 L265.2 962.8 L265.5 965.7 L265.8 972.7 L266.1 968.7 L266.4 969.4 L266.7 966.4 L267 963.2 L267.3 957.1 L267.6 967.5 L267.9 966.6 L268.2 965.3 L268.5 958.4 L268.8 960.2 L269.1 971.1 L269.4 965 L269.7 964.6 L270 965.1 L270.3 967 L270.6 961.8 L270.9 962 L271.2 965.4 L271.5 964 L271.8 957.9 L272.1 962.6 L272.4 963.1 L272.7 962.4 L273 959.1 L273.3 962.4 L273.6 955.5 L273.9 944.5 L274.2 962.2 L274.5 956.8 L274.8 966.3 L275.1 955.4 L275.4 960.8 L275.7 954.8 L276 948.2 L276.3 951 L276.6 954.2 L276.9 962.4 L277.2 965.7 L277.5 952.2 L277.8 956.4 L278.1 957.1 L278.4 963.4 L278.7 953.8 L279 962.7 L279.3 950.8 L279.6 960.4 L279.9 958.9 L280.2 960.3 L280.5 955.4 L280.8 953.6 L281.1 957.3 L281.4 957.4 L281.7 960 L282 955.7 L282.3 956.8 L282.6 963.9 L282.9 958.3 L283.2 962.8 L283.5 960.9 L283.8 960.8 L284.1 961.1 L284.4 948.8 L284.7 952.1 L285 957.7 L285.3 962.6 L285.6 957.5 L285.9 960.4 L286.2 954 L286.5 960.5 L286.8 960.2 L287.1 959.8 L287.4 951 L287.7 965.5 L288 940.9 L288.3 957.2 L288.6 958.5 L288.9 966 L289.2 959.1 L289.5 949.5 L289.8 960.8 L290.1 960.9 L290.4 956 L290.7 958.8 L291 957.3 L291.3 960.8 L291.6 962.9 L291.9 959 L292.2 965.3 L292.5 960 L292.8 957.3 L293.1 957.9 L293.4 960.1 L293.7 956.1 L294 960.1 L294.3 955.8 L294.6 956.4 L294.9 962.9 L295.2 963.3 L295.5 960 L295.8 956.4 L296.1 962.4 L296.4 962.3 L296.7 954.9 L297 959.5 L297.3 956.5 L297.6 964 L297.9 962.7 L298.2 949.6 L298.5 959.3 L298.8 969.5 L299.1 965.8 L299.4 959.9 L299.7 959.4 L300 951.5 L300.3 964.6 L300.6 937.1 L300.9 958.4 L301.2 964.3 L301.5 962.8 L301.8 955.2 L302.1 963.3 L302.4 956.9 L302.7 958.6 L303 953.9 L303.3 963.6 L303.6 966.1 L303.9 962 L304.2 955.5 L304.5 961.9 L304.8 963.8 L305.1 955.2 L305.4 961.8 L305.7 968.2 L306 957.8 L306.3 962.9 L306.6 963.6 L306.9 960.7 L307.2 958.1 L307.5 966.7 L307.8 958.1 L308.1 957.1 L308.4 968.4 L308.7 965.3 L309 959.7 L309.3 949.1 L309.6 963.8 L309.9 959.7 L310.2 961.9 L310.5 968.5 L310.8 965.7 L311.1 969.3 L311.4 963.4 L311.7 964.7 L312 963.1 L312.3 963 L312.6 955.7 L312.9 960 L313.2 972 L313.5 963.1 L313.8 963.2 L314.1 968.3 L314.4 952.2 L314.7 967.9 L315 967.5 L315.3 967.7 L315.6 969.2 L315.9 968.8 L316.2 966.6 L316.5 969.4 L316.8 962.6 L317.1 959.5 L317.4 966.7 L317.7 967.6 L318 974.4 L318.3 962.2 L318.6 969.7 L318.9 966.1 L319.2 972.1 L319.5 974.8 L319.8 967.3 L320.1 969.2 L320.4 959.3 L320.7 973.1 L321 975.1 L321.3 953.1 L321.6 962.6 L321.9 967.6 L322.2 965.8 L322.5 965.4 L322.8 964.6 L323.1 964 L323.4 967.4 L323.7 970.5 L324 974 L324.3 975.4 L324.6 961.3 L324.9 969.2 L325.2 969.8 L325.5 967.1 L325.8 966.4 L326.1 969.8 L326.4 970.4 L326.7 965.5 L327 967.5 L327.3 958.9 L327.6 962.5 L327.9 966.5 L328.2 964.4 L328.5 967.8 L328.8 967.5 L329.1 966.2 L329.4 961.6 L329.7 968.9 L330 972.1 L330.3 969.6 L330.6 972.8 L330.9 964.7 L331.2 969.6 L331.5 966 L331.8 965 L332.1 966.6 L332.4 961.2 L332.7 966.3 L333 972.4 L333.3 957.7 L333.6 964.8 L333.9 965.9 L334.2 970.3 L334.5 956.8 L334.8 972.2 L335.1 970.2 L335.4 971.4 L335.7 968.2 L336 969.8 L336.3 963 L336.6 968.7 L336.9 972.6 L337.2 972.3 L337.5 963.7 L337.8 956 L338.1 956.9 L338.4 971.9 L338.7 966.7 L339 968.2 L339.3 961 L339.6 971.6 L339.9 969.8 L340.2 971.2 L340.5 963.6 L340.8 962.5 L341.1 951.4 L341.4 960.5 L341.7 965.1 L342 971.5 L342.3 964.6 L342.6 960.1 L342.9 960.6 L343.2 967 L343.5 971.4 L343.8 967.1 L344.1 967 L344.4 965.4 L344.7 960.1 L345 968.2 L345.3 965.9 L345.6 962.8 L345.9 964.4 L346.2 957.5 L346.5 964.9 L346.8 964 L347.1 971.4 L347.4 965.6 L347.7 961.2 L348 966.3 L348.3 966 L348.6 971.9 L348.9 963.2 L349.2 954.3 L349.5 962.1 L349.8 969 L350.1 961.9 L350.4 962.6 L350.7 966.8 L351 963.4 L351.3 971.1 L351.6 964.7 L351.9 961.8 L352.2 962.4 L352.5 964.8 L352.8 957.1 L353.1 963.4 L353.4 961 L353.7 966 L354 969.7 L354.3 944.6 L354.6 950.6 L354.9 960.4 L355.2 957.4 L355.5 971 L355.8 962.1 L356.1 957.8 L356.4 961.8 L356.7 965.9 L357 945.3 L357.3 966.2 L357.6 960.8 L357.9 966.9 L358.2 957.4 L358.5 958.2 L358.8 955.3 L359.1 963.2 L359.4 961.1 L359.7 956.5 L360 954.8 L360.3 964.4 L360.6 958.2 L360.9 955.1 L361.2 961.5 L361.5 961.8 L361.8 965.1 L362.1 962.9 L362.4 958.1 L362.7 960.3 L363 965.3 L363.3 966.1 L363.6 964.6 L363.9 963.9 L364.2 955.7 L364.5 962.1 L364.8 951 L365.1 957.6 L365.4 958.5 L365.7 958.5 L366 958.5 L366.3 968.4 L366.6 959.7 L366.9 962.5 L367.2 958.3 L367.5 958.8 L367.8 962.8 L368.1 955.2 L368.4 959.4 L368.7 956.5 L369 955.2 L369.3 957.6 L369.6 958.7 L369.9 961.4 L370.2 957.5 L370.5 953.6 L370.8 961.8 L371.1 956.9 L371.4 960.5 L371.7 957.9 L372 956.7 L372.3 948.7 L372.6 963.2 L372.9 960.4 L373.2 954.6 L373.5 961.9 L373.8 962.4 L374.1 957.1 L374.4 960.9 L374.7 949.9 L375 957.6 L375.3 962.5 L375.6 961.9 L375.9 957.5 L376.2 967.2 L376.5 963.7 L376.8 959.7 L377.1 958.5 L377.4 956.5 L377.7 962.2 L378 957.2 L378.3 960.9 L378.6 961.7 L378.9 962 L379.2 964.6 L379.5 957.4 L379.8 963.7 L380.1 961 L380.4 962.3 L380.7 954.8 L381 957.8 L381.3 966.4 L381.6 962.6 L381.9 962.8 L382.2 963.2 L382.5 962.6 L382.8 956.5 L383.1 967.4 L383.4 956.2 L383.7 957 L384 956.9 L384.3 958.3 L384.6 958.6 L384.9 958.7 L385.2 956.4 L385.5 959.8 L385.8 952.7 L386.1 957.8 L386.4 968 L386.7 960.3 L387 964 L387.3 963.4 L387.6 945.4 L387.9 959.6 L388.2 961.6 L388.5 959.1 L388.8 952.5 L389.1 964.2 L389.4 964.2 L389.7 962.1 L390 948.1 L390.3 951.8 L390.6 967.6 L390.9 964.5 L391.2 962.1 L391.5 952.6 L391.8 965.2 L392.1 958 L392.4 948.6 L392.7 959.2 L393 962.1 L393.3 960.9 L393.6 954.3 L393.9 955.4 L394.2 960.8 L394.5 958.9 L394.8 958.5 L395.1 963.5 L395.4 956.6 L395.7 965.5 L396 962 L396.3 961.8 L396.6 951.2 L396.9 960 L397.2 959.4 L397.5 954.3 L397.8 965 L398.1 957.6 L398.4 961 L398.7 957.9 L399 957.4 L399.3 964.5 L399.6 960.9 L399.9 960.6 L400.2 954 L400.5 957.9 L400.8 954.1 L401.1 963.7 L401.4 961.6 L401.7 959.6 L402 949.6 L402.3 945.3 L402.6 959.9 L402.9 942.6 L403.2 971.4 L403.5 966.3 L403.8 961.1 L404.1 966 L404.4 958.7 L404.7 967.4 L405 966.5 L405.3 952.4 L405.6 958.9 L405.9 961.5 L406.2 961.6 L406.5 953.3 L406.8 959.4 L407.1 959.6 L407.4 958.2 L407.7 958.2 L408 966.6 L408.3 963.3 L408.6 964.5 L408.9 957.5 L409.2 965.7 L409.5 950.5 L409.8 967.5 L410.1 956.7 L410.4 960.2 L410.7 959.4 L411 939.2 L411.3 962 L411.6 964 L411.9 960.4 L412.2 967.8 L412.5 959.1 L412.8 962 L413.1 957.9 L413.4 964.4 L413.7 958.1 L414 962.1 L414.3 958.1 L414.6 954.7 L414.9 957.4 L415.2 947.6 L415.5 957.2 L415.8 956.5 L416.1 957.8 L416.4 956.4 L416.7 961.3 L417 955.8 L417.3 967 L417.6 961.8 L417.9 962.8 L418.2 956.4 L418.5 960.7 L418.8 961.6 L419.1 972.8 L419.4 965.4 L419.7 956.9 L420 955.1 L420.3 958.3 L420.6 955.9 L420.9 962.2 L421.2 956.6 L421.5 969.8 L421.8 962.3 L422.1 955.8 L422.4 966.8 L422.7 948.1 L423 962.1 L423.3 962.4 L423.6 961.6 L423.9 941.1 L424.2 962 L424.5 964.4 L424.8 961.8 L425.1 963.7 L425.4 960.7 L425.7 960.5 L426 962.1 L426.3 962.3 L426.6 968 L426.9 956.6 L427.2 966.6 L427.5 971.5 L427.8 965.4 L428.1 959.7 L428.4 972.9 L428.7 962 L429 957.6 L429.3 957.2 L429.6 960.3 L429.9 966.2 L430.2 968.3 L430.5 961 L430.8 967.7 L431.1 957.8 L431.4 961.8 L431.7 955.1 L432 957.3 L432.3 962.8 L432.6 961.9 L432.9 961.2 L433.2 966.6 L433.5 963.7 L433.8 969.1 L434.1 962.6 L434.4 960.6 L434.7 930.2 L435 965 L435.3 967 L435.6 962.2 L435.9 969.8 L436.2 962.8 L436.5 960.9 L436.8 965.5 L437.1 963.3 L437.4 963.8 L437.7 964.9 L438 962.7 L438.3 972.2 L438.6 971.9 L438.9 967 L439.2 962.1 L439.5 963.6 L439.8 970 L440.1 968.4 L440.4 960.6 L440.7 968.3 L441 965.8 L441.3 957.3 L441.6 964.6 L441.9 976.5 L442.2 972.4 L442.5 960 L442.8 965.4 L443.1 951.3 L443.4 964.1 L443.7 965.6 L444 959.4 L444.3 964.8 L444.6 966.4 L444.9 970 L445.2 966.7 L445.5 965.8 L445.8 963.6 L446.1 964.6 L446.4 969.2 L446.7 972.9 L447 974.6 L447.3 964.9 L447.6 974.2 L447.9 966.6 L448.2 977.9 L448.5 973.3 L448.8 974.4 L449.1 969.7 L449.4 975 L449.7 981 L450 970.1 L450.3 978.3 L450.6 976.1 L450.9 979 L451.2 979.5 L451.5 964.1 L451.8 975.9 L452.1 975.5 L452.4 978.2 L452.7 965.6 L453 968.6 L453.3 976.1 L453.6 970.8 L453.9 980 L454.2 977.1 L454.5 979.2 L454.8 980.1 L455.1 976.6 L455.4 973.8 L455.7 980.1 L456 964.1 L456.3 971.5 L456.6 977.6 L456.9 977.3 L457.2 975.9 L457.5 976.6 L457.8 969.5 L458.1 978.1 L458.4 976.8 L458.7 977.2 L459 981.1 L459.3 983.5 L459.6 986.5 L459.9 976.1 L460.2 968.5 L460.5 973.4 L460.8 989.3 L461.1 981.4 L461.4 982.5 L461.7 976.7 L462 977.4 L462.3 976.5 L462.6 978.1 L462.9 974 L463.2 981 L463.5 973.7 L463.8 980 L464.1 974.8 L464.4 976.6 L464.7 982.2 L465 974.1 L465.3 981.2 L465.6 981.6 L465.9 981.5 L466.2 979 L466.5 987.5 L466.8 978.2 L467.1 978.5 L467.4 977 L467.7 988 L468 988.5 L468.3 986.2 L468.6 979.9 L468.9 977.2 L469.2 979.6 L469.5 980.5 L469.8 976.3 L470.1 975 L470.4 983.6 L470.7 978.9 L471 981.4 L471.3 978.4 L471.6 982.1 L471.9 982.3 L472.2 978.4 L472.5 981 L472.8 980.7 L473.1 978.3 L473.4 986.7 L473.7 979.8 L474 987.7 L474.3 975.2 L474.6 980.2 L474.9 982.1 L475.2 986.7 L475.5 983 L475.8 988 L476.1 979.4 L476.4 971.1 L476.7 983.6 L477 983.9 L477.3 963.2 L477.6 984.9 L477.9 982.8 L478.2 973.4 L478.5 980.8 L478.8 980.7 L479.1 982.9 L479.4 976.4 L479.7 978.2 L480 981.5 L480.3 984.1 L480.6 982.1 L480.9 980.8 L481.2 985.8 L481.5 981.9 L481.8 978.7 L482.1 971.2 L482.4 984.8 L482.7 986.3 L483 984.1 L483.3 988.1 L483.6 978.1 L483.9 985.6 L484.2 978.7 L484.5 986.4 L484.8 978.1 L485.1 984.2 L485.4 982.9 L485.7 974.8 L486 976.4 L486.3 980.8 L486.6 980.9 L486.9 982.4 L487.2 985.3 L487.5 984.6 L487.8 973.5 L488.1 977.1 L488.4 985 L488.7 983.7 L489 980.9 L489.3 977.3 L489.6 989.2 L489.9 981.6 L490.2 984.7 L490.5 977.6 L490.8 979 L491.1 983.1 L491.4 978.4 L491.7 982.1 L492 979.8 L492.3 983.7 L492.6 982.5 L492.9 982.9 L493.2 975.5 L493.5 977.3 L493.8 978.3 L494.1 980.4 L494.4 981.4 L494.7 977.8 L495 977 L495.3 975 L495.6 957.1 L495.9 981.1 L496.2 985.5 L496.5 984.2 L496.8 974.6 L497.1 979.8 L497.4 983.5 L497.7 978.6 L498 980.1 L498.3 981.5 L498.6 983.2 L498.9 974.7 L499.2 976.3 L499.5 957.1 L499.8 982.1 L500.1 975.6 L500.4 983.3 L500.7 983.4 L501 985.6 L501.3 988.5 L501.6 976.8 L501.9 968.9 L502.2 983.8 L502.5 975.4 L502.8 984.8 L503.1 970.9 L503.4 979.9 L503.7 980.3 L504 989 L504.3 988.3 L504.6 972.7 L504.9 980.5 L505.2 966 L505.5 981.2 L505.8 985.3 L506.1 983.8 L506.4 982 L506.7 975.4 L507 978.8 L507.3 987 L507.6 982.8 L507.9 979.5 L508.2 981.9 L508.5 969.3 L508.8 979.4 L509.1 975.8 L509.4 983.9 L509.7 987.1 L510 975.5 L510.3 979.5 L510.6 980 L510.9 985 L511.2 983.3 L511.5 976.4 L511.8 969.1 L512.1 980.8 L512.4 975.7 L512.7 986.7 L513 981.7 L513.3 979.4 L513.6 983.6 L513.9 984.4 L514.2 978.7 L514.5 980.6 L514.8 966.3 L515.1 972.4 L515.4 990.5 L515.7 986.1 L516 984.3 L516.3 975.4 L516.6 979.2 L516.9 982.9 L517.2 981.4 L517.5 990 L517.8 988.2 L518.1 977.7 L518.4 984.7 L518.7 982.1 L519 979.6 L519.3 977.8 L519.6 984.8 L519.9 982.3 L520.2 986.3 L520.5 984.3 L520.8 984.6 L521.1 991.4 L521.4 977.4 L521.7 984.3 L522 980.4 L522.3 976.9 L522.6 986.1 L522.9 988.9 L523.2 984 L523.5 988.7 L523.8 984.3 L524.1 978.1 L524.4 984.5 L524.7 984.3 L525 980.2 L525.3 986.4 L525.6 978.5 L525.9 982.8 L526.2 985.3 L526.5 988.4 L526.8 963 L527.1 980.8 L527.4 989.8 L527.7 984.1 L528 988.2 L528.3 980.2 L528.6 989.2 L528.9 983 L529.2 981 L529.5 985.3 L529.8 989.7 L530.1 973.7 L530.4 983.3 L530.7 980.9 L531 984.9 L531.3 984.2 L531.6 986.1 L531.9 990.1 L532.2 987.8 L532.5 983.7 L532.8 981.5 L533.1 990.1 L533.4 976.5 L533.7 985.9 L534 986 L534.3 981.5 L534.6 975.8 L534.9 988.7 L535.2 985.4 L535.5 981.3 L535.8 987.5 L536.1 989.7 L536.4 991.5 L536.7 987.7 L537 985.3 L537.3 985.9 L537.6 986.5 L537.9 977.6 L538.2 979.9 L538.5 990.2 L538.8 992.8 L539.1 984.6 L539.4 987.5 L539.7 988.8 L540 993.2 L540.3 985.3 L540.6 987.2 L540.9 987.7 L541.2 988.4 L541.5 982.1 L541.8 991.4 L542.1 988.8 L542.4 976.3 L542.7 989.5 L543 988.9 L543.3 981.5 L543.6 984.4 L543.9 991.2 L544.2 983.6 L544.5 988.6 L544.8 984.9 L545.1 988.4 L545.4 981.4 L545.7 983.2 L546 989.2 L546.3 986.5 L546.6 993.3 L546.9 986.5 L546.9 1009.4 L546.6 1011.1 L546.3 1008.7 L546 1014.9 L545.7 1008.8 L545.4 1007.6 L545.1 1007.3 L544.8 1010.8 L544.5 1009.4 L544.2 1011 L543.9 1009.9 L543.6 1012.9 L543.3 1011.7 L543 1010.7 L542.7 1013 L542.4 1012.5 L542.1 1013.8 L541.8 1013.4 L541.5 1011.9 L541.2 1009.5 L540.9 1011.6 L540.6 1012.8 L540.3 1016 L540 1010.6 L539.7 1009.4 L539.4 1008.5 L539.1 1017.2 L538.8 1010.1 L538.5 1011.3 L538.2 1013.7 L537.9 1007.6 L537.6 1008.2 L537.3 1006.2 L537 1010.7 L536.7 1010.7 L536.4 1008.9 L536.1 1012.5 L535.8 1009 L535.5 1011.6 L535.2 1014.6 L534.9 1009.5 L534.6 1011.7 L534.3 1008.3 L534 1009.3 L533.7 1009.1 L533.4 1012.4 L533.1 1006.7 L532.8 1011.5 L532.5 1011.7 L532.2 1011.5 L531.9 1012.9 L531.6 1009.6 L531.3 1009.1 L531 1009.4 L530.7 1011 L530.4 1013.9 L530.1 1012 L529.8 1007.6 L529.5 1017.2 L529.2 1008.7 L528.9 1012.2 L528.6 1009.5 L528.3 1010.9 L528 1011.9 L527.7 1010.2 L527.4 1009.3 L527.1 1009.8 L526.8 1008.8 L526.5 1009.5 L526.2 1007.3 L525.9 1010.9 L525.6 1015.6 L525.3 1009.2 L525 1011.3 L524.7 1011.7 L524.4 1014.1 L524.1 1008 L523.8 1007 L523.5 1010.6 L523.2 1010.9 L522.9 1012.4 L522.6 1005.2 L522.3 1009.2 L522 1010.8 L521.7 1007.8 L521.4 1013.3 L521.1 1010.7 L520.8 1010.6 L520.5 1013.4 L520.2 1014.8 L519.9 1010.5 L519.6 1010.4 L519.3 1008.7 L519 1010.3 L518.7 1008.8 L518.4 1010.9 L518.1 1009.9 L517.8 1013.7 L517.5 1005.1 L517.2 1011.1 L516.9 1014.8 L516.6 1014.3 L516.3 1005.8 L516 1013.2 L515.7 1013.2 L515.4 1008.4 L515.1 1009.5 L514.8 1008.4 L514.5 1009.4 L514.2 1010.1 L513.9 1013 L513.6 1010 L513.3 1011.6 L513 1013 L512.7 1010.2 L512.4 1008.7 L512.1 1009.9 L511.8 1006.3 L511.5 1013 L511.2 1016.4 L510.9 1012 L510.6 1013.1 L510.3 1004.7 L510 1008.8 L509.7 1007.8 L509.4 1013.5 L509.1 1007.8 L508.8 1013.1 L508.5 1007.3 L508.2 1010.4 L507.9 1006.4 L507.6 1002.9 L507.3 1009.5 L507 1009.8 L506.7 1009.4 L506.4 1012 L506.1 1011.6 L505.8 1015.3 L505.5 1007.3 L505.2 1008.5 L504.9 1010.1 L504.6 1009.1 L504.3 1003.8 L504 1012.1 L503.7 1007.6 L503.4 1008.8 L503.1 1009 L502.8 1010.9 L502.5 1008.9 L502.2 1008.8 L501.9 1012.3 L501.6 1007.9 L501.3 1012.9 L501 1013.9 L500.7 1011.9 L500.4 1011.6 L500.1 1011.2 L499.8 1009.1 L499.5 1004.6 L499.2 1009.4 L498.9 1009.1 L498.6 1006.9 L498.3 1010.7 L498 1011.5 L497.7 1007.5 L497.4 1008.5 L497.1 1011.3 L496.8 1011.4 L496.5 1008.6 L496.2 1006.4 L495.9 1009 L495.6 1003.6 L495.3 1007 L495 1005.6 L494.7 1011.8 L494.4 1007.1 L494.1 1010.8 L493.8 1008.3 L493.5 1010.7 L493.2 1006.7 L492.9 1008.5 L492.6 1007.3 L492.3 1009.4 L492 1010.9 L491.7 1006.2 L491.4 1013.8 L491.1 1011.7 L490.8 1008.8 L490.5 1009.6 L490.2 1009.1 L489.9 1009.8 L489.6 1004 L489.3 1006.2 L489 1010.1 L488.7 1007.6 L488.4 1006.7 L488.1 1013.7 L487.8 1007.9 L487.5 1008.2 L487.2 1006.6 L486.9 1006.6 L486.6 1006 L486.3 1006.5 L486 1004.2 L485.7 1007.4 L485.4 1009.2 L485.1 1006.9 L484.8 1007 L484.5 1005.1 L484.2 1009.2 L483.9 1011 L483.6 1011 L483.3 1008.9 L483 1004.6 L482.7 1006.9 L482.4 1006.2 L482.1 1002.6 L481.8 1003 L481.5 1006.2 L481.2 1007.3 L480.9 1007.4 L480.6 1004.2 L480.3 1008.1 L480 1007.4 L479.7 1008.6 L479.4 1007.6 L479.1 1004.1 L478.8 1008.5 L478.5 1005.4 L478.2 1004.1 L477.9 1002.7 L477.6 1009.2 L477.3 1006.6 L477 1011.1 L476.7 1005.1 L476.4 1007.3 L476.1 1007.9 L475.8 1008.6 L475.5 1009.3 L475.2 1003.4 L474.9 1005.4 L474.6 1007.2 L474.3 1006 L474 1002.4 L473.7 1002.3 L473.4 1005.2 L473.1 1009.4 L472.8 1007.2 L472.5 1007.8 L472.2 1005.2 L471.9 1002 L471.6 1007.6 L471.3 1006.6 L471 1003.1 L470.7 1004.2 L470.4 1006.3 L470.1 1005.1 L469.8 1005.3 L469.5 1006.3 L469.2 1001.3 L468.9 1006.1 L468.6 1012 L468.3 1008 L468 1003.3 L467.7 1002.7 L467.4 1005.2 L467.1 1004.4 L466.8 1007.6 L466.5 1009.6 L466.2 1003.1 L465.9 1006.5 L465.6 1007.8 L465.3 1003.5 L465 1002.9 L464.7 1006.7 L464.4 1004.2 L464.1 1002.5 L463.8 1007.9 L463.5 996.6 L463.2 997 L462.9 1002.9 L462.6 1000.9 L462.3 1004.9 L462 1006.3 L461.7 1007.7 L461.4 1003 L461.1 1001.6 L460.8 1002.7 L460.5 1006 L460.2 999.5 L459.9 1004 L459.6 1002.5 L459.3 1006.5 L459 1005.4 L458.7 1002.1 L458.4 1007.7 L458.1 1001.5 L457.8 1005 L457.5 1001.6 L457.2 1001.5 L456.9 1004.4 L456.6 1004.6 L456.3 1003.6 L456 1000.5 L455.7 1002.9 L455.4 1002.7 L455.1 997.8 L454.8 1002.5 L454.5 998.6 L454.2 999.1 L453.9 1002 L453.6 1001.9 L453.3 1001.8 L453 1000.4 L452.7 999.2 L452.4 1000.8 L452.1 997.1 L451.8 1001.3 L451.5 1000.2 L451.2 1002.9 L450.9 1002.7 L450.6 1001.5 L450.3 1004 L450 1003.3 L449.7 1003.2 L449.4 998 L449.1 1002.1 L448.8 996.3 L448.5 999.5 L448.2 1001.5 L447.9 1000.1 L447.6 1002.2 L447.3 997.4 L447 1005.5 L446.7 997.8 L446.4 1000.1 L446.1 996.7 L445.8 1002.3 L445.5 999.7 L445.2 999.2 L444.9 999.7 L444.6 995.4 L444.3 1000.4 L444 1001.9 L443.7 1001.4 L443.4 995.3 L443.1 999.6 L442.8 997.7 L442.5 1007.6 L442.2 1002.5 L441.9 1000.1 L441.6 1004.1 L441.3 1002.3 L441 994.2 L440.7 999.2 L440.4 999.2 L440.1 1000.1 L439.8 1001.9 L439.5 1006.1 L439.2 1003.9 L438.9 1000.5 L438.6 1003.1 L438.3 998.3 L438 996.8 L437.7 998.2 L437.4 997.1 L437.1 999 L436.8 998.5 L436.5 994 L436.2 1002.1 L435.9 994 L435.6 1001.6 L435.3 999.3 L435 1005.1 L434.7 998.1 L434.4 993.4 L434.1 993.2 L433.8 992.8 L433.5 998.6 L433.2 996 L432.9 996.6 L432.6 997.2 L432.3 1001.2 L432 999.2 L431.7 996.9 L431.4 1000 L431.1 999 L430.8 1003.7 L430.5 999.3 L430.2 992.5 L429.9 998.4 L429.6 997.6 L429.3 999 L429 995.6 L428.7 993.7 L428.4 996.8 L428.1 994.7 L427.8 996.6 L427.5 995 L427.2 999.2 L426.9 1002.4 L426.6 1000.9 L426.3 1002.5 L426 1001.2 L425.7 1002.6 L425.4 1000.6 L425.1 1002.3 L424.8 996.3 L424.5 995 L424.2 1000.1 L423.9 999.5 L423.6 1002.5 L423.3 995.3 L423 996.8 L422.7 997.9 L422.4 1000 L422.1 1002.4 L421.8 999.8 L421.5 1004.2 L421.2 998.4 L420.9 1001.1 L420.6 999.2 L420.3 997.6 L420 997.2 L419.7 1003.2 L419.4 995.7 L419.1 996.9 L418.8 1002.5 L418.5 997.2 L418.2 1000.1 L417.9 998 L417.6 997.1 L417.3 1005.4 L417 997.4 L416.7 999.2 L416.4 998.6 L416.1 996.8 L415.8 1000.5 L415.5 996.2 L415.2 997.3 L414.9 999.8 L414.6 1003.7 L414.3 995.2 L414 996.8 L413.7 1000.6 L413.4 997.2 L413.1 1003.4 L412.8 998.6 L412.5 1002.9 L412.2 1002.4 L411.9 998.7 L411.6 995.3 L411.3 1003.5 L411 1003.3 L410.7 997.8 L410.4 999.2 L410.1 1001.2 L409.8 1000.9 L409.5 999.7 L409.2 1002.3 L408.9 1004.8 L408.6 1003.3 L408.3 1000.1 L408 1000.4 L407.7 997.1 L407.4 1001.2 L407.1 1004.6 L406.8 997.1 L406.5 998.3 L406.2 997 L405.9 998.9 L405.6 1000 L405.3 1001.5 L405 1001.7 L404.7 999.1 L404.4 1000.4 L404.1 998.2 L403.8 1001.1 L403.5 1002.8 L403.2 997.3 L402.9 1001.4 L402.6 995 L402.3 999.5 L402 1004.2 L401.7 997 L401.4 997 L401.1 999.8 L400.8 1003.2 L400.5 995.8 L400.2 1000.5 L399.9 995.4 L399.6 997.1 L399.3 996.8 L399 1001.8 L398.7 992.4 L398.4 998.3 L398.1 998.2 L397.8 1005.7 L397.5 1003.2 L397.2 1002.6 L396.9 1003.7 L396.6 1001.5 L396.3 997.8 L396 1000.8 L395.7 1002.3 L395.4 997.2 L395.1 999.9 L394.8 1001.2 L394.5 1003.6 L394.2 1004.9 L393.9 1002.8 L393.6 993.5 L393.3 1003.3 L393 997.2 L392.7 998.5 L392.4 1000.9 L392.1 1000.1 L391.8 999.4 L391.5 998.5 L391.2 1000.3 L390.9 997.9 L390.6 997.7 L390.3 1003.2 L390 999.4 L389.7 999.8 L389.4 995.4 L389.1 996.8 L388.8 996.2 L388.5 995.5 L388.2 1000.2 L387.9 1001.4 L387.6 997.4 L387.3 1001.8 L387 995.7 L386.7 996.1 L386.4 998.6 L386.1 1000.7 L385.8 1002.5 L385.5 1000.3 L385.2 1001.7 L384.9 996.8 L384.6 999.6 L384.3 1001.8 L384 1004.2 L383.7 996.4 L383.4 997.6 L383.1 1000.2 L382.8 1003.1 L382.5 997.1 L382.2 999.3 L381.9 998.8 L381.6 999.2 L381.3 1000.6 L381 998.6 L380.7 999.7 L380.4 994.9 L380.1 997.9 L379.8 999 L379.5 997.2 L379.2 992.9 L378.9 1000 L378.6 999.2 L378.3 996.8 L378 997.5 L377.7 1002.3 L377.4 992.8 L377.1 997 L376.8 996 L376.5 996.2 L376.2 996.7 L375.9 999.3 L375.6 995.9 L375.3 998.5 L375 997.5 L374.7 994.1 L374.4 1006.7 L374.1 1000.2 L373.8 996.3 L373.5 1002.1 L373.2 995.1 L372.9 996.9 L372.6 996.5 L372.3 992.6 L372 997.7 L371.7 1001.1 L371.4 995.2 L371.1 993.7 L370.8 993.4 L370.5 998.9 L370.2 995.4 L369.9 994.4 L369.6 997 L369.3 999.2 L369 992.2 L368.7 997.1 L368.4 995.6 L368.1 994.7 L367.8 996.5 L367.5 993.4 L367.2 1000.2 L366.9 999.7 L366.6 991.6 L366.3 996.7 L366 992.8 L365.7 991.9 L365.4 993.2 L365.1 997.7 L364.8 994 L364.5 999.2 L364.2 995.3 L363.9 999.7 L363.6 996.3 L363.3 998.9 L363 1001.5 L362.7 995.4 L362.4 997.1 L362.1 991.8 L361.8 995 L361.5 990.5 L361.2 997.3 L360.9 993.7 L360.6 995.8 L360.3 992.9 L360 1000.4 L359.7 999.2 L359.4 998.8 L359.1 998.3 L358.8 993.1 L358.5 990.5 L358.2 996.8 L357.9 996.5 L357.6 993.2 L357.3 997.2 L357 993.5 L356.7 995.2 L356.4 1002.8 L356.1 992.8 L355.8 991.3 L355.5 995.3 L355.2 999.1 L354.9 994.9 L354.6 994 L354.3 998.4 L354 991.9 L353.7 992.8 L353.4 990.1 L353.1 989.3 L352.8 988.8 L352.5 997.4 L352.2 992.6 L351.9 994.2 L351.6 994.8 L351.3 990.7 L351 996.6 L350.7 989.4 L350.4 994.3 L350.1 995 L349.8 997.4 L349.5 994.1 L349.2 999.9 L348.9 990.8 L348.6 992 L348.3 997.1 L348 996.9 L347.7 988.6 L347.4 993.3 L347.1 994 L346.8 997.9 L346.5 993.1 L346.2 994.4 L345.9 985.5 L345.6 993.4 L345.3 995.1 L345 995.6 L344.7 990.3 L344.4 993.8 L344.1 991 L343.8 990.3 L343.5 993.3 L343.2 997.4 L342.9 989.6 L342.6 997.9 L342.3 989.5 L342 993.3 L341.7 993 L341.4 989.3 L341.1 988 L340.8 996 L340.5 990.5 L340.2 992.9 L339.9 992.7 L339.6 988.5 L339.3 991.8 L339 993.8 L338.7 996.7 L338.4 995.4 L338.1 994.9 L337.8 993.9 L337.5 995.9 L337.2 993.7 L336.9 997.2 L336.6 988.7 L336.3 991.5 L336 994.5 L335.7 990.9 L335.4 991 L335.1 992.9 L334.8 991.4 L334.5 993.9 L334.2 994.8 L333.9 995.7 L333.6 990.6 L333.3 996.8 L333 993 L332.7 991.6 L332.4 997.5 L332.1 999.9 L331.8 993.5 L331.5 997.7 L331.2 994 L330.9 995.7 L330.6 999.2 L330.3 994.8 L330 995.8 L329.7 993.6 L329.4 993.7 L329.1 991.9 L328.8 991.2 L328.5 995.1 L328.2 993.1 L327.9 997.6 L327.6 992.1 L327.3 995.4 L327 991.3 L326.7 996 L326.4 1001.5 L326.1 993.5 L325.8 997.2 L325.5 997.8 L325.2 998.3 L324.9 991.6 L324.6 990.9 L324.3 994.7 L324 994.3 L323.7 995.4 L323.4 991.8 L323.1 990.9 L322.8 996.5 L322.5 994.5 L322.2 1000.4 L321.9 989.5 L321.6 987.9 L321.3 997.1 L321 995.5 L320.7 991 L320.4 993.2 L320.1 996.3 L319.8 990.7 L319.5 991.3 L319.2 996.5 L318.9 993 L318.6 992.2 L318.3 988.3 L318 993.1 L317.7 994.4 L317.4 992.4 L317.1 993.2 L316.8 991.8 L316.5 993.4 L316.2 993.6 L315.9 994.2 L315.6 989.6 L315.3 998 L315 996.5 L314.7 994.7 L314.4 989 L314.1 993 L313.8 995.2 L313.5 999.1 L313.2 995.5 L312.9 992.3 L312.6 989 L312.3 995.2 L312 994.3 L311.7 991 L311.4 987.1 L311.1 994 L310.8 994.7 L310.5 991.1 L310.2 990 L309.9 996.8 L309.6 992.7 L309.3 992.1 L309 987.8 L308.7 992.4 L308.4 990.8 L308.1 993.5 L307.8 991.5 L307.5 990 L307.2 988.4 L306.9 988 L306.6 990.6 L306.3 991.2 L306 991.4 L305.7 987.1 L305.4 992.3 L305.1 990.8 L304.8 988.1 L304.5 997 L304.2 987 L303.9 991.4 L303.6 996.2 L303.3 994.5 L303 990.9 L302.7 988.5 L302.4 990.2 L302.1 989.9 L301.8 990.4 L301.5 989.2 L301.2 992.3 L300.9 991.3 L300.6 994.1 L300.3 988.4 L300 987.5 L299.7 988.2 L299.4 987.9 L299.1 987.1 L298.8 990.6 L298.5 987 L298.2 991.3 L297.9 990.8 L297.6 988.4 L297.3 989.9 L297 986 L296.7 990.3 L296.4 991 L296.1 989.6 L295.8 990 L295.5 990 L295.2 985.1 L294.9 987 L294.6 993.7 L294.3 990.3 L294 989.7 L293.7 988.4 L293.4 993.3 L293.1 989.8 L292.8 987.3 L292.5 995.1 L292.2 988.7 L291.9 989.4 L291.6 987.3 L291.3 996.8 L291 987.4 L290.7 988.1 L290.4 992.8 L290.1 991.2 L289.8 989.5 L289.5 991.4 L289.2 990.3 L288.9 990.6 L288.6 989.1 L288.3 993.2 L288 995.1 L287.7 986.3 L287.4 987.8 L287.1 992.6 L286.8 988.8 L286.5 993.1 L286.2 994.3 L285.9 992.8 L285.6 988.6 L285.3 991.7 L285 990.9 L284.7 992.4 L284.4 990.5 L284.1 992.3 L283.8 986.7 L283.5 991.7 L283.2 988.6 L282.9 988.9 L282.6 989.5 L282.3 993.1 L282 989.4 L281.7 989.6 L281.4 991.6 L281.1 993.1 L280.8 992.2 L280.5 993.5 L280.2 987 L279.9 982.6 L279.6 988.9 L279.3 992.2 L279 986.2 L278.7 991.4 L278.4 990.2 L278.1 993.4 L277.8 989 L277.5 991.2 L277.2 988.9 L276.9 990.4 L276.6 984.6 L276.3 989.3 L276 989.9 L275.7 992.2 L275.4 992.7 L275.1 990.2 L274.8 992.5 L274.5 993.5 L274.2 986 L273.9 989.7 L273.6 997.6 L273.3 992.4 L273 998.4 L272.7 993.9 L272.4 993.1 L272.1 997.1 L271.8 996.5 L271.5 996 L271.2 995.6 L270.9 995.7 L270.6 990.3 L270.3 1001.1 L270 1000.5 L269.7 997.6 L269.4 998.4 L269.1 998.2 L268.8 999.9 L268.5 1000 L268.2 1000.2 L267.9 1002.3 L267.6 999 L267.3 999 L267 998.9 L266.7 1007.3 L266.4 1000.6 L266.1 1000.3 L265.8 1003.3 L265.5 1004.3 L265.2 1005.5 L264.9 1008.7 L264.6 1007.3 L264.3 1002.3 L264 1005.2 L263.7 1004 L263.4 1005.2 L263.1 1006.1 L262.8 1005.4 L262.5 1005.5 L262.2 1006.8 L261.9 1009 L261.6 1010.2 L261.3 1007.4 L261 1010.1 L260.7 1014.8 L260.4 1016 L260.1 1006.8 L259.8 1017.5 L259.5 1011.4 L259.2 1018.1 L258.9 1014.3 L258.6 1018.9 L258.3 1021.6 L258 1020.2 L257.7 1017.8 L257.4 1025.8 L257.1 1018.6 L256.8 1025.5 L256.5 1024.9 L256.2 1024 L255.9 1028.3 L255.6 1027.4 L255.3 1025.3 L255 1025.3 L254.7 1034.1 L254.4 1026.4 L254.1 1032.9 L253.8 1030 L253.5 1031.5 L253.2 1030.9 L252.9 1035.2 L252.6 1036.3 L252.3 1038.4 L252 1044 L251.7 1038.7 L251.4 1041.4 L251.1 1034.7 L250.8 1033.9 L250.5 1034.9 L250.2 1037.5 L249.9 1037.1 L249.6 1041 L249.3 1034.3 L249 1032.8Z" fill="#5a87d5" stroke="#5a87d5" stroke-width="0.6" stroke-linejoin="round"/>
<path d="M495.8 986V959.1M286.1 962.3V938.2M440.7 971.1V899.2M425.1 965.5V928.8M443.5 973.2V921.9M286.4 962.4V940.7M421.8 965.3V949M433 965.9V927.8M297.3 963.7V945M386.1 964V948.5M423 965.4V886.9M275.3 961V935.1M488 986V953.3M435.6 967.2V937.9M497.9 986V957.4M379.2 964V940.7M457.1 981.1V948.6M281.4 961.8V931.1M319.5 971.1V939M263.2 977.3V944M337.2 970.4V934.1M408.2 964.6V897.5M530.7 989.5V974.9M366.6 964.9V944.8M422.8 965.4V951.8M353 968.3V914.8M456.9 981.1V947.7M437.2 968.4V953.1M399.8 964.1V932.5M321.6 971.8V953.8M402.6 964.3V938.3M445.6 974.9V948.9M478.3 986V913.4M336 970.5V939.7M431.3 965.9V937.5M262 979V925.1M516.6 987.3V964.1M386.7 964V946.1M351.9 968.5V952.5M376.2 964V929.8M354.8 967.8V937.6M507.2 986V964.6M495.5 986V943.4M284.9 962.2V918.1M341.8 969.9V939M294 963.3V906.3M518.3 987.6V960.2M449.4 977.7V930.2M331.7 971V953.6M432.8 965.9V932.8M340.7 970V901.6M257.2 991V968.4M422.6 965.4V948.8M511.2 986.5V957.9M273.8 962.7V929.3M349.1 969.1V949.9M331.5 971V937.4M536.7 990.4V977M277.8 961.3V935.3M415.9 965V936.9M484.7 986V971.6M500.7 986V962.6M498 986V969.5M443.3 973.1V961M282.7 961.9V936.5M291.2 962.9V937.7M394.5 964V935.7M287.4 962.5V942.9M419.3 965.2V941.1M292 963V940.5M486.5 986V958M423 965.4V935.8M453.8 980V947M334.5 970.7V936.1M415.4 965V947.8M436.1 967.6V939.3M302.8 965V945.5M454.1 980.1V952.4M320.7 971.5V942.2M492.4 986V955.2M488.9 986V963.2M270.5 967.2V943.1M520.4 987.9V956.9M306 966.2V883.4M479.4 986V956.9M259.9 984.2V969.3M409.8 964.7V933.5M274.7 961.4V915.4M362.1 966V950.6M480.7 986V957.6M359.7 966.6V915.9M498.4 986V956.9M393.7 964V934.3M540.5 991V943.2M257.6 990.1V932.8M301.4 964.5V917.8M393.3 964V940.8M540.7 991V966.7M346.2 969.4V936.7M446 975.2V946.1M271.5 965.9V940.1M473.7 986V964.1M291.3 963V920.8M538.8 990.7V977.2M476.4 986V961.8M505.6 986V956.9M475.4 986V952.4M361.3 966.2V949M375.1 964V945.9M261.3 980.7V928.8M364.5 965.4V943.5M337.8 970.3V935.8M365.2 965.2V941.5M506.7 986V939.3M435.6 967.2V950.2M529.2 989.3V968.4M328.9 971.3V938.4M357.5 967.1V912.9M484.6 986V964.2M346.2 969.4V938.3M355.7 967.6V922.2M311.3 968.1V934.7M311.6 968.2V934.7M338.8 970.2V955.1M333.8 970.7V917.6M335.7 970.5V931.9M356.1 967.5V946.1M373.9 964V909.1M358.8 966.8V935.7M527.5 989V963.6M427.5 965.6V910.8M294.4 963.3V931.3M544.8 991.7V960.3M334.9 970.6V945.3M368.2 964.5V943.2M351.6 968.6V954.6M299.6 963.9V935.5M385.7 964V933.6M423 965.4V935.4M466 984.2V956.1M462.9 983.2V966.1M294 963.3V911.7M394 964V937M360.2 966.4V946.4M321.9 971.9V932.8M297.5 963.7V944.6M464.8 983.8V952.3M497.9 986V965.1M403.3 964.3V946.5M359.1 966.7V930.8M517.1 987.4V961.5M376.9 964V936.4M334.9 970.6V957.8M473.2 986V962.3M482.4 986V958.3M275.5 961.1V933.7M406.8 964.5V951.3M378.3 964V933.9M512.9 986.7V965.6M507.7 986V957.7M530.8 989.5V956.1M402.5 964.3V946.1M346.7 969.4V921.7M537.8 990.6V976.9M376.4 964V933.4M277.3 961.3V937.5M495.5 986V956.1M350.9 968.8V938.5M319.6 971.1V946.8M460.4 982.3V962.1" fill="none" stroke="#5a87d5" stroke-width="1"/>
<path d="M239.8 1000V986.1M237.8 1000V986.9M227.7 1000V978M236.7 1000V977.5M235 1000V975.2M233.6 1000V984.6M238.4 1000V980.5M235 1000V980.8M238.4 1000V987.7M230.2 1000V979.5" fill="none" stroke="#5a87d5" stroke-width="1"/>
<line x1="225" y1="1014" x2="548" y2="1014" stroke="#444" stroke-width="1.4" stroke-dasharray="5 3.5"/>
<line x1="246.4" y1="621.5" x2="248.5" y2="1041" stroke="#111" stroke-width="1.4" stroke-dasharray="5 3"/>
<line x1="210" y1="793" x2="210" y2="830" stroke="#000" stroke-width="1.5"/>
<text x="155" y="821.5" font-size="23">z=2</text>
<line x1="282" y1="1032" x2="349" y2="1032" stroke="#000" stroke-width="1.6"/>
<text x="315" y="1067.5" font-size="24" text-anchor="middle">30 min</text>
<line x1="598" y1="781.7" x2="632.5" y2="781.7" stroke="#111" stroke-width="3"/>
<line x1="598" y1="819" x2="632.5" y2="819" stroke="#dba03c" stroke-width="3"/>
<line x1="598" y1="858" x2="632.5" y2="858" stroke="#4f80d3" stroke-width="3"/>
<text x="684.5" y="790.5" font-size="24" text-anchor="middle">Control</text>
<text x="685.5" y="828" font-size="24" text-anchor="middle">hM3Dq</text>
<text x="684.5" y="867" font-size="24" text-anchor="middle">hM4Di</text>
</g>
<g id="panel_e">
<text x="810" y="554" font-size="34" font-weight="bold">e</text>
<line x1="1072" y1="549.6" x2="1103" y2="549.6" stroke="#222" stroke-width="1.2"/>
<circle cx="1087.6" cy="549.6" r="8.4" fill="#fff" stroke="#1a1a1a" stroke-width="1.9"/>
<line x1="1072" y1="585.4" x2="1103" y2="585.4" stroke="#222" stroke-width="1.2"/>
<circle cx="1087.6" cy="585.4" r="8.4" fill="#e3a63f" stroke="#1a1a1a" stroke-width="1.9"/>
<line x1="1072" y1="623.8" x2="1103" y2="623.8" stroke="#222" stroke-width="1.2"/>
<circle cx="1087.6" cy="623.8" r="8.4" fill="#88c6ee" stroke="#1a1a1a" stroke-width="1.9"/>
<text x="1151" y="558.3" font-size="24" text-anchor="middle">Control</text>
<text x="1152" y="594" font-size="24" text-anchor="middle">hM3Dq</text>
<text x="1150.6" y="632.4" font-size="24" text-anchor="middle">hM4Di</text>
<line x1="905" y1="671.8" x2="905" y2="958.9" stroke="#000" stroke-width="1.7"/>
<line x1="904.1" y1="958" x2="1192" y2="958" stroke="#000" stroke-width="1.7"/>
<line x1="898" y1="925" x2="905" y2="925" stroke="#000" stroke-width="1.7"/>
<text x="893.5" y="933.6" font-size="24" text-anchor="end">0</text>
<line x1="898" y1="840.6" x2="905" y2="840.6" stroke="#000" stroke-width="1.7"/>
<text x="893.5" y="849.2" font-size="24" text-anchor="end">20</text>
<line x1="898" y1="756.2" x2="905" y2="756.2" stroke="#000" stroke-width="1.7"/>
<text x="893.5" y="764.8" font-size="24" text-anchor="end">40</text>
<line x1="898" y1="671.8" x2="905" y2="671.8" stroke="#000" stroke-width="1.7"/>
<text x="893.5" y="680.4" font-size="24" text-anchor="end">60</text>
<line x1="940" y1="958" x2="940" y2="965" stroke="#000" stroke-width="1.7"/>
<text x="943" y="1000" font-size="24" text-anchor="middle">0</text>
<line x1="1047.5" y1="958" x2="1047.5" y2="965" stroke="#000" stroke-width="1.7"/>
<text x="1047.5" y="1000" font-size="24" text-anchor="middle">60</text>
<line x1="1155" y1="958" x2="1155" y2="965" stroke="#000" stroke-width="1.7"/>
<text x="1155" y="1000" font-size="24" text-anchor="middle">120</text>
<text x="1058" y="1038" font-size="24" text-anchor="middle">Time post-CNO (min)</text>
<text x="854" y="815" font-size="24" text-anchor="middle" transform="rotate(-90 854 815)">AUC (a.u.)</text>
<line x1="940" y1="670" x2="940" y2="965" stroke="#111" stroke-width="1.5" stroke-dasharray="4 3"/>
<line x1="905" y1="925" x2="1192" y2="925" stroke="#111" stroke-width="1.5" stroke-dasharray="4 3"/>
<polyline points="940,925 993.8,937.7 1047.5,937.7 1101.2,929.2 1155,925" fill="none" stroke="#c8c8c8" stroke-width="1" stroke-linejoin="round"/>
<polyline points="940,925 993.8,946.1 1047.5,941.9 1101.2,933.4 1155,941.9" fill="none" stroke="#c8c8c8" stroke-width="1" stroke-linejoin="round"/>
<polyline points="940,925 993.8,954.5 1047.5,950.3 1101.2,941.9 1155,954.5" fill="none" stroke="#c8c8c8" stroke-width="1" stroke-linejoin="round"/>
<polyline points="940,925 993.8,929.2 1047.5,933.4 1101.2,916.6 1155,916.6" fill="none" stroke="#c8c8c8" stroke-width="1" stroke-linejoin="round"/>
<polyline points="940,925 993.8,941.9 1047.5,929.2 1101.2,929.2 1155,929.2" fill="none" stroke="#c8c8c8" stroke-width="1" stroke-linejoin="round"/>
<polyline points="940,925 993.8,933.4 1047.5,946.1 1101.2,937.7 1155,933.4" fill="none" stroke="#c8c8c8" stroke-width="1" stroke-linejoin="round"/>
<polyline points="940,925 993.8,950.3 1047.5,937.7 1101.2,925 1155,920.8" fill="none" stroke="#c8c8c8" stroke-width="1" stroke-linejoin="round"/>
<polyline points="940,925 993.8,802.6 1047.5,861.7 1101.2,874.4 1155,861.7" fill="none" stroke="#a9d6f2" stroke-width="1" stroke-linejoin="round"/>
<polyline points="940,925 993.8,823.7 1047.5,870.1 1101.2,882.8 1155,870.1" fill="none" stroke="#a9d6f2" stroke-width="1" stroke-linejoin="round"/>
<polyline points="940,925 993.8,836.4 1047.5,878.6 1101.2,882.8 1155,857.5" fill="none" stroke="#a9d6f2" stroke-width="1" stroke-linejoin="round"/>
<polyline points="940,925 993.8,874.4 1047.5,891.2 1101.2,895.5 1155,874.4" fill="none" stroke="#a9d6f2" stroke-width="1" stroke-linejoin="round"/>
<polyline points="940,925 993.8,903.9 1047.5,916.6 1101.2,920.8 1155,916.6" fill="none" stroke="#a9d6f2" stroke-width="1" stroke-linejoin="round"/>
<polyline points="940,925 993.8,811.1 1047.5,857.5 1101.2,874.4 1155,849" fill="none" stroke="#a9d6f2" stroke-width="1" stroke-linejoin="round"/>
<polyline points="940,925 993.8,697.1 1047.5,827.9 1101.2,857.5 1155,764.6" fill="none" stroke="#e6c98c" stroke-width="1" stroke-linejoin="round"/>
<polyline points="940,925 993.8,768.9 1047.5,836.4 1101.2,865.9 1155,827.9" fill="none" stroke="#e6c98c" stroke-width="1" stroke-linejoin="round"/>
<polyline points="940,925 993.8,815.3 1047.5,874.4 1101.2,882.8 1155,849" fill="none" stroke="#e6c98c" stroke-width="1" stroke-linejoin="round"/>
<polyline points="940,925 993.8,865.9 1047.5,899.7 1101.2,899.7 1155,882.8" fill="none" stroke="#e6c98c" stroke-width="1" stroke-linejoin="round"/>
<polyline points="940,925 993.8,794.2 1047.5,865.9 1101.2,874.4 1155,815.3" fill="none" stroke="#e6c98c" stroke-width="1" stroke-linejoin="round"/>
<line x1="993.8" y1="757" x2="993.8" y2="814.4" stroke="#000" stroke-width="1.5"/>
<line x1="990.2" y1="757" x2="997.2" y2="757" stroke="#000" stroke-width="1.5"/>
<line x1="990.2" y1="814.4" x2="997.2" y2="814.4" stroke="#000" stroke-width="1.5"/>
<line x1="1047.5" y1="844.8" x2="1047.5" y2="870.1" stroke="#000" stroke-width="1.5"/>
<line x1="1044" y1="844.8" x2="1051" y2="844.8" stroke="#000" stroke-width="1.5"/>
<line x1="1044" y1="870.1" x2="1051" y2="870.1" stroke="#000" stroke-width="1.5"/>
<line x1="1101.2" y1="860.9" x2="1101.2" y2="879.4" stroke="#000" stroke-width="1.5"/>
<line x1="1097.8" y1="860.9" x2="1104.8" y2="860.9" stroke="#000" stroke-width="1.5"/>
<line x1="1097.8" y1="879.4" x2="1104.8" y2="879.4" stroke="#000" stroke-width="1.5"/>
<line x1="1155" y1="807.3" x2="1155" y2="846.9" stroke="#000" stroke-width="1.5"/>
<line x1="1151.5" y1="807.3" x2="1158.5" y2="807.3" stroke="#000" stroke-width="1.5"/>
<line x1="1151.5" y1="846.9" x2="1158.5" y2="846.9" stroke="#000" stroke-width="1.5"/>
<line x1="993.8" y1="822" x2="993.8" y2="860.9" stroke="#000" stroke-width="1.5"/>
<line x1="990.2" y1="822" x2="997.2" y2="822" stroke="#000" stroke-width="1.5"/>
<line x1="990.2" y1="860.9" x2="997.2" y2="860.9" stroke="#000" stroke-width="1.5"/>
<line x1="1047.5" y1="871" x2="1047.5" y2="890.4" stroke="#000" stroke-width="1.5"/>
<line x1="1044" y1="871" x2="1051" y2="871" stroke="#000" stroke-width="1.5"/>
<line x1="1044" y1="890.4" x2="1051" y2="890.4" stroke="#000" stroke-width="1.5"/>
<line x1="1101.2" y1="879.8" x2="1101.2" y2="898.4" stroke="#000" stroke-width="1.5"/>
<line x1="1097.8" y1="879.8" x2="1104.8" y2="879.8" stroke="#000" stroke-width="1.5"/>
<line x1="1097.8" y1="898.4" x2="1104.8" y2="898.4" stroke="#000" stroke-width="1.5"/>
<line x1="1155" y1="854.9" x2="1155" y2="885.3" stroke="#000" stroke-width="1.5"/>
<line x1="1151.5" y1="854.9" x2="1158.5" y2="854.9" stroke="#000" stroke-width="1.5"/>
<line x1="1151.5" y1="885.3" x2="1158.5" y2="885.3" stroke="#000" stroke-width="1.5"/>
<polyline points="940,925 993.8,936 1047.5,933.4 1101.2,928.8 1155,929.2" fill="none" stroke="#1a1a1a" stroke-width="1.7" stroke-linejoin="round"/>
<polyline points="940,925 993.8,841.4 1047.5,880.7 1101.2,889.1 1155,870.1" fill="none" stroke="#1a1a1a" stroke-width="1.7" stroke-linejoin="round"/>
<polyline points="940,925 993.8,785.7 1047.5,857.5 1101.2,870.1 1155,827.1" fill="none" stroke="#1a1a1a" stroke-width="1.7" stroke-linejoin="round"/>
<circle cx="993.8" cy="936" r="7.9" fill="#fff" stroke="#1a1a1a" stroke-width="1.9"/>
<circle cx="1047.5" cy="933.4" r="7.9" fill="#fff" stroke="#1a1a1a" stroke-width="1.9"/>
<circle cx="1101.2" cy="928.8" r="7.9" fill="#fff" stroke="#1a1a1a" stroke-width="1.9"/>
<circle cx="1155" cy="929.2" r="7.9" fill="#fff" stroke="#1a1a1a" stroke-width="1.9"/>
<circle cx="993.8" cy="841.4" r="7.9" fill="#88c6ee" stroke="#1a1a1a" stroke-width="1.9"/>
<circle cx="1047.5" cy="880.7" r="7.9" fill="#88c6ee" stroke="#1a1a1a" stroke-width="1.9"/>
<circle cx="1101.2" cy="889.1" r="7.9" fill="#88c6ee" stroke="#1a1a1a" stroke-width="1.9"/>
<circle cx="1155" cy="870.1" r="7.9" fill="#88c6ee" stroke="#1a1a1a" stroke-width="1.9"/>
<circle cx="993.8" cy="785.7" r="7.9" fill="#e3a63f" stroke="#1a1a1a" stroke-width="1.9"/>
<circle cx="1047.5" cy="857.5" r="7.9" fill="#e3a63f" stroke="#1a1a1a" stroke-width="1.9"/>
<circle cx="1101.2" cy="870.1" r="7.9" fill="#e3a63f" stroke="#1a1a1a" stroke-width="1.9"/>
<circle cx="1155" cy="827.1" r="7.9" fill="#e3a63f" stroke="#1a1a1a" stroke-width="1.9"/>
<circle cx="940" cy="925" r="7.9" fill="#fff" stroke="#1a1a1a" stroke-width="1.9"/>
<text x="993.8" y="752.7" font-size="34" text-anchor="middle" font-weight="bold">*</text>
<text x="993.8" y="887.6" font-size="26" text-anchor="middle" font-weight="bold">#</text>
<text x="1047.5" y="839" font-size="34" text-anchor="middle" font-weight="bold">*</text>
<text x="1047.5" y="916" font-size="26" text-anchor="middle" font-weight="bold">#</text>
<text x="1101.2" y="857.7" font-size="34" text-anchor="middle" font-weight="bold">*</text>
<text x="1101.2" y="921.7" font-size="26" text-anchor="middle" font-weight="bold">#</text>
<text x="1155" y="805" font-size="34" text-anchor="middle" font-weight="bold">*</text>
<text x="1155" y="910" font-size="26" text-anchor="middle" font-weight="bold">#</text>
</g>
<g id="panel_f">
<text x="1320" y="552.5" font-size="34" font-weight="bold">f</text>
<line x1="1595.7" y1="549.7" x2="1626.3" y2="549.7" stroke="#333" stroke-width="1.4"/>
<circle cx="1611" cy="549.7" r="1.8" fill="#333" stroke="#333" stroke-width="0.5"/>
<line x1="1595.7" y1="587" x2="1626.3" y2="587" stroke="#dba03c" stroke-width="1.4"/>
<circle cx="1611" cy="587" r="1.8" fill="#dba03c" stroke="#dba03c" stroke-width="0.5"/>
<line x1="1595.7" y1="624" x2="1626.3" y2="624" stroke="#7fbfe8" stroke-width="1.4"/>
<circle cx="1611" cy="624" r="1.8" fill="#7fbfe8" stroke="#7fbfe8" stroke-width="0.5"/>
<text x="1644.5" y="559" font-size="24">Control</text>
<text x="1644.5" y="596" font-size="24">hM3Dq</text>
<text x="1644.5" y="633" font-size="24">hM4Di</text>
<line x1="1440" y1="671.7" x2="1440" y2="959.6" stroke="#000" stroke-width="1.7"/>
<line x1="1432" y1="958.8" x2="1725.6" y2="958.8" stroke="#000" stroke-width="1.7"/>
<line x1="1432" y1="958.8" x2="1440" y2="958.8" stroke="#000" stroke-width="1.7"/>
<text x="1426.5" y="967.4" font-size="24" text-anchor="end">0</text>
<line x1="1432" y1="870.8" x2="1440" y2="870.8" stroke="#000" stroke-width="1.7"/>
<text x="1426.5" y="879.4" font-size="24" text-anchor="end">200</text>
<line x1="1432" y1="782.7" x2="1440" y2="782.7" stroke="#000" stroke-width="1.7"/>
<text x="1426.5" y="791.3" font-size="24" text-anchor="end">400</text>
<line x1="1432" y1="694.7" x2="1440" y2="694.7" stroke="#000" stroke-width="1.7"/>
<text x="1426.5" y="703.3" font-size="24" text-anchor="end">600</text>
<line x1="1461" y1="958.8" x2="1461" y2="965.8" stroke="#000" stroke-width="1.7"/>
<text x="1463.5" y="991" font-size="24" text-anchor="middle">0</text>
<line x1="1592.6" y1="958.8" x2="1592.6" y2="965.8" stroke="#000" stroke-width="1.7"/>
<text x="1592.6" y="991" font-size="24" text-anchor="middle">60</text>
<line x1="1724.2" y1="958.8" x2="1724.2" y2="965.8" stroke="#000" stroke-width="1.7"/>
<text x="1724.2" y="991" font-size="24" text-anchor="middle">120</text>
<text x="1601.5" y="1029.6" font-size="24" text-anchor="middle">Time post-CNO (min)</text>
<text x="1375" y="815" font-size="24" text-anchor="middle" transform="rotate(-90 1375 815)">Cumulative Ca<tspan dy="-9" font-size="16">2+</tspan><tspan dy="9"> events</tspan></text>
<line x1="1461" y1="667" x2="1461" y2="958.8" stroke="#111" stroke-width="1.5" stroke-dasharray="4 3"/>
<polyline points="1439.9,958.7 1442.1,956.9 1444.3,954.6 1446.5,952.5 1448.7,950.2 1450.9,948.4 1453.1,946.9 1455.3,944.5 1457.5,942.7 1459.7,940.3 1461.9,938.1 1464.1,935.6 1466.3,932.4 1468.5,931.1 1470.7,928.6 1472.8,926.2 1475,923 1477.2,920.7 1479.4,918.7 1481.6,916.6 1483.8,914.6 1486,912.2 1488.2,910.2 1490.4,907.4 1492.6,905.6 1494.8,903.3 1497,900.7 1499.2,899.4 1501.4,896.7 1503.6,894.7 1505.7,891.7 1507.9,889.4 1510.1,887.4 1512.3,885.2 1514.5,883.3 1516.7,880.9 1518.9,878.4 1521.1,876 1523.3,873.9 1525.5,872.4 1527.7,869.4 1529.9,867.6 1532.1,865.5 1534.3,862.5 1536.5,860.9 1538.6,859.2 1540.8,855.7 1543,854.2 1545.2,852.1 1547.4,849.6 1549.6,847.9 1551.8,845.5 1554,842.8 1556.2,841.5 1558.4,839.2 1560.6,837.2 1562.8,835.2 1565,832.6 1567.2,830.3 1569.4,827.6 1571.6,826.1 1573.7,823.5 1575.9,821.4 1578.1,818.9 1580.3,816.8 1582.5,814.8 1584.7,813.4 1586.9,809.9 1589.1,807.9 1591.3,806.5 1593.5,804.8 1595.7,802.3 1597.9,799.1 1600.1,796.7 1602.3,795.7 1604.5,793.1 1606.6,790.8 1608.8,789.5 1611,787.3 1613.2,784.8 1615.4,782.7 1617.6,780.6 1619.8,778.9 1622,776.4 1624.2,774.2 1626.4,772 1628.6,769.1 1630.8,768 1633,765.8 1635.2,763.4 1637.4,760.3 1639.6,758.7 1641.7,757.1 1643.9,753.9 1646.1,752.4 1648.3,750.8 1650.5,747.7 1652.7,746.7 1654.9,744.2 1657.1,741.7 1659.3,739.8 1661.5,737.8 1663.7,735.4 1665.9,733.7 1668.1,730.8 1670.3,728.8 1672.5,727.3 1674.6,724.7 1676.8,722.2 1679,720.8 1681.2,718.9 1683.4,716 1685.6,713.5 1687.8,711.9 1690,709.7 1692.2,707.5 1694.4,706.1 1696.6,703 1698.8,701.8 1701,698.6 1703.2,696.7 1705.4,695.1 1707.5,693.2 1709.7,691 1711.9,688.7 1714.1,686.4 1716.3,684.3 1718.5,682.4 1720.7,680 1722.9,678" fill="none" stroke="#8ccbef" stroke-width="1" stroke-linejoin="round"/>
<polyline points="1439.9,959 1442.1,957 1444.3,955.4 1446.5,953.5 1448.7,952.3 1450.9,949.8 1453.1,947.6 1455.3,945.8 1457.5,944.1 1459.7,942.7 1461.9,940.1 1464.1,938.2 1466.3,936.6 1468.5,932.7 1470.7,931.2 1472.8,929.7 1475,927.6 1477.2,925.5 1479.4,923.2 1481.6,921.5 1483.8,919.3 1486,917 1488.2,916.1 1490.4,913.2 1492.6,910.9 1494.8,909 1497,906.9 1499.2,905 1501.4,901.9 1503.6,900.8 1505.7,899.4 1507.9,896.5 1510.1,894.9 1512.3,893.3 1514.5,891.3 1516.7,889.6 1518.9,886.3 1521.1,884.8 1523.3,882.9 1525.5,881.3 1527.7,879.5 1529.9,876 1532.1,875.5 1534.3,872.5 1536.5,871.4 1538.6,868.5 1540.8,867.2 1543,865.7 1545.2,863.1 1547.4,861.3 1549.6,859.6 1551.8,857.4 1554,855.3 1556.2,854 1558.4,851.8 1560.6,849.3 1562.8,848.6 1565,845.1 1567.2,843.9 1569.4,841.5 1571.6,839.7 1573.7,838 1575.9,835.9 1578.1,834.1 1580.3,831.3 1582.5,829.3 1584.7,828.2 1586.9,825.6 1589.1,823.7 1591.3,821.5 1593.5,820.7 1595.7,818.5 1597.9,816.9 1600.1,814 1602.3,812.4 1604.5,810 1606.6,808.9 1608.8,807.2 1611,804.3 1613.2,803.4 1615.4,801.2 1617.6,798.8 1619.8,796.1 1622,795.6 1624.2,793 1626.4,790.9 1628.6,789.4 1630.8,787.4 1633,785.9 1635.2,783 1637.4,781.9 1639.6,780.2 1641.7,778.2 1643.9,775.6 1646.1,773.5 1648.3,772.3 1650.5,770 1652.7,768.1 1654.9,766.7 1657.1,764.1 1659.3,761.3 1661.5,760.2 1663.7,757.7 1665.9,756.8 1668.1,754.7 1670.3,752.4 1672.5,750.8 1674.6,749.2 1676.8,747 1679,745.5 1681.2,743.1 1683.4,741.6 1685.6,739.9 1687.8,738 1690,735.2 1692.2,733.9 1694.4,730.9 1696.6,729.3 1698.8,727 1701,726.3 1703.2,723.5 1705.4,722.1 1707.5,720.1 1709.7,718.2 1711.9,716.1 1714.1,714.5 1716.3,713.3 1718.5,710.7 1720.7,708.9 1722.9,707.2" fill="none" stroke="#8ccbef" stroke-width="1" stroke-linejoin="round"/>
<polyline points="1439.9,958.7 1442.1,956.9 1444.3,955.8 1446.5,955.1 1448.7,952.6 1450.9,951.7 1453.1,950.9 1455.3,949.5 1457.5,947.8 1459.7,946.7 1461.9,945.1 1464.1,943.2 1466.3,941.8 1468.5,940.9 1470.7,940.2 1472.8,938.4 1475,937 1477.2,935.8 1479.4,934.2 1481.6,933.6 1483.8,931.9 1486,931.3 1488.2,929 1490.4,928.8 1492.6,927.2 1494.8,925.5 1497,925.3 1499.2,923.7 1501.4,921.7 1503.6,921 1505.7,920.3 1507.9,918.8 1510.1,918.1 1512.3,916.9 1514.5,915.6 1516.7,914.3 1518.9,913.5 1521.1,912 1523.3,910.7 1525.5,908.5 1527.7,908.5 1529.9,907.5 1532.1,905.7 1534.3,904.4 1536.5,904.2 1538.6,901.5 1540.8,901.2 1543,900.8 1545.2,898.3 1547.4,897.7 1549.6,897 1551.8,895.1 1554,894.1 1556.2,893.1 1558.4,891.2 1560.6,890.3 1562.8,889.3 1565,888.4 1567.2,886.8 1569.4,885.6 1571.6,884.1 1573.7,883.2 1575.9,882.5 1578.1,881 1580.3,879.5 1582.5,878.3 1584.7,878.5 1586.9,876.7 1589.1,875.4 1591.3,872.9 1593.5,873 1595.7,871.8 1597.9,871.1 1600.1,869.4 1602.3,868.1 1604.5,867.1 1606.6,865 1608.8,865 1611,863.6 1613.2,862 1615.4,861.6 1617.6,860.7 1619.8,858.2 1622,857.3 1624.2,856.6 1626.4,855.4 1628.6,854 1630.8,852.6 1633,852.6 1635.2,851.1 1637.4,849 1639.6,847.8 1641.7,847.8 1643.9,846.4 1646.1,845.6 1648.3,844 1650.5,842.2 1652.7,841.5 1654.9,839.3 1657.1,838.8 1659.3,837.9 1661.5,837 1663.7,835.3 1665.9,834.4 1668.1,833.5 1670.3,832.3 1672.5,831.2 1674.6,829.9 1676.8,828.5 1679,827.8 1681.2,826.4 1683.4,824.9 1685.6,823.8 1687.8,822.9 1690,821.7 1692.2,820.7 1694.4,819.5 1696.6,818.4 1698.8,817.1 1701,815.5 1703.2,815 1705.4,814.1 1707.5,812.7 1709.7,811.3 1711.9,810.4 1714.1,808.7 1716.3,807.2 1718.5,806.9 1720.7,805.3 1722.9,804.8" fill="none" stroke="#8ccbef" stroke-width="1" stroke-linejoin="round"/>
<polyline points="1439.9,958.4 1442.1,956.5 1444.3,955.8 1446.5,955.6 1448.7,953.5 1450.9,951.8 1453.1,950.8 1455.3,950 1457.5,948.7 1459.7,947.3 1461.9,946.5 1464.1,944.9 1466.3,943.3 1468.5,942.3 1470.7,941.5 1472.8,940 1475,938.8 1477.2,936.7 1479.4,935.8 1481.6,935 1483.8,933.3 1486,932.7 1488.2,931.3 1490.4,930.2 1492.6,928.5 1494.8,928.4 1497,926.7 1499.2,924.9 1501.4,923.9 1503.6,923.7 1505.7,921.3 1507.9,920.6 1510.1,919.5 1512.3,917.9 1514.5,916.2 1516.7,915.6 1518.9,914.5 1521.1,913.6 1523.3,912.3 1525.5,910.8 1527.7,910 1529.9,908.7 1532.1,907.4 1534.3,906.1 1536.5,904.8 1538.6,904 1540.8,902.2 1543,901.2 1545.2,900.3 1547.4,898.5 1549.6,897.8 1551.8,896 1554,895.3 1556.2,894.7 1558.4,893.5 1560.6,892.1 1562.8,890.9 1565,889.2 1567.2,889.4 1569.4,887.7 1571.6,886.8 1573.7,884.8 1575.9,883.9 1578.1,882.1 1580.3,882 1582.5,880.9 1584.7,878.6 1586.9,878.2 1589.1,877.3 1591.3,875.2 1593.5,874 1595.7,873.2 1597.9,872.2 1600.1,870.8 1602.3,870.2 1604.5,869.1 1606.6,868.1 1608.8,867 1611,866.2 1613.2,864.9 1615.4,862.8 1617.6,861.9 1619.8,860.6 1622,859.4 1624.2,858.7 1626.4,857.6 1628.6,856.6 1630.8,854.6 1633,853.6 1635.2,853 1637.4,851.8 1639.6,850.6 1641.7,849.5 1643.9,848.1 1646.1,847.6 1648.3,846.3 1650.5,845 1652.7,843.6 1654.9,842.7 1657.1,840.5 1659.3,840.1 1661.5,839.3 1663.7,837.6 1665.9,837.1 1668.1,836 1670.3,834.2 1672.5,833.5 1674.6,832.4 1676.8,831.5 1679,830.5 1681.2,829.1 1683.4,827.6 1685.6,826.8 1687.8,825.7 1690,824.9 1692.2,823.5 1694.4,822 1696.6,820.6 1698.8,819.9 1701,818.6 1703.2,817.3 1705.4,816.6 1707.5,815.3 1709.7,814.4 1711.9,813.5 1714.1,812 1716.3,811.9 1718.5,809.7 1720.7,809.2 1722.9,807.7" fill="none" stroke="#8ccbef" stroke-width="1" stroke-linejoin="round"/>
<polyline points="1439.9,959.2 1442.1,956.5 1444.3,955.7 1446.5,954.8 1448.7,953.5 1450.9,952.9 1453.1,950.7 1455.3,949.7 1457.5,948.1 1459.7,946.8 1461.9,945.1 1464.1,943.1 1466.3,941.7 1468.5,939.4 1470.7,938.7 1472.8,936.2 1475,935.1 1477.2,934.3 1479.4,931.8 1481.6,930.4 1483.8,929.4 1486,927.4 1488.2,925.7 1490.4,924.7 1492.6,923.4 1494.8,922 1497,920.1 1499.2,919.7 1501.4,918.3 1503.6,916.4 1505.7,915.2 1507.9,913.6 1510.1,913.1 1512.3,911 1514.5,910.3 1516.7,908.6 1518.9,907.4 1521.1,906.8 1523.3,905.8 1525.5,904.2 1527.7,902.8 1529.9,902.3 1532.1,900.8 1534.3,899.9 1536.5,899.3 1538.6,898.1 1540.8,896.4 1543,896.5 1545.2,894.6 1547.4,893.9 1549.6,892.4 1551.8,891.6 1554,890 1556.2,890.5 1558.4,889.4 1560.6,887.5 1562.8,886.4 1565,885.5 1567.2,885.8 1569.4,884.3 1571.6,883.6 1573.7,882.6 1575.9,881.9 1578.1,880.7 1580.3,880.3 1582.5,879 1584.7,878.7 1586.9,878.1 1589.1,877.4 1591.3,876.4 1593.5,875.4 1595.7,875.1 1597.9,874.1 1600.1,874.3 1602.3,873.2 1604.5,872.2 1606.6,871.4 1608.8,870.6 1611,869.9 1613.2,869.5 1615.4,869.1 1617.6,868.6 1619.8,868 1622,868 1624.2,866.2 1626.4,865.9 1628.6,866.5 1630.8,864 1633,864 1635.2,863.7 1637.4,863.2 1639.6,862.7 1641.7,861.9 1643.9,861.6 1646.1,861 1648.3,860.8 1650.5,859.2 1652.7,859.1 1654.9,859 1657.1,858.1 1659.3,857.6 1661.5,857.8 1663.7,856.8 1665.9,856.9 1668.1,856.5 1670.3,855.8 1672.5,855.5 1674.6,854.8 1676.8,853.8 1679,854 1681.2,853.8 1683.4,853 1685.6,852.7 1687.8,852.7 1690,851.6 1692.2,851.9 1694.4,852 1696.6,850.6 1698.8,850.5 1701,850 1703.2,850.4 1705.4,849.5 1707.5,849.4 1709.7,848.4 1711.9,848.4 1714.1,848 1716.3,847 1718.5,847.9 1720.7,847.4 1722.9,846" fill="none" stroke="#888" stroke-width="1" stroke-linejoin="round"/>
<polyline points="1439.9,959.1 1442.1,957.5 1444.3,956.4 1446.5,955.1 1448.7,953.1 1450.9,952.3 1453.1,951.7 1455.3,949.6 1457.5,948.1 1459.7,946.7 1461.9,945.4 1464.1,944.4 1466.3,943.5 1468.5,941.5 1470.7,939.9 1472.8,939.2 1475,936.7 1477.2,935.2 1479.4,934.3 1481.6,932.9 1483.8,930.9 1486,929.5 1488.2,928.8 1490.4,927.5 1492.6,925.6 1494.8,924.8 1497,923.4 1499.2,922.6 1501.4,921.1 1503.6,919.9 1505.7,918.6 1507.9,918 1510.1,917 1512.3,915.2 1514.5,914.6 1516.7,912.8 1518.9,912.1 1521.1,911.3 1523.3,910.6 1525.5,908.8 1527.7,907.9 1529.9,907 1532.1,905.3 1534.3,904.9 1536.5,903.7 1538.6,903.1 1540.8,901.6 1543,900.3 1545.2,900.2 1547.4,899.4 1549.6,898.2 1551.8,897.9 1554,896.6 1556.2,895.6 1558.4,895.2 1560.6,893.6 1562.8,893.1 1565,892.6 1567.2,892.1 1569.4,891 1571.6,890.4 1573.7,889.2 1575.9,888.9 1578.1,888.7 1580.3,887 1582.5,887.5 1584.7,885.6 1586.9,885.2 1589.1,884.6 1591.3,884.2 1593.5,882.7 1595.7,881.7 1597.9,882.1 1600.1,881.5 1602.3,880.8 1604.5,881 1606.6,879.4 1608.8,878.9 1611,878.5 1613.2,877.7 1615.4,877.7 1617.6,875.9 1619.8,875.7 1622,874 1624.2,875.1 1626.4,874.1 1628.6,874.1 1630.8,874.1 1633,872.7 1635.2,872.1 1637.4,871.5 1639.6,870.9 1641.7,870.4 1643.9,870.5 1646.1,869.8 1648.3,869.3 1650.5,868.8 1652.7,868.7 1654.9,868.1 1657.1,867.4 1659.3,867.3 1661.5,866.6 1663.7,865.7 1665.9,866.4 1668.1,865.6 1670.3,864.6 1672.5,865 1674.6,864.3 1676.8,863.2 1679,864.1 1681.2,863.2 1683.4,863 1685.6,862.4 1687.8,861.9 1690,861 1692.2,861.6 1694.4,860.9 1696.6,860.4 1698.8,860.4 1701,859.9 1703.2,859.8 1705.4,859.1 1707.5,858.9 1709.7,857.8 1711.9,858.1 1714.1,858.3 1716.3,858.2 1718.5,857.3 1720.7,857.1 1722.9,857.5" fill="none" stroke="#888" stroke-width="1" stroke-linejoin="round"/>
<polyline points="1439.9,958.7 1442.1,957.6 1444.3,956.5 1446.5,954.4 1448.7,953.4 1450.9,951.2 1453.1,950.1 1455.3,948.5 1457.5,947.1 1459.7,946 1461.9,945.1 1464.1,942.4 1466.3,940.9 1468.5,939.9 1470.7,937.9 1472.8,937.1 1475,935.7 1477.2,934 1479.4,933 1481.6,930.9 1483.8,930.5 1486,928.3 1488.2,927.4 1490.4,926.2 1492.6,925 1494.8,924.3 1497,922.8 1499.2,921.4 1501.4,920.6 1503.6,919.9 1505.7,918.1 1507.9,917.1 1510.1,916.4 1512.3,914.9 1514.5,913.2 1516.7,913.7 1518.9,912.5 1521.1,909.8 1523.3,909.6 1525.5,908.8 1527.7,908 1529.9,906.9 1532.1,905.6 1534.3,904.4 1536.5,903.9 1538.6,903.4 1540.8,901.6 1543,900.7 1545.2,900.3 1547.4,898.6 1549.6,898.5 1551.8,897.6 1554,897.1 1556.2,895.8 1558.4,894.9 1560.6,894.3 1562.8,893.7 1565,892.7 1567.2,892.2 1569.4,891.7 1571.6,891.2 1573.7,890.7 1575.9,888.9 1578.1,888.4 1580.3,886.9 1582.5,887.9 1584.7,886.2 1586.9,885.8 1589.1,885.4 1591.3,884 1593.5,884.1 1595.7,883.2 1597.9,881.9 1600.1,882.1 1602.3,881.9 1604.5,880.1 1606.6,880.6 1608.8,879.7 1611,879.3 1613.2,878.7 1615.4,878.5 1617.6,877.3 1619.8,877.2 1622,876.2 1624.2,876.1 1626.4,875 1628.6,874.8 1630.8,875 1633,874 1635.2,873.3 1637.4,872.4 1639.6,872.1 1641.7,872 1643.9,871.8 1646.1,871.2 1648.3,870.8 1650.5,870.1 1652.7,870.2 1654.9,869.1 1657.1,868.6 1659.3,868.8 1661.5,868 1663.7,867.5 1665.9,867 1668.1,866.7 1670.3,866.7 1672.5,866.2 1674.6,865.2 1676.8,865.5 1679,865 1681.2,864.2 1683.4,864.5 1685.6,863.7 1687.8,863.4 1690,863.5 1692.2,863.4 1694.4,862.2 1696.6,862.3 1698.8,861.5 1701,862.5 1703.2,861 1705.4,861.4 1707.5,860.3 1709.7,860.6 1711.9,860.9 1714.1,858.7 1716.3,859.3 1718.5,859.4 1720.7,858.8 1722.9,858.3" fill="none" stroke="#999" stroke-width="1" stroke-linejoin="round"/>
<polyline points="1439.9,959.7 1442.1,957.7 1444.3,955.8 1446.5,955.7 1448.7,953.5 1450.9,953.5 1453.1,951.7 1455.3,950.8 1457.5,950.1 1459.7,948.5 1461.9,946.7 1464.1,945.3 1466.3,945.2 1468.5,943.8 1470.7,941.9 1472.8,941.4 1475,940 1477.2,938.9 1479.4,936.6 1481.6,936.2 1483.8,935.6 1486,934.4 1488.2,933.3 1490.4,930.9 1492.6,930.9 1494.8,930 1497,929.8 1499.2,927.3 1501.4,926.6 1503.6,925.7 1505.7,925.1 1507.9,923.6 1510.1,923.3 1512.3,921.5 1514.5,921 1516.7,919.8 1518.9,919.2 1521.1,918 1523.3,916.7 1525.5,916.9 1527.7,915.8 1529.9,914.6 1532.1,914.1 1534.3,913.6 1536.5,912 1538.6,911.5 1540.8,911 1543,910.2 1545.2,909.1 1547.4,907.7 1549.6,908.3 1551.8,907.2 1554,906.3 1556.2,905.5 1558.4,905 1560.6,904.1 1562.8,903.2 1565,902.6 1567.2,902 1569.4,901.3 1571.6,900.5 1573.7,900.6 1575.9,899.2 1578.1,899.4 1580.3,898.1 1582.5,898 1584.7,897.9 1586.9,896.8 1589.1,895.9 1591.3,895.6 1593.5,895.1 1595.7,893.8 1597.9,893.7 1600.1,893.5 1602.3,892.7 1604.5,892.4 1606.6,892.2 1608.8,891.7 1611,891.2 1613.2,890.6 1615.4,889.8 1617.6,889.4 1619.8,888.9 1622,888.4 1624.2,888 1626.4,886.9 1628.6,887 1630.8,886.7 1633,885.9 1635.2,885.9 1637.4,885.7 1639.6,885 1641.7,885.5 1643.9,883.2 1646.1,883.8 1648.3,882.7 1650.5,883.5 1652.7,883.8 1654.9,881.3 1657.1,882 1659.3,881.8 1661.5,881.1 1663.7,881.1 1665.9,879.7 1668.1,880.6 1670.3,880 1672.5,879.6 1674.6,879 1676.8,879.2 1679,878.4 1681.2,878.4 1683.4,877.8 1685.6,876.8 1687.8,877.3 1690,877.1 1692.2,877.1 1694.4,876.1 1696.6,876.2 1698.8,876.2 1701,875.7 1703.2,875.9 1705.4,875.9 1707.5,874.5 1709.7,873.8 1711.9,874.7 1714.1,874.7 1716.3,874.2 1718.5,873.9 1720.7,873.1 1722.9,872.8" fill="none" stroke="#888" stroke-width="1" stroke-linejoin="round"/>
<polyline points="1439.9,959.2 1442.1,957.1 1444.3,955.3 1446.5,954.3 1448.7,954.3 1450.9,952.7 1453.1,950.3 1455.3,948.9 1457.5,947.9 1459.7,946.1 1461.9,945.7 1464.1,944 1466.3,942.4 1468.5,942.3 1470.7,940.5 1472.8,939.7 1475,938.6 1477.2,937.4 1479.4,936.6 1481.6,935.2 1483.8,933.7 1486,932.6 1488.2,932 1490.4,931.3 1492.6,930.6 1494.8,929.7 1497,929 1499.2,927.9 1501.4,926.7 1503.6,925.8 1505.7,924.4 1507.9,924.3 1510.1,923.7 1512.3,922.9 1514.5,921.8 1516.7,921 1518.9,920.7 1521.1,919.5 1523.3,919 1525.5,918.2 1527.7,917.3 1529.9,917 1532.1,915.5 1534.3,914.9 1536.5,914 1538.6,913.3 1540.8,913.6 1543,913 1545.2,911.6 1547.4,911.2 1549.6,910.8 1551.8,910 1554,909.5 1556.2,907.9 1558.4,907.5 1560.6,907.3 1562.8,907.1 1565,906 1567.2,905.1 1569.4,904.7 1571.6,904 1573.7,903.4 1575.9,903.8 1578.1,902.4 1580.3,902.1 1582.5,902.4 1584.7,901.5 1586.9,900.7 1589.1,899.8 1591.3,899.7 1593.5,899.7 1595.7,898.8 1597.9,898.6 1600.1,897.7 1602.3,897.4 1604.5,896.6 1606.6,896.4 1608.8,896.3 1611,894.8 1613.2,894.9 1615.4,894.6 1617.6,893.9 1619.8,893.6 1622,893.6 1624.2,893.7 1626.4,892.7 1628.6,892.2 1630.8,891.1 1633,892.1 1635.2,891 1637.4,890.6 1639.6,889.8 1641.7,889.9 1643.9,889.1 1646.1,889.2 1648.3,889 1650.5,888.5 1652.7,888.3 1654.9,887.5 1657.1,888.1 1659.3,886.9 1661.5,886.2 1663.7,886.5 1665.9,886 1668.1,885.6 1670.3,885.5 1672.5,885.5 1674.6,884.6 1676.8,884.8 1679,885.1 1681.2,884.5 1683.4,883.9 1685.6,883.8 1687.8,883.4 1690,883.2 1692.2,883.2 1694.4,882.6 1696.6,881.5 1698.8,882.2 1701,881.6 1703.2,882 1705.4,881.2 1707.5,881.3 1709.7,881.9 1711.9,880.4 1714.1,880.1 1716.3,879.8 1718.5,879.2 1720.7,879.1 1722.9,879.8" fill="none" stroke="#999" stroke-width="1" stroke-linejoin="round"/>
<polyline points="1439.9,958.5 1442.1,957.1 1444.3,956.4 1446.5,956.3 1448.7,954.8 1450.9,954.1 1453.1,953.4 1455.3,952.9 1457.5,952.2 1459.7,951 1461.9,949.7 1464.1,948.7 1466.3,948.4 1468.5,947.3 1470.7,945.6 1472.8,945 1475,944 1477.2,943 1479.4,941.9 1481.6,940.7 1483.8,940.1 1486,938.9 1488.2,939.2 1490.4,938.1 1492.6,936.5 1494.8,936.8 1497,935.8 1499.2,933.9 1501.4,934.6 1503.6,933.4 1505.7,933.2 1507.9,931.1 1510.1,931.1 1512.3,930.3 1514.5,929.5 1516.7,928.8 1518.9,928.5 1521.1,926.8 1523.3,926.2 1525.5,925.5 1527.7,925.2 1529.9,924.5 1532.1,924.3 1534.3,923.6 1536.5,922.9 1538.6,922 1540.8,921.5 1543,921.5 1545.2,920.8 1547.4,920 1549.6,919.3 1551.8,919.5 1554,918 1556.2,918 1558.4,917.7 1560.6,916.6 1562.8,916.5 1565,915.2 1567.2,915.6 1569.4,914.7 1571.6,913.5 1573.7,914 1575.9,912.9 1578.1,913.3 1580.3,912 1582.5,911.8 1584.7,911.5 1586.9,910.8 1589.1,910.6 1591.3,909.9 1593.5,909.9 1595.7,909.2 1597.9,908.9 1600.1,907.3 1602.3,908.5 1604.5,907.6 1606.6,906.5 1608.8,906.9 1611,906.7 1613.2,906.5 1615.4,905.3 1617.6,906 1619.8,904.9 1622,905.6 1624.2,904.3 1626.4,904.2 1628.6,903.5 1630.8,902.9 1633,903.4 1635.2,903 1637.4,902.9 1639.6,902.4 1641.7,901.5 1643.9,900.7 1646.1,900.8 1648.3,900.5 1650.5,900.2 1652.7,900.5 1654.9,900.1 1657.1,899.6 1659.3,899.5 1661.5,899.1 1663.7,898.9 1665.9,898.9 1668.1,898.7 1670.3,897.8 1672.5,897.2 1674.6,898.1 1676.8,897.4 1679,897.5 1681.2,896.2 1683.4,896.5 1685.6,896.4 1687.8,895.6 1690,895.7 1692.2,896 1694.4,895.9 1696.6,895.9 1698.8,894.7 1701,894.3 1703.2,894.8 1705.4,894.8 1707.5,894.3 1709.7,893.5 1711.9,894.1 1714.1,893.9 1716.3,893.7 1718.5,893.1 1720.7,893.2 1722.9,893.2" fill="none" stroke="#888" stroke-width="1" stroke-linejoin="round"/>
<polyline points="1439.9,958.6 1442.1,957.2 1444.3,957.3 1446.5,956.5 1448.7,955.5 1450.9,955 1453.1,953.6 1455.3,953 1457.5,952.1 1459.7,951.6 1461.9,951.2 1464.1,949.6 1466.3,949.8 1468.5,948.8 1470.7,947.7 1472.8,946.8 1475,946.6 1477.2,945 1479.4,944.3 1481.6,943.2 1483.8,943.1 1486,942.8 1488.2,941.8 1490.4,941 1492.6,940.1 1494.8,939.6 1497,938.3 1499.2,938.7 1501.4,937.4 1503.6,936.5 1505.7,936.1 1507.9,935.4 1510.1,935.5 1512.3,935 1514.5,933.4 1516.7,933.8 1518.9,933.2 1521.1,932 1523.3,931.1 1525.5,930.9 1527.7,930.4 1529.9,930.2 1532.1,929.4 1534.3,928.3 1536.5,928.7 1538.6,927.5 1540.8,927.9 1543,926.6 1545.2,926.3 1547.4,925.8 1549.6,925.5 1551.8,925.7 1554,925.1 1556.2,924.6 1558.4,924 1560.6,922.8 1562.8,922.8 1565,922.4 1567.2,921.8 1569.4,922 1571.6,921.1 1573.7,920.7 1575.9,920.2 1578.1,919.4 1580.3,920.1 1582.5,920 1584.7,919.2 1586.9,918.3 1589.1,917.3 1591.3,918.1 1593.5,918.2 1595.7,917.4 1597.9,917.4 1600.1,917.2 1602.3,916.8 1604.5,915.8 1606.6,916.1 1608.8,915.7 1611,914.4 1613.2,914.6 1615.4,913.9 1617.6,914.1 1619.8,914.1 1622,913.1 1624.2,912.5 1626.4,913.5 1628.6,912.9 1630.8,913 1633,911.6 1635.2,912.3 1637.4,912.5 1639.6,912.2 1641.7,911 1643.9,911 1646.1,910.6 1648.3,910.8 1650.5,910.6 1652.7,909.9 1654.9,909.1 1657.1,909.7 1659.3,909 1661.5,909.2 1663.7,908.9 1665.9,909.2 1668.1,908.8 1670.3,908 1672.5,908.1 1674.6,908.4 1676.8,907.3 1679,907.5 1681.2,907.6 1683.4,907.4 1685.6,906.9 1687.8,906 1690,905.9 1692.2,906.3 1694.4,906.1 1696.6,906.8 1698.8,905.3 1701,905.9 1703.2,905.6 1705.4,904.5 1707.5,904.6 1709.7,904.9 1711.9,904.4 1714.1,904.4 1716.3,904.5 1718.5,903.8 1720.7,904.2 1722.9,903.6" fill="none" stroke="#999" stroke-width="1" stroke-linejoin="round"/>
<polyline points="1439.9,958.6 1442.1,957.9 1444.3,956.3 1446.5,955.5 1448.7,954.9 1450.9,953.1 1453.1,951.9 1455.3,951.1 1457.5,949.5 1459.7,948.9 1461.9,946.9 1464.1,946.8 1466.3,945.6 1468.5,944.7 1470.7,944.9 1472.8,943.1 1475,943.5 1477.2,942.4 1479.4,942 1481.6,940.4 1483.8,940.7 1486,940.3 1488.2,939.1 1490.4,938.5 1492.6,939.1 1494.8,937.7 1497,936.9 1499.2,936.4 1501.4,936.4 1503.6,935.9 1505.7,935.5 1507.9,935.7 1510.1,934.5 1512.3,934.5 1514.5,934.5 1516.7,933.2 1518.9,933.7 1521.1,933.8 1523.3,932.2 1525.5,932 1527.7,931.8 1529.9,931.2 1532.1,931.9 1534.3,930.7 1536.5,931.4 1538.6,931.6 1540.8,930.1 1543,930.4 1545.2,929.6 1547.4,930.5 1549.6,929.7 1551.8,929.7 1554,929.7 1556.2,929.7 1558.4,929.2 1560.6,929.2 1562.8,928.9 1565,929 1567.2,928.3 1569.4,928.7 1571.6,927.8 1573.7,928.2 1575.9,929.1 1578.1,928.3 1580.3,927.6 1582.5,928.1 1584.7,927.5 1586.9,927.2 1589.1,927.5 1591.3,928 1593.5,927.7 1595.7,927.5 1597.9,927.1 1600.1,926.9 1602.3,927.8 1604.5,927.3 1606.6,926.8 1608.8,926.3 1611,926.5 1613.2,928 1615.4,926.5 1617.6,926.8 1619.8,926.9 1622,926.7 1624.2,926.6 1626.4,926.1 1628.6,926.2 1630.8,927.3 1633,926.3 1635.2,926.9 1637.4,925.8 1639.6,926.3 1641.7,926.5 1643.9,926.8 1646.1,925.9 1648.3,926.6 1650.5,926.5 1652.7,926 1654.9,926.4 1657.1,925.9 1659.3,925.9 1661.5,926.2 1663.7,925.1 1665.9,926.1 1668.1,925.7 1670.3,925.5 1672.5,925.9 1674.6,926.4 1676.8,925.9 1679,926.5 1681.2,925.5 1683.4,925.5 1685.6,926.6 1687.8,926.1 1690,926.3 1692.2,925.6 1694.4,926.2 1696.6,926 1698.8,926.2 1701,925.9 1703.2,926.4 1705.4,925.6 1707.5,925.5 1709.7,925.2 1711.9,926.3 1714.1,925.5 1716.3,925.4 1718.5,925.4 1720.7,925.6 1722.9,925.3" fill="none" stroke="#e2c27c" stroke-width="1" stroke-linejoin="round"/>
<polyline points="1439.9,958.7 1442.1,957.5 1444.3,956.6 1446.5,955.4 1448.7,954.8 1450.9,953.6 1453.1,952.8 1455.3,951.8 1457.5,950.9 1459.7,948.8 1461.9,948.6 1464.1,947.6 1466.3,947.5 1468.5,945.8 1470.7,945.4 1472.8,944.9 1475,944.2 1477.2,944.1 1479.4,942.9 1481.6,942.8 1483.8,941.3 1486,940.6 1488.2,941.3 1490.4,940.5 1492.6,940 1494.8,939.4 1497,939.1 1499.2,937.9 1501.4,938.4 1503.6,937.4 1505.7,937.6 1507.9,936.9 1510.1,935.7 1512.3,935.7 1514.5,936.3 1516.7,935.5 1518.9,935.1 1521.1,935 1523.3,934.5 1525.5,934.2 1527.7,934.2 1529.9,933.9 1532.1,934.2 1534.3,933.4 1536.5,933.9 1538.6,933.7 1540.8,933.5 1543,933 1545.2,932.4 1547.4,932.3 1549.6,932 1551.8,931.6 1554,931.7 1556.2,931.3 1558.4,932.1 1560.6,931.5 1562.8,931 1565,930.2 1567.2,930.9 1569.4,930.6 1571.6,930.2 1573.7,930.1 1575.9,929.5 1578.1,930.6 1580.3,930.2 1582.5,931.2 1584.7,930 1586.9,929.9 1589.1,930.4 1591.3,929.8 1593.5,929.8 1595.7,929.5 1597.9,929.3 1600.1,930.1 1602.3,929.8 1604.5,930.1 1606.6,929.2 1608.8,929.3 1611,928.8 1613.2,929.5 1615.4,928.5 1617.6,929.3 1619.8,929.4 1622,929.5 1624.2,928.5 1626.4,929.3 1628.6,928.5 1630.8,928.5 1633,928.2 1635.2,929.2 1637.4,929.3 1639.6,928.4 1641.7,928.3 1643.9,928.4 1646.1,929.5 1648.3,928.9 1650.5,928.3 1652.7,927.7 1654.9,928.2 1657.1,928.9 1659.3,929.1 1661.5,928.3 1663.7,928.1 1665.9,928.1 1668.1,927.5 1670.3,928.6 1672.5,927.8 1674.6,928.7 1676.8,927.5 1679,927.7 1681.2,928.3 1683.4,927.9 1685.6,928.5 1687.8,928.2 1690,927.7 1692.2,928.4 1694.4,928.4 1696.6,927.3 1698.8,928.8 1701,928.3 1703.2,928.4 1705.4,927.3 1707.5,927.8 1709.7,927.9 1711.9,928.5 1714.1,927.4 1716.3,927.7 1718.5,927.2 1720.7,927.9 1722.9,928.1" fill="none" stroke="#e2c27c" stroke-width="1" stroke-linejoin="round"/>
<polyline points="1439.9,958.1 1442.1,957.4 1444.3,956.6 1446.5,955.9 1448.7,954.3 1450.9,952.7 1453.1,951.2 1455.3,950.1 1457.5,949 1459.7,948.1 1461.9,947.2 1464.1,947.4 1466.3,946.5 1468.5,945.6 1470.7,946.3 1472.8,945.7 1475,945 1477.2,944.3 1479.4,943.6 1481.6,943.6 1483.8,944.1 1486,943.1 1488.2,942.7 1490.4,943 1492.6,942.8 1494.8,942.7 1497,942.5 1499.2,942.6 1501.4,941.5 1503.6,942 1505.7,941 1507.9,941.5 1510.1,941.1 1512.3,941 1514.5,941.1 1516.7,940.6 1518.9,940.9 1521.1,940.6 1523.3,940.2 1525.5,939.8 1527.7,939.6 1529.9,939.5 1532.1,939.5 1534.3,939.5 1536.5,940.6 1538.6,939.5 1540.8,939.5 1543,938.7 1545.2,938.7 1547.4,938.8 1549.6,938.9 1551.8,938.3 1554,939.3 1556.2,938.4 1558.4,938.9 1560.6,937.5 1562.8,938.4 1565,938.4 1567.2,938.3 1569.4,938.4 1571.6,938.2 1573.7,938.1 1575.9,937.3 1578.1,937.7 1580.3,937 1582.5,938.1 1584.7,937.9 1586.9,937.7 1589.1,937.4 1591.3,937.5 1593.5,938.4 1595.7,938.3 1597.9,937.6 1600.1,938.1 1602.3,936.9 1604.5,936.7 1606.6,937.3 1608.8,937.1 1611,937.2 1613.2,937.4 1615.4,938.5 1617.6,937.1 1619.8,937.3 1622,937.4 1624.2,937.2 1626.4,937.6 1628.6,937.9 1630.8,936.7 1633,937.2 1635.2,937 1637.4,937.3 1639.6,936.5 1641.7,936.4 1643.9,936.2 1646.1,937.3 1648.3,937.1 1650.5,937.1 1652.7,936.1 1654.9,936.9 1657.1,936.7 1659.3,936.4 1661.5,936.6 1663.7,937.2 1665.9,937.2 1668.1,936.9 1670.3,937.1 1672.5,936.7 1674.6,936.9 1676.8,936.9 1679,937.1 1681.2,936.9 1683.4,936.8 1685.6,936.8 1687.8,936.6 1690,937.8 1692.2,937.1 1694.4,937 1696.6,937.8 1698.8,937.4 1701,936.2 1703.2,937.1 1705.4,937.2 1707.5,937.6 1709.7,937.3 1711.9,937.1 1714.1,936.3 1716.3,936.5 1718.5,936.9 1720.7,937 1722.9,936.4" fill="none" stroke="#e8cf96" stroke-width="1" stroke-linejoin="round"/>
<polyline points="1439.9,958.6 1442.1,957.7 1444.3,957 1446.5,956.2 1448.7,955 1450.9,953.7 1453.1,953.8 1455.3,953 1457.5,951.4 1459.7,951 1461.9,950 1464.1,949.8 1466.3,949.4 1468.5,948.6 1470.7,948.8 1472.8,948.7 1475,947.6 1477.2,948.5 1479.4,948.3 1481.6,947.9 1483.8,947.8 1486,947 1488.2,946.4 1490.4,946.1 1492.6,945.8 1494.8,946 1497,945.7 1499.2,945.8 1501.4,944.6 1503.6,946.1 1505.7,946 1507.9,944.9 1510.1,945 1512.3,944.8 1514.5,944.6 1516.7,944.2 1518.9,944.2 1521.1,943.8 1523.3,944 1525.5,943.8 1527.7,943.9 1529.9,943.3 1532.1,943.6 1534.3,943.5 1536.5,943.6 1538.6,942.8 1540.8,943.4 1543,943.5 1545.2,943.3 1547.4,942.8 1549.6,942.7 1551.8,942.7 1554,943 1556.2,943.3 1558.4,942.6 1560.6,942.3 1562.8,942.7 1565,942.5 1567.2,942 1569.4,942.1 1571.6,942.3 1573.7,942.5 1575.9,941.7 1578.1,941.8 1580.3,942.3 1582.5,941.6 1584.7,942.1 1586.9,942.2 1589.1,941.9 1591.3,941.5 1593.5,941.9 1595.7,941.7 1597.9,942 1600.1,941.5 1602.3,942.2 1604.5,941.1 1606.6,941.7 1608.8,941.7 1611,942.1 1613.2,941.4 1615.4,941.9 1617.6,941.4 1619.8,941.9 1622,942.3 1624.2,941.4 1626.4,941.7 1628.6,941.2 1630.8,941.9 1633,942 1635.2,941.5 1637.4,941 1639.6,941.6 1641.7,941.9 1643.9,941.9 1646.1,941.7 1648.3,940.7 1650.5,941.1 1652.7,942 1654.9,940.9 1657.1,941.8 1659.3,942.1 1661.5,941.7 1663.7,941.8 1665.9,941.2 1668.1,940.8 1670.3,941.3 1672.5,941.2 1674.6,941.3 1676.8,941.6 1679,941.2 1681.2,941.4 1683.4,941.4 1685.6,941.3 1687.8,942 1690,941.4 1692.2,941.3 1694.4,941.2 1696.6,941 1698.8,941.8 1701,941.3 1703.2,940.8 1705.4,941 1707.5,941.2 1709.7,941 1711.9,941.6 1714.1,940.7 1716.3,941.4 1718.5,941.3 1720.7,940.7 1722.9,941.2" fill="none" stroke="#e8cf96" stroke-width="1" stroke-linejoin="round"/>
<polyline points="1439.9,958.8 1442.1,958.2 1444.3,957 1446.5,956.4 1448.7,954.8 1450.9,954.2 1453.1,954.2 1455.3,953.4 1457.5,952.2 1459.7,951.1 1461.9,951.2 1464.1,949.6 1466.3,949.9 1468.5,950.2 1470.7,949.9 1472.8,949 1475,948.4 1477.2,949.5 1479.4,948.8 1481.6,948.2 1483.8,948.3 1486,948.5 1488.2,946.9 1490.4,948.2 1492.6,947.9 1494.8,946.6 1497,947.6 1499.2,946.4 1501.4,947.4 1503.6,947 1505.7,947.6 1507.9,946.3 1510.1,946.4 1512.3,946.7 1514.5,945.9 1516.7,945.8 1518.9,945.8 1521.1,945.8 1523.3,945.3 1525.5,945.9 1527.7,945.8 1529.9,945.5 1532.1,946.1 1534.3,945.2 1536.5,945.8 1538.6,944.9 1540.8,945.4 1543,944.2 1545.2,945 1547.4,944.8 1549.6,944.6 1551.8,944.5 1554,944.6 1556.2,944.4 1558.4,943.7 1560.6,944.3 1562.8,944.3 1565,944.3 1567.2,944 1569.4,944.3 1571.6,944.6 1573.7,944.2 1575.9,944.1 1578.1,944.8 1580.3,944.6 1582.5,944.5 1584.7,944.6 1586.9,944 1589.1,944 1591.3,944.5 1593.5,943.8 1595.7,943.9 1597.9,944.1 1600.1,944.1 1602.3,943.8 1604.5,944.3 1606.6,943.8 1608.8,944.1 1611,944.2 1613.2,944.1 1615.4,944.1 1617.6,943.3 1619.8,943.2 1622,943.5 1624.2,943.9 1626.4,944.3 1628.6,943.2 1630.8,943.8 1633,943.3 1635.2,943.4 1637.4,943.5 1639.6,943.9 1641.7,943.7 1643.9,944.1 1646.1,943.2 1648.3,943.9 1650.5,943.9 1652.7,943.6 1654.9,943.7 1657.1,943.3 1659.3,943.1 1661.5,943.4 1663.7,943.3 1665.9,944.7 1668.1,943.3 1670.3,944.2 1672.5,943.6 1674.6,943.6 1676.8,943.8 1679,943.2 1681.2,943.8 1683.4,943.6 1685.6,942.9 1687.8,943.7 1690,943.7 1692.2,943.6 1694.4,944.1 1696.6,943.3 1698.8,943.6 1701,943.7 1703.2,943.1 1705.4,943.9 1707.5,942.8 1709.7,942.9 1711.9,943.6 1714.1,943 1716.3,943.4 1718.5,942.7 1720.7,943.4 1722.9,942.9" fill="none" stroke="#e8cf96" stroke-width="1" stroke-linejoin="round"/>
<polyline points="1439.9,958.9 1442.1,957.5 1444.3,957.6 1446.5,956.6 1448.7,956.1 1450.9,955.3 1453.1,954.7 1455.3,953.5 1457.5,952.3 1459.7,952.6 1461.9,951.4 1464.1,950.5 1466.3,949.8 1468.5,947.8 1470.7,947.4 1472.8,946.5 1475,945.5 1477.2,945.2 1479.4,944.2 1481.6,943.1 1483.8,942.3 1486,942.3 1488.2,941 1490.4,940.8 1492.6,940.1 1494.8,938.6 1497,938.3 1499.2,938.2 1501.4,937.8 1503.6,937.4 1505.7,936.9 1507.9,936.5 1510.1,935.5 1512.3,935.1 1514.5,935.1 1516.7,934.2 1518.9,934.4 1521.1,932.9 1523.3,933.5 1525.5,932.8 1527.7,931.7 1529.9,932.6 1532.1,932 1534.3,931.6 1536.5,930.9 1538.6,930.8 1540.8,931.4 1543,930.2 1545.2,928.9 1547.4,929.7 1549.6,929.3 1551.8,929.5 1554,929.2 1556.2,928.8 1558.4,928.6 1560.6,929.2 1562.8,928 1565,929.2 1567.2,928.1 1569.4,927.7 1571.6,928.3 1573.7,928 1575.9,927.3 1578.1,927.8 1580.3,926.7 1582.5,926.9 1584.7,927.6 1586.9,926.9 1589.1,926.4 1591.3,927 1593.5,927.1 1595.7,926.6 1597.9,925.8 1600.1,926.3 1602.3,926.5 1604.5,926.6 1606.6,926.9 1608.8,926 1611,925.9 1613.2,926 1615.4,926.4 1617.6,925.5 1619.8,926.3 1622,924.6 1624.2,926 1626.4,925.3 1628.6,925.7 1630.8,925.8 1633,925 1635.2,925.4 1637.4,925.5 1639.6,925.5 1641.7,924.9 1643.9,924.8 1646.1,924.4 1648.3,926.2 1650.5,925 1652.7,925 1654.9,924.5 1657.1,925.4 1659.3,924.8 1661.5,925.5 1663.7,925.3 1665.9,924.9 1668.1,925.2 1670.3,924.4 1672.5,924.7 1674.6,924.6 1676.8,924.3 1679,924.8 1681.2,924.7 1683.4,925.3 1685.6,923.4 1687.8,924.4 1690,924.3 1692.2,924.5 1694.4,924.8 1696.6,924.8 1698.8,924.6 1701,924.4 1703.2,924.8 1705.4,924.7 1707.5,923.8 1709.7,924.4 1711.9,924 1714.1,924 1716.3,924.6 1718.5,924.5 1720.7,924.5 1722.9,924.1" fill="none" stroke="#999" stroke-width="1" stroke-linejoin="round"/>
<polyline points="1439.9,958.7 1442.1,957.5 1444.3,957.1 1446.5,956.3 1448.7,955.8 1450.9,954.7 1453.1,953 1455.3,952.2 1457.5,951.1 1459.7,950.7 1461.9,950.4 1464.1,949.1 1466.3,947.1 1468.5,946.7 1470.7,945.9 1472.8,945.9 1475,945 1477.2,944.4 1479.4,944.4 1481.6,942.7 1483.8,942.1 1486,942.7 1488.2,941.5 1490.4,940.5 1492.6,939.5 1494.8,939.2 1497,938.3 1499.2,938.9 1501.4,938.5 1503.6,938.4 1505.7,937.6 1507.9,937 1510.1,936.6 1512.3,937.3 1514.5,935.5 1516.7,935.9 1518.9,935.5 1521.1,935.5 1523.3,934.8 1525.5,934.8 1527.7,934.7 1529.9,934.1 1532.1,933.7 1534.3,933.6 1536.5,933 1538.6,933.1 1540.8,932.9 1543,932.9 1545.2,933.1 1547.4,932.9 1549.6,932 1551.8,932.3 1554,932 1556.2,932 1558.4,931.6 1560.6,931.5 1562.8,931.1 1565,930.8 1567.2,931.4 1569.4,931.4 1571.6,931 1573.7,930.8 1575.9,930.6 1578.1,930.2 1580.3,929.6 1582.5,930.5 1584.7,930.2 1586.9,929.8 1589.1,929.6 1591.3,930.4 1593.5,929.1 1595.7,930.4 1597.9,929.9 1600.1,930.5 1602.3,929.2 1604.5,929.4 1606.6,929.2 1608.8,929.4 1611,929.2 1613.2,928.9 1615.4,929.6 1617.6,928.8 1619.8,928.8 1622,929.2 1624.2,928.7 1626.4,928.7 1628.6,929 1630.8,928.7 1633,928.3 1635.2,928.7 1637.4,928.6 1639.6,929.3 1641.7,928.2 1643.9,929 1646.1,928.2 1648.3,928.4 1650.5,928.4 1652.7,928.6 1654.9,928.8 1657.1,929.1 1659.3,928.1 1661.5,928.9 1663.7,928.8 1665.9,928.7 1668.1,928 1670.3,928.7 1672.5,928.2 1674.6,928.4 1676.8,928.1 1679,928.5 1681.2,928.6 1683.4,928.6 1685.6,928.1 1687.8,928.6 1690,928.7 1692.2,927.8 1694.4,928.7 1696.6,927.6 1698.8,928.3 1701,928.3 1703.2,928.7 1705.4,928.2 1707.5,927.9 1709.7,927.7 1711.9,927.5 1714.1,928.3 1716.3,927.9 1718.5,927.7 1720.7,928.2 1722.9,927.7" fill="none" stroke="#aaa" stroke-width="1" stroke-linejoin="round"/>
<path d="M1462.8 943.5V945.3M1464.5 942.2V944.1M1466.3 941.1V943.1M1468 940.1V942.3M1469.8 939.1V941.4M1471.5 938.3V940.7M1473.3 937.5V940M1475 936.7V939.3M1476.8 935.9V938.6M1478.5 935.2V938M1480.3 934.4V937.4M1482.1 933.7V936.8M1483.8 933.1V936.2M1485.6 932.4V935.6M1487.3 931.7V935.1M1489.1 931.1V934.6M1490.8 930.5V934M1492.6 929.9V933.5M1494.3 929.3V933M1496.1 928.7V932.5M1497.9 928.1V932M1499.6 927.5V931.6M1501.4 926.9V931.1M1503.1 926.3V930.6M1504.9 925.8V930.2M1506.6 925.2V929.7M1508.4 924.7V929.3M1510.1 924.1V928.8M1511.9 923.6V928.4M1513.6 923.1V928M1515.4 922.5V927.6M1517.2 922V927.2M1518.9 921.5V926.7M1520.7 921V926.3M1522.4 920.5V925.9M1524.2 920V925.5M1525.9 919.5V925.1M1527.7 919V924.7M1529.4 918.5V924.3M1531.2 918V924M1532.9 917.5V923.6M1534.7 917V923.2M1536.5 916.5V922.8M1538.2 916V922.5M1540 915.6V922.1M1541.7 915.1V921.7M1543.5 914.6V921.4M1545.2 914.2V921M1547 913.7V920.6M1548.7 913.2V920.3M1550.5 912.8V919.9M1552.2 912.3V919.6M1554 911.9V919.2M1555.8 911.4V918.9M1557.5 911V918.5M1559.3 910.5V918.2M1561 910.1V917.9M1562.8 909.6V917.5M1564.5 909.2V917.2M1566.3 908.8V916.9M1568 908.3V916.5M1569.8 907.9V916.2M1571.6 907.5V915.9M1573.3 907V915.6M1575.1 906.6V915.2M1576.8 906.2V914.9M1578.6 905.7V914.6M1580.3 905.3V914.3M1582.1 904.9V914M1583.8 904.5V913.6M1585.6 904.1V913.3M1587.3 903.6V913M1589.1 903.2V912.7M1590.9 902.8V912.4M1592.6 902.4V912.1M1594.4 902V911.8M1596.1 901.6V911.5M1597.9 901.2V911.2M1599.6 900.8V910.9M1601.4 900.4V910.6M1603.1 900V910.3M1604.9 899.6V910M1606.6 899.2V909.7M1608.4 898.8V909.4M1610.2 898.4V909.1M1611.9 898V908.8M1613.7 897.6V908.5M1615.4 897.2V908.2M1617.2 896.8V907.9M1618.9 896.4V907.7M1620.7 896V907.4M1622.4 895.6V907.1M1624.2 895.2V906.8M1626 894.8V906.5M1627.7 894.4V906.2M1629.5 894.1V906M1631.2 893.7V905.7M1633 893.3V905.4M1634.7 892.9V905.1M1636.5 892.5V904.8M1638.2 892.1V904.6M1640 891.8V904.3M1641.7 891.4V904M1643.5 891V903.8M1645.3 890.6V903.5M1647 890.3V903.2M1648.8 889.9V902.9M1650.5 889.5V902.7M1652.3 889.1V902.4M1654 888.8V902.1M1655.8 888.4V901.9M1657.5 888V901.6M1659.3 887.6V901.3M1661 887.3V901.1M1662.8 886.9V900.8M1664.6 886.5V900.6M1666.3 886.2V900.3M1668.1 885.8V900M1669.8 885.4V899.8M1671.6 885.1V899.5M1673.3 884.7V899.3M1675.1 884.4V899M1676.8 884V898.8M1678.6 883.6V898.5M1680.3 883.3V898.2M1682.1 882.9V898M1683.9 882.6V897.7M1685.6 882.2V897.5M1687.4 881.8V897.2M1689.1 881.5V897M1690.9 881.1V896.7M1692.6 880.8V896.5M1694.4 880.4V896.2M1696.1 880.1V896M1697.9 879.7V895.7M1699.7 879.4V895.5M1701.4 879V895.3M1703.2 878.7V895M1704.9 878.3V894.8M1706.7 878V894.5M1708.4 877.6V894.3M1710.2 877.3V894M1711.9 876.9V893.8M1713.7 876.6V893.6M1715.4 876.2V893.3M1717.2 875.9V893.1M1719 875.5V892.8M1720.7 875.2V892.6M1722.5 874.9V892.4M1724.2 874.5V892.1" fill="none" stroke="#9a9a9a" stroke-width="0.9"/>
<polyline points="1439.9,958.8 1441.7,957.8 1443.5,956.7 1445.2,955.7 1447,954.7 1448.7,953.7 1450.5,952.6 1452.2,951.6 1454,950.6 1455.7,949.6 1457.5,948.5 1459.2,947.5 1461,946.5 1462.8,944.4 1464.5,943.2 1466.3,942.1 1468,941.2 1469.8,940.3 1471.5,939.5 1473.3,938.7 1475,938 1476.8,937.3 1478.5,936.6 1480.3,935.9 1482.1,935.3 1483.8,934.6 1485.6,934 1487.3,933.4 1489.1,932.8 1490.8,932.3 1492.6,931.7 1494.3,931.1 1496.1,930.6 1497.9,930.1 1499.6,929.5 1501.4,929 1503.1,928.5 1504.9,928 1506.6,927.5 1508.4,927 1510.1,926.5 1511.9,926 1513.6,925.5 1515.4,925 1517.2,924.6 1518.9,924.1 1520.7,923.7 1522.4,923.2 1524.2,922.7 1525.9,922.3 1527.7,921.9 1529.4,921.4 1531.2,921 1532.9,920.5 1534.7,920.1 1536.5,919.7 1538.2,919.3 1540,918.8 1541.7,918.4 1543.5,918 1545.2,917.6 1547,917.2 1548.7,916.8 1550.5,916.4 1552.2,916 1554,915.6 1555.8,915.2 1557.5,914.8 1559.3,914.4 1561,914 1562.8,913.6 1564.5,913.2 1566.3,912.8 1568,912.4 1569.8,912 1571.6,911.7 1573.3,911.3 1575.1,910.9 1576.8,910.5 1578.6,910.2 1580.3,909.8 1582.1,909.4 1583.8,909.1 1585.6,908.7 1587.3,908.3 1589.1,908 1590.9,907.6 1592.6,907.2 1594.4,906.9 1596.1,906.5 1597.9,906.2 1599.6,905.8 1601.4,905.5 1603.1,905.1 1604.9,904.8 1606.6,904.4 1608.4,904.1 1610.2,903.7 1611.9,903.4 1613.7,903 1615.4,902.7 1617.2,902.4 1618.9,902 1620.7,901.7 1622.4,901.3 1624.2,901 1626,900.7 1627.7,900.3 1629.5,900 1631.2,899.7 1633,899.3 1634.7,899 1636.5,898.7 1638.2,898.4 1640,898 1641.7,897.7 1643.5,897.4 1645.3,897.1 1647,896.7 1648.8,896.4 1650.5,896.1 1652.3,895.8 1654,895.4 1655.8,895.1 1657.5,894.8 1659.3,894.5 1661,894.2 1662.8,893.9 1664.6,893.6 1666.3,893.2 1668.1,892.9 1669.8,892.6 1671.6,892.3 1673.3,892 1675.1,891.7 1676.8,891.4 1678.6,891.1 1680.3,890.8 1682.1,890.5 1683.9,890.1 1685.6,889.8 1687.4,889.5 1689.1,889.2 1690.9,888.9 1692.6,888.6 1694.4,888.3 1696.1,888 1697.9,887.7 1699.7,887.4 1701.4,887.1 1703.2,886.8 1704.9,886.5 1706.7,886.2 1708.4,885.9 1710.2,885.7 1711.9,885.4 1713.7,885.1 1715.4,884.8 1717.2,884.5 1719,884.2 1720.7,883.9 1722.5,883.6 1724.2,883.3" fill="none" stroke="#2a2a2a" stroke-width="3.2" stroke-linejoin="round"/>
<path d="M1462.8 938.4V941.4M1464.5 936.9V940.2M1466.3 935.5V939.1M1468 934V937.9M1469.8 932.5V936.8M1471.5 931.1V935.7M1473.3 929.6V934.5M1475 928.2V933.4M1476.8 926.7V932.2M1478.5 925.2V931.1M1480.3 923.8V930M1482.1 922.3V928.8M1483.8 920.8V927.7M1485.6 919.4V926.5M1487.3 917.9V925.4M1489.1 916.4V924.2M1490.8 915V923.1M1492.6 913.5V922M1494.3 912V920.8M1496.1 910.6V919.7M1497.9 909.1V918.5M1499.6 907.7V917.4M1501.4 906.2V916.3M1503.1 904.7V915.1M1504.9 903.3V914M1506.6 901.8V912.8M1508.4 900.3V911.7M1510.1 898.9V910.5M1511.9 897.4V909.4M1513.6 895.9V908.3M1515.4 894.5V907.1M1517.2 893V906M1518.9 891.5V904.8M1520.7 890.1V903.7M1522.4 888.6V902.6M1524.2 887.2V901.4M1525.9 885.7V900.3M1527.7 884.2V899.1M1529.4 882.8V898M1531.2 881.3V896.8M1532.9 879.8V895.7M1534.7 878.4V894.6M1536.5 876.9V893.4M1538.2 875.4V892.3M1540 874V891.1M1541.7 872.5V890M1543.5 871V888.9M1545.2 869.6V887.7M1547 868.1V886.6M1548.7 866.7V885.4M1550.5 865.2V884.3M1552.2 863.7V883.2M1554 862.3V882M1555.8 860.8V880.9M1557.5 859.3V879.7M1559.3 857.9V878.6M1561 856.4V877.4M1562.8 854.9V876.3M1564.5 853.5V875.2M1566.3 852V874M1568 850.5V872.9M1569.8 849.1V871.7M1571.6 847.6V870.6M1573.3 846.1V869.5M1575.1 844.7V868.3M1576.8 843.2V867.2M1578.6 841.8V866M1580.3 840.3V864.9M1582.1 838.8V863.7M1583.8 837.4V862.6M1585.6 835.9V861.5M1587.3 834.4V860.3M1589.1 833V859.2M1590.9 831.5V858M1592.6 830V856.9M1594.4 828.6V855.8M1596.1 827.1V854.6M1597.9 825.6V853.5M1599.6 824.2V852.3M1601.4 822.7V851.2M1603.1 821.3V850M1604.9 819.8V848.9M1606.6 818.3V847.8M1608.4 816.9V846.6M1610.2 815.4V845.5M1611.9 813.9V844.3M1613.7 812.5V843.2M1615.4 811V842.1M1617.2 809.5V840.9M1618.9 808.1V839.8M1620.7 806.6V838.6M1622.4 805.1V837.5M1624.2 803.7V836.3M1626 802.2V835.2M1627.7 800.8V834.1M1629.5 799.3V832.9M1631.2 797.8V831.8M1633 796.4V830.6M1634.7 794.9V829.5M1636.5 793.4V828.4M1638.2 792V827.2M1640 790.5V826.1M1641.7 789V824.9M1643.5 787.6V823.8M1645.3 786.1V822.6M1647 784.6V821.5M1648.8 783.2V820.4M1650.5 781.7V819.2M1652.3 780.3V818.1M1654 778.8V816.9M1655.8 777.3V815.8M1657.5 775.9V814.7M1659.3 774.4V813.5M1661 772.9V812.4M1662.8 771.5V811.2M1664.6 770V810.1M1666.3 768.5V808.9M1668.1 767.1V807.8M1669.8 765.6V806.7M1671.6 764.1V805.5M1673.3 762.7V804.4M1675.1 761.2V803.2M1676.8 759.8V802.1M1678.6 758.3V801M1680.3 756.8V799.8M1682.1 755.4V798.7M1683.9 753.9V797.5M1685.6 752.4V796.4M1687.4 751V795.2M1689.1 749.5V794.1M1690.9 748V793M1692.6 746.6V791.8M1694.4 745.1V790.7M1696.1 743.6V789.5M1697.9 742.2V788.4M1699.7 740.7V787.3M1701.4 739.2V786.1M1703.2 737.8V785M1704.9 736.3V783.8M1706.7 734.9V782.7M1708.4 733.4V781.5M1710.2 731.9V780.4M1711.9 730.5V779.3M1713.7 729V778.1M1715.4 727.5V777M1717.2 726.1V775.8M1719 724.6V774.7M1720.7 723.1V773.6M1722.5 721.7V772.4M1724.2 720.2V771.3" fill="none" stroke="#b8def5" stroke-width="0.9"/>
<polyline points="1439.9,958.8 1441.7,957.3 1443.5,955.9 1445.2,954.4 1447,952.9 1448.7,951.5 1450.5,950 1452.2,948.5 1454,947.1 1455.7,945.6 1457.5,944.1 1459.2,942.7 1461,941.2 1462.8,939.9 1464.5,938.6 1466.3,937.3 1468,936 1469.8,934.7 1471.5,933.4 1473.3,932.1 1475,930.8 1476.8,929.5 1478.5,928.2 1480.3,926.9 1482.1,925.6 1483.8,924.3 1485.6,923 1487.3,921.6 1489.1,920.3 1490.8,919 1492.6,917.7 1494.3,916.4 1496.1,915.1 1497.9,913.8 1499.6,912.5 1501.4,911.2 1503.1,909.9 1504.9,908.6 1506.6,907.3 1508.4,906 1510.1,904.7 1511.9,903.4 1513.6,902.1 1515.4,900.8 1517.2,899.5 1518.9,898.2 1520.7,896.9 1522.4,895.6 1524.2,894.3 1525.9,893 1527.7,891.7 1529.4,890.4 1531.2,889.1 1532.9,887.8 1534.7,886.5 1536.5,885.2 1538.2,883.9 1540,882.6 1541.7,881.3 1543.5,880 1545.2,878.6 1547,877.3 1548.7,876 1550.5,874.7 1552.2,873.4 1554,872.1 1555.8,870.8 1557.5,869.5 1559.3,868.2 1561,866.9 1562.8,865.6 1564.5,864.3 1566.3,863 1568,861.7 1569.8,860.4 1571.6,859.1 1573.3,857.8 1575.1,856.5 1576.8,855.2 1578.6,853.9 1580.3,852.6 1582.1,851.3 1583.8,850 1585.6,848.7 1587.3,847.4 1589.1,846.1 1590.9,844.8 1592.6,843.5 1594.4,842.2 1596.1,840.9 1597.9,839.6 1599.6,838.3 1601.4,837 1603.1,835.6 1604.9,834.3 1606.6,833 1608.4,831.7 1610.2,830.4 1611.9,829.1 1613.7,827.8 1615.4,826.5 1617.2,825.2 1618.9,823.9 1620.7,822.6 1622.4,821.3 1624.2,820 1626,818.7 1627.7,817.4 1629.5,816.1 1631.2,814.8 1633,813.5 1634.7,812.2 1636.5,810.9 1638.2,809.6 1640,808.3 1641.7,807 1643.5,805.7 1645.3,804.4 1647,803.1 1648.8,801.8 1650.5,800.5 1652.3,799.2 1654,797.9 1655.8,796.6 1657.5,795.3 1659.3,794 1661,792.7 1662.8,791.3 1664.6,790 1666.3,788.7 1668.1,787.4 1669.8,786.1 1671.6,784.8 1673.3,783.5 1675.1,782.2 1676.8,780.9 1678.6,779.6 1680.3,778.3 1682.1,777 1683.9,775.7 1685.6,774.4 1687.4,773.1 1689.1,771.8 1690.9,770.5 1692.6,769.2 1694.4,767.9 1696.1,766.6 1697.9,765.3 1699.7,764 1701.4,762.7 1703.2,761.4 1704.9,760.1 1706.7,758.8 1708.4,757.5 1710.2,756.2 1711.9,754.9 1713.7,753.6 1715.4,752.3 1717.2,751 1719,749.7 1720.7,748.3 1722.5,747 1724.2,745.7" fill="none" stroke="#7cbde9" stroke-width="3.4" stroke-linejoin="round"/>
<path d="M1462.8 946.6V948.4M1464.5 946.3V948.1M1466.3 946V947.8M1468 945.7V947.6M1469.8 945.4V947.3M1471.5 945.1V947M1473.3 944.8V946.8M1475 944.5V946.5M1476.8 944.2V946.3M1478.5 944V946.1M1480.3 943.7V945.8M1482.1 943.4V945.6M1483.8 943.2V945.4M1485.6 942.9V945.2M1487.3 942.7V945M1489.1 942.5V944.8M1490.8 942.2V944.6M1492.6 942V944.4M1494.3 941.8V944.2M1496.1 941.6V944M1497.9 941.3V943.8M1499.6 941.1V943.7M1501.4 940.9V943.5M1503.1 940.7V943.3M1504.9 940.5V943.2M1506.6 940.3V943M1508.4 940.2V942.9M1510.1 940V942.7M1511.9 939.8V942.6M1513.6 939.6V942.4M1515.4 939.4V942.3M1517.2 939.3V942.2M1518.9 939.1V942M1520.7 938.9V941.9M1522.4 938.8V941.8M1524.2 938.6V941.7M1525.9 938.5V941.5M1527.7 938.3V941.4M1529.4 938.2V941.3M1531.2 938V941.2M1532.9 937.9V941.1M1534.7 937.8V941M1536.5 937.6V940.9M1538.2 937.5V940.8M1540 937.4V940.7M1541.7 937.2V940.6M1543.5 937.1V940.5M1545.2 937V940.4M1547 936.9V940.3M1548.7 936.7V940.3M1550.5 936.6V940.2M1552.2 936.5V940.1M1554 936.4V940M1555.8 936.3V940M1557.5 936.2V939.9M1559.3 936.1V939.8M1561 936V939.7M1562.8 935.9V939.7M1564.5 935.8V939.6M1566.3 935.7V939.5M1568 935.6V939.5M1569.8 935.5V939.4M1571.6 935.4V939.4M1573.3 935.3V939.3M1575.1 935.2V939.3M1576.8 935.1V939.2M1578.6 935V939.2M1580.3 935V939.1M1582.1 934.9V939.1M1583.8 934.8V939M1585.6 934.7V939M1587.3 934.6V938.9M1589.1 934.6V938.9M1590.9 934.5V938.8M1592.6 934.4V938.8M1594.4 934.3V938.8M1596.1 934.3V938.7M1597.9 934.2V938.7M1599.6 934.1V938.7M1601.4 934.1V938.6M1603.1 934V938.6M1604.9 933.9V938.6M1606.6 933.9V938.5M1608.4 933.8V938.5M1610.2 933.7V938.5M1611.9 933.7V938.5M1613.7 933.6V938.4M1615.4 933.5V938.4M1617.2 933.5V938.4M1618.9 933.4V938.4M1620.7 933.4V938.3M1622.4 933.3V938.3M1624.2 933.3V938.3M1626 933.2V938.3M1627.7 933.2V938.3M1629.5 933.1V938.2M1631.2 933V938.2M1633 933V938.2M1634.7 932.9V938.2M1636.5 932.9V938.2M1638.2 932.8V938.2M1640 932.8V938.2M1641.7 932.8V938.1M1643.5 932.7V938.1M1645.3 932.7V938.1M1647 932.6V938.1M1648.8 932.6V938.1M1650.5 932.5V938.1M1652.3 932.5V938.1M1654 932.4V938.1M1655.8 932.4V938.1M1657.5 932.4V938.1M1659.3 932.3V938M1661 932.3V938M1662.8 932.2V938M1664.6 932.2V938M1666.3 932.1V938M1668.1 932.1V938M1669.8 932.1V938M1671.6 932V938M1673.3 932V938M1675.1 932V938M1676.8 931.9V938M1678.6 931.9V938M1680.3 931.9V938M1682.1 931.8V938M1683.9 931.8V938M1685.6 931.7V938M1687.4 931.7V938M1689.1 931.7V938M1690.9 931.6V938M1692.6 931.6V938M1694.4 931.6V938M1696.1 931.5V938M1697.9 931.5V938M1699.7 931.5V938M1701.4 931.5V938M1703.2 931.4V938M1704.9 931.4V938M1706.7 931.4V938.1M1708.4 931.3V938.1M1710.2 931.3V938.1M1711.9 931.3V938.1M1713.7 931.2V938.1M1715.4 931.2V938.1M1717.2 931.2V938.1M1719 931.2V938.1M1720.7 931.1V938.1M1722.5 931.1V938.1M1724.2 931.1V938.1" fill="none" stroke="#efd9a8" stroke-width="0.9"/>
<polyline points="1439.9,958.8 1441.7,957.9 1443.5,957 1445.2,956 1447,955.1 1448.7,954.2 1450.5,953.3 1452.2,952.4 1454,951.5 1455.7,950.5 1457.5,949.6 1459.2,948.7 1461,947.8 1462.8,947.5 1464.5,947.2 1466.3,946.9 1468,946.6 1469.8,946.3 1471.5,946 1473.3,945.8 1475,945.5 1476.8,945.3 1478.5,945 1480.3,944.8 1482.1,944.5 1483.8,944.3 1485.6,944.1 1487.3,943.8 1489.1,943.6 1490.8,943.4 1492.6,943.2 1494.3,943 1496.1,942.8 1497.9,942.6 1499.6,942.4 1501.4,942.2 1503.1,942 1504.9,941.9 1506.6,941.7 1508.4,941.5 1510.1,941.3 1511.9,941.2 1513.6,941 1515.4,940.9 1517.2,940.7 1518.9,940.6 1520.7,940.4 1522.4,940.3 1524.2,940.1 1525.9,940 1527.7,939.9 1529.4,939.7 1531.2,939.6 1532.9,939.5 1534.7,939.4 1536.5,939.3 1538.2,939.1 1540,939 1541.7,938.9 1543.5,938.8 1545.2,938.7 1547,938.6 1548.7,938.5 1550.5,938.4 1552.2,938.3 1554,938.2 1555.8,938.1 1557.5,938 1559.3,937.9 1561,937.9 1562.8,937.8 1564.5,937.7 1566.3,937.6 1568,937.5 1569.8,937.5 1571.6,937.4 1573.3,937.3 1575.1,937.2 1576.8,937.2 1578.6,937.1 1580.3,937 1582.1,937 1583.8,936.9 1585.6,936.8 1587.3,936.8 1589.1,936.7 1590.9,936.7 1592.6,936.6 1594.4,936.6 1596.1,936.5 1597.9,936.4 1599.6,936.4 1601.4,936.3 1603.1,936.3 1604.9,936.2 1606.6,936.2 1608.4,936.1 1610.2,936.1 1611.9,936.1 1613.7,936 1615.4,936 1617.2,935.9 1618.9,935.9 1620.7,935.9 1622.4,935.8 1624.2,935.8 1626,935.7 1627.7,935.7 1629.5,935.7 1631.2,935.6 1633,935.6 1634.7,935.6 1636.5,935.5 1638.2,935.5 1640,935.5 1641.7,935.4 1643.5,935.4 1645.3,935.4 1647,935.4 1648.8,935.3 1650.5,935.3 1652.3,935.3 1654,935.3 1655.8,935.2 1657.5,935.2 1659.3,935.2 1661,935.2 1662.8,935.1 1664.6,935.1 1666.3,935.1 1668.1,935.1 1669.8,935 1671.6,935 1673.3,935 1675.1,935 1676.8,935 1678.6,935 1680.3,934.9 1682.1,934.9 1683.9,934.9 1685.6,934.9 1687.4,934.9 1689.1,934.8 1690.9,934.8 1692.6,934.8 1694.4,934.8 1696.1,934.8 1697.9,934.8 1699.7,934.8 1701.4,934.7 1703.2,934.7 1704.9,934.7 1706.7,934.7 1708.4,934.7 1710.2,934.7 1711.9,934.7 1713.7,934.7 1715.4,934.6 1717.2,934.6 1719,934.6 1720.7,934.6 1722.5,934.6 1724.2,934.6" fill="none" stroke="#dca23e" stroke-width="3.4" stroke-linejoin="round"/>
<line x1="1740" y1="749.7" x2="1740" y2="863" stroke="#000" stroke-width="1.7"/>
<text x="1754.5" y="815.5" font-size="26" text-anchor="middle" font-weight="bold">#</text>
<line x1="1740" y1="883" x2="1740" y2="930" stroke="#000" stroke-width="1.7"/>
<text x="1756" y="921" font-size="34" text-anchor="middle" font-weight="bold">*</text>
</g>
<g id="panel_g">
<text x="245" y="1176" font-size="34" font-weight="bold">g</text>
<g transform="translate(750.5 1155) scale(1)" fill="#bfbfbf"><rect x="-6.3" y="0" width="12.6" height="3" rx="1.2"/><rect x="-4.6" y="2.4" width="9.2" height="6.8"/><path d="M-10 10.6 C-10 8.8 -8.5 8.4 -6.5 8.4 L6.5 8.4 C8.5 8.4 9.8 8.8 9.8 10.6 L8.6 10.6 C8.6 9.9 8 9.7 6.5 9.8 L-6.5 9.8 C-8 9.7 -8.8 9.9 -8.8 10.6 Z"/><path d="M-6.4 8.6 L6.3 8.6 L6.3 33 C6.3 36.5 3.5 38.5 1.8 40.5 L-1.9 40.5 C-3.8 38.5 -6.4 36.5 -6.4 33 Z"/><path d="M-1.9 40 L1.7 40 L0.6 58 L-0.7 58 Z"/></g><g transform="translate(750.5 1155) scale(1)" fill="#fff"><rect x="-4.3" y="12.0" width="8.3" height="2.9"/><rect x="-4.3" y="19.8" width="8.3" height="2.9"/><rect x="-4.3" y="27.2" width="8.3" height="2.9"/></g>
<text x="769" y="1185" font-size="24">CNO</text>
<polyline points="381.8,1486.8 405.7,1409.8 429.5,1212.9" fill="none" stroke="#d4d4d4" stroke-width="1" stroke-linejoin="round"/>
<polyline points="477.2,1493.4 501.1,1382.6 524.9,1417.6 548.8,1443.4 572.6,1495.2 596.5,1480.9 620.3,1499.6 644.2,1479.9 668,1475.7 691.9,1483.5 715.7,1449.3" fill="none" stroke="#d4d4d4" stroke-width="1" stroke-linejoin="round"/>
<polyline points="787.2,1493 811.1,1456.8" fill="none" stroke="#d4d4d4" stroke-width="1" stroke-linejoin="round"/>
<polyline points="858.8,1479.8 882.7,1392.5" fill="none" stroke="#d4d4d4" stroke-width="1" stroke-linejoin="round"/>
<polyline points="381.8,1487.4 405.7,1429.4 429.5,1303.2" fill="none" stroke="#d4d4d4" stroke-width="1" stroke-linejoin="round"/>
<polyline points="477.2,1485.8 501.1,1277.5 524.9,1369.8 548.8,1397.6 572.6,1442 596.5,1499.6 620.3,1499.6 644.2,1476.3 668,1448.6 691.9,1499.6 715.7,1479.6" fill="none" stroke="#d4d4d4" stroke-width="1" stroke-linejoin="round"/>
<polyline points="787.2,1481.8 811.1,1421.8" fill="none" stroke="#d4d4d4" stroke-width="1" stroke-linejoin="round"/>
<polyline points="858.8,1486.1 882.7,1374.8" fill="none" stroke="#d4d4d4" stroke-width="1" stroke-linejoin="round"/>
<polyline points="381.8,1484 405.7,1465.9 429.5,1258.6" fill="none" stroke="#d4d4d4" stroke-width="1" stroke-linejoin="round"/>
<polyline points="477.2,1499 501.1,1416 524.9,1391.9 548.8,1478.5 572.6,1457.1 596.5,1499.6 620.3,1490.4 644.2,1495.2 668,1471.6 691.9,1484.7 715.7,1453.4" fill="none" stroke="#d4d4d4" stroke-width="1" stroke-linejoin="round"/>
<polyline points="787.2,1493.9 811.1,1402.6" fill="none" stroke="#d4d4d4" stroke-width="1" stroke-linejoin="round"/>
<polyline points="858.8,1484.1 882.7,1382.9" fill="none" stroke="#d4d4d4" stroke-width="1" stroke-linejoin="round"/>
<polyline points="381.8,1478 405.7,1464.1 429.5,1359.5" fill="none" stroke="#d4d4d4" stroke-width="1" stroke-linejoin="round"/>
<polyline points="477.2,1493.9 501.1,1254.8 524.9,1478.8 548.8,1437.9 572.6,1451 596.5,1487.6 620.3,1499.6 644.2,1499.6 668,1442 691.9,1476.8 715.7,1463" fill="none" stroke="#d4d4d4" stroke-width="1" stroke-linejoin="round"/>
<polyline points="787.2,1485.5 811.1,1445" fill="none" stroke="#d4d4d4" stroke-width="1" stroke-linejoin="round"/>
<polyline points="858.8,1484.9 882.7,1346.9" fill="none" stroke="#d4d4d4" stroke-width="1" stroke-linejoin="round"/>
<polyline points="381.8,1478.7 405.7,1439.1 429.5,1376.8" fill="none" stroke="#d4d4d4" stroke-width="1" stroke-linejoin="round"/>
<polyline points="477.2,1494.6 501.1,1300.5 524.9,1402.2 548.8,1444.2 572.6,1476.8 596.5,1483.7 620.3,1462.1 644.2,1480.9 668,1438.5 691.9,1485.2 715.7,1427.5" fill="none" stroke="#d4d4d4" stroke-width="1" stroke-linejoin="round"/>
<polyline points="787.2,1478 811.1,1470.6" fill="none" stroke="#d4d4d4" stroke-width="1" stroke-linejoin="round"/>
<polyline points="858.8,1484.3 882.7,1426.1" fill="none" stroke="#d4d4d4" stroke-width="1" stroke-linejoin="round"/>
<polyline points="381.8,1487.7 405.7,1436.5 429.5,1277.4" fill="none" stroke="#d4d4d4" stroke-width="1" stroke-linejoin="round"/>
<polyline points="477.2,1488.7 501.1,1374.4 524.9,1438.3 548.8,1449.1 572.6,1480.3 596.5,1488.9 620.3,1499.6 644.2,1472.7 668,1443.4 691.9,1499.2 715.7,1470.7" fill="none" stroke="#d4d4d4" stroke-width="1" stroke-linejoin="round"/>
<polyline points="787.2,1480.5 811.1,1415.4" fill="none" stroke="#d4d4d4" stroke-width="1" stroke-linejoin="round"/>
<polyline points="858.8,1484.1 882.7,1360.9" fill="none" stroke="#d4d4d4" stroke-width="1" stroke-linejoin="round"/>
<polyline points="381.8,1473.4 405.7,1439.5 429.5,1328.2" fill="none" stroke="#eddfbd" stroke-width="1" stroke-linejoin="round"/>
<polyline points="477.2,1495.8 501.1,1341.3 524.9,1470.1 548.8,1463.6 572.6,1456.5 596.5,1490.7 620.3,1490.1 644.2,1468.6 668,1467.9 691.9,1476.7 715.7,1479.2" fill="none" stroke="#eddfbd" stroke-width="1" stroke-linejoin="round"/>
<polyline points="787.2,1492.2 811.1,1405.1" fill="none" stroke="#eddfbd" stroke-width="1" stroke-linejoin="round"/>
<polyline points="858.8,1496.8 882.7,1479.2" fill="none" stroke="#eddfbd" stroke-width="1" stroke-linejoin="round"/>
<polyline points="381.8,1481.4 405.7,1438.2 429.5,1212.9" fill="none" stroke="#eddfbd" stroke-width="1" stroke-linejoin="round"/>
<polyline points="477.2,1492.2 501.1,1318.7 524.9,1373.7 548.8,1458 572.6,1442.3 596.5,1490.1 620.3,1484.6 644.2,1488.5 668,1499.5 691.9,1466 715.7,1482.1" fill="none" stroke="#eddfbd" stroke-width="1" stroke-linejoin="round"/>
<polyline points="787.2,1496.3 811.1,1444" fill="none" stroke="#eddfbd" stroke-width="1" stroke-linejoin="round"/>
<polyline points="858.8,1495.4 882.7,1426.6" fill="none" stroke="#eddfbd" stroke-width="1" stroke-linejoin="round"/>
<polyline points="381.8,1481.9 405.7,1462.3 429.5,1359" fill="none" stroke="#eddfbd" stroke-width="1" stroke-linejoin="round"/>
<polyline points="477.2,1493.9 501.1,1351.3 524.9,1409.1 548.8,1498.7 572.6,1473.9 596.5,1470.7 620.3,1499.6 644.2,1499.6 668,1474.7 691.9,1480.4 715.7,1477.7" fill="none" stroke="#eddfbd" stroke-width="1" stroke-linejoin="round"/>
<polyline points="787.2,1491.5 811.1,1411.7" fill="none" stroke="#eddfbd" stroke-width="1" stroke-linejoin="round"/>
<polyline points="858.8,1499.5 882.7,1463.9" fill="none" stroke="#eddfbd" stroke-width="1" stroke-linejoin="round"/>
<polyline points="381.8,1480.3 405.7,1467.2 429.5,1247.2" fill="none" stroke="#eddfbd" stroke-width="1" stroke-linejoin="round"/>
<polyline points="477.2,1495.6 501.1,1351.3 524.9,1415.7 548.8,1455.6 572.6,1489.2 596.5,1469.5 620.3,1491.5 644.2,1470.8 668,1492.5 691.9,1461 715.7,1499.6" fill="none" stroke="#eddfbd" stroke-width="1" stroke-linejoin="round"/>
<polyline points="787.2,1489 811.1,1405" fill="none" stroke="#eddfbd" stroke-width="1" stroke-linejoin="round"/>
<polyline points="858.8,1492.9 882.7,1442.8" fill="none" stroke="#eddfbd" stroke-width="1" stroke-linejoin="round"/>
<polyline points="381.8,1471.7 405.7,1460.3 429.5,1258.4" fill="none" stroke="#eddfbd" stroke-width="1" stroke-linejoin="round"/>
<polyline points="477.2,1493.9 501.1,1456 524.9,1438.2 548.8,1480.4 572.6,1475.3 596.5,1488.7 620.3,1499.6 644.2,1480.4 668,1460.4 691.9,1482.6 715.7,1493" fill="none" stroke="#eddfbd" stroke-width="1" stroke-linejoin="round"/>
<polyline points="787.2,1484.9 811.1,1463.8" fill="none" stroke="#eddfbd" stroke-width="1" stroke-linejoin="round"/>
<polyline points="858.8,1496 882.7,1456.8" fill="none" stroke="#eddfbd" stroke-width="1" stroke-linejoin="round"/>
<polyline points="381.8,1467 405.7,1453.6 429.5,1262.4" fill="none" stroke="#eddfbd" stroke-width="1" stroke-linejoin="round"/>
<polyline points="477.2,1476.5 501.1,1377.9 524.9,1398 548.8,1497.4 572.6,1484.6 596.5,1457.7 620.3,1482.1 644.2,1472.6 668,1448.6 691.9,1499.6 715.7,1468.7" fill="none" stroke="#eddfbd" stroke-width="1" stroke-linejoin="round"/>
<polyline points="787.2,1494.3 811.1,1432.1" fill="none" stroke="#eddfbd" stroke-width="1" stroke-linejoin="round"/>
<polyline points="858.8,1497.2 882.7,1413.2" fill="none" stroke="#eddfbd" stroke-width="1" stroke-linejoin="round"/>
<line x1="453.4" y1="1209" x2="453.4" y2="1503.6" stroke="#111" stroke-width="1.7" stroke-dasharray="4.5 3"/>
<line x1="739.5" y1="1209" x2="739.5" y2="1503.6" stroke="#111" stroke-width="1.7" stroke-dasharray="4.5 3"/>
<line x1="835" y1="1209" x2="835" y2="1503.6" stroke="#111" stroke-width="1.7" stroke-dasharray="4.5 3"/>
<line x1="365.7" y1="1212.4" x2="365.7" y2="1500.4" stroke="#000" stroke-width="1.7"/>
<line x1="356.7" y1="1499.6" x2="899" y2="1499.6" stroke="#000" stroke-width="1.7"/>
<line x1="356.7" y1="1499.6" x2="365.7" y2="1499.6" stroke="#000" stroke-width="1.7"/>
<text x="353" y="1508.2" font-size="24" text-anchor="end">0</text>
<line x1="356.7" y1="1427.9" x2="365.7" y2="1427.9" stroke="#000" stroke-width="1.7"/>
<text x="353" y="1436.5" font-size="24" text-anchor="end">25</text>
<line x1="356.7" y1="1356.2" x2="365.7" y2="1356.2" stroke="#000" stroke-width="1.7"/>
<text x="353" y="1364.8" font-size="24" text-anchor="end">50</text>
<line x1="356.7" y1="1284.6" x2="365.7" y2="1284.6" stroke="#000" stroke-width="1.7"/>
<text x="353" y="1293.2" font-size="24" text-anchor="end">75</text>
<line x1="356.7" y1="1212.9" x2="365.7" y2="1212.9" stroke="#000" stroke-width="1.7"/>
<text x="353" y="1221.5" font-size="24" text-anchor="end">100</text>
<line x1="381.8" y1="1499.6" x2="381.8" y2="1505.6" stroke="#000" stroke-width="1.5"/>
<text x="381.8" y="1532" font-size="24" text-anchor="middle">b</text>
<line x1="405.7" y1="1499.6" x2="405.7" y2="1505.6" stroke="#000" stroke-width="1.5"/>
<text x="405.7" y="1532" font-size="24" text-anchor="middle">1</text>
<line x1="429.5" y1="1499.6" x2="429.5" y2="1505.6" stroke="#000" stroke-width="1.5"/>
<text x="429.5" y="1532" font-size="24" text-anchor="middle">3</text>
<line x1="453.4" y1="1499.6" x2="453.4" y2="1505.6" stroke="#000" stroke-width="1.5"/>
<line x1="477.2" y1="1499.6" x2="477.2" y2="1505.6" stroke="#000" stroke-width="1.5"/>
<text x="477.2" y="1532" font-size="24" text-anchor="middle">b</text>
<line x1="501.1" y1="1499.6" x2="501.1" y2="1505.6" stroke="#000" stroke-width="1.5"/>
<text x="501.1" y="1532" font-size="24" text-anchor="middle">1</text>
<line x1="524.9" y1="1499.6" x2="524.9" y2="1505.6" stroke="#000" stroke-width="1.5"/>
<text x="524.9" y="1532" font-size="24" text-anchor="middle">2</text>
<line x1="548.8" y1="1499.6" x2="548.8" y2="1505.6" stroke="#000" stroke-width="1.5"/>
<text x="548.8" y="1532" font-size="24" text-anchor="middle">3</text>
<line x1="572.6" y1="1499.6" x2="572.6" y2="1505.6" stroke="#000" stroke-width="1.5"/>
<text x="572.6" y="1532" font-size="24" text-anchor="middle">4</text>
<line x1="596.5" y1="1499.6" x2="596.5" y2="1505.6" stroke="#000" stroke-width="1.5"/>
<text x="596.5" y="1532" font-size="24" text-anchor="middle">5</text>
<line x1="620.3" y1="1499.6" x2="620.3" y2="1505.6" stroke="#000" stroke-width="1.5"/>
<text x="620.3" y="1532" font-size="24" text-anchor="middle">6</text>
<line x1="644.2" y1="1499.6" x2="644.2" y2="1505.6" stroke="#000" stroke-width="1.5"/>
<text x="644.2" y="1532" font-size="24" text-anchor="middle">7</text>
<line x1="668" y1="1499.6" x2="668" y2="1505.6" stroke="#000" stroke-width="1.5"/>
<text x="668" y="1532" font-size="24" text-anchor="middle">8</text>
<line x1="691.9" y1="1499.6" x2="691.9" y2="1505.6" stroke="#000" stroke-width="1.5"/>
<text x="691.9" y="1532" font-size="24" text-anchor="middle">9</text>
<line x1="715.7" y1="1499.6" x2="715.7" y2="1505.6" stroke="#000" stroke-width="1.5"/>
<text x="715.7" y="1532" font-size="24" text-anchor="middle">10</text>
<line x1="739.5" y1="1499.6" x2="739.5" y2="1505.6" stroke="#000" stroke-width="1.5"/>
<line x1="763.4" y1="1499.6" x2="763.4" y2="1505.6" stroke="#000" stroke-width="1.5"/>
<line x1="787.2" y1="1499.6" x2="787.2" y2="1505.6" stroke="#000" stroke-width="1.5"/>
<text x="787.2" y="1532" font-size="24" text-anchor="middle">b</text>
<line x1="811.1" y1="1499.6" x2="811.1" y2="1505.6" stroke="#000" stroke-width="1.5"/>
<text x="811.1" y="1532" font-size="24" text-anchor="middle">1</text>
<line x1="835" y1="1499.6" x2="835" y2="1505.6" stroke="#000" stroke-width="1.5"/>
<line x1="858.8" y1="1499.6" x2="858.8" y2="1505.6" stroke="#000" stroke-width="1.5"/>
<text x="858.8" y="1532" font-size="24" text-anchor="middle">b</text>
<line x1="882.7" y1="1499.6" x2="882.7" y2="1505.6" stroke="#000" stroke-width="1.5"/>
<text x="882.7" y="1532" font-size="24" text-anchor="middle">1</text>
<line x1="405.7" y1="1439.4" x2="405.7" y2="1395" stroke="#000" stroke-width="1.7"/>
<line x1="401.5" y1="1395" x2="409.9" y2="1395" stroke="#000" stroke-width="1.7"/>
<line x1="405.7" y1="1439.4" x2="405.7" y2="1485.3" stroke="#000" stroke-width="1.7"/>
<line x1="401.5" y1="1485.3" x2="409.9" y2="1485.3" stroke="#000" stroke-width="1.7"/>
<line x1="405.7" y1="1452.3" x2="405.7" y2="1474.1" stroke="#000" stroke-width="1.7"/>
<line x1="401.5" y1="1474.1" x2="409.9" y2="1474.1" stroke="#000" stroke-width="1.7"/>
<line x1="405.7" y1="1452.3" x2="405.7" y2="1430.8" stroke="#000" stroke-width="1.7"/>
<line x1="401.5" y1="1430.8" x2="409.9" y2="1430.8" stroke="#000" stroke-width="1.7"/>
<line x1="429.5" y1="1261.6" x2="429.5" y2="1227.2" stroke="#000" stroke-width="1.7"/>
<line x1="425.3" y1="1227.2" x2="433.7" y2="1227.2" stroke="#000" stroke-width="1.7"/>
<line x1="429.5" y1="1290.3" x2="429.5" y2="1311.8" stroke="#000" stroke-width="1.7"/>
<line x1="425.3" y1="1311.8" x2="433.7" y2="1311.8" stroke="#000" stroke-width="1.7"/>
<line x1="429.5" y1="1290.3" x2="429.5" y2="1270.2" stroke="#000" stroke-width="1.7"/>
<line x1="425.3" y1="1270.2" x2="433.7" y2="1270.2" stroke="#000" stroke-width="1.7"/>
<line x1="501.1" y1="1333.3" x2="501.1" y2="1308.7" stroke="#000" stroke-width="1.7"/>
<line x1="496.9" y1="1308.7" x2="505.2" y2="1308.7" stroke="#000" stroke-width="1.7"/>
<line x1="501.1" y1="1362" x2="501.1" y2="1382.1" stroke="#000" stroke-width="1.7"/>
<line x1="496.9" y1="1382.1" x2="505.2" y2="1382.1" stroke="#000" stroke-width="1.7"/>
<line x1="524.9" y1="1406.4" x2="524.9" y2="1393.5" stroke="#000" stroke-width="1.7"/>
<line x1="520.7" y1="1393.5" x2="529.1" y2="1393.5" stroke="#000" stroke-width="1.7"/>
<line x1="524.9" y1="1426.5" x2="524.9" y2="1445.1" stroke="#000" stroke-width="1.7"/>
<line x1="520.7" y1="1445.1" x2="529.1" y2="1445.1" stroke="#000" stroke-width="1.7"/>
<line x1="548.8" y1="1439.4" x2="548.8" y2="1412.2" stroke="#000" stroke-width="1.7"/>
<line x1="544.5" y1="1412.2" x2="553" y2="1412.2" stroke="#000" stroke-width="1.7"/>
<line x1="548.8" y1="1465.2" x2="548.8" y2="1479.5" stroke="#000" stroke-width="1.7"/>
<line x1="544.5" y1="1479.5" x2="553" y2="1479.5" stroke="#000" stroke-width="1.7"/>
<line x1="572.6" y1="1470.9" x2="572.6" y2="1451.4" stroke="#000" stroke-width="1.7"/>
<line x1="568.4" y1="1451.4" x2="576.8" y2="1451.4" stroke="#000" stroke-width="1.7"/>
<line x1="572.6" y1="1476.7" x2="572.6" y2="1491" stroke="#000" stroke-width="1.7"/>
<line x1="568.4" y1="1491" x2="576.8" y2="1491" stroke="#000" stroke-width="1.7"/>
<line x1="596.5" y1="1485.3" x2="596.5" y2="1470.9" stroke="#000" stroke-width="1.7"/>
<line x1="592.2" y1="1470.9" x2="600.7" y2="1470.9" stroke="#000" stroke-width="1.7"/>
<line x1="668" y1="1455.2" x2="668" y2="1445.1" stroke="#000" stroke-width="1.7"/>
<line x1="663.8" y1="1445.1" x2="672.2" y2="1445.1" stroke="#000" stroke-width="1.7"/>
<line x1="668" y1="1455.2" x2="668" y2="1465.2" stroke="#000" stroke-width="1.7"/>
<line x1="663.8" y1="1465.2" x2="672.2" y2="1465.2" stroke="#000" stroke-width="1.7"/>
<line x1="715.7" y1="1459.5" x2="715.7" y2="1445.1" stroke="#000" stroke-width="1.7"/>
<line x1="711.5" y1="1445.1" x2="719.9" y2="1445.1" stroke="#000" stroke-width="1.7"/>
<line x1="715.7" y1="1459.5" x2="715.7" y2="1473.8" stroke="#000" stroke-width="1.7"/>
<line x1="711.5" y1="1473.8" x2="719.9" y2="1473.8" stroke="#000" stroke-width="1.7"/>
<line x1="811.1" y1="1435.1" x2="811.1" y2="1416.5" stroke="#000" stroke-width="1.7"/>
<line x1="806.9" y1="1416.5" x2="815.3" y2="1416.5" stroke="#000" stroke-width="1.7"/>
<line x1="811.1" y1="1448" x2="811.1" y2="1462.3" stroke="#000" stroke-width="1.7"/>
<line x1="806.9" y1="1462.3" x2="815.3" y2="1462.3" stroke="#000" stroke-width="1.7"/>
<line x1="882.7" y1="1413.6" x2="882.7" y2="1402.1" stroke="#000" stroke-width="1.7"/>
<line x1="878.5" y1="1402.1" x2="886.9" y2="1402.1" stroke="#000" stroke-width="1.7"/>
<line x1="882.7" y1="1438" x2="882.7" y2="1450.9" stroke="#000" stroke-width="1.7"/>
<line x1="878.5" y1="1450.9" x2="886.9" y2="1450.9" stroke="#000" stroke-width="1.7"/>
<line x1="644.2" y1="1476.7" x2="644.2" y2="1468.1" stroke="#000" stroke-width="1.7"/>
<line x1="640" y1="1468.1" x2="648.4" y2="1468.1" stroke="#000" stroke-width="1.7"/>
<line x1="620.3" y1="1482.4" x2="620.3" y2="1473.8" stroke="#000" stroke-width="1.7"/>
<line x1="616.1" y1="1473.8" x2="624.5" y2="1473.8" stroke="#000" stroke-width="1.7"/>
<polyline points="405.7,1439.4 429.5,1261.6" fill="none" stroke="#1a1a1a" stroke-width="2" stroke-linejoin="round"/>
<polyline points="501.1,1333.3 524.9,1406.4 548.8,1439.4 572.6,1470.9 596.5,1485.3 620.3,1482.4 644.2,1488.1 668,1455.2 691.9,1488.1 715.7,1459.5" fill="none" stroke="#1a1a1a" stroke-width="2" stroke-linejoin="round"/>
<polyline points="405.7,1452.3 429.5,1290.3" fill="none" stroke="#1a1a1a" stroke-width="2" stroke-linejoin="round"/>
<polyline points="501.1,1362 524.9,1426.5 548.8,1465.2 572.6,1476.7 596.5,1481 620.3,1483.8 644.2,1476.7 668,1483.8 691.9,1491 715.7,1486.7" fill="none" stroke="#1a1a1a" stroke-width="2" stroke-linejoin="round"/>
<circle cx="381.8" cy="1491" r="7.8" fill="#fff" stroke="#1a1a1a" stroke-width="1.9"/>
<circle cx="381.8" cy="1483.8" r="7.8" fill="#e3a63f" stroke="#1a1a1a" stroke-width="1.9"/>
<circle cx="405.7" cy="1439.4" r="7.8" fill="#fff" stroke="#1a1a1a" stroke-width="1.9"/>
<circle cx="405.7" cy="1452.3" r="7.8" fill="#e3a63f" stroke="#1a1a1a" stroke-width="1.9"/>
<circle cx="429.5" cy="1261.6" r="7.8" fill="#fff" stroke="#1a1a1a" stroke-width="1.9"/>
<circle cx="429.5" cy="1290.3" r="7.8" fill="#e3a63f" stroke="#1a1a1a" stroke-width="1.9"/>
<circle cx="477.2" cy="1499.6" r="7.8" fill="#fff" stroke="#1a1a1a" stroke-width="1.9"/>
<circle cx="477.2" cy="1499.6" r="7.8" fill="#e3a63f" stroke="#1a1a1a" stroke-width="1.9"/>
<circle cx="501.1" cy="1333.3" r="7.8" fill="#fff" stroke="#1a1a1a" stroke-width="1.9"/>
<circle cx="501.1" cy="1362" r="7.8" fill="#e3a63f" stroke="#1a1a1a" stroke-width="1.9"/>
<circle cx="524.9" cy="1406.4" r="7.8" fill="#fff" stroke="#1a1a1a" stroke-width="1.9"/>
<circle cx="524.9" cy="1426.5" r="7.8" fill="#e3a63f" stroke="#1a1a1a" stroke-width="1.9"/>
<circle cx="548.8" cy="1439.4" r="7.8" fill="#fff" stroke="#1a1a1a" stroke-width="1.9"/>
<circle cx="548.8" cy="1465.2" r="7.8" fill="#e3a63f" stroke="#1a1a1a" stroke-width="1.9"/>
<circle cx="572.6" cy="1470.9" r="7.8" fill="#fff" stroke="#1a1a1a" stroke-width="1.9"/>
<circle cx="572.6" cy="1476.7" r="7.8" fill="#e3a63f" stroke="#1a1a1a" stroke-width="1.9"/>
<circle cx="596.5" cy="1485.3" r="7.8" fill="#fff" stroke="#1a1a1a" stroke-width="1.9"/>
<circle cx="596.5" cy="1481" r="7.8" fill="#e3a63f" stroke="#1a1a1a" stroke-width="1.9"/>
<circle cx="620.3" cy="1482.4" r="7.8" fill="#fff" stroke="#1a1a1a" stroke-width="1.9"/>
<circle cx="620.3" cy="1483.8" r="7.8" fill="#e3a63f" stroke="#1a1a1a" stroke-width="1.9"/>
<circle cx="644.2" cy="1488.1" r="7.8" fill="#fff" stroke="#1a1a1a" stroke-width="1.9"/>
<circle cx="644.2" cy="1476.7" r="7.8" fill="#e3a63f" stroke="#1a1a1a" stroke-width="1.9"/>
<circle cx="668" cy="1455.2" r="7.8" fill="#fff" stroke="#1a1a1a" stroke-width="1.9"/>
<circle cx="668" cy="1483.8" r="7.8" fill="#e3a63f" stroke="#1a1a1a" stroke-width="1.9"/>
<circle cx="691.9" cy="1488.1" r="7.8" fill="#fff" stroke="#1a1a1a" stroke-width="1.9"/>
<circle cx="691.9" cy="1491" r="7.8" fill="#e3a63f" stroke="#1a1a1a" stroke-width="1.9"/>
<circle cx="715.7" cy="1459.5" r="7.8" fill="#fff" stroke="#1a1a1a" stroke-width="1.9"/>
<circle cx="715.7" cy="1486.7" r="7.8" fill="#e3a63f" stroke="#1a1a1a" stroke-width="1.9"/>
<circle cx="787.2" cy="1498.2" r="7.8" fill="#fff" stroke="#1a1a1a" stroke-width="1.9"/>
<circle cx="787.2" cy="1498.2" r="7.8" fill="#e3a63f" stroke="#1a1a1a" stroke-width="1.9"/>
<circle cx="811.1" cy="1435.1" r="7.8" fill="#fff" stroke="#1a1a1a" stroke-width="1.9"/>
<circle cx="811.1" cy="1448" r="7.8" fill="#e3a63f" stroke="#1a1a1a" stroke-width="1.9"/>
<circle cx="858.8" cy="1493.9" r="7.8" fill="#fff" stroke="#1a1a1a" stroke-width="1.9"/>
<circle cx="858.8" cy="1499.6" r="7.8" fill="#e3a63f" stroke="#1a1a1a" stroke-width="1.9"/>
<circle cx="882.7" cy="1413.6" r="7.8" fill="#fff" stroke="#1a1a1a" stroke-width="1.9"/>
<circle cx="882.7" cy="1438" r="7.8" fill="#e3a63f" stroke="#1a1a1a" stroke-width="1.9"/>
<line x1="588" y1="1224.6" x2="618.6" y2="1224.6" stroke="#333" stroke-width="1.3"/>
<circle cx="603" cy="1224.6" r="7.8" fill="#fff" stroke="#1a1a1a" stroke-width="1.9"/>
<line x1="588" y1="1258.6" x2="618.6" y2="1258.6" stroke="#333" stroke-width="1.3"/>
<circle cx="603" cy="1258.6" r="7.8" fill="#e3a63f" stroke="#1a1a1a" stroke-width="1.9"/>
<text x="637" y="1233" font-size="24">Control</text>
<text x="637" y="1267.5" font-size="24">hM3Dq</text>
<text x="301" y="1355" font-size="24" text-anchor="middle" transform="rotate(-90 301 1355)">Freezing (%)</text>
<text x="410.5" y="1564" font-size="24" text-anchor="middle">CS</text>
<text x="699.6" y="1564" font-size="24" text-anchor="middle">5-CS trial-block</text>
<text x="413" y="1601" font-size="24" text-anchor="middle">F-Con</text>
<text x="595" y="1601" font-size="24" text-anchor="middle">Ext</text>
<text x="836.7" y="1601" font-size="24" text-anchor="middle">E-Ret</text>
</g>
<g id="panel_h">
<text x="1009" y="1176.4" font-size="34" font-weight="bold">h</text>
<g transform="translate(1516 1155) scale(1)" fill="#bfbfbf"><rect x="-6.3" y="0" width="12.6" height="3" rx="1.2"/><rect x="-4.6" y="2.4" width="9.2" height="6.8"/><path d="M-10 10.6 C-10 8.8 -8.5 8.4 -6.5 8.4 L6.5 8.4 C8.5 8.4 9.8 8.8 9.8 10.6 L8.6 10.6 C8.6 9.9 8 9.7 6.5 9.8 L-6.5 9.8 C-8 9.7 -8.8 9.9 -8.8 10.6 Z"/><path d="M-6.4 8.6 L6.3 8.6 L6.3 33 C6.3 36.5 3.5 38.5 1.8 40.5 L-1.9 40.5 C-3.8 38.5 -6.4 36.5 -6.4 33 Z"/><path d="M-1.9 40 L1.7 40 L0.6 58 L-0.7 58 Z"/></g><g transform="translate(1516 1155) scale(1)" fill="#fff"><rect x="-4.3" y="12.0" width="8.3" height="2.9"/><rect x="-4.3" y="19.8" width="8.3" height="2.9"/><rect x="-4.3" y="27.2" width="8.3" height="2.9"/></g>
<text x="1533.5" y="1184" font-size="24">CNO</text>
<polyline points="1143.9,1453.5 1167.7,1472.1 1191.6,1198" fill="none" stroke="#d4d4d4" stroke-width="1" stroke-linejoin="round"/>
<polyline points="1239.2,1478.7 1263.1,1396.6 1286.9,1435.4 1310.7,1440.4 1334.5,1454 1358.4,1485.2 1382.2,1481 1406,1440.6 1429.9,1475.3 1453.7,1475.4 1477.5,1450.4" fill="none" stroke="#d4d4d4" stroke-width="1" stroke-linejoin="round"/>
<polyline points="1549,1484.4 1572.8,1431" fill="none" stroke="#d4d4d4" stroke-width="1" stroke-linejoin="round"/>
<polyline points="1620.5,1471 1644.3,1390.3" fill="none" stroke="#d4d4d4" stroke-width="1" stroke-linejoin="round"/>
<polyline points="1143.9,1459.6 1167.7,1471.6 1191.6,1232.1" fill="none" stroke="#d4d4d4" stroke-width="1" stroke-linejoin="round"/>
<polyline points="1239.2,1474.7 1263.1,1404.5 1286.9,1405.8 1310.7,1424.8 1334.5,1457.5 1358.4,1452.3 1382.2,1483.2 1406,1476.3 1429.9,1485.2 1453.7,1474.6 1477.5,1464.7" fill="none" stroke="#d4d4d4" stroke-width="1" stroke-linejoin="round"/>
<polyline points="1549,1478 1572.8,1449.8" fill="none" stroke="#d4d4d4" stroke-width="1" stroke-linejoin="round"/>
<polyline points="1620.5,1469.7 1644.3,1399.4" fill="none" stroke="#d4d4d4" stroke-width="1" stroke-linejoin="round"/>
<polyline points="1143.9,1459.4 1167.7,1469.2 1191.6,1267.3" fill="none" stroke="#d4d4d4" stroke-width="1" stroke-linejoin="round"/>
<polyline points="1239.2,1465.8 1263.1,1332.2 1286.9,1485.2 1310.7,1469.4 1334.5,1472.9 1358.4,1485.2 1382.2,1477.3 1406,1473.5 1429.9,1485.2 1453.7,1482.3 1477.5,1475" fill="none" stroke="#d4d4d4" stroke-width="1" stroke-linejoin="round"/>
<polyline points="1549,1485.1 1572.8,1482.7" fill="none" stroke="#d4d4d4" stroke-width="1" stroke-linejoin="round"/>
<polyline points="1620.5,1465.2 1644.3,1359.8" fill="none" stroke="#d4d4d4" stroke-width="1" stroke-linejoin="round"/>
<polyline points="1143.9,1453.4 1167.7,1458.5 1191.6,1231.8" fill="none" stroke="#d4d4d4" stroke-width="1" stroke-linejoin="round"/>
<polyline points="1239.2,1481.6 1263.1,1339.5 1286.9,1410.6 1310.7,1433.5 1334.5,1485.2 1358.4,1454.4 1382.2,1485.2 1406,1479.6 1429.9,1483 1453.7,1485.2 1477.5,1470.9" fill="none" stroke="#d4d4d4" stroke-width="1" stroke-linejoin="round"/>
<polyline points="1549,1483.2 1572.8,1429.4" fill="none" stroke="#d4d4d4" stroke-width="1" stroke-linejoin="round"/>
<polyline points="1620.5,1480 1644.3,1422.7" fill="none" stroke="#d4d4d4" stroke-width="1" stroke-linejoin="round"/>
<polyline points="1143.9,1454.6 1167.7,1467.9 1191.6,1282.9" fill="none" stroke="#d4d4d4" stroke-width="1" stroke-linejoin="round"/>
<polyline points="1239.2,1470.4 1263.1,1307.5 1286.9,1413.6 1310.7,1410 1334.5,1464.9 1358.4,1473.4 1382.2,1466.1 1406,1485.2 1429.9,1456.5 1453.7,1485.2 1477.5,1485.2" fill="none" stroke="#d4d4d4" stroke-width="1" stroke-linejoin="round"/>
<polyline points="1549,1484.8 1572.8,1433.6" fill="none" stroke="#d4d4d4" stroke-width="1" stroke-linejoin="round"/>
<polyline points="1620.5,1478.6 1644.3,1432.9" fill="none" stroke="#d4d4d4" stroke-width="1" stroke-linejoin="round"/>
<polyline points="1143.9,1451.4 1167.7,1466.5 1191.6,1198" fill="none" stroke="#d4d4d4" stroke-width="1" stroke-linejoin="round"/>
<polyline points="1239.2,1484.5 1263.1,1319.4 1286.9,1412.8 1310.7,1440.4 1334.5,1483.3 1358.4,1485.2 1382.2,1485.2 1406,1457.7 1429.9,1454.3 1453.7,1485.2 1477.5,1463.1" fill="none" stroke="#d4d4d4" stroke-width="1" stroke-linejoin="round"/>
<polyline points="1549,1484.2 1572.8,1437.5" fill="none" stroke="#d4d4d4" stroke-width="1" stroke-linejoin="round"/>
<polyline points="1620.5,1479.5 1644.3,1443" fill="none" stroke="#d4d4d4" stroke-width="1" stroke-linejoin="round"/>
<polyline points="1143.9,1453.6 1167.7,1398.1 1191.6,1343.4" fill="none" stroke="#c9e4f4" stroke-width="1" stroke-linejoin="round"/>
<polyline points="1239.2,1468.1 1263.1,1337.2 1286.9,1485.2 1310.7,1440.8 1334.5,1485.2 1358.4,1485.2 1382.2,1471.9 1406,1465.7 1429.9,1485.2 1453.7,1485 1477.5,1468.4" fill="none" stroke="#c9e4f4" stroke-width="1" stroke-linejoin="round"/>
<polyline points="1549,1476.1 1572.8,1425.6" fill="none" stroke="#c9e4f4" stroke-width="1" stroke-linejoin="round"/>
<polyline points="1620.5,1483.2 1644.3,1420.7" fill="none" stroke="#c9e4f4" stroke-width="1" stroke-linejoin="round"/>
<polyline points="1143.9,1464.7 1167.7,1417.7 1191.6,1198" fill="none" stroke="#c9e4f4" stroke-width="1" stroke-linejoin="round"/>
<polyline points="1239.2,1482.5 1263.1,1306.5 1286.9,1437.8 1310.7,1474.1 1334.5,1473.2 1358.4,1469.4 1382.2,1474.1 1406,1473.2 1429.9,1485.2 1453.7,1485.2 1477.5,1485.2" fill="none" stroke="#c9e4f4" stroke-width="1" stroke-linejoin="round"/>
<polyline points="1549,1477.3 1572.8,1415.7" fill="none" stroke="#c9e4f4" stroke-width="1" stroke-linejoin="round"/>
<polyline points="1620.5,1473.2 1644.3,1396.6" fill="none" stroke="#c9e4f4" stroke-width="1" stroke-linejoin="round"/>
<polyline points="1143.9,1469.8 1167.7,1435 1191.6,1267.9" fill="none" stroke="#c9e4f4" stroke-width="1" stroke-linejoin="round"/>
<polyline points="1239.2,1481.8 1263.1,1348 1286.9,1424.9 1310.7,1443.7 1334.5,1473.2 1358.4,1485.2 1382.2,1452.9 1406,1465.8 1429.9,1471.7 1453.7,1465.5 1477.5,1467.9" fill="none" stroke="#c9e4f4" stroke-width="1" stroke-linejoin="round"/>
<polyline points="1549,1480 1572.8,1414.4" fill="none" stroke="#c9e4f4" stroke-width="1" stroke-linejoin="round"/>
<polyline points="1620.5,1476.9 1644.3,1466.4" fill="none" stroke="#c9e4f4" stroke-width="1" stroke-linejoin="round"/>
<polyline points="1143.9,1458.9 1167.7,1467.5 1191.6,1268.5" fill="none" stroke="#c9e4f4" stroke-width="1" stroke-linejoin="round"/>
<polyline points="1239.2,1480.6 1263.1,1312.6 1286.9,1419.4 1310.7,1446.6 1334.5,1474 1358.4,1485.2 1382.2,1473.1 1406,1467.7 1429.9,1480.7 1453.7,1479.2 1477.5,1466" fill="none" stroke="#c9e4f4" stroke-width="1" stroke-linejoin="round"/>
<polyline points="1549,1472.8 1572.8,1454.4" fill="none" stroke="#c9e4f4" stroke-width="1" stroke-linejoin="round"/>
<polyline points="1620.5,1479.9 1644.3,1399.9" fill="none" stroke="#c9e4f4" stroke-width="1" stroke-linejoin="round"/>
<polyline points="1143.9,1465.2 1167.7,1485.2 1191.6,1392.8" fill="none" stroke="#c9e4f4" stroke-width="1" stroke-linejoin="round"/>
<polyline points="1239.2,1473.2 1263.1,1389.6 1286.9,1383.2 1310.7,1434.3 1334.5,1445.1 1358.4,1470.1 1382.2,1484.6 1406,1476.2 1429.9,1457.4 1453.7,1456.9 1477.5,1448.3" fill="none" stroke="#c9e4f4" stroke-width="1" stroke-linejoin="round"/>
<polyline points="1549,1473.1 1572.8,1446.2" fill="none" stroke="#c9e4f4" stroke-width="1" stroke-linejoin="round"/>
<polyline points="1620.5,1483.8 1644.3,1308.9" fill="none" stroke="#c9e4f4" stroke-width="1" stroke-linejoin="round"/>
<polyline points="1143.9,1469.2 1167.7,1434.8 1191.6,1198" fill="none" stroke="#c9e4f4" stroke-width="1" stroke-linejoin="round"/>
<polyline points="1239.2,1484.8 1263.1,1402.4 1286.9,1400.9 1310.7,1468.5 1334.5,1481 1358.4,1453.4 1382.2,1485.2 1406,1480.2 1429.9,1485.2 1453.7,1485.2 1477.5,1472.6" fill="none" stroke="#c9e4f4" stroke-width="1" stroke-linejoin="round"/>
<polyline points="1549,1473.1 1572.8,1465.2" fill="none" stroke="#c9e4f4" stroke-width="1" stroke-linejoin="round"/>
<polyline points="1620.5,1472.2 1644.3,1367" fill="none" stroke="#c9e4f4" stroke-width="1" stroke-linejoin="round"/>
<line x1="1215.4" y1="1194.5" x2="1215.4" y2="1489.2" stroke="#111" stroke-width="1.7" stroke-dasharray="4.5 3"/>
<line x1="1501.4" y1="1194.5" x2="1501.4" y2="1489.2" stroke="#111" stroke-width="1.7" stroke-dasharray="4.5 3"/>
<line x1="1596.7" y1="1194.5" x2="1596.7" y2="1489.2" stroke="#111" stroke-width="1.7" stroke-dasharray="4.5 3"/>
<line x1="1127.6" y1="1197.5" x2="1127.6" y2="1486" stroke="#000" stroke-width="1.7"/>
<line x1="1118.6" y1="1485.2" x2="1661.5" y2="1485.2" stroke="#000" stroke-width="1.7"/>
<line x1="1118.6" y1="1485.2" x2="1127.6" y2="1485.2" stroke="#000" stroke-width="1.7"/>
<text x="1115.3" y="1493.8" font-size="24" text-anchor="end">0</text>
<line x1="1118.6" y1="1413.4" x2="1127.6" y2="1413.4" stroke="#000" stroke-width="1.7"/>
<text x="1115.3" y="1422" font-size="24" text-anchor="end">25</text>
<line x1="1118.6" y1="1341.6" x2="1127.6" y2="1341.6" stroke="#000" stroke-width="1.7"/>
<text x="1115.3" y="1350.2" font-size="24" text-anchor="end">50</text>
<line x1="1118.6" y1="1269.8" x2="1127.6" y2="1269.8" stroke="#000" stroke-width="1.7"/>
<text x="1115.3" y="1278.4" font-size="24" text-anchor="end">75</text>
<line x1="1118.6" y1="1198" x2="1127.6" y2="1198" stroke="#000" stroke-width="1.7"/>
<text x="1115.3" y="1206.6" font-size="24" text-anchor="end">100</text>
<line x1="1143.9" y1="1485.2" x2="1143.9" y2="1491.2" stroke="#000" stroke-width="1.5"/>
<text x="1143.9" y="1516" font-size="24" text-anchor="middle">b</text>
<line x1="1167.7" y1="1485.2" x2="1167.7" y2="1491.2" stroke="#000" stroke-width="1.5"/>
<text x="1167.7" y="1516" font-size="24" text-anchor="middle">1</text>
<line x1="1191.6" y1="1485.2" x2="1191.6" y2="1491.2" stroke="#000" stroke-width="1.5"/>
<text x="1191.6" y="1516" font-size="24" text-anchor="middle">3</text>
<line x1="1215.4" y1="1485.2" x2="1215.4" y2="1491.2" stroke="#000" stroke-width="1.5"/>
<line x1="1239.2" y1="1485.2" x2="1239.2" y2="1491.2" stroke="#000" stroke-width="1.5"/>
<text x="1239.2" y="1516" font-size="24" text-anchor="middle">b</text>
<line x1="1263.1" y1="1485.2" x2="1263.1" y2="1491.2" stroke="#000" stroke-width="1.5"/>
<text x="1263.1" y="1516" font-size="24" text-anchor="middle">1</text>
<line x1="1286.9" y1="1485.2" x2="1286.9" y2="1491.2" stroke="#000" stroke-width="1.5"/>
<text x="1286.9" y="1516" font-size="24" text-anchor="middle">2</text>
<line x1="1310.7" y1="1485.2" x2="1310.7" y2="1491.2" stroke="#000" stroke-width="1.5"/>
<text x="1310.7" y="1516" font-size="24" text-anchor="middle">3</text>
<line x1="1334.5" y1="1485.2" x2="1334.5" y2="1491.2" stroke="#000" stroke-width="1.5"/>
<text x="1334.5" y="1516" font-size="24" text-anchor="middle">4</text>
<line x1="1358.4" y1="1485.2" x2="1358.4" y2="1491.2" stroke="#000" stroke-width="1.5"/>
<text x="1358.4" y="1516" font-size="24" text-anchor="middle">5</text>
<line x1="1382.2" y1="1485.2" x2="1382.2" y2="1491.2" stroke="#000" stroke-width="1.5"/>
<text x="1382.2" y="1516" font-size="24" text-anchor="middle">6</text>
<line x1="1406" y1="1485.2" x2="1406" y2="1491.2" stroke="#000" stroke-width="1.5"/>
<text x="1406" y="1516" font-size="24" text-anchor="middle">7</text>
<line x1="1429.9" y1="1485.2" x2="1429.9" y2="1491.2" stroke="#000" stroke-width="1.5"/>
<text x="1429.9" y="1516" font-size="24" text-anchor="middle">8</text>
<line x1="1453.7" y1="1485.2" x2="1453.7" y2="1491.2" stroke="#000" stroke-width="1.5"/>
<text x="1453.7" y="1516" font-size="24" text-anchor="middle">9</text>
<line x1="1477.5" y1="1485.2" x2="1477.5" y2="1491.2" stroke="#000" stroke-width="1.5"/>
<text x="1477.5" y="1516" font-size="24" text-anchor="middle">10</text>
<line x1="1501.4" y1="1485.2" x2="1501.4" y2="1491.2" stroke="#000" stroke-width="1.5"/>
<line x1="1525.2" y1="1485.2" x2="1525.2" y2="1491.2" stroke="#000" stroke-width="1.5"/>
<line x1="1549" y1="1485.2" x2="1549" y2="1491.2" stroke="#000" stroke-width="1.5"/>
<text x="1549" y="1516" font-size="24" text-anchor="middle">b</text>
<line x1="1572.8" y1="1485.2" x2="1572.8" y2="1491.2" stroke="#000" stroke-width="1.5"/>
<text x="1572.8" y="1516" font-size="24" text-anchor="middle">1</text>
<line x1="1596.7" y1="1485.2" x2="1596.7" y2="1491.2" stroke="#000" stroke-width="1.5"/>
<line x1="1620.5" y1="1485.2" x2="1620.5" y2="1491.2" stroke="#000" stroke-width="1.5"/>
<text x="1620.5" y="1516" font-size="24" text-anchor="middle">b</text>
<line x1="1644.3" y1="1485.2" x2="1644.3" y2="1491.2" stroke="#000" stroke-width="1.5"/>
<text x="1644.3" y="1516" font-size="24" text-anchor="middle">1</text>
<line x1="1143.9" y1="1460.8" x2="1143.9" y2="1446.4" stroke="#000" stroke-width="1.7"/>
<line x1="1139.7" y1="1446.4" x2="1148.1" y2="1446.4" stroke="#000" stroke-width="1.7"/>
<line x1="1167.7" y1="1473.7" x2="1167.7" y2="1462.2" stroke="#000" stroke-width="1.7"/>
<line x1="1163.5" y1="1462.2" x2="1171.9" y2="1462.2" stroke="#000" stroke-width="1.7"/>
<line x1="1167.7" y1="1432.1" x2="1167.7" y2="1422" stroke="#000" stroke-width="1.7"/>
<line x1="1163.5" y1="1422" x2="1171.9" y2="1422" stroke="#000" stroke-width="1.7"/>
<line x1="1167.7" y1="1432.1" x2="1167.7" y2="1442.1" stroke="#000" stroke-width="1.7"/>
<line x1="1163.5" y1="1442.1" x2="1171.9" y2="1442.1" stroke="#000" stroke-width="1.7"/>
<line x1="1191.6" y1="1239.6" x2="1191.6" y2="1229.6" stroke="#000" stroke-width="1.7"/>
<line x1="1187.4" y1="1229.6" x2="1195.8" y2="1229.6" stroke="#000" stroke-width="1.7"/>
<line x1="1191.6" y1="1258.3" x2="1191.6" y2="1281.3" stroke="#000" stroke-width="1.7"/>
<line x1="1187.4" y1="1281.3" x2="1195.8" y2="1281.3" stroke="#000" stroke-width="1.7"/>
<line x1="1263.1" y1="1333" x2="1263.1" y2="1303.4" stroke="#000" stroke-width="1.7"/>
<line x1="1258.9" y1="1303.4" x2="1267.3" y2="1303.4" stroke="#000" stroke-width="1.7"/>
<line x1="1263.1" y1="1356" x2="1263.1" y2="1376.1" stroke="#000" stroke-width="1.7"/>
<line x1="1258.9" y1="1376.1" x2="1267.3" y2="1376.1" stroke="#000" stroke-width="1.7"/>
<line x1="1286.9" y1="1417.7" x2="1286.9" y2="1406.2" stroke="#000" stroke-width="1.7"/>
<line x1="1282.7" y1="1406.2" x2="1291.1" y2="1406.2" stroke="#000" stroke-width="1.7"/>
<line x1="1286.9" y1="1422" x2="1286.9" y2="1430.6" stroke="#000" stroke-width="1.7"/>
<line x1="1282.7" y1="1430.6" x2="1291.1" y2="1430.6" stroke="#000" stroke-width="1.7"/>
<line x1="1310.7" y1="1443.6" x2="1310.7" y2="1426.3" stroke="#000" stroke-width="1.7"/>
<line x1="1306.5" y1="1426.3" x2="1314.9" y2="1426.3" stroke="#000" stroke-width="1.7"/>
<line x1="1310.7" y1="1456.5" x2="1310.7" y2="1470.8" stroke="#000" stroke-width="1.7"/>
<line x1="1306.5" y1="1470.8" x2="1314.9" y2="1470.8" stroke="#000" stroke-width="1.7"/>
<line x1="1334.5" y1="1463.7" x2="1334.5" y2="1456.5" stroke="#000" stroke-width="1.7"/>
<line x1="1330.3" y1="1456.5" x2="1338.7" y2="1456.5" stroke="#000" stroke-width="1.7"/>
<line x1="1572.8" y1="1424.9" x2="1572.8" y2="1410.5" stroke="#000" stroke-width="1.7"/>
<line x1="1568.6" y1="1410.5" x2="1577" y2="1410.5" stroke="#000" stroke-width="1.7"/>
<line x1="1572.8" y1="1439.2" x2="1572.8" y2="1453.6" stroke="#000" stroke-width="1.7"/>
<line x1="1568.6" y1="1453.6" x2="1577" y2="1453.6" stroke="#000" stroke-width="1.7"/>
<line x1="1644.3" y1="1391.9" x2="1644.3" y2="1377.5" stroke="#000" stroke-width="1.7"/>
<line x1="1640.1" y1="1377.5" x2="1648.5" y2="1377.5" stroke="#000" stroke-width="1.7"/>
<line x1="1644.3" y1="1416.3" x2="1644.3" y2="1426.3" stroke="#000" stroke-width="1.7"/>
<line x1="1640.1" y1="1426.3" x2="1648.5" y2="1426.3" stroke="#000" stroke-width="1.7"/>
<polyline points="1167.7,1473.7 1191.6,1258.3" fill="none" stroke="#1a1a1a" stroke-width="2" stroke-linejoin="round"/>
<polyline points="1263.1,1333 1286.9,1422 1310.7,1456.5 1334.5,1470.8 1358.4,1475.1 1382.2,1480.9 1406,1475.1 1429.9,1480.9 1453.7,1485.2 1477.5,1473.7" fill="none" stroke="#1a1a1a" stroke-width="2" stroke-linejoin="round"/>
<polyline points="1167.7,1432.1 1191.6,1239.6" fill="none" stroke="#1a1a1a" stroke-width="2" stroke-linejoin="round"/>
<polyline points="1263.1,1356 1286.9,1417.7 1310.7,1443.6 1334.5,1463.7 1358.4,1472.3 1382.2,1475.1 1406,1469.4 1429.9,1466.5 1453.7,1469.4 1477.5,1468" fill="none" stroke="#1a1a1a" stroke-width="2" stroke-linejoin="round"/>
<circle cx="1143.9" cy="1460.8" r="7.8" fill="#fff" stroke="#1a1a1a" stroke-width="1.9"/>
<circle cx="1143.9" cy="1470.8" r="7.8" fill="#88c6ee" stroke="#1a1a1a" stroke-width="1.9"/>
<circle cx="1167.7" cy="1473.7" r="7.8" fill="#fff" stroke="#1a1a1a" stroke-width="1.9"/>
<circle cx="1167.7" cy="1432.1" r="7.8" fill="#88c6ee" stroke="#1a1a1a" stroke-width="1.9"/>
<circle cx="1191.6" cy="1258.3" r="7.8" fill="#fff" stroke="#1a1a1a" stroke-width="1.9"/>
<circle cx="1191.6" cy="1239.6" r="7.8" fill="#88c6ee" stroke="#1a1a1a" stroke-width="1.9"/>
<circle cx="1239.2" cy="1485.2" r="7.8" fill="#fff" stroke="#1a1a1a" stroke-width="1.9"/>
<circle cx="1239.2" cy="1485.2" r="7.8" fill="#88c6ee" stroke="#1a1a1a" stroke-width="1.9"/>
<circle cx="1263.1" cy="1333" r="7.8" fill="#fff" stroke="#1a1a1a" stroke-width="1.9"/>
<circle cx="1263.1" cy="1356" r="7.8" fill="#88c6ee" stroke="#1a1a1a" stroke-width="1.9"/>
<circle cx="1286.9" cy="1422" r="7.8" fill="#fff" stroke="#1a1a1a" stroke-width="1.9"/>
<circle cx="1286.9" cy="1417.7" r="7.8" fill="#88c6ee" stroke="#1a1a1a" stroke-width="1.9"/>
<circle cx="1310.7" cy="1456.5" r="7.8" fill="#fff" stroke="#1a1a1a" stroke-width="1.9"/>
<circle cx="1310.7" cy="1443.6" r="7.8" fill="#88c6ee" stroke="#1a1a1a" stroke-width="1.9"/>
<circle cx="1334.5" cy="1470.8" r="7.8" fill="#fff" stroke="#1a1a1a" stroke-width="1.9"/>
<circle cx="1334.5" cy="1463.7" r="7.8" fill="#88c6ee" stroke="#1a1a1a" stroke-width="1.9"/>
<circle cx="1358.4" cy="1475.1" r="7.8" fill="#fff" stroke="#1a1a1a" stroke-width="1.9"/>
<circle cx="1358.4" cy="1472.3" r="7.8" fill="#88c6ee" stroke="#1a1a1a" stroke-width="1.9"/>
<circle cx="1382.2" cy="1480.9" r="7.8" fill="#fff" stroke="#1a1a1a" stroke-width="1.9"/>
<circle cx="1382.2" cy="1475.1" r="7.8" fill="#88c6ee" stroke="#1a1a1a" stroke-width="1.9"/>
<circle cx="1406" cy="1475.1" r="7.8" fill="#fff" stroke="#1a1a1a" stroke-width="1.9"/>
<circle cx="1406" cy="1469.4" r="7.8" fill="#88c6ee" stroke="#1a1a1a" stroke-width="1.9"/>
<circle cx="1429.9" cy="1480.9" r="7.8" fill="#fff" stroke="#1a1a1a" stroke-width="1.9"/>
<circle cx="1429.9" cy="1466.5" r="7.8" fill="#88c6ee" stroke="#1a1a1a" stroke-width="1.9"/>
<circle cx="1453.7" cy="1485.2" r="7.8" fill="#fff" stroke="#1a1a1a" stroke-width="1.9"/>
<circle cx="1453.7" cy="1469.4" r="7.8" fill="#88c6ee" stroke="#1a1a1a" stroke-width="1.9"/>
<circle cx="1477.5" cy="1473.7" r="7.8" fill="#fff" stroke="#1a1a1a" stroke-width="1.9"/>
<circle cx="1477.5" cy="1468" r="7.8" fill="#88c6ee" stroke="#1a1a1a" stroke-width="1.9"/>
<circle cx="1549" cy="1485.2" r="7.8" fill="#fff" stroke="#1a1a1a" stroke-width="1.9"/>
<circle cx="1549" cy="1482.3" r="7.8" fill="#88c6ee" stroke="#1a1a1a" stroke-width="1.9"/>
<circle cx="1572.8" cy="1439.2" r="7.8" fill="#fff" stroke="#1a1a1a" stroke-width="1.9"/>
<circle cx="1572.8" cy="1424.9" r="7.8" fill="#88c6ee" stroke="#1a1a1a" stroke-width="1.9"/>
<circle cx="1620.5" cy="1483.8" r="7.8" fill="#fff" stroke="#1a1a1a" stroke-width="1.9"/>
<circle cx="1620.5" cy="1485.2" r="7.8" fill="#88c6ee" stroke="#1a1a1a" stroke-width="1.9"/>
<circle cx="1644.3" cy="1416.3" r="7.8" fill="#fff" stroke="#1a1a1a" stroke-width="1.9"/>
<circle cx="1644.3" cy="1391.9" r="7.8" fill="#88c6ee" stroke="#1a1a1a" stroke-width="1.9"/>
<line x1="1349.8" y1="1215" x2="1380.6" y2="1215" stroke="#333" stroke-width="1.3"/>
<circle cx="1365.4" cy="1215" r="7.8" fill="#fff" stroke="#1a1a1a" stroke-width="1.9"/>
<line x1="1349.8" y1="1249.6" x2="1380.6" y2="1249.6" stroke="#333" stroke-width="1.3"/>
<circle cx="1365.4" cy="1249.6" r="7.8" fill="#88c6ee" stroke="#1a1a1a" stroke-width="1.9"/>
<text x="1398.7" y="1223.5" font-size="24">Control</text>
<text x="1398.7" y="1258" font-size="24">hM4Di</text>
<text x="1062.5" y="1341" font-size="24" text-anchor="middle" transform="rotate(-90 1062.5 1341)">Freezing (%)</text>
<text x="1177" y="1550" font-size="24" text-anchor="middle">CS trial</text>
<text x="1462" y="1550" font-size="24" text-anchor="middle">5-CS trial-block</text>
<text x="1175.4" y="1587" font-size="24" text-anchor="middle">F-Con</text>
<text x="1357.4" y="1587" font-size="24" text-anchor="middle">Ext</text>
<text x="1599" y="1587" font-size="24" text-anchor="middle">E-Ret</text>
</g>
<g id="panel_ijk">
<defs>
<radialGradient id="gOF" cx="50%" cy="50%" r="62%"><stop offset="0" stop-color="#ffffff"/><stop offset="0.45" stop-color="#f4f6fc"/><stop offset="1" stop-color="#a7b9e2"/></radialGradient>
<linearGradient id="gEPM" x1="0" y1="0" x2="0" y2="1"><stop offset="0" stop-color="#a9b9e3"/><stop offset="0.5" stop-color="#f7f8fc"/><stop offset="1" stop-color="#a9b9e3"/></linearGradient>
</defs>
<text x="1" y="1698.7" font-size="34" font-weight="bold">i</text>
<rect x="300.2" y="1701.8" width="14.6" height="14.4" fill="#fff" stroke="#111" stroke-width="1.6"/>
<text x="329.7" y="1718.5" font-size="24">Control</text>
<rect x="441.5" y="1701.8" width="14.6" height="14.4" fill="#86c3ec" stroke="#111" stroke-width="1.6"/>
<text x="471.5" y="1718.5" font-size="24">hM4Di</text>
<text x="85.3" y="1820" font-size="24" text-anchor="middle">Novel open</text>
<text x="85.3" y="1850" font-size="24" text-anchor="middle">field</text>
<rect x="54.5" y="1877.4" width="57.2" height="56.8" fill="url(#gOF)" stroke="#111" stroke-width="2.2"/>
<g transform="translate(148.5 1878) scale(1)" fill="#bfbfbf"><rect x="-6.3" y="0" width="12.6" height="3" rx="1.2"/><rect x="-4.6" y="2.4" width="9.2" height="6.8"/><path d="M-10 10.6 C-10 8.8 -8.5 8.4 -6.5 8.4 L6.5 8.4 C8.5 8.4 9.8 8.8 9.8 10.6 L8.6 10.6 C8.6 9.9 8 9.7 6.5 9.8 L-6.5 9.8 C-8 9.7 -8.8 9.9 -8.8 10.6 Z"/><path d="M-6.4 8.6 L6.3 8.6 L6.3 33 C6.3 36.5 3.5 38.5 1.8 40.5 L-1.9 40.5 C-3.8 38.5 -6.4 36.5 -6.4 33 Z"/><path d="M-1.9 40 L1.7 40 L0.6 58 L-0.7 58 Z"/></g><g transform="translate(148.5 1878) scale(1)" fill="#fff"><rect x="-4.3" y="12.0" width="8.3" height="2.9"/><rect x="-4.3" y="19.8" width="8.3" height="2.9"/><rect x="-4.3" y="27.2" width="8.3" height="2.9"/></g>
<line x1="261" y1="1769.3" x2="261" y2="2057.8" stroke="#000" stroke-width="1.7"/>
<line x1="253" y1="2057" x2="348" y2="2057" stroke="#000" stroke-width="1.7"/>
<line x1="253" y1="2057" x2="261" y2="2057" stroke="#000" stroke-width="1.7"/>
<text x="249" y="2065.6" font-size="24" text-anchor="end">0</text>
<line x1="253" y1="1985.2" x2="261" y2="1985.2" stroke="#000" stroke-width="1.7"/>
<text x="249" y="1993.8" font-size="24" text-anchor="end">20</text>
<line x1="253" y1="1913.4" x2="261" y2="1913.4" stroke="#000" stroke-width="1.7"/>
<text x="249" y="1922" font-size="24" text-anchor="end">40</text>
<line x1="253" y1="1841.6" x2="261" y2="1841.6" stroke="#000" stroke-width="1.7"/>
<text x="249" y="1850.2" font-size="24" text-anchor="end">60</text>
<line x1="253" y1="1769.8" x2="261" y2="1769.8" stroke="#000" stroke-width="1.7"/>
<text x="249" y="1778.4" font-size="24" text-anchor="end">80</text>
<text x="209" y="1915" font-size="24" text-anchor="middle" transform="rotate(-90 209 1915)">Total distance (m)</text>
<line x1="287" y1="1903.5" x2="287" y2="1892.2" stroke="#000" stroke-width="1.5"/>
<line x1="283.8" y1="1892.2" x2="290.2" y2="1892.2" stroke="#000" stroke-width="1.5"/>
<rect x="274.7" y="1903.5" width="24.6" height="153.5" fill="#fff" stroke="#1a1a1a" stroke-width="1.7"/>
<circle cx="286.8" cy="1848.2" r="3" fill="#fff" stroke="#444" stroke-width="1.3"/>
<circle cx="280.8" cy="1879.2" r="3" fill="#fff" stroke="#444" stroke-width="1.3"/>
<circle cx="292" cy="1874.6" r="3" fill="#fff" stroke="#444" stroke-width="1.3"/>
<circle cx="280.4" cy="1900.3" r="3" fill="#fff" stroke="#444" stroke-width="1.3"/>
<circle cx="292" cy="1896.5" r="3" fill="#fff" stroke="#444" stroke-width="1.3"/>
<circle cx="286.8" cy="1912.6" r="3" fill="#fff" stroke="#444" stroke-width="1.3"/>
<circle cx="286.8" cy="1925" r="3" fill="#fff" stroke="#444" stroke-width="1.3"/>
<circle cx="286.8" cy="1936.2" r="3" fill="#fff" stroke="#444" stroke-width="1.3"/>
<circle cx="286.8" cy="1956.6" r="3" fill="#fff" stroke="#444" stroke-width="1.3"/>
<line x1="321" y1="1899.3" x2="321" y2="1889.4" stroke="#000" stroke-width="1.5"/>
<line x1="317.8" y1="1889.4" x2="324.2" y2="1889.4" stroke="#000" stroke-width="1.5"/>
<rect x="308.7" y="1899.3" width="24.6" height="157.7" fill="#86c3ec" stroke="#1a1a1a" stroke-width="1.7"/>
<circle cx="320.2" cy="1826.1" r="3" fill="#d3eff7" stroke="#1f3d50" stroke-width="1.3"/>
<circle cx="320.2" cy="1868.7" r="3" fill="#d3eff7" stroke="#1f3d50" stroke-width="1.3"/>
<circle cx="310.3" cy="1888.7" r="3" fill="#d3eff7" stroke="#1f3d50" stroke-width="1.3"/>
<circle cx="320.2" cy="1883.4" r="3" fill="#d3eff7" stroke="#1f3d50" stroke-width="1.3"/>
<circle cx="330.8" cy="1882.4" r="3" fill="#d3eff7" stroke="#1f3d50" stroke-width="1.3"/>
<circle cx="320.2" cy="1894" r="3" fill="#d3eff7" stroke="#1f3d50" stroke-width="1.3"/>
<circle cx="310.3" cy="1902.1" r="3" fill="#d3eff7" stroke="#1f3d50" stroke-width="1.3"/>
<circle cx="330.8" cy="1902.1" r="3" fill="#d3eff7" stroke="#1f3d50" stroke-width="1.3"/>
<circle cx="320.2" cy="1939" r="3" fill="#d3eff7" stroke="#1f3d50" stroke-width="1.3"/>
<circle cx="315.6" cy="1947.8" r="3" fill="#d3eff7" stroke="#1f3d50" stroke-width="1.3"/>
<circle cx="325.5" cy="1945.7" r="3" fill="#d3eff7" stroke="#1f3d50" stroke-width="1.3"/>
<line x1="505.6" y1="1768.5" x2="505.6" y2="2057.8" stroke="#000" stroke-width="1.7"/>
<line x1="497.6" y1="2057" x2="592.6" y2="2057" stroke="#000" stroke-width="1.7"/>
<line x1="497.6" y1="2057" x2="505.6" y2="2057" stroke="#000" stroke-width="1.7"/>
<text x="494.4" y="2065.6" font-size="24" text-anchor="end">0</text>
<line x1="497.6" y1="1961" x2="505.6" y2="1961" stroke="#000" stroke-width="1.7"/>
<text x="494.4" y="1969.6" font-size="24" text-anchor="end">15</text>
<line x1="497.6" y1="1865" x2="505.6" y2="1865" stroke="#000" stroke-width="1.7"/>
<text x="494.4" y="1873.6" font-size="24" text-anchor="end">30</text>
<line x1="497.6" y1="1769" x2="505.6" y2="1769" stroke="#000" stroke-width="1.7"/>
<text x="494.4" y="1777.6" font-size="24" text-anchor="end">45</text>
<text x="441.2" y="1911.5" font-size="24" text-anchor="middle" transform="rotate(-90 441.2 1911.5)">Center time (%)</text>
<line x1="531.6" y1="1939.7" x2="531.6" y2="1913.3" stroke="#000" stroke-width="1.5"/>
<line x1="528.4" y1="1913.3" x2="534.8" y2="1913.3" stroke="#000" stroke-width="1.5"/>
<rect x="519.3" y="1939.7" width="24.6" height="117.3" fill="#fff" stroke="#1a1a1a" stroke-width="1.7"/>
<circle cx="531.3" cy="1770.8" r="3" fill="#fff" stroke="#444" stroke-width="1.3"/>
<circle cx="531.3" cy="1890.8" r="3" fill="#fff" stroke="#444" stroke-width="1.3"/>
<circle cx="531.3" cy="1913.3" r="3" fill="#fff" stroke="#444" stroke-width="1.3"/>
<circle cx="531.3" cy="1939.7" r="3" fill="#fff" stroke="#444" stroke-width="1.3"/>
<circle cx="531.3" cy="1950.3" r="3" fill="#fff" stroke="#444" stroke-width="1.3"/>
<circle cx="531.3" cy="1965.4" r="3" fill="#fff" stroke="#444" stroke-width="1.3"/>
<circle cx="531.3" cy="1974.9" r="3" fill="#fff" stroke="#444" stroke-width="1.3"/>
<circle cx="531.3" cy="2005.9" r="3" fill="#fff" stroke="#444" stroke-width="1.3"/>
<circle cx="531.3" cy="2037.6" r="3" fill="#fff" stroke="#444" stroke-width="1.3"/>
<line x1="565.6" y1="1969.6" x2="565.6" y2="1960.8" stroke="#000" stroke-width="1.5"/>
<line x1="562.4" y1="1960.8" x2="568.8" y2="1960.8" stroke="#000" stroke-width="1.5"/>
<rect x="553.3" y="1969.6" width="24.6" height="87.4" fill="#86c3ec" stroke="#1a1a1a" stroke-width="1.7"/>
<circle cx="564.7" cy="1908.1" r="3" fill="#d3eff7" stroke="#1f3d50" stroke-width="1.3"/>
<circle cx="564.7" cy="1938.7" r="3" fill="#d3eff7" stroke="#1f3d50" stroke-width="1.3"/>
<circle cx="570" cy="1934.5" r="3" fill="#d3eff7" stroke="#1f3d50" stroke-width="1.3"/>
<circle cx="555.9" cy="1972.5" r="3" fill="#d3eff7" stroke="#1f3d50" stroke-width="1.3"/>
<circle cx="564.7" cy="1972.5" r="3" fill="#d3eff7" stroke="#1f3d50" stroke-width="1.3"/>
<circle cx="574.6" cy="1972.5" r="3" fill="#d3eff7" stroke="#1f3d50" stroke-width="1.3"/>
<circle cx="564.7" cy="1981.3" r="3" fill="#d3eff7" stroke="#1f3d50" stroke-width="1.3"/>
<circle cx="562.3" cy="1990.8" r="3" fill="#d3eff7" stroke="#1f3d50" stroke-width="1.3"/>
<circle cx="567.2" cy="1994.3" r="3" fill="#d3eff7" stroke="#1f3d50" stroke-width="1.3"/>
<circle cx="564.7" cy="2007.3" r="3" fill="#d3eff7" stroke="#1f3d50" stroke-width="1.3"/>
<text x="691.5" y="1698.7" font-size="34" font-weight="bold">j</text>
<rect x="983.5" y="1701.8" width="14.6" height="14.4" fill="#fff" stroke="#111" stroke-width="1.6"/>
<text x="1013" y="1718.5" font-size="24">Control</text>
<rect x="1124.8" y="1701.8" width="14.6" height="14.4" fill="#86c3ec" stroke="#111" stroke-width="1.6"/>
<text x="1154" y="1718.5" font-size="24">hM4Di</text>
<text x="773.5" y="1820" font-size="24" text-anchor="middle">Elevated</text>
<text x="773.5" y="1850" font-size="24" text-anchor="middle">plus-maze</text>
<rect x="761.5" y="1869.5" width="16.8" height="86.5" fill="url(#gEPM)" stroke="#111" stroke-width="2"/>
<rect x="725.5" y="1904.5" width="88" height="17.5" fill="none" stroke="#111" stroke-width="2"/>
<rect x="762.6" y="1905.5" width="14.6" height="15.5" fill="#f2f3f8"/>
<line x1="761.5" y1="1904.5" x2="761.5" y2="1922" stroke="#000" stroke-width="2"/>
<line x1="778.3" y1="1904.5" x2="778.3" y2="1922" stroke="#000" stroke-width="2"/>
<g transform="translate(849.5 1878) scale(1)" fill="#bfbfbf"><rect x="-6.3" y="0" width="12.6" height="3" rx="1.2"/><rect x="-4.6" y="2.4" width="9.2" height="6.8"/><path d="M-10 10.6 C-10 8.8 -8.5 8.4 -6.5 8.4 L6.5 8.4 C8.5 8.4 9.8 8.8 9.8 10.6 L8.6 10.6 C8.6 9.9 8 9.7 6.5 9.8 L-6.5 9.8 C-8 9.7 -8.8 9.9 -8.8 10.6 Z"/><path d="M-6.4 8.6 L6.3 8.6 L6.3 33 C6.3 36.5 3.5 38.5 1.8 40.5 L-1.9 40.5 C-3.8 38.5 -6.4 36.5 -6.4 33 Z"/><path d="M-1.9 40 L1.7 40 L0.6 58 L-0.7 58 Z"/></g><g transform="translate(849.5 1878) scale(1)" fill="#fff"><rect x="-4.3" y="12.0" width="8.3" height="2.9"/><rect x="-4.3" y="19.8" width="8.3" height="2.9"/><rect x="-4.3" y="27.2" width="8.3" height="2.9"/></g>
<line x1="959" y1="1768.5" x2="959" y2="2056.8" stroke="#000" stroke-width="1.7"/>
<line x1="951" y1="2056" x2="1046" y2="2056" stroke="#000" stroke-width="1.7"/>
<line x1="951" y1="2056" x2="959" y2="2056" stroke="#000" stroke-width="1.7"/>
<text x="943" y="2064.6" font-size="24" text-anchor="end">0</text>
<line x1="951" y1="1960.3" x2="959" y2="1960.3" stroke="#000" stroke-width="1.7"/>
<text x="943" y="1968.9" font-size="24" text-anchor="end">5</text>
<line x1="951" y1="1864.7" x2="959" y2="1864.7" stroke="#000" stroke-width="1.7"/>
<text x="943" y="1873.3" font-size="24" text-anchor="end">10</text>
<line x1="951" y1="1769" x2="959" y2="1769" stroke="#000" stroke-width="1.7"/>
<text x="943" y="1777.6" font-size="24" text-anchor="end">15</text>
<text x="902.2" y="1912.3" font-size="24" text-anchor="middle" transform="rotate(-90 902.2 1912.3)">Total distance (m)</text>
<line x1="985" y1="1830.7" x2="985" y2="1817.6" stroke="#000" stroke-width="1.5"/>
<line x1="981.8" y1="1817.6" x2="988.2" y2="1817.6" stroke="#000" stroke-width="1.5"/>
<rect x="972.7" y="1830.7" width="24.6" height="225.3" fill="#fff" stroke="#1a1a1a" stroke-width="1.7"/>
<circle cx="985.5" cy="1786" r="3" fill="#fff" stroke="#444" stroke-width="1.3"/>
<circle cx="978.4" cy="1797.9" r="3" fill="#fff" stroke="#444" stroke-width="1.3"/>
<circle cx="990.8" cy="1797.2" r="3" fill="#fff" stroke="#444" stroke-width="1.3"/>
<circle cx="985.5" cy="1805" r="3" fill="#fff" stroke="#444" stroke-width="1.3"/>
<circle cx="985.5" cy="1817.6" r="3" fill="#fff" stroke="#444" stroke-width="1.3"/>
<circle cx="985.5" cy="1831.4" r="3" fill="#fff" stroke="#444" stroke-width="1.3"/>
<circle cx="985.5" cy="1852.1" r="3" fill="#fff" stroke="#444" stroke-width="1.3"/>
<circle cx="985.5" cy="1887.3" r="3" fill="#fff" stroke="#444" stroke-width="1.3"/>
<circle cx="985.5" cy="1895" r="3" fill="#fff" stroke="#444" stroke-width="1.3"/>
<line x1="1019" y1="1850" x2="1019" y2="1837" stroke="#000" stroke-width="1.5"/>
<line x1="1015.8" y1="1837" x2="1022.2" y2="1837" stroke="#000" stroke-width="1.5"/>
<rect x="1006.7" y="1850" width="24.6" height="206" fill="#86c3ec" stroke="#1a1a1a" stroke-width="1.7"/>
<circle cx="1008.3" cy="1794.8" r="3" fill="#d3eff7" stroke="#1f3d50" stroke-width="1.3"/>
<circle cx="1018.9" cy="1794.8" r="3" fill="#d3eff7" stroke="#1f3d50" stroke-width="1.3"/>
<circle cx="1029.5" cy="1790.9" r="3" fill="#d3eff7" stroke="#1f3d50" stroke-width="1.3"/>
<circle cx="1018.9" cy="1830.7" r="3" fill="#d3eff7" stroke="#1f3d50" stroke-width="1.3"/>
<circle cx="1009" cy="1845.8" r="3" fill="#d3eff7" stroke="#1f3d50" stroke-width="1.3"/>
<circle cx="1018.9" cy="1846.5" r="3" fill="#d3eff7" stroke="#1f3d50" stroke-width="1.3"/>
<circle cx="1029.5" cy="1846.5" r="3" fill="#d3eff7" stroke="#1f3d50" stroke-width="1.3"/>
<circle cx="1018.9" cy="1859.5" r="3" fill="#d3eff7" stroke="#1f3d50" stroke-width="1.3"/>
<circle cx="1028.8" cy="1859.5" r="3" fill="#d3eff7" stroke="#1f3d50" stroke-width="1.3"/>
<circle cx="1028.8" cy="1895.7" r="3" fill="#d3eff7" stroke="#1f3d50" stroke-width="1.3"/>
<circle cx="1018.9" cy="1901" r="3" fill="#d3eff7" stroke="#1f3d50" stroke-width="1.3"/>
<circle cx="1018.9" cy="1917.9" r="3" fill="#d3eff7" stroke="#1f3d50" stroke-width="1.3"/>
<line x1="1182.5" y1="1768.5" x2="1182.5" y2="2056.8" stroke="#000" stroke-width="1.7"/>
<line x1="1174.5" y1="2056" x2="1269.5" y2="2056" stroke="#000" stroke-width="1.7"/>
<line x1="1174.5" y1="2056" x2="1182.5" y2="2056" stroke="#000" stroke-width="1.7"/>
<text x="1170" y="2064.6" font-size="24" text-anchor="end">0</text>
<line x1="1174.5" y1="1960.3" x2="1182.5" y2="1960.3" stroke="#000" stroke-width="1.7"/>
<text x="1170" y="1968.9" font-size="24" text-anchor="end">20</text>
<line x1="1174.5" y1="1864.7" x2="1182.5" y2="1864.7" stroke="#000" stroke-width="1.7"/>
<text x="1170" y="1873.3" font-size="24" text-anchor="end">40</text>
<line x1="1174.5" y1="1769" x2="1182.5" y2="1769" stroke="#000" stroke-width="1.7"/>
<text x="1170" y="1777.6" font-size="24" text-anchor="end">60</text>
<text x="1129.2" y="1911.5" font-size="24" text-anchor="middle" transform="rotate(-90 1129.2 1911.5)">Open arm time (%)</text>
<line x1="1208.5" y1="1976.7" x2="1208.5" y2="1952" stroke="#000" stroke-width="1.5"/>
<line x1="1205.3" y1="1952" x2="1211.7" y2="1952" stroke="#000" stroke-width="1.5"/>
<rect x="1196.2" y="1976.7" width="24.6" height="79.3" fill="#fff" stroke="#1a1a1a" stroke-width="1.7"/>
<circle cx="1208.2" cy="1788.1" r="3" fill="#fff" stroke="#444" stroke-width="1.3"/>
<circle cx="1208.2" cy="1952" r="3" fill="#fff" stroke="#444" stroke-width="1.3"/>
<circle cx="1208.2" cy="1964.4" r="3" fill="#fff" stroke="#444" stroke-width="1.3"/>
<circle cx="1198.4" cy="1994.3" r="3" fill="#fff" stroke="#444" stroke-width="1.3"/>
<circle cx="1217.7" cy="1994.3" r="3" fill="#fff" stroke="#444" stroke-width="1.3"/>
<circle cx="1208.2" cy="1999.5" r="3" fill="#fff" stroke="#444" stroke-width="1.3"/>
<circle cx="1208.2" cy="2018.2" r="3" fill="#fff" stroke="#444" stroke-width="1.3"/>
<circle cx="1203.6" cy="2039.3" r="3" fill="#fff" stroke="#444" stroke-width="1.3"/>
<circle cx="1213.1" cy="2039" r="3" fill="#fff" stroke="#444" stroke-width="1.3"/>
<line x1="1242.5" y1="2019.6" x2="1242.5" y2="2013.6" stroke="#000" stroke-width="1.5"/>
<line x1="1239.3" y1="2013.6" x2="1245.7" y2="2013.6" stroke="#000" stroke-width="1.5"/>
<rect x="1230.2" y="2019.6" width="24.6" height="36.4" fill="#86c3ec" stroke="#1a1a1a" stroke-width="1.7"/>
<circle cx="1242.3" cy="1974.2" r="3" fill="#d3eff7" stroke="#1f3d50" stroke-width="1.3"/>
<circle cx="1238.8" cy="1998.5" r="3" fill="#d3eff7" stroke="#1f3d50" stroke-width="1.3"/>
<circle cx="1245.9" cy="2002" r="3" fill="#d3eff7" stroke="#1f3d50" stroke-width="1.3"/>
<circle cx="1238.8" cy="2006.6" r="3" fill="#d3eff7" stroke="#1f3d50" stroke-width="1.3"/>
<circle cx="1242.3" cy="2015.4" r="3" fill="#d3eff7" stroke="#1f3d50" stroke-width="1.3"/>
<circle cx="1237.1" cy="2022.4" r="3" fill="#d3eff7" stroke="#1f3d50" stroke-width="1.3"/>
<circle cx="1246.9" cy="2022.4" r="3" fill="#d3eff7" stroke="#1f3d50" stroke-width="1.3"/>
<circle cx="1231.8" cy="2030.5" r="3" fill="#d3eff7" stroke="#1f3d50" stroke-width="1.3"/>
<circle cx="1242.3" cy="2030.5" r="3" fill="#d3eff7" stroke="#1f3d50" stroke-width="1.3"/>
<circle cx="1252.9" cy="2030.5" r="3" fill="#d3eff7" stroke="#1f3d50" stroke-width="1.3"/>
<circle cx="1237.1" cy="2039.3" r="3" fill="#d3eff7" stroke="#1f3d50" stroke-width="1.3"/>
<circle cx="1246.9" cy="2039.3" r="3" fill="#d3eff7" stroke="#1f3d50" stroke-width="1.3"/>
<circle cx="1238.8" cy="2044.2" r="3" fill="#d3eff7" stroke="#1f3d50" stroke-width="1.3"/>
<text x="1340" y="1699" font-size="34" font-weight="bold">k</text>
<rect x="1669.2" y="1701.8" width="14.6" height="14.4" fill="#fff" stroke="#111" stroke-width="1.6"/>
<text x="1698.8" y="1718.5" font-size="24">Control</text>
<rect x="1810.6" y="1701.8" width="14.6" height="14.4" fill="#86c3ec" stroke="#111" stroke-width="1.6"/>
<text x="1840.6" y="1718.5" font-size="24">hM4Di</text>
<text x="1449" y="1820" font-size="24" text-anchor="middle">Light-dark</text>
<text x="1449.5" y="1850" font-size="24" text-anchor="middle">exploration test</text>
<rect x="1464.8" y="1873" width="29" height="57" fill="#808080"/>
<rect x="1407.8" y="1873" width="86" height="57" fill="none" stroke="#111" stroke-width="2.2"/>
<line x1="1464.8" y1="1873" x2="1464.8" y2="1930" stroke="#000" stroke-width="2.2"/>
<g transform="translate(1537.7 1878) scale(1)" fill="#bfbfbf"><rect x="-6.3" y="0" width="12.6" height="3" rx="1.2"/><rect x="-4.6" y="2.4" width="9.2" height="6.8"/><path d="M-10 10.6 C-10 8.8 -8.5 8.4 -6.5 8.4 L6.5 8.4 C8.5 8.4 9.8 8.8 9.8 10.6 L8.6 10.6 C8.6 9.9 8 9.7 6.5 9.8 L-6.5 9.8 C-8 9.7 -8.8 9.9 -8.8 10.6 Z"/><path d="M-6.4 8.6 L6.3 8.6 L6.3 33 C6.3 36.5 3.5 38.5 1.8 40.5 L-1.9 40.5 C-3.8 38.5 -6.4 36.5 -6.4 33 Z"/><path d="M-1.9 40 L1.7 40 L0.6 58 L-0.7 58 Z"/></g><g transform="translate(1537.7 1878) scale(1)" fill="#fff"><rect x="-4.3" y="12.0" width="8.3" height="2.9"/><rect x="-4.3" y="19.8" width="8.3" height="2.9"/><rect x="-4.3" y="27.2" width="8.3" height="2.9"/></g>
<line x1="1653" y1="1773.9" x2="1653" y2="2061.8" stroke="#000" stroke-width="1.7"/>
<line x1="1645" y1="2061" x2="1740" y2="2061" stroke="#000" stroke-width="1.7"/>
<line x1="1645" y1="2061" x2="1653" y2="2061" stroke="#000" stroke-width="1.7"/>
<text x="1642.5" y="2069.6" font-size="24" text-anchor="end">0</text>
<line x1="1645" y1="1965.5" x2="1653" y2="1965.5" stroke="#000" stroke-width="1.7"/>
<text x="1642.5" y="1974.1" font-size="24" text-anchor="end">9</text>
<line x1="1645" y1="1869.9" x2="1653" y2="1869.9" stroke="#000" stroke-width="1.7"/>
<text x="1642.5" y="1878.5" font-size="24" text-anchor="end">18</text>
<line x1="1645" y1="1774.4" x2="1653" y2="1774.4" stroke="#000" stroke-width="1.7"/>
<text x="1642.5" y="1783" font-size="24" text-anchor="end">27</text>
<text x="1603.2" y="1918.6" font-size="24" text-anchor="middle" transform="rotate(-90 1603.2 1918.6)">Total distance (m)</text>
<line x1="1679" y1="1871.1" x2="1679" y2="1849.3" stroke="#000" stroke-width="1.5"/>
<line x1="1675.8" y1="1849.3" x2="1682.2" y2="1849.3" stroke="#000" stroke-width="1.5"/>
<rect x="1666.7" y="1871.1" width="24.6" height="189.9" fill="#fff" stroke="#1a1a1a" stroke-width="1.7"/>
<circle cx="1678.8" cy="1782.1" r="3" fill="#fff" stroke="#444" stroke-width="1.3"/>
<circle cx="1678.8" cy="1790.2" r="3" fill="#fff" stroke="#444" stroke-width="1.3"/>
<circle cx="1678.8" cy="1817.6" r="3" fill="#fff" stroke="#444" stroke-width="1.3"/>
<circle cx="1678.8" cy="1872.5" r="3" fill="#fff" stroke="#444" stroke-width="1.3"/>
<circle cx="1672.4" cy="1878.9" r="3" fill="#fff" stroke="#444" stroke-width="1.3"/>
<circle cx="1685.1" cy="1884.1" r="3" fill="#fff" stroke="#444" stroke-width="1.3"/>
<circle cx="1678.8" cy="1898.2" r="3" fill="#fff" stroke="#444" stroke-width="1.3"/>
<circle cx="1678.8" cy="1923.9" r="3" fill="#fff" stroke="#444" stroke-width="1.3"/>
<circle cx="1678.8" cy="1987.9" r="3" fill="#fff" stroke="#444" stroke-width="1.3"/>
<line x1="1713" y1="1869.7" x2="1713" y2="1854.6" stroke="#000" stroke-width="1.5"/>
<line x1="1709.8" y1="1854.6" x2="1716.2" y2="1854.6" stroke="#000" stroke-width="1.5"/>
<rect x="1700.7" y="1869.7" width="24.6" height="191.3" fill="#86c3ec" stroke="#1a1a1a" stroke-width="1.7"/>
<circle cx="1712.9" cy="1800" r="3" fill="#d3eff7" stroke="#1f3d50" stroke-width="1.3"/>
<circle cx="1706.9" cy="1813.1" r="3" fill="#d3eff7" stroke="#1f3d50" stroke-width="1.3"/>
<circle cx="1718.9" cy="1809.5" r="3" fill="#d3eff7" stroke="#1f3d50" stroke-width="1.3"/>
<circle cx="1712.9" cy="1819.4" r="3" fill="#d3eff7" stroke="#1f3d50" stroke-width="1.3"/>
<circle cx="1712.9" cy="1828.9" r="3" fill="#d3eff7" stroke="#1f3d50" stroke-width="1.3"/>
<circle cx="1712.9" cy="1864.1" r="3" fill="#d3eff7" stroke="#1f3d50" stroke-width="1.3"/>
<circle cx="1712.9" cy="1871.1" r="3" fill="#d3eff7" stroke="#1f3d50" stroke-width="1.3"/>
<circle cx="1712.9" cy="1877.1" r="3" fill="#d3eff7" stroke="#1f3d50" stroke-width="1.3"/>
<circle cx="1712.9" cy="1894.7" r="3" fill="#d3eff7" stroke="#1f3d50" stroke-width="1.3"/>
<circle cx="1712.9" cy="1901" r="3" fill="#d3eff7" stroke="#1f3d50" stroke-width="1.3"/>
<circle cx="1706.9" cy="1926.7" r="3" fill="#d3eff7" stroke="#1f3d50" stroke-width="1.3"/>
<circle cx="1718.9" cy="1931.3" r="3" fill="#d3eff7" stroke="#1f3d50" stroke-width="1.3"/>
<circle cx="1712.9" cy="1959.4" r="3" fill="#d3eff7" stroke="#1f3d50" stroke-width="1.3"/>
<line x1="1880" y1="1769.3" x2="1880" y2="2057.8" stroke="#000" stroke-width="1.7"/>
<line x1="1872" y1="2057" x2="1967" y2="2057" stroke="#000" stroke-width="1.7"/>
<line x1="1872" y1="2057" x2="1880" y2="2057" stroke="#000" stroke-width="1.7"/>
<text x="1868.8" y="2065.6" font-size="24" text-anchor="end">0</text>
<line x1="1872" y1="1985.2" x2="1880" y2="1985.2" stroke="#000" stroke-width="1.7"/>
<text x="1868.8" y="1993.8" font-size="24" text-anchor="end">25</text>
<line x1="1872" y1="1913.4" x2="1880" y2="1913.4" stroke="#000" stroke-width="1.7"/>
<text x="1868.8" y="1922" font-size="24" text-anchor="end">50</text>
<line x1="1872" y1="1841.6" x2="1880" y2="1841.6" stroke="#000" stroke-width="1.7"/>
<text x="1868.8" y="1850.2" font-size="24" text-anchor="end">75</text>
<line x1="1872" y1="1769.8" x2="1880" y2="1769.8" stroke="#000" stroke-width="1.7"/>
<text x="1868.8" y="1778.4" font-size="24" text-anchor="end">100</text>
<text x="1818.2" y="1913" font-size="24" text-anchor="middle" transform="rotate(-90 1818.2 1913)">Dark compartment time (%)</text>
<line x1="1906" y1="1914" x2="1906" y2="1884.1" stroke="#000" stroke-width="1.5"/>
<line x1="1902.8" y1="1884.1" x2="1909.2" y2="1884.1" stroke="#000" stroke-width="1.5"/>
<rect x="1893.7" y="1914" width="24.6" height="143" fill="#fff" stroke="#1a1a1a" stroke-width="1.7"/>
<circle cx="1905.7" cy="1790.9" r="3" fill="#fff" stroke="#444" stroke-width="1.3"/>
<circle cx="1905.7" cy="1822.6" r="3" fill="#fff" stroke="#444" stroke-width="1.3"/>
<circle cx="1905.7" cy="1850" r="3" fill="#fff" stroke="#444" stroke-width="1.3"/>
<circle cx="1900.1" cy="1903.5" r="3" fill="#fff" stroke="#444" stroke-width="1.3"/>
<circle cx="1911.7" cy="1900.3" r="3" fill="#fff" stroke="#444" stroke-width="1.3"/>
<circle cx="1911.7" cy="1908.8" r="3" fill="#fff" stroke="#444" stroke-width="1.3"/>
<circle cx="1905.7" cy="1979.5" r="3" fill="#fff" stroke="#444" stroke-width="1.3"/>
<circle cx="1905.7" cy="2006.6" r="3" fill="#fff" stroke="#444" stroke-width="1.3"/>
<circle cx="1905.7" cy="2056.9" r="3" fill="#fff" stroke="#444" stroke-width="1.3"/>
<line x1="1940" y1="1910.5" x2="1940" y2="1886.2" stroke="#000" stroke-width="1.5"/>
<line x1="1936.8" y1="1886.2" x2="1943.2" y2="1886.2" stroke="#000" stroke-width="1.5"/>
<rect x="1927.7" y="1910.5" width="24.6" height="146.5" fill="#86c3ec" stroke="#1a1a1a" stroke-width="1.7"/>
<circle cx="1939.8" cy="1824.3" r="3" fill="#d3eff7" stroke="#1f3d50" stroke-width="1.3"/>
<circle cx="1939.8" cy="1834.9" r="3" fill="#d3eff7" stroke="#1f3d50" stroke-width="1.3"/>
<circle cx="1933.5" cy="1843" r="3" fill="#d3eff7" stroke="#1f3d50" stroke-width="1.3"/>
<circle cx="1945.8" cy="1842.3" r="3" fill="#d3eff7" stroke="#1f3d50" stroke-width="1.3"/>
<circle cx="1939.8" cy="1852.5" r="3" fill="#d3eff7" stroke="#1f3d50" stroke-width="1.3"/>
<circle cx="1939.8" cy="1872.9" r="3" fill="#d3eff7" stroke="#1f3d50" stroke-width="1.3"/>
<circle cx="1939.8" cy="1886.2" r="3" fill="#d3eff7" stroke="#1f3d50" stroke-width="1.3"/>
<circle cx="1939.8" cy="1895" r="3" fill="#d3eff7" stroke="#1f3d50" stroke-width="1.3"/>
<circle cx="1933.9" cy="1911.6" r="3" fill="#d3eff7" stroke="#1f3d50" stroke-width="1.3"/>
<circle cx="1945.8" cy="1915.1" r="3" fill="#d3eff7" stroke="#1f3d50" stroke-width="1.3"/>
<circle cx="1939.8" cy="2038.3" r="3" fill="#d3eff7" stroke="#1f3d50" stroke-width="1.3"/>
<circle cx="1945.8" cy="2053.4" r="3" fill="#d3eff7" stroke="#1f3d50" stroke-width="1.3"/>
<circle cx="1933.9" cy="2056.9" r="3" fill="#d3eff7" stroke="#1f3d50" stroke-width="1.3"/>
</g>
</svg>
</body></html>
